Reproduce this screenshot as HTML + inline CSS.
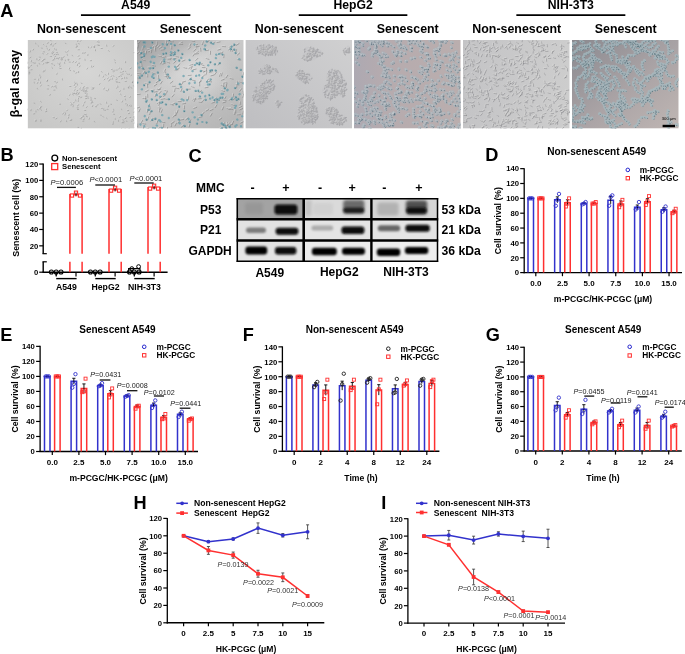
<!DOCTYPE html>
<html><head><meta charset="utf-8"><style>
html,body{margin:0;padding:0;background:#fff;overflow:hidden;}
svg{display:block;filter:blur(0.3px);}
text{font-family:"Liberation Sans",sans-serif;}
</style></head><body>
<svg width="685" height="654" viewBox="0 0 685 654">
<defs>
<radialGradient id="g1" cx="0.55" cy="0.35" r="0.75"><stop offset="0" stop-color="#d6d6d5"/><stop offset="1" stop-color="#c8c8c7"/></radialGradient>
<linearGradient id="g2" x1="0" y1="0" x2="0.8" y2="1"><stop offset="0" stop-color="#9c9c9d"/><stop offset="0.42" stop-color="#cbcbcb"/><stop offset="1" stop-color="#b6b6b6"/></linearGradient><radialGradient id="g2h" cx="0.55" cy="0.4" r="0.35"><stop offset="0" stop-color="#e2e2e2" stop-opacity="0.7"/><stop offset="1" stop-color="#e2e2e2" stop-opacity="0"/></radialGradient>
<linearGradient id="g3" x1="1" y1="0" x2="0" y2="1"><stop offset="0" stop-color="#d0d0d1"/><stop offset="1" stop-color="#bebec1"/></linearGradient>
<linearGradient id="g4" x1="0" y1="0" x2="1" y2="0"><stop offset="0" stop-color="#ada9b2"/><stop offset="0.3" stop-color="#b6abae"/><stop offset="1" stop-color="#baaeae"/></linearGradient>
<linearGradient id="g5" x1="0" y1="0" x2="1" y2="0"><stop offset="0" stop-color="#c4c4c6"/><stop offset="1" stop-color="#cdcdcd"/></linearGradient>
<linearGradient id="g6" x1="0" y1="0" x2="1" y2="1"><stop offset="0" stop-color="#8a898f"/><stop offset="0.55" stop-color="#aba4a6"/><stop offset="1" stop-color="#bfb6b3"/></linearGradient>
<clipPath id="cp"><rect x="0" y="0" width="106.7" height="88.6"/></clipPath>
</defs>
<g transform="translate(27.6,40)" clip-path="url(#cp)"><rect width="106.7" height="88.6" fill="url(#g1)"/><path d="M50 87l1.1 0.5M50.2 50.4l-1.1 0.6M23.5 4.2l-0.9 0.8M80.8 10.4l0.8 0.9M28.2 45.6l0 1.2M23.6 3.6l0.2 1.2M91.9 27.9l-0.6 1.1M16.3 23.5l-0.9 0.7M-10.2 13.5l1.1 0.3M1.1 32.6l1.2 0.1M25 46.4l-1 0.6M49.5 43.9l0.3 1.2M59.9 54l-0.9 0.8M42.1 46.5l1.2 0M97.6 88.7l0.2 1.2M20.2 13.5l-0.8 0.9M87.2 22.1l0.9 0.8M85.1 29.3l-1.2 0.2M28.1 16.6l-1.1 0.4M26.1 50l1.2 0.1M88.4 29.9l1.2 0.1M64.1 25.8l-0.2 1.2M95.5 34l-1.2 0.2M39.4 14.1l0.4 1.1M9.5 69.2l0.9 0.8M78.9 5l0.3 1.2M109.8 88l1.2 0.1M56.5 73.7l0.9 0.8M115.4 85.6l0.2 1.2M51 31.4l0 1.2M108 42.2l0.9 0.8M88.6 37.5l0.9 0.8M37 72.3l0.9 0.8M78.9 62.1l0.2 1.2M97.6 31l0.7 0.9M59.3 47.9l1.2 0.1M93 50.8l-1 0.6M19.8 21.9l-0.2 1.2M47.1 44.5l-0.5 1.1M77.5 34.4l1 0.7M99.5 90.3l-1.2 0M54.2 57.1l-1.1 0.5M66.8 58.2l1.1 0.4M93.6 68.8l0.6 1M45.9 52.2l-0.8 0.9M59.6 66.6l-0.7 0.9M42 74.9l-1.2 0.2M107.5 91.2l0.3 1.2M98.4 78l-1 0.6M111.9 86l-0.6 1M62.1 -2.4l0.7 1M107.1 82.3l-0.3 1.2M14.2 66.7l-1.1 0.4M27.3 14.4l-1.1 0.6M48.6 6.4l0 1.2M99.9 64.6l-0.3 1.2M64.2 49l1.2 0.1M18.4 21.8l0.9 0.8M26.2 12.5l-1 0.7M36.8 22.2l0.3 1.2M37.6 11.6l1 0.6M12.8 67.1l-0.2 1.2M92.9 76.4l-0.7 1M107 78.4l-0.6 1M53.5 88.1l0.5 1.1M-1.5 14l0.2 1.2M84.6 38.2l0 1.2M42.6 54.6l-0.9 0.8M85.4 83.4l-0.1 1.2M37.5 19.8l0.4 1.1M85.5 81.6l0 1.2M83.4 -1.6l1.2 0.1M57 70.3l1.2 0.2M86.8 30.9l-0.7 1M43.7 80.2l-1.2 0.1M51 58.1l-0.3 1.1M102 46l0.4 1.1M14.8 13.2l1 0.6M80.9 33.1l0 1.2M47.6 53.3l-1.2 0.1M47.7 49.5l-0.9 0.8M60.3 14.3l-0.1 1.2M49.3 32.6l-1.1 0.5M92.7 53.9l0.9 0.8M76.1 68.6l-0.1 1.2M7.2 73.7l-1.2 0.2M32.4 22.8l-0.3 1.2M9.1 18.6l0.2 1.2M53 49.6l0.8 0.9M13.1 36.8l-0.2 1.2M70.7 4.6l-1.2 0.2M51.2 56.6l1.2 0M52.9 48l-0.9 0.8M3.3 17.2l-1 0.6M29.6 14.3l-1.1 0.4M64.3 61.7l-0.8 0.9M46.9 53l-1 0.7M13 42l-0.1 1.2M66.2 47.4l-0.2 1.2M57.2 19.1l0.3 1.2M40.1 19.2l1.2 0.2M86.3 30.3l-1.1 0.5M85.6 70.9l-0.3 1.2M12.9 69.5l1 0.7M97 37.1l0 1.2M-6.2 38.7l0.1 1.2M33.1 19l0.5 1.1M24.1 12.8l0.6 1.1M71.7 34.9l-0.1 1.2M36.8 -1.4l-0.5 1.1M57.5 51l-0.4 1.1M101.5 88.5l0.2 1.2M16.2 19.1l1.2 0.1M10.1 5.4l0.9 0.8M49.1 67.8l1 0.6M41.1 77l-0.3 1.2M67.3 6l-1.1 0.5M20.2 40.2l-1 0.7M29.4 17.9l-1 0.7M12.2 19.5l-1 0.7M75.1 76.2l0.8 0.9M16.4 19.7l-1.1 0.6M19.5 -3.4l-0.6 1M79.2 69.1l1.2 0.3M43 79.8l1.2 0.1M73.9 68.3l1.2 0.1M44.1 64l-0.9 0.8M15.5 4.1l0.8 0.8M105.5 80.1l1.1 0.4M114.6 82.6l-0.5 1.1M26.7 8.3l0.6 1.1M62.7 58.9l1.2 0.3M94.8 79.6l1.1 0.6M19.7 40.3l-0.1 1.2M99.1 33.6l1 0.6M104.7 94.5l0.8 0.9M46.6 62.1l-0.7 0.9M10.9 39.1l0.2 1.2M40.3 19.7l0.6 1M1.4 32.8l0.1 1.2M57.6 53.2l1.2 0.1M47.9 59.8l0.4 1.1M48.4 3.8l0.3 1.2M64.3 47.4l1 0.7M102.1 77.2l1.1 0.4M102 73.2l-1.1 0.4M32 24.1l0 1.2M7.7 80.2l1 0.7M55.9 64.9l-0.4 1.1M30 42.2l-1 0.7M70.5 2l1.2 0.1M55 81l1.2 0.1M72.7 74.8l1.1 0.5M40 70l-0.8 0.9M57.7 -1.5l1.1 0.6M102.4 64.9l-0.7 1M13.7 45.1l-0.6 1M55.4 12.4l-0.2 1.2M73.6 31.3l0.9 0.8M21.2 22.4l-1.2 0.1M98.5 77.9l-1 0.7M105.1 41.3l-0.1 1.2M105.6 45.5l0.9 0.8M58.9 49.9l-0.5 1.1M49.4 5.6l0.4 1.1M55.5 47.7l-0.3 1.2M9.4 48l0.6 1M82.6 39.2l-0.5 1.1M22.7 16.3l1.2 0.2M85.6 68.9l0.7 1M4.4 29.7l-1.2 0.1M20.8 2.8l-1.1 0.5M58.7 50.6l0.7 1M1.9 27.6l-1.1 0.5M64.4 61.4l0.7 1M101 70.5l-1.2 0.2M53.4 0.6l-0.8 0.9M34.6 38.8l0.3 1.2M37.6 2.9l0.8 0.9M32.3 28.5l1.2 0M96 31.4l-1.1 0.4M65.9 6.7l1.2 0.1M4 25.4l-1 0.6M58.6 74.4l-1.2 0.1M17.4 30.1l-0.3 1.2M86.5 19.6l1 0.6M0.2 23.1l-1.1 0.5M-7.1 22.3l-1.2 0.1M52.5 25.9l-0.7 1M25.4 5l0 1.2M93.6 28.3l0.4 1.1M56.3 49.6l0.6 1.1M42 29.9l1 0.7M72.4 43.6l-0.6 1M99 37.3l0.3 1.2M106.6 68.1l1 0.7M85.8 74l1.1 0.4M102.8 56.6l-0.6 1M85.7 35.5l0.7 1M98 21.5l0 1.2M30.2 23l0.6 1M-2.1 40.3l-1.1 0.5M51.2 64.9l-1.1 0.4M67.8 66.6l1.2 0.1M55.1 75.4l1 0.7M33.4 17.3l0.6 1M108.3 96.6l-1.2 0M64.2 6.9l-0.9 0.8M111.1 72l0.6 1M58.6 75.6l0.9 0.7M27 18.4l-0.6 1M49.5 52.6l-1 0.6M70.5 64.8l-1.2 0.3M55 50.1l0.6 1.1M83.6 -1.8l-1.1 0.4M48.7 21.7l-0.7 1M1.3 30.9l0.1 1.2M-8.5 18.1l-1.2 0.1M28.3 47.3l0.9 0.8M105.3 78.9l-0.8 0.9M15.7 11.6l1.2 0.3M88.7 59.8l1 0.6M56.9 79l-1.2 0.3M49.7 66.7l0.9 0.7M40.8 10.9l-0.9 0.8M42.1 27.9l-0.4 1.1M103.7 28.1l-1.1 0.6M46.1 30.6l0.5 1.1M60.5 6.7l0.6 1.1M19.4 8.3l0.7 1M70.7 1.2l-1.1 0.5M75.9 36.1l-0.4 1.1M115.1 76l-1.2 0.2M23 54.7l-1.1 0.4M29.7 18.4l1.1 0.5M81 49l-0.2 1.2M12.6 79.7l1.1 0.4M95.1 82.6l1.2 0.1M23.8 23.6l1.2 0.3M28.3 3.4l-1.1 0.5M104.2 34.9l-0.9 0.7M86.5 5.7l-1 0.6M112.6 79l0.6 1.1M57.4 61.8l-0.4 1.1M77.4 39.1l-0.9 0.8M47 42l0.4 1.1M2.9 10.8l-0.3 1.2M47.8 53.7l0.9 0.8M52.6 78.5l1.2 0.3M-1 21.4l0.8 0.9M106.9 76.6l-1.1 0.4M50.3 0.6l-0.2 1.2M19.2 71.4l-1.2 0.3M8.2 70.8l0.2 1.2M107.3 77.3l0.8 0.9M80.8 38l-0.9 0.7M29.3 78.3l-1 0.6M97.6 41.4l1.2 0M60 28.1l-0.6 1M100.9 34l1.2 0.3M20.2 45.3l1.1 0.4M57.8 12.7l-1.1 0.4M19.6 48.8l1.2 0.2M89.8 46l0.9 0.8M107.5 12.6l-1.2 0M90.6 80.1l0.3 1.2M33.9 19.3l1.1 0.4M55.4 76.1l1 0.6M24.2 27.5l0.9 0.8M109.7 87.2l-0.8 0.9M76.8 69.9l1.1 0.4M49.7 53l-1.2 0.3M97.5 58.8l0.4 1.1M58.8 55.7l-1.2 0.1M92.2 36.4l-1.2 0.3M115.2 94.2l0.7 1M42.9 62.4l0.8 0.9M96.2 48.2l0.1 1.2M11.6 16.8l1.1 0.4M111.3 84.7l-0.6 1.1M25.6 77.6l1.2 0.1M50.5 9.7l1.2 0M59.1 58.5l-1.2 0.1M93.9 88.4l0.7 1M25.3 11.2l-0.4 1.1M12.1 34.8l0.2 1.2M62.9 56.9l0.7 1M41.4 21.9l1.2 0.2M89.2 39.6l-1.2 0.3M51 69.4l-1.2 0.1M108.2 93.8l-1.2 0.1M13.6 7.8l1.1 0.4M104.2 41.9l0.9 0.8M76.7 48.1l-0.4 1.1M21.5 -3.2l-1.2 0.1M3.9 20.6l-0.2 1.2M45.9 21.4l-0.7 1M6 9.2l-0.6 1M22.8 0l0.8 0.9M61.7 78.1l-0.2 1.2M44.3 14.9l0.7 1M12.8 61.2l0.9 0.8M91 42.2l1.2 0.3M39.7 58.5l0.8 0.9M63.9 20.6l-1.2 0.1M7.2 22.3l0.2 1.2M51.6 52.5l-0.6 1.1M8.5 80.2l-0.5 1.1M106.1 93.2l-1.2 0.2M9.4 25l0.4 1.1M26.2 24.6l0.7 1M11.3 23.1l0.6 1M66.4 81l0.7 1M56.8 46.7l-1.1 0.6M51.6 15.8l-1.1 0.4M57.2 49.8l0.7 1M30.2 13.8l0.6 1M19 68.8l-0.2 1.2M81.1 65.6l-0.3 1.2M107.8 76.9l-0.4 1.1M44.7 54.2l0.9 0.8M113.6 87.4l1.2 0.1M95.7 91l0.9 0.8M97.8 63.7l1.2 0.3M45.6 65.6l-0.2 1.2M27 41.6l1.2 0.3M-1.8 11.3l1.2 0.3M10.3 42.3l-0.5 1.1M55.3 50.3l0.7 1M36.6 16.7l-1 0.7M0.6 26.8l0 1.2M55 77l-1.1 0.5M6.1 62.8l1.1 0.6M103.4 65.3l0 1.2M36 73.3l-1 0.7M6.5 39l1.2 0.3M59.3 56.4l-1.2 0.2M72.4 63.6l1 0.6M66.2 26.2l-0.9 0.8M71.9 5.4l-1.2 0.1M64.5 62.7l-1 0.6M103.5 47.3l0.6 1M78.5 50.4l1.1 0.4M94.7 81.6l-0.1 1.2M26.3 19.9l-1.2 0.3M100.1 46.7l0.7 1M52.5 18.5l-1.1 0.4M82.9 63.9l1.1 0.5M29.8 12.5l-1.2 0.3M17.8 22.7l1.2 0.1M98.6 80.6l0.7 1M45.2 64.6l-1.1 0.4M107.9 86.9l-1 0.7M96.5 81.7l-1.1 0.3M27.3 46.1l-1.1 0.6M59.5 47.3l-0.8 0.9M50.8 53.9l-0.7 1M59.7 57.7l1 0.6M100.8 47l0.3 1.2M88.2 41.6l1.1 0.6M84 35.9l-0.7 0.9M89.7 47.2l-0.6 1M58.7 76l0.8 0.9M63.1 60.2l1.2 0.2M49.1 43.2l-1.2 0.1M109.5 74.3l-1 0.7M3.5 69.5l-0.2 1.2M106.6 71.4l-0.2 1.2M56.3 49l-1.1 0.5M50.5 60.2l0.2 1.2M107 94.3l0.4 1.1M107.2 81.7l0.6 1M53.6 42.8l0.8 0.9M50.8 23.1l1.2 0.1M33.5 80.8l-0.5 1.1M13 80.4l0.3 1.2M29.5 33.2l-0.3 1.2M31.8 64l1.2 0.2M7.8 2.9l0.5 1.1M50.6 3.4l1.1 0.5M5.2 22.4l1.1 0.5M66.2 6.8l0.8 0.9M48.5 46.7l-1 0.6M6.3 41.9l0.4 1.1M38.7 80.6l0.4 1.1M65.2 65.5l-0.4 1.1M59.9 56.1l0.9 0.8M73.5 8.5l1.2 0M49.9 24.3l-0.1 1.2M34.3 17.4l0 1.2M95 61l-0.5 1.1M28.4 9l0.2 1.2M-1.4 10.6l-0.7 1M12.6 68.2l-0.8 0.9M57.5 51.8l0.9 0.8M56.7 -2l0 1.2M67.8 9.6l0.1 1.2M78.6 77.7l0.9 0.8M87.4 78.2l0.3 1.2M37.6 73.8l-0.2 1.2M98 56.2l-1.1 0.3M97.5 90.6l-1.2 0.3M103.5 80.7l0.8 0.9M21.9 9.3l-0.5 1.1M110.5 82.1l1.2 0.2M88.8 41.6l1.2 0.3M15.6 30.8l0 1.2M68.1 -3.9l-1.1 0.5M92.6 32.1l1.1 0.6M81.8 40.2l-0.9 0.8M32.1 17.7l-1.1 0.4M93 35.2l0.7 1M55.7 -4.4l-0.7 1M26.7 -3.5l-1.1 0.5M18.4 5.8l0.5 1.1M32.8 26.1l-0.7 1M108.7 80.7l-0.8 0.9M-0.1 69.1l-0.4 1.1M15.4 20.8l-1.1 0.5M94.9 38.5l-1.1 0.4" stroke="#8c8c8c" stroke-width="0.9" stroke-linecap="round" fill="none" stroke-opacity="0.6"/><path d="M49.3 86.3l0.9 0.4M49.4 49.7l-0.9 0.5M22.7 3.5l-0.7 0.7M80.2 9.7l0.7 0.7M27.5 45l0 1M22.9 3l0.2 1M91.2 27.3l-0.5 0.9M15.5 22.9l-0.8 0.6M-10.8 12.8l1 0.3M0.5 32l1 0.1M24.2 45.7l-0.9 0.5M48.8 43.3l0.2 1M59.1 53.3l-0.7 0.7M41.5 45.8l1 0M97 88.1l0.2 1M19.5 12.9l-0.6 0.8M86.5 21.4l0.8 0.7M84.3 28.6l-1 0.2M27.3 15.9l-1 0.3M25.5 49.3l1 0.1M87.8 29.2l1 0.1M63.4 25.2l-0.1 1M94.7 33.3l-1 0.2M38.7 13.5l0.4 0.9M8.9 68.5l0.8 0.6M78.2 4.4l0.2 1M109.2 87.3l1 0.1M55.9 73l0.8 0.6M114.7 85l0.2 1M50.3 30.8l0 1M107.4 41.6l0.7 0.7M87.9 36.9l0.7 0.7M36.4 71.6l0.8 0.6M78.2 61.5l0.1 1M97 30.4l0.6 0.8M58.7 47.2l1 0.1M92.2 50.2l-0.9 0.5M19.1 21.3l-0.2 1M46.4 43.9l-0.4 0.9M76.9 33.8l0.8 0.6M98.7 89.6l-1 0M53.4 56.5l-0.9 0.4M66.2 57.5l0.9 0.4M93 68.2l0.5 0.9M45.2 51.5l-0.6 0.8M58.8 65.9l-0.6 0.8M41.2 74.2l-1 0.2M106.8 90.6l0.2 1M97.6 77.4l-0.9 0.5M111.2 85.3l-0.5 0.9M61.5 -3l0.6 0.8M106.3 81.7l-0.3 1M13.4 66l-0.9 0.4M26.5 13.7l-0.9 0.5M47.9 5.8l0 1M99.2 64l-0.3 1M63.6 48.3l1 0.1M17.8 21.2l0.7 0.7M25.4 11.8l-0.8 0.6M36.1 21.6l0.3 1M37 10.9l0.9 0.5M12.1 66.5l-0.2 1M92.2 75.7l-0.6 0.8M106.3 77.8l-0.5 0.9M52.9 87.5l0.4 0.9M-2.1 13.4l0.2 1M83.9 37.6l0 1M41.8 54l-0.8 0.6M84.7 82.8l-0.1 1M36.9 19.2l0.3 0.9M84.8 81l0 1M82.8 -2.3l1 0.1M56.4 69.6l1 0.1M86.1 30.3l-0.6 0.8M42.9 79.5l-1 0.1M50.3 57.5l-0.3 1M101.3 45.4l0.3 0.9M14.2 12.6l0.9 0.5M80.2 32.5l0 1M46.8 52.6l-1 0.1M46.9 48.8l-0.8 0.7M59.6 13.7l-0.1 1M48.5 31.9l-0.9 0.4M92.1 53.3l0.7 0.7M75.4 68l0 1M6.4 73l-1 0.1M31.7 22.2l-0.2 1M8.4 18l0.1 1M52.4 49l0.7 0.7M12.4 36.2l-0.2 1M69.9 3.9l-1 0.1M50.6 55.9l1 0M52.2 47.4l-0.8 0.6M2.5 16.6l-0.8 0.5M28.8 13.7l-0.9 0.4M63.5 61l-0.7 0.7M46.1 52.4l-0.8 0.6M12.3 41.4l-0.1 1M65.5 46.8l-0.2 1M56.5 18.5l0.2 1M39.5 18.5l1 0.2M85.5 29.6l-0.9 0.4M84.8 70.3l-0.2 1M12.3 68.8l0.8 0.6M96.3 36.5l0 1M-6.9 38.1l0 1M32.4 18.4l0.4 0.9M23.5 12.2l0.5 0.9M71 34.3l-0.1 1M36 -2.1l-0.4 0.9M56.8 50.4l-0.3 0.9M100.8 87.9l0.1 1M15.6 18.4l1 0.1M9.4 4.8l0.8 0.7M48.5 67.1l0.8 0.5M40.4 76.4l-0.3 1M66.5 5.4l-0.9 0.4M19.4 39.6l-0.8 0.6M28.6 17.3l-0.8 0.6M11.4 18.8l-0.8 0.5M74.5 75.6l0.7 0.7M15.6 19.1l-0.9 0.5M18.8 -4l-0.5 0.9M78.6 68.5l1 0.3M42.4 79.1l1 0.1M73.3 67.6l1 0M43.3 63.3l-0.7 0.7M14.9 3.5l0.7 0.7M104.9 79.5l0.9 0.3M113.8 82l-0.4 0.9M26 7.7l0.5 0.9M62.1 58.2l1 0.2M94.2 78.9l0.9 0.5M19 39.7l-0.1 1M98.5 32.9l0.9 0.5M104.1 93.9l0.7 0.8M45.8 61.5l-0.6 0.8M10.2 38.5l0.1 1M39.6 19.1l0.5 0.8M0.7 32.2l0.1 1M57 52.5l1 0.1M47.2 59.2l0.3 0.9M47.7 3.2l0.2 1M63.6 46.8l0.8 0.6M101.5 76.5l0.9 0.3M101.2 72.5l-1 0.3M31.3 23.5l0 1M7.1 79.6l0.8 0.6M55.1 64.3l-0.3 0.9M29.2 41.6l-0.8 0.5M69.9 1.4l1 0.1M54.4 80.3l1 0.1M72.1 74.2l0.9 0.4M39.2 69.3l-0.6 0.8M57.1 -2.2l0.9 0.5M101.6 64.3l-0.6 0.8M13 44.5l-0.5 0.8M54.6 11.8l-0.1 1M73 30.6l0.8 0.6M20.4 21.7l-1 0.1M97.8 77.2l-0.8 0.6M104.4 40.7l-0.1 1M104.9 44.8l0.8 0.6M58.2 49.2l-0.4 0.9M48.8 5l0.3 0.9M54.8 47.1l-0.2 1M8.8 47.4l0.5 0.8M81.9 38.6l-0.4 0.9M22.1 15.6l1 0.2M85 68.3l0.6 0.8M3.6 29l-1 0.1M20 2.1l-0.9 0.4M58 50l0.6 0.8M1.1 26.9l-0.9 0.4M63.8 60.8l0.6 0.8M100.2 69.8l-1 0.2M52.6 0l-0.7 0.7M33.9 38.2l0.3 1M36.9 2.2l0.7 0.7M31.7 27.8l1 0M95.2 30.8l-0.9 0.4M65.3 6.1l1 0.1M3.2 24.7l-0.8 0.5M57.8 73.7l-1 0.1M16.6 29.5l-0.2 1M85.8 19l0.9 0.5M-0.6 22.4l-0.9 0.4M-7.9 21.6l-1 0.1M51.7 25.3l-0.6 0.8M24.7 4.4l0 1M92.9 27.7l0.4 0.9M55.6 49l0.5 0.9M41.3 29.3l0.8 0.6M71.7 43l-0.5 0.9M98.3 36.7l0.2 1M106 67.5l0.8 0.6M85.2 73.4l0.9 0.3M102.1 55.9l-0.5 0.9M85.1 34.9l0.6 0.8M97.3 20.9l0 1M29.5 22.3l0.5 0.9M-2.9 39.6l-0.9 0.4M50.4 64.2l-1 0.3M67.2 65.9l1 0.1M54.5 74.7l0.8 0.6M32.7 16.7l0.5 0.9M107.5 95.9l-1 0M63.4 6.3l-0.8 0.6M110.4 71.4l0.5 0.9M58 75l0.8 0.6M26.2 17.8l-0.5 0.9M48.7 51.9l-0.9 0.5M69.7 64.2l-1 0.2M54.3 49.5l0.5 0.9M82.8 -2.4l-0.9 0.4M47.9 21.1l-0.6 0.8M0.6 30.3l0 1M-9.3 17.4l-1 0M27.7 46.7l0.7 0.7M104.6 78.2l-0.7 0.8M15.1 10.9l1 0.3M88.1 59.2l0.9 0.5M56.1 78.3l-1 0.3M49.1 66.1l0.8 0.6M40 10.2l-0.7 0.7M41.4 27.3l-0.3 1M102.9 27.4l-0.9 0.5M45.4 30l0.4 0.9M59.8 6.1l0.5 0.9M18.7 7.7l0.6 0.8M69.9 0.5l-0.9 0.4M75.2 35.5l-0.3 0.9M114.3 75.3l-1 0.1M22.2 54.1l-0.9 0.3M29.1 17.7l0.9 0.4M80.3 48.4l-0.2 1M12 79l0.9 0.3M94.5 81.9l1 0.1M23.2 22.9l1 0.2M27.5 2.7l-0.9 0.4M103.5 34.3l-0.8 0.6M85.7 5l-0.9 0.5M112 78.3l0.5 0.9M56.6 61.2l-0.4 0.9M76.6 38.4l-0.8 0.6M46.4 41.3l0.4 0.9M2.2 10.2l-0.2 1M47.2 53.1l0.8 0.6M52 77.8l1 0.3M-1.7 20.8l0.7 0.7M106.1 75.9l-0.9 0.3M49.6 0l-0.2 1M18.4 70.7l-1 0.2M7.5 70.2l0.1 1M106.7 76.7l0.6 0.8M80 37.3l-0.8 0.6M28.5 77.6l-0.9 0.5M97 40.7l1 0M59.3 27.4l-0.5 0.9M100.3 33.3l1 0.3M19.6 44.6l0.9 0.4M57 12l-0.9 0.4M19 48.1l1 0.1M89.2 45.4l0.7 0.7M106.7 11.9l-1 0M89.9 79.5l0.2 1M33.3 18.7l0.9 0.4M54.8 75.5l0.9 0.5M23.6 26.9l0.7 0.7M109 86.6l-0.7 0.7M76.2 69.3l0.9 0.3M48.9 52.4l-1 0.3M96.8 58.1l0.4 0.9M58 55l-1 0.1M91.4 35.7l-1 0.3M114.5 93.6l0.6 0.8M42.2 61.8l0.7 0.7M95.5 47.6l0.1 1M11 16.1l1 0.3M110.6 84.1l-0.5 0.9M25 76.9l1 0.1M49.9 9l1 0M58.3 57.8l-1 0.1M93.2 87.8l0.6 0.8M24.6 10.6l-0.3 1M11.4 34.2l0.2 1M62.3 56.2l0.6 0.8M40.8 21.2l1 0.2M88.4 39l-1 0.3M50.2 68.7l-1 0.1M107.4 93.1l-1 0.1M13 7.1l0.9 0.3M103.5 41.2l0.8 0.6M75.9 47.5l-0.4 0.9M20.7 -3.9l-1 0.1M3.1 20l-0.1 1M45.2 20.8l-0.6 0.8M5.2 8.6l-0.5 0.9M22.2 -0.6l0.7 0.7M61 77.5l-0.1 1M43.7 14.2l0.6 0.8M12.2 60.5l0.7 0.7M90.4 41.6l1 0.3M39.1 57.9l0.6 0.8M63.1 19.9l-1 0.1M6.5 21.7l0.2 1M50.8 51.9l-0.5 0.9M7.7 79.6l-0.4 0.9M105.3 92.5l-1 0.2M8.8 24.4l0.3 0.9M25.6 24l0.6 0.8M10.6 22.5l0.5 0.9M65.7 80.4l0.5 0.8M56 46.1l-0.9 0.5M50.8 15.1l-0.9 0.3M56.5 49.2l0.6 0.8M29.6 13.2l0.5 0.9M18.3 68.2l-0.1 1M80.4 65l-0.2 1M107 76.3l-0.3 1M44 53.6l0.7 0.7M113 86.7l1 0.1M95.1 90.4l0.7 0.7M97.2 63l1 0.2M44.9 65l-0.2 1M26.4 40.9l1 0.2M-2.4 10.7l1 0.2M9.6 41.7l-0.4 0.9M54.7 49.7l0.6 0.8M35.8 16.1l-0.8 0.6M-0.1 26.2l0 1M54.2 76.4l-0.9 0.4M5.5 62.2l0.9 0.5M102.7 64.7l0 1M35.3 72.7l-0.8 0.6M5.9 38.3l1 0.2M58.5 55.7l-1 0.2M71.8 62.9l0.9 0.5M65.4 25.5l-0.8 0.6M71.1 4.7l-1 0M63.7 62l-0.8 0.5M102.9 46.7l0.5 0.8M77.9 49.8l0.9 0.3M94 81l0 1M25.5 19.2l-1 0.3M99.5 46l0.6 0.8M51.7 17.9l-0.9 0.3M82.3 63.2l0.9 0.4M29 11.8l-1 0.3M17.2 22.1l1 0.1M97.9 79.9l0.5 0.8M44.4 63.9l-1 0.3M107.1 86.2l-0.8 0.6M95.7 81.1l-1 0.3M26.5 45.5l-0.9 0.5M58.7 46.6l-0.7 0.7M50 53.3l-0.6 0.8M59.1 57.1l0.8 0.5M100.1 46.4l0.2 1M87.6 41l0.9 0.5M83.3 35.3l-0.6 0.8M89 46.6l-0.5 0.9M58.1 75.4l0.7 0.7M62.5 59.5l1 0.2M48.3 42.5l-1 0.1M108.8 73.6l-0.8 0.6M2.7 68.9l-0.2 1M105.9 70.8l-0.1 1M55.6 48.3l-0.9 0.5M49.9 59.6l0.1 1M106.3 93.7l0.3 0.9M106.5 81.1l0.5 0.9M53 42.2l0.7 0.7M50.2 22.4l1 0.1M32.8 80.2l-0.4 0.9M12.4 79.8l0.3 1M28.8 32.6l-0.2 1M31.2 63.3l1 0.2M7.1 2.3l0.4 0.9M49.9 2.7l0.9 0.4M4.6 21.7l0.9 0.4M65.6 6.1l0.7 0.7M47.7 46l-0.9 0.5M5.6 41.3l0.3 0.9M38.1 80l0.3 1M64.5 64.9l-0.3 0.9M59.3 55.5l0.7 0.7M72.9 7.8l1 0M49.2 23.7l-0.1 1M33.6 16.8l0 1M94.2 60.4l-0.5 0.9M27.7 8.4l0.2 1M-2.1 10l-0.6 0.8M11.8 67.6l-0.7 0.7M56.9 51.1l0.7 0.7M56 -2.6l0 1M67.1 9l0.1 1M78 77.1l0.8 0.6M86.8 77.6l0.3 1M36.9 73.2l-0.2 1M97.2 55.5l-1 0.3M96.7 90l-1 0.3M102.8 80l0.6 0.8M21.2 8.7l-0.4 0.9M109.9 81.4l1 0.2M88.2 40.9l1 0.2M14.9 30.2l0 1M67.3 -4.6l-0.9 0.4M92 31.5l0.9 0.5M81 39.6l-0.7 0.7M31.3 17l-0.9 0.4M92.3 34.6l0.6 0.8M54.9 -5l-0.6 0.8M25.9 -4.2l-0.9 0.5M17.7 5.2l0.4 0.9M32 25.5l-0.6 0.8M107.9 80l-0.7 0.7M-0.8 68.5l-0.3 1M14.6 20.1l-0.9 0.4M94.1 37.8l-0.9 0.3" stroke="#e6e6e6" stroke-width="0.8" stroke-linecap="round" fill="none" stroke-opacity="0.45"/></g>
<g transform="translate(137,40)" clip-path="url(#cp)"><rect width="106.7" height="88.6" fill="url(#g2)"/><rect width="106.7" height="88.6" fill="url(#g2h)"/><path d="M18 79.2l-2.8 -1.1M30.6 51.3l-2.8 -1M29.5 34.3l0.1 3M34.7 6l0 3M23.3 49.4l-3 -0.3M61.5 13.6l-3 0.4M2.6 67.3l-2.9 0.8M72.6 -0.6l-1.5 2.6M37.6 12.1l-2.8 1.2M85.9 87.6l-2.8 1.2M45.3 2.5l-2.7 1.3M38.1 48.5l-0.5 3M60.9 18.3l-2.1 2.1M67.1 72.5l-1.9 2.3M28.8 16.8l-3 0.5M32.7 23.1l-2.7 -1.3M87.7 51.5l-2.8 -1M102 3.7l-2.6 1.6M92.9 83l-2.2 2.1M58.5 58.8l-1.2 2.7M29.1 1l0.3 3M59.5 4.4l0.3 3M51.2 77.9l-2.3 2M7.9 31.4l-1.5 2.6M83.1 22.6l-1.9 2.4M28 82.6l-2.9 -0.7M54.4 26.8l-2.5 1.7M58.4 58.6l-2.6 1.5M86.5 67l-1 2.8M100.1 41.6l0.4 3M90.7 35.3l-1.6 2.6M96.5 54.1l-0.4 3M2.6 12l-2.4 1.7M36.2 65.2l-2.7 -1.3M55.8 24.5l-2.9 0.8M106.6 54.4l-0.7 2.9M49.8 28.3l-2.9 -0.7M9 58.3l-3 0M65.2 23.6l-3 0.4M24.6 16.7l-2.9 -0.8M6.9 11.8l-3 0.2M34.3 18.6l-3 0M38.3 12.9l-1.7 2.5M41.5 17.1l-2.7 -1.2M4.1 36.3l-2.8 -1.1M6.2 7.3l-0.5 2.9M103.3 74.6l-3 0.2M83.1 1.9l-3 0.5M20.1 5.2l-2.2 2M64.5 50.8l-2.5 1.6M35.8 41.4l-2.4 1.8M101.9 45l-2.9 -0.9M84.8 78.1l-2.4 1.8M88.5 6.7l-3 -0.3M42.8 80.7l-1.7 2.5M95.9 69.6l-2.9 -0.6M57.8 1.6l-2.9 -0.7M79.4 58l-2.2 2M98.9 4.5l-2.6 1.4M67.6 31.3l-2.9 -0.8M48.7 63.4l-3 0.4M46.8 85.3l-2.3 1.9M99.5 9.7l-0.9 2.9M79.9 65l-1.6 2.6M48.4 41.4l-2.9 0.6M89.9 43.3l-0.6 2.9M41.9 48.7l-2.9 -0.8M5.5 80.5l-1.2 2.7M58.2 40.8l-2.9 -0.8M31.4 3.1l-1.5 2.6M7.6 29.7l-2.8 -1.1M59.1 29.1l-2.9 0.6M28.9 54.6l-2.4 1.8M21.7 41l-2.5 1.7M60.6 4.5l-2.9 0.9M105 66.4l-2.7 1.3M96.8 8.9l-1.5 2.6M20.7 80.8l-0.8 2.9M85.9 12.1l-2.4 1.7M14 10l-2.9 -0.9M28.6 23l-2.8 1.1M20.1 2.2l0 3M38.4 46.3l-3 -0.2M39 18.5l-3 0.4M3.3 38.5l-2.9 -0.8M52.9 84.1l-0.7 2.9M27.3 9.7l-3 0.3M47.3 65.9l0.1 3M95.3 6.3l-2.9 0.9M54 3.9l-1.3 2.7M93.7 85.1l-1 2.8M8.8 84.1l-2.9 -0.6M87 14.7l-0.2 3M37.2 81.8l-2.5 1.7M103.8 20l-3 -0.4M31.7 35.8l-1.1 2.8M66.3 1.7l-0.9 2.9M74.6 41.9l-2.9 -0.6M53.6 7.1l-2.1 2.2M71.1 47.3l-3 0.5M34 83.7l0.3 3M104.7 48.7l-1.8 2.4M106.8 32.4l-0.6 2.9M88.9 62l-2.9 0.8M90.5 82.7l0 3M72 19.4l-2.8 -1.1M22.5 66.8l0.3 3M20.1 51.6l-3 0.4M4.6 23.5l0.4 3M28.5 29.4l-1.1 2.8M68.3 27.6l-3 -0.1M1.5 5l-0.5 3M22.6 62.5l-0.7 2.9M94.7 68.2l-2.9 0.7M22.7 5.5l-1.9 2.3M28.6 32l0.2 3M67.1 25.7l-2.7 -1.3M14.9 9.8l-0.5 3M10.4 44.4l0.3 3M45.8 42.7l-1.7 2.5M14.3 10.7l-2.8 1.1M95.4 84.5l-3 0.3M8.8 56.3l-0.2 3M25.2 41.4l-1.6 2.5M21.4 35.5l0.3 3M25 56l-2.2 2.1M41 29.8l-3 0.2M64.2 58.5l-3 0.3M30.4 59.3l-2.9 -0.7M3.2 54.3l-3 0.2M3.4 33.8l-3 -0.5M65.1 76.8l-2.9 0.6M42.9 24l-2.3 1.9M11.7 76.9l-1 2.8M83.8 9.2l-2.9 0.9M71.3 39.2l-1.5 2.6M22.8 68.9l-0.2 3M3.2 2l-2.2 2.1M64.8 62.4l-2.9 -0.5M106.1 71.1l-0.3 3M94.9 58.9l-2.7 1.3M17.9 5.6l-1.9 2.3M19.8 44.3l-2.5 1.7M51.7 56.6l-0.4 3M8.2 20.6l-2.8 -1.1M3.2 69l-1.2 2.8M48 20.1l-2.8 1.2M59.1 9l-2.1 2.2M6.3 87.4l0.4 3M71.7 69.6l-2.6 1.5M100 44.7l-0.4 3M62.6 42.9l0.1 3M88.8 44.5l0.3 3M10.9 69.3l-0.5 2.9M0.8 83.8l-0.1 3M76 69.5l-2.8 1M98.3 58.2l-2.4 1.8M105.2 42.9l-2.7 -1.2M96.1 39.2l-2.9 -0.9M18.3 33.9l-2.7 -1.3M39.9 72.7l-1 2.8M95.5 9l-2.2 2.1M45 48.7l-1.1 2.8M105.7 68.5l-2.7 1.3M11.8 88.3l-2.8 1.1M62 6.4l-3 -0.1M27.2 58.8l-3 0.5M55.3 26.3l-1.2 2.8M39 21l-2.1 2.2M64.6 40.8l-2.5 1.7M105.7 51l0.5 3M18.4 8.1l0.3 3M16 78.8l-2 2.2M86.9 43.5l-0.2 3M17.2 50.1l-3 0.4M19.4 53.7l-1.1 2.8M103.2 62l-0.1 3M13.4 71.7l-0.7 2.9M25.3 69.6l-1 2.8M12.5 64.2l-0.9 2.9M41.8 25.6l-2.5 1.7M67.5 35.2l-2.3 2M53.7 79.9l-1.5 2.6M59.7 67.4l-2.8 1M83.5 33.4l-0.9 2.9M33.8 19.7l-2.9 -0.8M59 59.1l-2.8 -1.1M46.6 79.5l-3 0.4M23.1 87.3l-2.1 2.1M61.3 11.7l-2.4 1.7M106.4 81.8l-2.7 1.3M10.6 54.3l0.2 3M29.9 52.4l-2 2.2M25.1 7l-2.5 1.7M85.2 33l-0.7 2.9M69.6 28.4l-0.1 3M14.3 28l-3 -0.1M57.9 13.6l-1.8 2.4M42.4 28.1l-2.5 1.7M89.1 60.6l-2.9 -0.8M77.8 2.6l-2.8 1.2M39.4 83.3l-1.3 2.7M57.2 47.6l-2.7 -1.2M79.5 32.2l-1.8 2.4M63.5 8.2l0.4 3M75.2 31.7l-2.9 0.7M26.7 84.2l-0.2 3M75.1 73.5l-1.4 2.6M24.2 68.1l-3 -0.3M7.8 16.2l-2.9 0.8M12.7 66.1l0.4 3M38.2 75.2l-2.2 2M24.1 51.5l-2 2.2M87.7 83l-2.3 1.9M69.8 32l-0.9 2.9M11.3 50.4l-2.7 1.3M10.7 34l0 3M25 21.2l-1.3 2.7M4.7 12.4l-1.8 2.4M18.4 26.1l-2.9 -0.9M30.5 87.4l0 3M54.2 35.2l-3 0.2M9.7 11.2l-0.7 2.9M38 63.2l-2.7 1.4M67.1 59.7l-1.9 2.3M24 47.8l-2.3 2M89.7 42.7l-3 0.3M37.1 54.6l-1.9 2.3M98 71.6l-0.3 3M18.9 6.3l-0.3 3M73.5 11.3l0 3M82.6 60.5l-3 -0.4M87.3 39.3l-2.8 1M97.5 65.4l-2.8 -1.1M91 84.8l-2.9 0.6M38.2 72.5l0.3 3M77.8 62.2l-2.9 0.9M44.2 61.5l-3 0.1M71.5 10.2l-3 0.4M94.2 8l-2.4 1.8M35.8 11.5l-1.7 2.4M102.6 13.1l-2.2 2M31.1 36.5l-3 0M96.6 81.4l-1.2 2.7M23 61.8l-2.5 1.7M54.3 38.1l-2.3 1.9M87 46.2l-2.8 -1.1M53.2 49.1l-3 -0.1M93 69.3l-2.9 -0.9M36.4 1.8l-3 -0.3M88.9 56.7l-1.4 2.7M41.1 70.1l-1 2.8M74.5 39.5l-2.4 1.9M63.8 39.9l-1.2 2.8M83.6 12.4l-2.1 2.2M76.9 35.1l-2.9 0.7M11.4 44.1l-2.9 -0.8M69.2 30.8l-2.7 1.3M45.7 4.4l-3 -0.2M98.8 70l-0.1 3" stroke="#7a7a7a" stroke-width="1.0" stroke-linecap="round" fill="none" stroke-opacity="0.55"/><path d="M17 78.4l-2.4 -0.9M29.6 50.4l-2.4 -0.9M28.7 33.7l0.1 2.6M33.9 5.4l0 2.6M22.3 48.5l-2.6 -0.3M60.5 12.8l-2.6 0.3M1.6 66.6l-2.5 0.7M71.7 -1.2l-1.3 2.3M36.6 11.4l-2.4 1M84.9 86.9l-2.4 1M44.3 1.8l-2.3 1.2M37.3 47.9l-0.5 2.6M59.9 17.7l-1.8 1.9M66.2 71.8l-1.7 2M27.8 16.1l-2.6 0.4M31.8 22.2l-2.3 -1.1M86.7 50.6l-2.4 -0.9M101 3l-2.2 1.3M92 82.4l-1.9 1.8M57.6 58.2l-1.1 2.4M28.3 0.4l0.2 2.6M58.7 3.8l0.3 2.6M50.2 77.2l-2 1.7M7 30.7l-1.3 2.2M82.2 22l-1.6 2M27 81.7l-2.5 -0.6M53.4 26.1l-2.2 1.4M57.4 57.9l-2.3 1.3M85.6 66.4l-0.9 2.4M99.3 41l0.3 2.6M89.8 34.6l-1.3 2.2M95.6 53.5l-0.3 2.6M1.6 11.3l-2.1 1.5M35.2 64.3l-2.3 -1.1M54.8 23.7l-2.5 0.7M105.7 53.8l-0.6 2.5M48.8 27.5l-2.5 -0.6M8 57.4l-2.6 0M64.2 22.8l-2.6 0.3M23.6 15.8l-2.5 -0.7M5.9 11.1l-2.6 0.2M33.3 17.8l-2.6 0M37.4 12.3l-1.5 2.1M40.5 16.2l-2.4 -1.1M3.1 35.4l-2.4 -1M5.4 6.7l-0.5 2.6M102.3 73.9l-2.6 0.2M82.1 1.2l-2.6 0.4M19.1 4.6l-1.9 1.7M63.5 50.1l-2.2 1.4M34.9 40.7l-2 1.6M101 44.2l-2.5 -0.8M83.9 77.4l-2.1 1.6M87.5 5.9l-2.6 -0.2M41.9 80.1l-1.5 2.1M94.9 68.7l-2.5 -0.5M56.8 0.7l-2.5 -0.6M78.4 57.4l-1.9 1.7M97.9 3.8l-2.3 1.2M66.6 30.4l-2.5 -0.7M47.7 62.7l-2.6 0.4M45.8 84.6l-2 1.6M98.6 9.1l-0.8 2.5M79 64.4l-1.3 2.2M47.4 40.7l-2.5 0.5M89.1 42.7l-0.5 2.6M40.9 47.8l-2.5 -0.7M4.6 79.9l-1.1 2.4M57.2 39.9l-2.5 -0.7M30.5 2.5l-1.3 2.3M6.6 28.8l-2.4 -0.9M58.1 28.4l-2.6 0.5M27.9 54l-2.1 1.5M20.7 40.4l-2.1 1.5M59.7 3.8l-2.5 0.8M104 65.7l-2.3 1.1M95.9 8.3l-1.3 2.3M19.9 80.2l-0.7 2.5M84.9 11.4l-2.1 1.5M13 9.2l-2.5 -0.8M27.6 22.2l-2.4 0.9M19.3 1.6l0 2.6M37.4 45.5l-2.6 -0.2M38.1 17.7l-2.6 0.4M2.3 37.7l-2.5 -0.7M52.1 83.5l-0.6 2.5M26.3 8.9l-2.6 0.3M46.5 65.3l0.1 2.6M94.3 5.6l-2.5 0.8M53.1 3.3l-1.1 2.4M92.8 84.5l-0.8 2.5M7.8 83.2l-2.6 -0.5M86.2 14.1l-0.2 2.6M36.2 81.1l-2.2 1.5M102.8 19.2l-2.6 -0.4M30.8 35.2l-0.9 2.4M65.5 1.1l-0.7 2.5M73.6 41.1l-2.6 -0.5M52.6 6.4l-1.8 1.9M70.1 46.5l-2.6 0.4M33.2 83l0.3 2.6M103.8 48.1l-1.5 2.1M105.9 31.8l-0.5 2.5M87.9 61.2l-2.5 0.7M89.7 82.1l0 2.6M71 18.5l-2.4 -0.9M21.8 66.2l0.3 2.6M19.1 50.8l-2.6 0.4M3.8 22.9l0.3 2.6M27.6 28.8l-1 2.4M67.3 26.8l-2.6 -0.1M0.6 4.4l-0.5 2.6M21.8 61.9l-0.6 2.5M93.7 67.5l-2.5 0.6M21.7 4.9l-1.6 2M27.8 31.4l0.2 2.6M66.1 24.8l-2.4 -1.1M14 9.2l-0.4 2.6M9.6 43.8l0.2 2.6M44.9 42.1l-1.4 2.2M13.3 10l-2.4 1M94.4 83.8l-2.6 0.3M8 55.7l-0.2 2.6M24.3 40.8l-1.4 2.2M20.6 34.9l0.3 2.6M24 55.3l-1.9 1.8M40 29l-2.6 0.1M63.2 57.7l-2.6 0.3M29.4 58.5l-2.5 -0.6M2.2 53.5l-2.6 0.2M2.4 33l-2.6 -0.4M64.1 76.1l-2.6 0.5M42 23.4l-2 1.7M10.9 76.3l-0.8 2.5M82.9 8.4l-2.5 0.7M70.4 38.6l-1.3 2.2M21.9 68.3l-0.1 2.6M2.2 1.3l-1.9 1.8M63.8 61.6l-2.6 -0.5M105.3 70.5l-0.3 2.6M93.9 58.2l-2.3 1.1M17 5l-1.7 2M18.8 43.6l-2.1 1.5M50.9 56l-0.4 2.6M7.3 19.7l-2.4 -0.9M2.3 68.3l-1 2.4M47 19.4l-2.4 1M58.2 8.3l-1.8 1.9M5.5 86.8l0.3 2.6M70.7 68.9l-2.3 1.3M99.2 44.1l-0.4 2.6M61.8 42.3l0.1 2.6M88 43.9l0.3 2.6M10 68.7l-0.5 2.6M0 83.2l-0.1 2.6M75 68.8l-2.4 0.9M97.3 57.6l-2.1 1.5M104.2 42.1l-2.4 -1.1M95.1 38.3l-2.5 -0.8M17.3 33l-2.3 -1.1M39.1 72.1l-0.9 2.5M94.6 8.3l-1.9 1.8M44.1 48.1l-1 2.4M104.7 67.8l-2.4 1.1M10.8 87.6l-2.4 0.9M61 5.6l-2.6 0M26.2 58l-2.6 0.5M54.4 25.7l-1 2.4M38.1 20.4l-1.8 1.9M63.7 40.2l-2.2 1.4M105 50.4l0.4 2.6M17.6 7.5l0.2 2.6M15.1 78.2l-1.7 1.9M86 42.9l-0.2 2.6M16.2 49.4l-2.6 0.4M18.5 53.1l-0.9 2.4M102.4 61.4l-0.1 2.6M12.5 71.1l-0.6 2.5M24.4 68.9l-0.9 2.5M11.6 63.6l-0.8 2.5M40.8 24.9l-2.2 1.5M66.5 34.6l-2 1.7M52.8 79.2l-1.3 2.3M58.7 66.7l-2.5 0.8M82.7 32.8l-0.8 2.5M32.8 18.9l-2.5 -0.7M58 58.3l-2.4 -1M45.6 78.7l-2.6 0.4M22.2 86.6l-1.8 1.8M60.4 11l-2.1 1.5M105.4 81.1l-2.3 1.2M9.8 53.7l0.2 2.6M29 51.7l-1.8 1.9M24.1 6.3l-2.2 1.4M84.3 32.4l-0.6 2.5M68.8 27.8l-0.1 2.6M13.3 27.1l-2.6 -0.1M57 13l-1.5 2.1M41.4 27.4l-2.1 1.5M88.1 59.7l-2.5 -0.7M76.8 1.9l-2.4 1M38.5 82.6l-1.2 2.3M56.2 46.8l-2.4 -1.1M78.6 31.6l-1.6 2.1M62.7 7.6l0.3 2.6M74.2 30.9l-2.5 0.6M25.9 83.6l-0.1 2.6M74.2 72.8l-1.3 2.3M23.2 67.3l-2.6 -0.3M6.8 15.5l-2.5 0.7M12 65.5l0.4 2.6M37.3 74.5l-1.9 1.8M23.2 50.8l-1.7 1.9M86.7 82.4l-2 1.6M69 31.4l-0.7 2.5M10.3 49.7l-2.3 1.1M9.9 33.4l0 2.6M24.2 20.6l-1.1 2.3M3.8 11.7l-1.6 2.1M17.4 25.2l-2.5 -0.8M29.7 86.8l0 2.6M53.2 34.5l-2.6 0.2M8.8 10.6l-0.6 2.5M37 62.5l-2.3 1.2M66.2 59l-1.7 2M23.1 47.1l-2 1.7M88.7 41.9l-2.6 0.2M36.2 54l-1.7 2M97.1 71l-0.3 2.6M18.1 5.7l-0.3 2.6M72.7 10.7l0 2.6M81.6 59.7l-2.6 -0.3M86.3 38.6l-2.5 0.8M96.5 64.5l-2.4 -0.9M90 84l-2.5 0.6M37.4 71.9l0.3 2.6M76.8 61.5l-2.5 0.7M43.2 60.7l-2.6 0.1M70.5 9.4l-2.6 0.4M93.2 7.4l-2.1 1.6M34.9 10.9l-1.5 2.1M101.6 12.4l-1.9 1.7M30.1 35.7l-2.6 0M95.7 80.8l-1.1 2.4M22 61.1l-2.2 1.4M53.3 37.4l-2 1.7M86 45.3l-2.4 -0.9M52.2 48.3l-2.6 -0.1M92 68.4l-2.5 -0.8M35.4 1l-2.6 -0.3M88 56.1l-1.2 2.3M40.2 69.5l-0.9 2.5M73.5 38.9l-2 1.6M62.9 39.3l-1 2.4M82.7 11.7l-1.8 1.9M75.9 34.3l-2.5 0.6M10.4 43.3l-2.5 -0.7M68.2 30.1l-2.3 1.1M44.7 3.6l-2.6 -0.1M97.9 69.4l-0.1 2.6" stroke="#e8e8e8" stroke-width="0.9" stroke-linecap="round" fill="none" stroke-opacity="0.45"/><path d="M27.3 21.5l-0.3 0.1M22.7 80.4l0.2 0.2M7.1 15.8l-0.2 0.2M44.2 46.9l-0.2 0.2M41.4 10.4l-0.3 0.1M19.8 54.8l0.1 0.3M72.4 44.3l0.3 0.1M16 87.9l0 0.3M37.7 14.1l-0.3 0.1M52.4 43.2l-0.1 0.3M47.5 86l0.3 0.1M38 26.7l0.2 0.2M26.2 13.8l0.3 0M105.1 76.3l0.3 0M78.6 30.4l0.2 0.3M17.3 16.8l0.3 0.1M18 88.1l-0.1 0.3M39.2 28.7l0.2 0.2M11.5 69.7l0.3 0.1M86.2 53.8l-0.3 0.1M88.8 87l-0.3 0M11.9 31.6l-0.3 0.2M18.4 78.6l-0.1 0.3M71.1 25.3l0.3 0.1M59.7 23.2l0.2 0.2M8 2.4l0.1 0.3M84.7 83.4l-0.1 0.3M16.4 34.5l-0.3 0.1M87.7 48.1l0.1 0.3M13.8 7.9l0.3 0M85.3 14.3l0.2 0.2M80.1 62.1l0 0.3M62.7 56.5l0.3 0.1M32.6 37.7l0.2 0.2M83.3 57.6l-0.1 0.3M57.8 42.5l0.1 0.3M73.3 30.5l-0.2 0.3M23.2 56.6l-0.2 0.2M28.8 64.3l0.2 0.2M94.6 6.5l-0.1 0.3M58.5 50.9l0.3 0M98.7 65.8l0.3 0.1M32.2 0.1l0 0.3M99.7 85.1l-0.3 0.1M20.8 32.4l0 0.3M37.9 12.4l-0.3 0.1M101.2 58.8l0.2 0.2M15 36.5l0.1 0.3M15.4 79.9l-0.3 0M104 86.2l0 0.3M98.3 48l-0.3 0.1M46.5 60.1l0.1 0.3M9.3 61.5l-0.3 0.1M65.2 82l0.3 0M94 9l-0.3 0.1M14.8 17l0.1 0.3M74.1 2.6l-0.3 0.1M100.2 79.5l0.2 0.2M9.5 79.5l0.1 0.3M27.4 19.4l-0.2 0.2M29.1 13.2l0 0.3M57.8 77.2l-0.2 0.2M16.4 37.8l0.3 0.1M84.6 53.9l0.3 0.1M84.8 88.2l0.2 0.2M60.8 79.6l0.3 0M33.9 15l-0.3 0M82.2 13.9l-0.3 0M97.3 9.6l0.2 0.2M31.9 26.6l-0.3 0.1M105.2 36.6l0.2 0.2M15.9 16.4l-0.1 0.3M64.4 74.9l0.2 0.2M81.8 59.3l0 0.3M8.8 32.8l0.1 0.3M102.4 19.1l-0.3 0.1M42.3 20.5l-0.3 0.1M37.4 19.3l0 0.3M41.7 79.5l0.2 0.2M25.7 4.1l0.1 0.3M39.3 64l0.3 0.1M55.7 31.1l-0.3 0.1M69.5 82.3l0 0.3M44.1 17.7l0.2 0.2M22.5 39.8l0.1 0.3M23.4 81.4l0.3 0.1M19.7 59.9l0 0.3M65 52.7l0.3 0M61.3 50.7l0 0.3M2.2 27.5l0.3 0.1M7 45l0 0.3M78.8 18l0.2 0.2M3.7 21.8l-0.1 0.3M9.9 60.5l0 0.3M53.7 39l0.1 0.3M4.7 49.3l0.3 0.1M14.7 59.2l0.1 0.3M7.5 6.4l-0.1 0.3M89.3 88.5l-0.2 0.2M44.6 59.3l0.3 0.1M24.7 87.9l0.3 0.1M22.1 80.2l0 0.3M60.1 83.5l-0.2 0.2M7.3 86.2l0 0.3M97.2 4.5l0.1 0.3M3.4 84.4l0.1 0.3M45.2 13.9l0.2 0.2M7.2 14l-0.1 0.3M52.5 19.9l0.1 0.3M34 12.1l-0.1 0.3M14.6 71.1l-0.1 0.3M33.9 3.8l0.3 0.1M25.3 62l-0.1 0.3M25.1 75.2l0.3 0M94.4 59.2l0.3 0.1M39.2 64.2l0 0.3M98.5 12.8l0.1 0.3M93 87.1l-0.3 0.1M77.5 59.8l-0.1 0.3M13.3 28.4l-0.3 0.1M62.2 24.1l-0.1 0.3M55.8 72.3l-0.3 0.1M47.1 71.1l0.3 0.1M27.8 8.1l0.2 0.2M69.6 1.4l0.2 0.2M98.3 86.3l0.1 0.3M99.5 59.9l0.3 0.1M19.7 85.4l0.3 0.2M68 9.2l0.1 0.3M51.6 79l0.1 0.3M63.9 30.9l-0.2 0.2M106.3 43.2l0.3 0.2M4.3 12.9l-0.2 0.2M50.1 60l0 0.3M46.8 51.6l0.1 0.3M58.1 25l-0.3 0M5 35.5l-0.3 0.1M87.8 85l0 0.3M2.6 37.4l0.1 0.3M102.7 54.1l-0.2 0.2M6.9 2.1l-0.3 0.2M36.4 14.6l0.1 0.3M103.6 29.8l0.3 0.1M90.6 49.7l-0.2 0.2M73.4 22.1l-0.1 0.3M79.2 14.6l0.2 0.2M15.2 51.2l0.2 0.2M65.3 37.9l0 0.3M62.8 22.7l-0.3 0.1M101.2 43.4l0.2 0.3M72.2 55l0.1 0.3M94.9 58.3l0.3 0.1M49.9 49.6l0.2 0.2M98 67.7l0.2 0.2M99.5 27.7l0.3 0.1M59.3 35.7l-0.2 0.2M75.1 30.1l-0.3 0M68.3 56l-0.2 0.3M0.2 42.5l0.3 0M11.9 65.9l0.1 0.3M85.5 57.5l-0.2 0.2M73 58.7l0.3 0M42.9 44l-0.2 0.2M90.5 50.3l-0.3 0.1M5.9 28.2l0.2 0.2M68.3 5.4l-0.2 0.2M15.2 2.3l0.1 0.3M57.6 4.3l-0.2 0.2M29.9 4.3l0 0.3M62.2 35.2l0 0.3M4.3 17.3l0.3 0M67.6 8.9l-0.2 0.2M37.6 5l0.2 0.3M7.8 76l-0.1 0.3M16.3 27.9l-0.3 0.2M70.9 44.5l0.2 0.2M98.7 57.2l0.3 0.1M73.6 39.4l0 0.3M31.9 59l0 0.3M13.6 21.7l0.1 0.3M77.9 24.1l-0.1 0.3M31.8 77.9l0 0.3M12.6 42l-0.1 0.3M76.1 3.9l0.3 0M86.2 84.6l0.3 0.2M70.3 41.6l-0.2 0.3M68.8 59.7l-0.1 0.3M42.7 83.1l-0.1 0.3M92.2 86.4l0.2 0.2M16.9 22.9l0.2 0.2M30.9 34.5l-0.3 0.2M27.2 54l-0.2 0.2M82.8 23.1l-0.3 0.1M75.6 57.4l0 0.3M79.9 59.1l0 0.3M46.4 36l0.3 0.1M42.2 66.5l-0.1 0.3M0.4 23.4l-0.3 0.1M52.6 81.8l0.2 0.2M24.2 63l-0.3 0" stroke="#5f9cab" stroke-width="2.2" stroke-linecap="round" fill="none" stroke-opacity="0.7"/><path d="M27.4 21.8l0.2 0M7.3 16.1l-0.1 0.2M41.6 10.6l0 0.2M72.8 44.6l0 0.2M37.8 14.4l0.2 0.1M47.9 86.2l0.1 0.2M26.7 14.1l-0.1 0.2M78.9 30.8l0.2 0M18.4 88.5l-0.2 0.1M11.9 70l0 0.2M89 87.2l0 0.2M18.6 79l0.2 0.1M60.1 23.5l0.1 0.2M85 83.8l0 0.2M87.9 48.5l0.2 0.1M85.8 14.7l-0.1 0.1M63.1 56.8l0.2 0M83.4 58l0.2 0M73.6 30.9l-0.2 0M29.1 64.7l0.2 0.1M59.1 51.2l-0.2 0.1M32.5 0.4l0.1 0.2M21.1 32.8l0.1 0.2M101.5 59.1l0.2 0.1M15.5 80.2l0.2 0.1M98.5 48.3l-0.2 0M9.5 61.7l-0.1 0.2M94.1 9.3l0.2 0.1M74.4 2.9l-0.2 0M9.7 79.9l0.1 0.2M29.4 13.6l-0.1 0.2M16.7 38.2l0.2 0M85.2 88.5l-0.1 0.2M34 15.2l0.1 0.2M97.6 9.9l0.2 0.1M105.6 36.9l0 0.2M64.7 75.3l0.2 0M9.2 33.1l-0.1 0.2M42.5 20.8l0 0.2M42 79.8l0.1 0.1M39.8 64.3l-0.1 0.2M69.9 82.7l-0.1 0.2M22.9 40.2l-0.2 0.1M20 60.3l0 0.2M61.5 51l0.1 0.2M7.3 45.4l0.1 0.2M4 22.2l-0.1 0.1M54 39.3l0.1 0.2M15.1 59.6l-0.1 0.2M89.4 88.8l0.1 0.2M25.1 88.1l0 0.2M60.3 83.8l0.1 0.2M97.5 4.8l0.1 0.2M45.6 14.2l0 0.2M52.8 20.3l0.2 0.1M14.8 71.4l0.1 0.1M25.7 62.4l-0.2 0.1M94.9 59.5l-0.2 0.1M99 13.2l-0.2 0.1M77.8 60.2l-0.2 0.1M62.4 24.5l0.1 0.2M47.4 71.4l0.1 0.1M70 1.7l0.2 0.1M100 60.2l-0.1 0.2M68.5 9.6l-0.2 0.1M64 31.2l0 0.2M4.4 13.3l0.2 0M47.2 52l-0.2 0.1M5.2 35.8l-0.1 0.2M2.8 37.8l0.2 0.1M7 2.4l0 0.2M104 30l0 0.2M73.7 22.4l-0.1 0.2M15.7 51.6l-0.2 0.1M63 22.9l-0.1 0.2M72.6 55.3l0.1 0.2M50.2 50l0.2 0.1M99.8 28.1l0.2 0M75.1 30.3l0.2 0.1M0.6 42.7l0 0.2M85.7 57.9l0.1 0.2M43.1 44.3l-0.1 0.2M6.2 28.6l0.2 0.1M15.6 2.6l-0.1 0.2M30.3 4.7l-0.2 0.1M4.7 17.5l0.2 0.1M38 5.4l-0.1 0.1M16.4 28.2l0.1 0.2M99.1 57.5l0 0.2M32.1 59.4l0.2 0.1M78.1 24.4l0.1 0.2M12.9 42.4l-0.1 0.2M86.5 85l0.2 0.1M69.1 60.1l-0.2 0M92.7 86.7l-0.1 0.2M31.1 34.8l-0.1 0.2M83 23.4l0 0.2M80.3 59.5l-0.1 0.2M42.5 66.8l-0.1 0.2M52.9 82.2l0.2 0" stroke="#3d6470" stroke-width="1.1" stroke-linecap="round" fill="none" stroke-opacity="0.55"/></g>
<g transform="translate(245.4,40)" clip-path="url(#cp)"><rect width="106.7" height="88.6" fill="url(#g3)"/><ellipse cx="21.2" cy="10.1" rx="10.1" ry="3.5" fill="#bcbcbf" opacity="0.3"/><ellipse cx="22.6" cy="12.1" rx="10.6" ry="3.2" fill="#bcbcbf" opacity="0.3"/><ellipse cx="22.6" cy="9.9" rx="8.5" ry="5.1" fill="#bcbcbf" opacity="0.3"/><ellipse cx="20.5" cy="8.6" rx="10.8" ry="4.3" fill="#bcbcbf" opacity="0.3"/><ellipse cx="63.8" cy="10.1" rx="5.5" ry="3.7" fill="#bcbcbf" opacity="0.3"/><ellipse cx="67.2" cy="14.4" rx="5.3" ry="6" fill="#bcbcbf" opacity="0.3"/><ellipse cx="70.7" cy="12.6" rx="6.1" ry="3.9" fill="#bcbcbf" opacity="0.3"/><ellipse cx="61.1" cy="16.8" rx="4.8" ry="4.1" fill="#bcbcbf" opacity="0.3"/><ellipse cx="28.4" cy="30.5" rx="4.3" ry="2.7" fill="#bcbcbf" opacity="0.3"/><ellipse cx="21.2" cy="27.6" rx="3.9" ry="3" fill="#bcbcbf" opacity="0.3"/><ellipse cx="21.8" cy="28.4" rx="4.5" ry="2.3" fill="#bcbcbf" opacity="0.3"/><ellipse cx="18.9" cy="31.2" rx="6.3" ry="3.1" fill="#bcbcbf" opacity="0.3"/><ellipse cx="54.9" cy="33.8" rx="4.2" ry="4" fill="#bcbcbf" opacity="0.3"/><ellipse cx="54.1" cy="35" rx="4.5" ry="3.7" fill="#bcbcbf" opacity="0.3"/><ellipse cx="60.7" cy="36.6" rx="5.4" ry="4.1" fill="#bcbcbf" opacity="0.3"/><ellipse cx="59.4" cy="39.6" rx="4.9" ry="3.3" fill="#bcbcbf" opacity="0.3"/><ellipse cx="16.7" cy="50.3" rx="8.2" ry="5.4" fill="#bcbcbf" opacity="0.3"/><ellipse cx="22.2" cy="45.2" rx="7.2" ry="6.8" fill="#bcbcbf" opacity="0.3"/><ellipse cx="14.4" cy="57.4" rx="7.8" ry="5.6" fill="#bcbcbf" opacity="0.3"/><ellipse cx="16.9" cy="53.6" rx="5" ry="5.3" fill="#bcbcbf" opacity="0.3"/><ellipse cx="33.5" cy="64.9" rx="2.4" ry="1.9" fill="#bcbcbf" opacity="0.3"/><ellipse cx="33" cy="63" rx="3.1" ry="2.6" fill="#bcbcbf" opacity="0.3"/><ellipse cx="32.9" cy="62.1" rx="2.3" ry="2.4" fill="#bcbcbf" opacity="0.3"/><ellipse cx="32.1" cy="62.4" rx="2" ry="2.3" fill="#bcbcbf" opacity="0.3"/><ellipse cx="60.7" cy="64.4" rx="7.5" ry="9.8" fill="#bcbcbf" opacity="0.3"/><ellipse cx="65.5" cy="73.6" rx="6.7" ry="10.1" fill="#bcbcbf" opacity="0.3"/><ellipse cx="65" cy="74.3" rx="8.1" ry="8.9" fill="#bcbcbf" opacity="0.3"/><ellipse cx="59.2" cy="74" rx="7.5" ry="9.6" fill="#bcbcbf" opacity="0.3"/><ellipse cx="86.5" cy="37.5" rx="5.6" ry="8.4" fill="#bcbcbf" opacity="0.3"/><ellipse cx="90.9" cy="39.2" rx="5.3" ry="10.2" fill="#bcbcbf" opacity="0.3"/><ellipse cx="84.4" cy="50.8" rx="7.6" ry="8.4" fill="#bcbcbf" opacity="0.3"/><ellipse cx="96.4" cy="46.9" rx="4.6" ry="10.1" fill="#bcbcbf" opacity="0.3"/><ellipse cx="90" cy="79.7" rx="6.5" ry="3.5" fill="#bcbcbf" opacity="0.3"/><ellipse cx="85.9" cy="71.7" rx="6.4" ry="5.3" fill="#bcbcbf" opacity="0.3"/><ellipse cx="88" cy="72.5" rx="5.1" ry="5.3" fill="#bcbcbf" opacity="0.3"/><ellipse cx="93.6" cy="79.3" rx="7" ry="5.2" fill="#bcbcbf" opacity="0.3"/><ellipse cx="102.7" cy="9.1" rx="1.8" ry="3.7" fill="#bcbcbf" opacity="0.3"/><ellipse cx="101.6" cy="11" rx="1.9" ry="2.7" fill="#bcbcbf" opacity="0.3"/><ellipse cx="100.2" cy="12" rx="2.4" ry="2.5" fill="#bcbcbf" opacity="0.3"/><ellipse cx="98.9" cy="10.2" rx="1.9" ry="2.3" fill="#bcbcbf" opacity="0.3"/><path d="M18.1 10.8l0.9 0.8M24.1 7.5l-0.2 1.2M13.6 10.7l0.5 1.1M22 10.5l-0.4 1.1M27.1 11l-0.5 1.1M17.8 11.8l1.2 0.2M17.9 13.5l1.2 0M29 10.4l-1 0.6M17.3 11.4l0.8 0.9M20.5 8.5l0.9 0.8M26.2 10.9l-1.2 0M27.5 9.7l0.1 1.2M29.6 12.6l-1 0.6M15.6 7.3l0.1 1.2M17.5 12.7l-0.5 1.1M25.9 10.7l1.1 0.5M24 7.6l-0.5 1.1M23.8 8.2l-1.1 0.5M23.7 9.3l-0.1 1.2M19 9.1l-0.8 0.9M25 13.1l-0.6 1M12.9 11.8l1.2 0.2M20.3 13l-0.9 0.8M28.6 8.5l-0.3 1.2M22.1 12.9l0.7 1M29.7 9.6l1.2 0.1M16.2 11.1l-1.1 0.5M28.9 11.7l0.1 1.2M24.7 11.5l-0.8 0.9M26.3 10.6l-1.1 0.4M16.9 11.7l-0.7 0.9M25.3 12.4l-1.2 0.3M21.7 8.9l0.4 1.1M27 12.1l-1 0.7M29.6 8.1l0.2 1.2M20.8 12.1l-1.2 0.2M31 10.1l-1.1 0.4M28.7 11l1.1 0.4M16.5 14.1l1.1 0.5M25.3 9.1l0.9 0.8M16.1 12.7l-1.2 0.1M20.1 14.3l0.2 1.2M17.9 11.6l-0.5 1.1M12.9 12.9l0.7 1M23.6 13.7l0 1.2M19.6 14.9l0.4 1.1M19.6 14.9l0.5 1.1M32.2 10.7l-0.3 1.2M24.8 10.7l-0.3 1.2M14.5 13.4l-1.1 0.4M23.6 14.6l-0.6 1M30.7 10.2l-1.2 0.3M21.5 13.3l-1.1 0.5M29.5 13l-1.2 0M18 11.6l-0.6 1M26.4 10l1 0.6M16.7 10.3l-1.1 0.5M19.6 14.9l-1.2 0.1M20.3 13.9l-1.1 0.4M30.3 13.9l-0.3 1.2M25 11.8l-0.7 0.9M22.1 11.5l0.9 0.7M18.4 13.2l-1 0.6M28.9 10.8l-0.3 1.2M16.4 12l0.8 0.9M22.3 14.1l1.2 0.2M24.8 12.5l-1.1 0.5M15 11.7l-1.2 0M19.9 11l1.2 0.3M25.9 10l-1 0.7M18.4 11.1l0.3 1.2M26.1 14.7l1.1 0.5M22 8.1l0.7 1M26.9 14.2l-0.9 0.8M20.4 12.2l-1.1 0.5M21.1 13.1l1.2 0.2M19.3 8.4l-0.4 1.1M20.7 9.6l1.2 0.2M17.1 9.1l-0.8 0.9M19.4 14.2l0.6 1M29.9 8.4l-1.1 0.4M20.7 11.5l-1.2 0.1M19.9 7.9l0 1.2M26.8 13.6l-1.2 0M24.8 13.8l0.7 1M22.6 9.7l1.2 0.3M20.8 8.2l-0.4 1.1M18.7 14.1l1.2 0.1M27.3 9.5l1 0.7M23 6.8l0.3 1.2M26.6 9.1l-0.4 1.1M21.3 8.9l1.1 0.6M15.7 8.7l1.2 0.2M30 7.9l-1.1 0.5M17.6 8.9l0.7 1M19 7.4l-1.2 0.2M18.1 7.5l-1.1 0.4M22.6 4.9l0.4 1.1M17.2 6.5l0.1 1.2M22.8 6.7l-0.1 1.2M25 7l-0.5 1.1M27 5.6l-0.4 1.1M29.7 6.9l-0.2 1.2M21.2 6.5l-0.4 1.1M22 14.3l-1.2 0.2M27.1 7.9l0 1.2M24.8 14.2l0.3 1.2M26.7 8.7l-0.8 0.9M24.5 11.3l0.9 0.8M15.4 8.5l0.7 1M23.8 14.9l-1.2 0.1M26.8 10.5l-0.1 1.2M12.1 7.4l-0.2 1.2M11.5 9.2l1.2 0M16.6 10.5l0.3 1.2M20.7 8.5l-0.3 1.2M22.3 11.5l1.2 0.1M18.5 6.9l-0.4 1.1M21.7 12.8l-0.5 1.1M16.4 6.7l1.2 0.2M23.1 4.9l-0.5 1.1M24.2 5.5l0.1 1.2M18.8 7.7l-0.6 1M14.6 9.7l0.5 1.1M21.1 11.2l-0.7 1M25.2 7.3l-0.8 0.9M25.1 10.7l1.2 0.1M21.2 9.5l1.2 0.2M28.1 6.9l-0.6 1M29.3 9.5l-1.2 0.1M24 11.3l0.8 0.9M30.9 7l0.2 1.2M13.5 10.8l-0.3 1.1M17.6 8.6l0.6 1M12.9 10.8l0.5 1.1M22.2 4.9l0.7 1M27.4 8.3l0.5 1.1M18.3 4.7l-0.4 1.1M29.6 6.7l0.7 1M25.1 6.7l0.5 1.1M15.3 11l-0.9 0.8M24.7 10.7l1.2 0.1M17.7 9.9l-0.3 1.2M24.8 11.8l-0.8 0.9M19.7 9.5l0.7 1M23.6 4.7l0.9 0.8M22.9 12.2l-1 0.7M24.9 9.7l0.9 0.8M24.9 11.7l1 0.7M11.8 7.1l0.2 1.2M16.3 5.4l-0.7 1M26.2 6.5l1.1 0.4M21.3 10.3l0.6 1M26.7 5.5l0.6 1M15.1 5.4l-1 0.6M23.3 5.9l0.2 1.2M24.3 11.4l-1.1 0.5M29.3 6.7l1 0.6M64.5 10.1l0.6 1M59.6 11.2l-0.5 1.1M68.5 8.1l-1.1 0.4M66.5 10.7l0.2 1.2M64.4 7.8l0.9 0.8M61.5 13.6l1.1 0.4M68.2 10.3l-0.1 1.2M67.2 8.2l1 0.7M67 9l-1 0.7M59.8 9l-1 0.6M66.2 12l1 0.7M66.1 10.1l0.8 0.9M65.5 7.1l-1 0.7M64.3 13.7l-0.5 1.1M65.2 8.9l-1 0.7M69.2 9.8l0.6 1.1M62.8 10.4l1.1 0.5M64.8 7.4l0.7 1M64.7 9.2l-1 0.7M59 10.6l0.8 0.9M67.1 11.8l0.6 1.1M65.8 17.9l0.3 1.2M62.5 15.8l0.3 1.2M67.7 14.2l0.3 1.2M66.8 13.2l-1.2 0.3M69.7 11.3l1.1 0.6M71.1 11.4l1.2 0M70.3 13.8l-1.2 0.2M72.5 16.7l-1.1 0.4M63.8 16l-1.2 0M64.4 15.7l0.2 1.2M68 11.1l-1.2 0.2M65 14.8l-1.2 0.3M66.6 13l0.9 0.8M64.2 15.5l-0.8 0.9M66.2 9.3l-1 0.6M64.4 18.6l-0.6 1M66.8 10.7l-0.1 1.2M64.4 13l0.7 0.9M66.9 13.6l0.6 1.1M69.7 12.3l0.9 0.8M68.6 14.9l1.2 0.3M66.4 16.9l-0.3 1.2M69 11.2l0.7 0.9M70.6 12.9l-1 0.7M64.2 19.6l1.2 0.2M71.5 10.1l-1.1 0.4M69.1 15.4l-0.7 1M67.2 11.4l-1.2 0.3M69.5 15.8l-1.1 0.4M67 17.7l-1.1 0.4M68.2 9.2l-0.3 1.2M73.3 16l1.2 0M66.9 10.6l-0.8 0.9M76.5 12.6l1 0.6M74.4 15l0.7 1M72.1 10.2l-0.6 1M76.5 13.1l-0.1 1.2M67.4 10.1l0.3 1.2M72 9.6l-1.2 0.2M77.1 13.5l-0.4 1.1M74.4 11.9l0.6 1.1M72.1 9l0.8 0.9M68.5 13.7l-1.1 0.5M66.8 10.4l0.1 1.2M67.3 14.4l-0.9 0.8M74.5 11.9l0.5 1.1M72.6 11.9l1 0.7M66.6 10.5l-0.1 1.2M69 13.9l-1 0.7M70.1 15l1 0.6M68.7 14.3l-1 0.7M72 15.9l-1.2 0.3M72.2 14.7l-1 0.7M57.7 17.8l-1 0.6M60.7 19l1.2 0M62.4 13.6l-0.5 1.1M65.6 19.9l-1.1 0.5M62.2 20.3l1.2 0.2M61.5 20.6l0.8 0.9M58.6 19.2l0.8 0.9M62.8 13.4l-0.1 1.2M60.5 18.8l0.3 1.2M58.6 15.2l0.1 1.2M61.8 15.9l-0.9 0.8M61.3 17.4l1.2 0M61.7 15.6l1.2 0.2M61.1 14.3l1.1 0.5M64.7 16.1l1.1 0.5M61.9 16.1l1.2 0.3M64.5 15.7l-1.2 0.1M66.4 18l-1.1 0.5M61.4 20.5l1.2 0.3M31.7 30.6l0 1.2M25.7 30.9l0.7 1M29.6 29.2l0.7 1M30 29.9l0.5 1.1M31.4 30.2l-0.5 1.1M27.2 28.1l-0.3 1.2M26.9 28.2l0.5 1.1M31.9 32l1 0.7M31.9 31l0.6 1M30 28.7l1.1 0.5M28.5 28.3l-0.2 1.2M23.9 27.6l-0.8 0.9M24.4 26.1l0.4 1.1M22 29.9l1.2 0.3M19.8 28.3l1 0.6M23.6 25.3l0.5 1.1M21.9 27l-0.4 1.1M21.7 24.8l-0.9 0.8M20.7 24.7l0.4 1.1M25.3 27.2l-1 0.7M21.8 25.9l-0.5 1.1M21.8 25.9l0.3 1.2M21.9 29.6l0.5 1.1M22 28.7l0 1.2M24.1 29.4l-0.7 1M22.3 28.6l0.3 1.2M22.3 26.3l-0.7 1M20.4 30l0.1 1.2M22.4 28.2l0.9 0.8M19.3 27.5l-0.1 1.2M24.7 30.3l-0.7 1M22.9 27.1l1.2 0.3M13.6 30.5l0.3 1.2M24.8 32.2l0.3 1.2M16.5 31.3l-1.1 0.4M19.7 33.9l-1.2 0.2M23.8 32.9l0.5 1.1M14.9 33.1l-1.1 0.4M25.2 30.6l-1 0.7M21.4 32.3l0.8 0.9M15.1 28.9l0.1 1.2M16.1 30.2l1.1 0.5M21.4 29.4l-1 0.7M16.1 30.1l-0.6 1M24.6 30.8l-1.1 0.4M23.8 32.9l-1 0.7M17.5 32l-0.6 1M16.5 31.3l-0.8 0.9M22.3 30.7l-0.2 1.2M18.4 31.5l1.1 0.4M17.8 33.5l-0.3 1.2M51.3 34.3l1.2 0M51.8 32.7l1.1 0.5M55.6 37.8l-0.9 0.8M54.4 33.7l1.2 0.2M55.7 32.8l1.2 0.3M51.8 35.8l1.1 0.4M57.3 33.1l-1.1 0.4M54 36.8l1 0.6M53.6 31.8l1.2 0.1M54.8 30.2l-1.1 0.6M57.3 35.1l1.1 0.4M56.9 30.6l-1.1 0.6M58 33.2l-0.6 1M55.9 37.3l-1 0.6M57.7 31.1l-1.2 0.2M54 33.4l-0.3 1.2M54.4 33.4l-1 0.7M54.2 35.4l1.2 0.1M53.6 37l-0.9 0.8M51.8 34.2l0 1.2M51.4 34.8l-0.8 0.9M55.7 38.3l1.1 0.4M53.1 32.1l-0.8 0.9M52.2 34.3l-1.2 0.2M55.9 32.8l1.2 0.2M53.9 38.4l0.6 1M55.6 36.7l-0.2 1.2M56.6 33l-1 0.6M56.7 37.9l0.9 0.8M53.6 34.9l1 0.6M52.7 36.8l0.8 0.8M54.1 38l-0.4 1.1M61.8 37.9l-0.9 0.8M63.6 34.1l0.4 1.1M55.9 37.1l0.5 1.1M58.9 33.1l0.4 1.1M59.4 38.5l0.5 1.1M59.2 39l0.3 1.2M58.5 36.1l1.2 0.3M56.4 34.9l0 1.2M61.8 36.8l-1.2 0.1M56.8 37l0.3 1.2M66.7 38.1l-0.8 0.9M61.6 33.8l1.1 0.6M57.2 36.3l-0.7 1M58.4 38.6l-0.9 0.8M58.3 36.5l-0.6 1M59.9 36.7l-0.1 1.2M59.1 35.2l0.1 1.2M61.2 38.2l-0.5 1.1M61.8 34.2l-1.1 0.4M57.3 35.4l1.1 0.5M57.8 35.7l1.1 0.4M61.3 40.3l-0.8 0.9M60.2 38.6l-1.2 0.3M61.8 41l-0.1 1.2M60.6 37.7l0.2 1.2M60.8 41.8l-0.8 0.9M55.6 39.7l1 0.7M58.2 41.5l0.8 0.9M63.7 39.4l1 0.7M60.8 41.8l-0.3 1.2M62.4 42.3l0.7 1M59.2 42.9l0.9 0.8M60.7 41.1l-0.7 1M59 41.6l-1.2 0.2M57.9 41.3l0.7 1M58.9 40.2l-0.7 1M57 37.5l0.3 1.2M60.8 41l-1.1 0.5M20.8 50.7l-0.3 1.2M10.4 49.9l0.8 0.9M23.6 48.6l0.9 0.8M18.9 53.1l1.2 0.1M17.9 51.5l0.1 1.2M22.9 50.9l0.4 1.1M24.5 49l1 0.6M21 50.7l0.5 1.1M12.4 54.3l0.6 1M22 52.5l-0.9 0.8M21.8 47.2l1.1 0.5M20.3 54.3l-1.2 0M16 48.5l0.1 1.2M21.8 46.9l-0.4 1.1M14 52.5l0.1 1.2M24.3 53.2l-1 0.6M20 54.3l-1 0.6M15.3 46.3l-0.2 1.2M18.4 47.5l0.1 1.2M15.7 48.2l-0.8 0.9M16 46l-1.1 0.5M10.2 51.2l0.4 1.1M17.2 49.8l-0.8 0.9M18.7 53.1l-1.2 0.1M14.5 45.7l0.1 1.2M17.8 55.5l0.9 0.8M18.6 53.7l0.9 0.8M20.2 48l-0.8 0.9M18.6 49.4l-0.6 1M15.9 55.5l-1.2 0.2M16.2 49l-1.1 0.5M10.9 50.6l0.9 0.8M24.5 51.4l1 0.7M24.6 51.2l0.8 0.9M14.5 46.4l1 0.7M14.8 52.3l-0.7 1M9.8 50.8l-1.1 0.5M22.5 52.7l-1.1 0.4M10.5 47.1l0.8 0.9M15.5 45.5l-1.1 0.5M15.2 46.9l0.7 1M18.6 49.8l0.3 1.2M17.6 49.7l-0.8 0.9M23.5 46.4l1.2 0.3M16.1 47.4l1.1 0.3M24.8 40.3l-1 0.6M19.7 47.9l0.7 1M18.5 46.3l0.5 1.1M17.1 44.6l-0.3 1.2M28.8 48.8l-0.6 1M26.7 50.3l1.2 0M22.9 45.2l0.6 1M26.6 44.2l0.2 1.2M17.8 48.9l0.1 1.2M27.1 47.9l0.9 0.7M26.2 41.7l-0.3 1.2M26.1 46l-1.2 0.2M24.8 43l0.4 1.1M21.2 39.9l-0.2 1.2M23 40.1l1.1 0.4M16.1 43.8l0.8 0.9M22.4 42l-0.6 1M27.1 47.8l1.1 0.4M18.1 43l-1.1 0.4M21.4 52l-1.2 0.3M18.3 43l1.1 0.4M24.8 48.1l-1.2 0.2M21.6 50.7l0.5 1.1M17.7 48.5l-0.9 0.8M20.4 50.9l-0.9 0.8M28.1 44.2l0.7 1M24.1 41.7l-0.6 1M18.7 46.2l-0.6 1.1M17.5 49.2l-1 0.7M18.8 51l0.8 0.9M22.7 41.8l-0.9 0.8M19 47.4l-1.2 0.1M16.3 46.9l-0.6 1M19.5 41.5l-0.1 1.2M18.5 43.5l1.1 0.4M25.8 48.2l0 1.2M24.7 39.5l0.5 1.1M28.7 46.4l-0.8 0.9M23.6 39.9l-0.6 1M26.7 44.1l-0.2 1.2M24.5 49.1l1 0.6M29.5 46.1l-0.5 1.1M17.5 47l-0.5 1.1M17 45.3l1 0.6M18.7 49.7l-1.1 0.4M27.9 40.3l-0.6 1.1M9.5 56.2l1.1 0.5M8.5 55.5l-1.2 0.3M13.9 58.3l1.1 0.5M7.3 57.3l0.6 1M18.1 60.1l-0.8 0.9M10.8 54.2l-0.4 1.1M11.7 61.6l-0.2 1.2M18.2 53.2l-0.5 1.1M16.8 55.9l0.2 1.2M10.3 59.3l0.7 1M13.1 61.2l1 0.6M20.5 55.8l1.2 0.3M17.7 61.8l-0.8 0.9M13.1 55.3l-0.9 0.8M13.4 59l-0.2 1.2M8.9 58.9l-0.8 0.9M12.1 59.9l0.5 1.1M14.8 63l0.8 0.9M14.7 61.1l0.4 1.1M16.1 61.6l-1.1 0.5M15.7 52.8l1.2 0.2M8.3 54.7l0 1.2M12.9 62l0.9 0.8M12.7 59.6l-0.9 0.8M11.8 58.9l0.5 1.1M12.4 55.8l0.6 1M13 52.7l0.4 1.1M19.8 57.8l-0.2 1.2M11.7 53.9l-0.9 0.8M13.9 56.9l0.5 1.1M15.4 55.6l-1.1 0.6M21.1 58.3l1.1 0.4M11.4 58.5l0.8 0.9M17.4 60.4l1.1 0.4M13.6 56.9l1.1 0.4M10.1 57.1l-0.9 0.8M18.9 54.9l-0.8 0.9M17.5 61.3l1 0.7M16.5 58.5l1 0.7M19.5 54.8l0.3 1.2M13.2 59.6l-0.8 0.9M18.5 60.4l-1 0.7M8.6 60.1l-0.8 0.9M14.5 54.1l-0.3 1.2M14.1 53.8l1.1 0.5M14.1 53.5l0.4 1.1M17.8 56.8l1 0.7M17.7 51.9l-0.1 1.2M13.7 50.3l-0.3 1.2M14 51.9l1 0.7M19.9 50.3l0.8 0.8M17.8 53.8l-0.9 0.8M19.7 52.2l1.2 0.1M17.8 54.1l-1 0.7M18.8 58.3l-1.1 0.4M16.4 52.7l-1.2 0.2M17.4 48.8l0.4 1.1M20.8 55.7l-0.2 1.2M16 56.3l-0.3 1.2M16.8 57.3l-0.5 1.1M22.2 56.8l-1.2 0.1M20.8 57.8l-0.7 1M20.3 54.1l0.7 1M17.3 59l-1.1 0.5M14.6 57.9l0.1 1.2M16.4 54.8l-0.4 1.1M16.9 54.5l-0.8 0.9M14.8 54.2l1.2 0M18.2 55.6l-0.9 0.8M33.2 66.6l-0.6 1M32.1 64.5l0 1.2M34.8 63.7l-0.1 1.2M33.8 64.6l0.1 1.2M30.3 62.8l1 0.7M32.9 63.6l-0.1 1.2M35.3 62.3l1.2 0.1M33.1 63.7l0 1.2M32.2 64.2l-0.5 1.1M33.2 65.3l0.2 1.2M31.1 62.1l-0.2 1.2M31.8 62.1l-1.2 0.2M32.9 61.1l-1.1 0.4M30.7 62.5l1.1 0.5M32.6 61l-1 0.7M34.7 63.9l-0.5 1.1M31.1 60.9l1.2 0.2M31.6 62.9l0.5 1.1M33.3 62.9l0.9 0.8M31 62.8l1.2 0.3M60.7 60l-0.1 1.2M64.4 62.8l-1.2 0.3M62 67.4l0.6 1M63.5 55.7l-1.1 0.5M60.2 59.9l-0.7 1M63.9 57.6l1.1 0.5M61.6 73.9l-1.1 0.5M61.7 59.2l-0.4 1.1M61.1 64.5l-1.2 0.3M63.2 66.2l-0.8 0.9M63.7 58.4l-0.8 0.9M55.1 58.7l0.6 1.1M61.1 68.1l-1 0.7M61.2 74.2l-1.2 0.3M61.1 66.5l-1.1 0.5M65.3 66.8l0.2 1.2M64.4 61.4l-0.9 0.8M61.9 58.4l0.1 1.2M66.4 63.6l1.1 0.4M60.9 70.4l1.2 0.2M56 63.5l1.2 0.3M53.7 67.4l1 0.7M65.1 66l1.1 0.6M61 54.9l0 1.2M64.8 60.1l-0.7 1M56.8 71.4l-0.1 1.2M54.5 59.9l0.3 1.2M66.3 70.3l-0.5 1.1M59.9 54.7l0.7 1M61.1 71.9l0.1 1.2M64.6 59.1l-0.9 0.8M65.4 70l0.4 1.1M62.3 68l1 0.6M66.9 64.4l-1.1 0.4M68.7 62.1l-0.8 0.9M63.2 68.1l0.5 1.1M61.2 60.2l0.5 1.1M63.1 66.1l-0.1 1.2M66.3 57.6l-0.4 1.1M64 60l0.9 0.8M61 72l1.2 0M64.1 65.4l1 0.7M68.1 59.4l-0.9 0.8M58.2 67.9l1.1 0.5M55.7 58.2l0.2 1.2M55.7 61.6l1 0.7M57.5 57.3l0.9 0.7M59.5 70l1 0.6M55.9 65.3l0.4 1.1M64 64.3l1 0.6M66.1 65.9l1.2 0.1M67.9 63.1l1.1 0.4M65.3 72.4l1 0.6M64.4 61.5l0 1.2M60.8 69.1l1.2 0.2M55 65.6l1.2 0.1M62.4 71l0.2 1.2M58.1 63.6l0.3 1.1M60 61.6l-0.7 1M57.4 65.9l1.2 0.2M64.6 70.1l0.4 1.1M63 57.6l0.4 1.1M62.8 67.9l1.2 0.1M65.6 59.4l-1.2 0.1M60 70.5l0.9 0.8M64.1 70.6l1.1 0.4M67.8 64.6l0.1 1.2M62.1 70.1l1 0.6M63.2 63.8l-0.5 1.1M57.7 70.8l0.6 1.1M56 58.1l1.1 0.5M62.6 58.7l1.2 0.2M62.2 59.7l-0.8 0.9M67.1 64.7l0.8 0.9M72.4 74.6l-0.9 0.7M64.6 76.3l0.1 1.2M68.8 78.1l-1.2 0.3M68 65l0.7 1M62.9 69.3l0.8 0.8M65.2 78.2l0.8 0.9M70.6 76.9l-1 0.7M62.7 66.3l-0.5 1.1M66 64.2l0.6 1.1M60.2 70.2l1.1 0.3M62.5 67.9l-0.7 1M66.9 71l-1.2 0.1M69.2 74.6l-0.3 1.1M61.8 78.1l1.2 0M70.4 77.5l1.2 0.1M62.7 69.7l1.2 0.3M68.2 70.6l1 0.6M62.1 82.7l1.2 0.1M65.4 78.5l1.2 0.2M70.2 75.7l-0.6 1.1M63.1 70.7l-1.1 0.4M60.6 70.6l1 0.7M60.3 70.6l-1.2 0.1M66 70.8l0.1 1.2M71.3 69.3l-1 0.7M67.3 64.7l-1.2 0.3M68.5 70l-1.2 0.2M61 78.8l1.2 0.1M59.8 72.5l0.7 1M61.1 76.9l-0.4 1.1M63.9 78.2l-1.2 0.2M62.5 68.9l1.2 0.3M62.7 78.6l0.7 1M63.7 77.7l-1.1 0.5M61.8 79.1l1.1 0.4M68.5 78.3l0.4 1.1M63.4 68.6l0.6 1M67.3 68.4l-0.6 1M62.2 75.7l-1.2 0.3M63.2 80l1 0.6M71.7 68l-0.8 0.9M70.9 79.7l-0.8 0.9M63.3 68.6l-1 0.6M67.1 78.6l-0.2 1.2M64.3 75.3l-1.2 0.3M70.2 66.8l0.5 1.1M67.7 73.1l0.3 1.2M69.1 82.1l0.9 0.8M63.4 71.4l-0.9 0.8M65.2 65.9l0.1 1.2M64.6 64.3l0.8 0.9M65.8 79.2l1 0.6M62.9 65.3l-0.8 0.9M61.1 71.9l-0.4 1.1M65.4 73.7l-0.7 0.9M69.7 69l0.4 1.1M66.6 76.3l0 1.2M59.8 77.2l1.1 0.6M69.4 65.8l-0.7 0.9M70.7 72l1.2 0.1M65.5 78l0.1 1.2M62.3 70.7l-0.9 0.8M67.8 83.2l-0.6 1M68.2 75.7l1.1 0.4M67.2 80.5l0.9 0.8M66 69.2l-1.1 0.6M67.4 81.6l-0.5 1.1M70.6 71.1l-1.1 0.4M71.2 70.7l-1.1 0.5M61.2 74.7l0.2 1.2M66.5 80l-1.1 0.4M71.5 70.7l-0.8 0.9M65.2 65.8l0.6 1M67.8 70.1l0.5 1.1M65.4 75.8l1.2 0.3M63.7 71.1l0.4 1.1M67.5 66.7l-1.2 0.2M68.8 81.5l1.1 0.4M63.2 80.1l-0.3 1.2M65.8 73.1l1.1 0.4M65.5 79.1l1.2 0.3M69.6 66.9l-0.5 1.1M62.4 75.3l0.9 0.8M66.9 70.3l1.2 0.2M58.8 68.9l1.1 0.6M66.3 67.1l-0.5 1.1M61.2 70.1l-0.3 1.2M59.6 73.4l1.2 0M63.2 66l0.9 0.8M69.9 75.5l-1.2 0.1M61 67.5l0.9 0.8M60.8 71.7l-0.2 1.2M65.8 81.3l0.3 1.2M69.7 75.8l-0.9 0.8M68.1 68.3l-0.4 1.1M63.2 72.2l-0.9 0.7M72.1 77.7l-0.1 1.2M69 79l1 0.7M60.6 71.4l1 0.6M61.8 80.4l1.2 0.3M63.7 73.2l-1 0.6M61.3 80.9l1.1 0.4M61.4 72l1.2 0.1M60.8 73.7l-1.2 0.1M67.7 76.1l1 0.7M67.5 67.5l-1.1 0.4M63.4 80.1l1.2 0.3M65.8 76.2l0.1 1.2M64.2 79.6l0.9 0.8M63.9 76.1l-1 0.6M67 68.4l-0.4 1.1M72.2 74.9l-0.5 1.1M71 79l-0.9 0.8M60.5 76.7l-1.1 0.5M60.5 80.7l0.6 1.1M64.9 77.2l-0.4 1.1M59 71.9l0.2 1.2M65.6 81l1.1 0.4M65.5 71.5l-1 0.6M68.3 69.9l-0.4 1.1M61.6 74.4l-1 0.7M66.3 67.6l1 0.7M61.5 76.9l-0.1 1.2M66.1 69.2l0.1 1.2M66 75.9l-0.8 0.9M70 68.6l1.2 0.3M67.8 65.8l0.6 1.1M58.5 77.8l0.1 1.2M62 71.4l1.2 0.3M62.8 78.2l-0.2 1.2M64 78.5l-0.8 0.9M61 81.4l0.3 1.2M70.9 76.2l-0.5 1.1M66.2 66.3l-0.4 1.1M72.1 76.2l0.9 0.7M62.6 80.8l0.5 1.1M59.9 70.4l-1.2 0M71.2 70.3l0.6 1M61.8 78.2l0.3 1.2M58.5 77.2l1.2 0.3M59.2 78.5l0.9 0.8M65 73l1 0.6M65.5 67.7l-1.2 0.3M64.1 67.6l-0.8 0.9M57.6 78.5l-1.1 0.5M54.3 78.9l-1.2 0.1M58.2 80.4l-0.4 1.1M60.7 71.6l-1.2 0.3M59 72.6l-0.1 1.2M59.3 81.8l0.3 1.2M57 65.8l-1.2 0.2M56.3 66.8l-1.1 0.4M61.2 69.9l-1.2 0.2M61 73.6l0.1 1.2M59.9 67.9l-0.9 0.8M59.8 79.4l0.3 1.1M59.5 65.3l-1.2 0M53.3 75.9l-1.2 0.3M55.9 81.8l0.7 1M66.1 71.3l-1.2 0.2M56.5 77.9l1 0.7M63.5 80.8l1.1 0.4M61.6 69.9l-0.8 0.9M63.7 81.2l0.7 1M62.2 67.8l-0.1 1.2M66.6 74.9l-0.5 1.1M59.1 81.3l1.2 0.2M62.8 82.2l-0.8 0.9M58.5 73.2l0.8 0.9M57.8 69.8l0.3 1.2M59.9 69.1l0.6 1.1M54.2 72.2l-0.8 0.9M58.5 76.6l-0.8 0.9M57.9 75.7l0.7 0.9M60.9 69.5l1.1 0.4M64.5 74.3l0.7 1M53.8 76.9l0.3 1.2M57.3 75l1.2 0.3M66.6 74.4l1.1 0.6M56.1 70.9l-0.9 0.8M61.1 82l-0.7 1M62.6 67.5l-1.2 0.1M61.4 79.6l-1.2 0.1M63.1 69.4l-1.1 0.5M58.9 72.8l0.5 1.1M53.1 69.6l1 0.6M63.8 67.3l0.7 1M56.5 77.8l0.1 1.2M54.9 74.2l-0.1 1.2M56.4 69.5l-0.2 1.2M66 69.5l0.5 1.1M54.4 77.1l-1.1 0.5M65.2 68.3l0.7 0.9M55.5 75.4l0.1 1.2M61.8 74.4l-1.1 0.4M57.4 74.2l-1 0.7M52.5 76l0.7 1M57.2 80.4l0.9 0.8M65 72l-1 0.7M61.6 65.6l1.2 0M57.9 78.7l1.1 0.5M60.1 67.1l-0.1 1.2M60 79.1l-0.1 1.2M56.6 69.4l1 0.6M57.2 69.8l1.2 0.2M58.7 79.5l1 0.7M61.3 70.3l-0.9 0.8M60.8 76.3l0.1 1.2M57.2 66.3l-1.2 0.1M59.5 83.6l-0.9 0.7M85.9 32.7l-1.2 0.1M81.4 40.2l1.2 0.1M82.5 33.6l1 0.7M88.2 43.6l1.2 0M87.9 33.1l0.3 1.2M85.9 41.6l0.6 1M87.9 42.2l1.2 0.2M87 38.5l-0.2 1.2M83.1 40l1.1 0.3M84.5 34.5l0.7 1M88.6 36.3l0.9 0.8M85.8 37.9l-1 0.7M83.6 38.7l0.3 1.2M84.1 38.8l0.8 0.9M83.1 42.7l1.2 0.2M86 41.6l0.3 1.2M89.9 40.9l-0.5 1.1M88.2 44.2l-0.6 1M84.9 38.1l-1.2 0.3M84.1 31l-1 0.7M82.7 37.2l0.9 0.8M83.2 33.7l1.1 0.5M91.5 37.5l-0.9 0.8M91.5 40.3l-0.9 0.7M84 34.2l0 1.2M84.4 31.8l-1 0.6M84.2 38.5l-0.2 1.2M89.9 39.1l0.8 0.9M85.8 36.7l1 0.6M90.3 35.3l1.2 0.1M86.5 43.3l-0.5 1.1M86.4 31.9l-1.1 0.4M84.2 43.7l-1.1 0.3M86.6 29l0.1 1.2M83.9 41.4l-0.6 1M90.1 40.7l-1.2 0.3M89.6 30.2l-1 0.7M88.7 34.6l-0.4 1.1M85.3 43.9l0.3 1.2M89.4 35.2l-0.1 1.2M88.1 41.6l1 0.6M85.1 40.9l1 0.7M89.6 39.9l-0.7 1M91.3 33.2l-1.2 0M88.6 31.5l-0.2 1.2M83.3 36.1l0.3 1.2M85.6 40.7l0.5 1.1M95.2 40.1l0.2 1.2M89.4 43.2l-1 0.7M92.2 38.4l0.2 1.2M95.5 45.6l-1.2 0.2M86.9 41.5l1.1 0.6M87.9 32.7l0.7 1M94.6 32.1l-0.1 1.2M89.4 32.3l0.3 1.2M93.8 47.1l-1.1 0.5M87.6 36.8l-1 0.6M95.8 46.2l-1.2 0.3M93.2 37l-0.4 1.1M95.2 34.8l1.2 0.1M94.4 40.6l-0.3 1.2M86.7 37.9l-0.2 1.2M92.4 35.7l0 1.2M93 31l0.8 0.9M96.4 43l-0.7 0.9M91.2 42.5l-1.2 0.3M90 31.2l1.1 0.4M94 38.5l-0.6 1M92.1 44l0.5 1.1M95.6 34.6l-0.1 1.2M96.7 37.6l-1.1 0.4M96.7 37.9l-1.2 0.1M87.2 38.1l-0.5 1.1M86.2 40.4l1 0.7M94.6 40.7l-1.2 0.3M92.8 47.4l1 0.6M95.1 39.8l0.4 1.1M96 36l-1 0.6M90.9 34.9l0.7 1M90 39.6l0.8 0.9M91 39.9l-1.2 0.2M90.3 46l-1.2 0.2M90.8 33.9l0.7 1M91.4 31.7l0.4 1.1M88.9 31.7l0.8 0.9M95.7 39.1l1.1 0.5M95.6 36.9l0.8 0.8M92.8 30.6l-1.2 0.1M92.1 45.4l1.2 0.3M85.8 40.1l0.9 0.8M94.3 33l1 0.7M86.6 43.1l1.2 0.3M90 32l-0.1 1.2M92.5 48.7l-0.8 0.9M95.4 42l-1 0.6M89.3 32.3l-0.5 1.1M89.8 42.6l-1 0.6M88.7 47.5l1.2 0M95.8 35.6l0.8 0.9M88.7 43.2l-1.2 0.1M86.4 54.5l1.2 0.3M89.5 54.3l0.8 0.9M83.3 53.6l0.1 1.2M80.1 53.8l0.8 0.9M91.6 54.6l-0.2 1.2M88.4 55.8l1.2 0.2M86.8 50.8l0.9 0.8M87.2 58.5l-1.2 0.2M88.2 45.7l1.1 0.5M87.5 44.7l-1.1 0.4M85.7 47l1 0.6M88.8 44.1l-1.2 0M85 57.9l-0.6 1M89.1 53.9l-0.5 1.1M90.4 50.9l1.1 0.5M85 58.8l1.2 0.2M82.3 44.4l-0.9 0.8M84.9 47.5l1 0.6M85 56.7l1 0.7M89.5 51.4l-1 0.6M84 46.7l-1.1 0.5M82.1 55.4l1.2 0.2M87.5 47.9l-1.2 0.1M89.7 45.4l-0.1 1.2M86.8 56.2l0.4 1.1M78.5 52.3l1.1 0.4M81.3 44.9l0.4 1.1M91.7 52.9l-1.2 0M85 57l0.8 0.9M91 54.5l1.1 0.5M86.7 51.6l1.1 0.5M86 52.3l1.1 0.5M92 51.5l0.5 1.1M80.2 52.2l-1.2 0.3M84.9 51l1.2 0.3M82.6 46.3l1 0.7M84 45.3l-1.2 0.2M89.5 45.4l-1.2 0M89.5 50.6l-1.2 0.1M90.2 49l0.9 0.8M91.6 54l0.5 1.1M83.1 55l-1.2 0.2M79.3 54.4l0.1 1.2M80.4 51.1l-0.7 1M88.6 47.9l0.7 1M81.9 57.7l1.2 0.1M86.8 47.3l0.6 1.1M87 49.1l-0.8 0.9M88.3 45.2l-0.9 0.8M79.5 47.8l-0.3 1.2M81.5 49.7l0.1 1.2M83.8 52.8l-0.1 1.2M79.8 56.3l0.2 1.2M85.2 59l-0.1 1.2M82.1 46.7l-1 0.6M81.7 45.7l1 0.7M88.6 49.8l-0.4 1.1M90.8 48.5l-1.2 0.3M80.8 45.3l-1.1 0.6M91.7 51.3l1 0.6M89.3 53.8l-1.2 0.1M86.9 54.4l-1.1 0.6M88.9 57.1l1 0.6M96.1 40.5l0.8 0.9M99 44.2l1 0.7M96.1 46.3l1.2 0.2M96.8 54.1l-1.2 0.1M98.3 55.1l0.3 1.2M94.1 53.2l-1.1 0.5M98.2 53.2l1.1 0.4M95.8 40.8l1.2 0.1M96.1 51.1l-1.1 0.5M97.8 51.2l-1 0.7M95.1 40.3l-1.2 0M101.5 49.1l-0.7 1M96.2 48.4l-0.1 1.2M97.3 49.3l-0.9 0.8M98.4 40.4l1.1 0.3M97.9 49.5l-0.2 1.2M98.6 53.2l0.2 1.2M92.3 43.6l1.1 0.5M97.9 44.6l-0.4 1.1M93.3 45.2l0.6 1M96 48.2l0 1.2M95.7 50.5l0.5 1.1M100.5 43.3l0.6 1M94.6 50l0.5 1.1M100.3 43l-0.4 1.1M100.2 43.3l-1.2 0.1M96.1 53l-1.2 0.2M99.9 47.6l-1.1 0.5M99.8 50.7l-1 0.6M96.1 39.1l0.7 0.9M94.8 45.2l-1.2 0.1M99.7 44.2l0.8 0.9M96.3 39.6l1.1 0.5M99.6 44.6l0 1.2M95.1 42.6l-0.8 0.9M96.3 39.4l0.6 1.1M97.6 54.9l-0.5 1.1M95.8 41.2l0.8 0.9M99.4 50l-1.2 0.1M97.2 45.5l0.2 1.2M97.5 55.9l0.1 1.2M99.2 51l-0.1 1.2M99.7 55.5l-1.1 0.5M97.2 52.8l-1.2 0.1M101.1 43.1l-0.1 1.2M97.1 41.4l0.2 1.2M89.7 78.8l-0.4 1.1M84.7 78.9l1.2 0.3M91.9 78.6l0.3 1.2M94.3 81.6l-1.1 0.6M90 79.6l-0.9 0.8M89.3 82.4l1.2 0.2M94.7 79.1l-1.1 0.5M93.2 81.1l0.4 1.1M95.3 82.9l-1.2 0.1M94.6 81l0.5 1.1M85.8 79l0.9 0.7M94.6 81.8l-0.2 1.2M87.4 79.6l-1.1 0.4M85.4 78.5l0.3 1.2M84.9 80.1l-1.1 0.5M94.6 80.7l-0.7 0.9M86.3 82.4l0.5 1.1M87.5 82.9l0.7 1M90.9 82.4l0 1.2M92.1 81.7l0.4 1.1M95.6 77.8l0.5 1.1M87.7 77.9l-0.6 1.1M86.6 82.4l-1.1 0.5M84.4 67.7l-0.3 1.2M82.6 74.1l1.1 0.5M85.7 70.3l0.9 0.8M83.8 75.8l0.5 1.1M89.4 74.4l-0.4 1.1M82.4 70.1l1.1 0.5M89.3 71.7l1.2 0.3M85.8 76.7l0.6 1M88.2 68.6l0.8 0.9M81.3 70.6l1.2 0.1M89 68.8l-0.1 1.2M81.7 69.1l-1.2 0.3M81.3 70.5l-0.1 1.2M86 70.9l-0.8 0.9M91.1 72.7l-1 0.6M86.1 73.7l-1 0.6M87.3 76.5l-1.2 0.3M80.7 72.6l0.2 1.2M83.6 67.6l-0.7 1M86.9 67.2l1.1 0.4M86.5 69.6l-1.1 0.4M85.4 69.3l0.4 1.1M85.8 67.5l0.1 1.2M82.3 72.8l-1.1 0.4M87.9 76.7l0.7 0.9M86.9 68.1l1 0.7M90 71l-1 0.6M91.2 72.6l-0.4 1.1M88.7 73.4l1.2 0.3M81 69.6l1.2 0.1M90.5 75.4l0.5 1.1M88.3 73.2l1.2 0M90.7 70.3l-1 0.6M92 74.2l1 0.7M85.2 72.7l0.8 0.9M92.5 71.3l0.4 1.1M84 72.7l0 1.2M88.3 74.6l0.3 1.2M85.4 71l-0.5 1.1M91.8 73l-0.6 1.1M88.6 68.6l0.2 1.2M89.3 75l1.1 0.4M90.2 70.6l-1.2 0.1M88.4 74.5l-0.7 1M86.5 76.9l1.2 0.3M84.8 72.1l0.2 1.2M90.2 70.7l-0.9 0.8M86.6 71.1l-1.2 0M90 69.7l1.2 0.2M88.2 77.9l1.2 0M84.5 69.6l0.1 1.2M87.2 74l0.3 1.2M85.9 76.9l-1.1 0.4M92.2 72.4l-1 0.6M91.1 69.3l0.6 1M91 71.2l0.3 1.2M91.4 74.2l-0.3 1.2M89.5 68.9l-1.1 0.4M84.9 74.3l1 0.7M94.2 82.2l0.4 1.1M91.1 84.1l1.2 0.3M97.5 83.8l-0.5 1.1M87.5 77.6l1.2 0.1M88 81l-1.2 0.2M92.8 79.8l-0.1 1.2M88.1 78.5l-0.3 1.2M98.9 77.2l1.2 0.3M93.5 83.6l0.9 0.8M91.8 83.5l0.1 1.2M101 77.6l-1.1 0.5M94.4 74.8l-0.1 1.2M96.1 82.7l0.8 0.9M96.9 75.3l-1.2 0.1M90.9 75.4l-0.6 1M94.3 84.2l-0.1 1.2M94.8 79.7l1 0.7M95.4 77.9l0.7 1M88.9 81.8l-1.1 0.4M98.5 77.7l1.1 0.5M93.2 82.2l-0.1 1.2M100.7 79.5l-0.4 1.1M92.5 78.8l0.5 1.1M97.9 79.6l-0.9 0.8M94.9 76.2l-1.2 0.3M99.2 81.9l-1.1 0.5M96.3 83l-0.8 0.9M100.2 80.3l1 0.7M91.1 81.9l1.2 0.2M93.1 82.9l0.3 1.2M90.8 77l0.7 1M95.9 84.2l1 0.7M100.1 78.6l-1.1 0.5M95.8 82.1l0.9 0.8M99.3 81.4l-1 0.6M98.6 79l-1.2 0.2M101 10.4l1.1 0.4M104.4 12.6l-1.2 0.3M103.8 7.8l0.4 1.1M103 8.5l0.9 0.7M103.6 11.2l1 0.7M103.1 9.8l1.2 0.1M100.6 10l0 1.2M102.1 9l0.4 1.1M103.5 12.2l-1.1 0.5M103.8 11.2l-1 0.6M102.6 10.6l1.2 0.2M98.5 12.2l0.4 1.1M100.7 10.1l0.4 1.1M99.9 11.9l1 0.6M99.3 14.1l0.8 0.9M100.7 11.5l0.8 0.9M100.1 8.2l-0.7 1M98 10.3l0.6 1.1M100.7 10.5l1.1 0.4M100.3 10.7l0.9 0.8" stroke="#828288" stroke-width="1.1" stroke-linecap="round" fill="none" stroke-opacity="0.45"/><path d="M17.2 9.9l0.7 0.7M23.1 6.6l-0.1 1M12.7 9.8l0.4 0.9M21 9.6l-0.3 0.9M26.1 10.1l-0.4 0.9M16.9 10.8l1 0.2M17 12.5l1 0M27.9 9.4l-0.9 0.5M16.4 10.4l0.7 0.7M19.6 7.6l0.7 0.7M25.1 9.9l-1 0M26.5 8.8l0.1 1M28.5 11.6l-0.9 0.5M14.6 6.4l0.1 1M16.5 11.8l-0.4 0.9M25 9.8l0.9 0.5M22.9 6.7l-0.4 0.9M22.7 7.3l-0.9 0.4M22.7 8.4l-0.1 1M17.9 8.1l-0.7 0.7M23.9 12.2l-0.5 0.9M12 10.8l1 0.2M19.2 12.1l-0.7 0.7M27.5 7.6l-0.3 1M21.2 12l0.6 0.8M28.8 8.6l1 0.1M15.2 10.1l-0.9 0.4M27.9 10.8l0.1 1M23.6 10.5l-0.6 0.8M25.2 9.7l-0.9 0.4M15.8 10.8l-0.6 0.8M24.2 11.4l-1 0.2M20.7 8l0.3 0.9M25.9 11.1l-0.8 0.6M28.6 7.2l0.2 1M19.7 11.1l-1 0.2M29.9 9.1l-0.9 0.4M27.8 10.1l1 0.3M15.6 13.1l0.9 0.4M24.3 8.2l0.8 0.6M15.1 11.7l-1 0.1M19.1 13.4l0.2 1M16.9 10.7l-0.4 0.9M12 12l0.6 0.8M22.6 12.8l0 1M18.6 14l0.4 0.9M18.7 14l0.5 0.9M31.1 9.8l-0.3 1M23.8 9.8l-0.3 1M13.4 12.4l-1 0.3M22.6 13.7l-0.5 0.8M29.6 9.2l-1 0.2M20.4 12.3l-0.9 0.4M28.4 12l-1 0M17 10.7l-0.5 0.9M25.5 9l0.9 0.5M15.6 9.4l-0.9 0.4M18.5 13.9l-1 0.1M19.2 12.9l-1 0.3M29.3 13l-0.2 1M23.9 10.9l-0.6 0.8M21.1 10.5l0.8 0.6M17.3 12.3l-0.9 0.5M27.9 9.9l-0.2 1M15.5 11.1l0.6 0.8M21.4 13.1l1 0.2M23.7 11.6l-0.9 0.4M13.9 10.7l-1 0M19 10l1 0.3M24.9 9l-0.8 0.6M17.5 10.2l0.3 1M25.2 13.7l0.9 0.5M21.1 7.2l0.6 0.8M25.8 13.2l-0.7 0.7M19.3 11.3l-0.9 0.4M20.2 12.2l1 0.1M18.2 7.5l-0.4 0.9M19.8 8.7l1 0.1M16 8.2l-0.6 0.8M18.5 13.3l0.5 0.9M28.8 7.4l-0.9 0.4M19.6 10.5l-1 0.1M18.9 7l0 1M25.7 12.6l-1 0M23.9 12.9l0.6 0.8M21.7 8.8l1 0.2M19.7 7.3l-0.3 1M17.8 13.1l1 0.1M26.3 8.5l0.8 0.6M22.1 5.9l0.3 1M25.6 8.2l-0.3 0.9M20.4 7.9l0.9 0.5M14.8 7.7l1 0.1M28.9 6.9l-0.9 0.4M16.7 8l0.6 0.8M17.9 6.4l-1 0.1M17 6.5l-0.9 0.3M21.6 4l0.4 0.9M16.2 5.6l0.1 1M21.8 5.8l-0.1 1M24 6.1l-0.4 0.9M26 4.7l-0.3 1M28.6 6l-0.2 1M20.1 5.6l-0.4 0.9M20.9 13.3l-1 0.2M26.1 7l0 1M23.8 13.3l0.2 1M25.7 7.8l-0.6 0.8M23.5 10.4l0.7 0.7M14.4 7.5l0.6 0.8M22.7 14l-1 0.1M25.8 9.6l-0.1 1M11.1 6.5l-0.2 1M10.6 8.2l1 0M15.6 9.6l0.3 1M19.6 7.6l-0.2 1M21.4 10.5l1 0.1M17.5 6l-0.4 0.9M20.6 11.9l-0.4 0.9M15.5 5.7l1 0.2M22 4l-0.4 0.9M23.2 4.6l0.1 1M17.7 6.8l-0.5 0.8M13.7 8.8l0.4 0.9M20 10.3l-0.6 0.8M24.2 6.4l-0.7 0.7M24.2 9.7l1 0.1M20.3 8.5l1 0.2M27 6l-0.5 0.9M28.2 8.5l-1 0.1M23.1 10.4l0.7 0.7M29.9 6.1l0.1 1M12.5 9.9l-0.3 1M16.7 7.7l0.5 0.8M11.9 9.9l0.4 0.9M21.3 4l0.6 0.8M26.4 7.4l0.4 0.9M17.3 3.8l-0.3 1M28.6 5.8l0.6 0.8M24.2 5.8l0.4 0.9M14.3 10.1l-0.8 0.7M23.8 9.7l1 0.1M16.7 9l-0.2 1M23.8 10.9l-0.7 0.7M18.8 8.6l0.6 0.8M22.7 3.7l0.8 0.6M21.8 11.3l-0.8 0.6M24 8.7l0.7 0.7M24 10.8l0.8 0.6M10.8 6.2l0.2 1M15.2 4.5l-0.6 0.8M25.3 5.6l0.9 0.3M20.4 9.4l0.5 0.8M25.8 4.6l0.5 0.9M14 4.5l-0.9 0.5M22.4 5l0.2 1M23.2 10.4l-0.9 0.4M28.4 5.8l0.9 0.5M63.5 9.2l0.5 0.9M58.6 10.3l-0.5 0.9M67.4 7.1l-0.9 0.4M65.5 9.8l0.2 1M63.5 6.9l0.8 0.6M60.6 12.7l0.9 0.4M67.2 9.4l-0.1 1M66.3 7.2l0.8 0.6M65.9 8.1l-0.8 0.6M58.7 8l-0.9 0.5M65.3 11.1l0.8 0.5M65.2 9.1l0.6 0.8M64.4 6.2l-0.8 0.6M63.3 12.8l-0.4 0.9M64.1 8l-0.8 0.6M68.2 8.9l0.5 0.9M61.9 9.5l0.9 0.4M63.9 6.5l0.6 0.8M63.7 8.3l-0.8 0.6M58.1 9.6l0.7 0.8M66.2 10.9l0.5 0.9M64.9 16.9l0.3 1M61.5 14.9l0.2 1M66.7 13.3l0.3 1M65.7 12.2l-1 0.2M68.8 10.3l0.9 0.5M70.2 10.4l1 0M69.2 12.8l-1 0.2M71.4 15.8l-0.9 0.4M62.7 15l-1 0M63.4 14.7l0.2 1M66.9 10.1l-1 0.2M63.9 13.8l-1 0.2M65.7 12.1l0.8 0.6M63.1 14.6l-0.7 0.7M65.1 8.3l-0.9 0.5M63.4 17.7l-0.5 0.9M65.8 9.8l-0.1 1M63.4 12.1l0.6 0.8M66 12.6l0.5 0.9M68.8 11.4l0.8 0.7M67.7 13.9l1 0.2M65.4 16l-0.3 1M68.1 10.3l0.6 0.8M69.5 12l-0.8 0.6M63.3 18.7l1 0.1M70.4 9.2l-1 0.3M68 14.5l-0.6 0.8M66.1 10.4l-1 0.2M68.4 14.8l-0.9 0.3M65.9 16.7l-1 0.3M67.2 8.3l-0.2 1M72.4 15l1 0M65.8 9.7l-0.7 0.7M75.6 11.6l0.9 0.5M73.5 14.1l0.6 0.8M71 9.3l-0.5 0.9M75.5 12.2l-0.1 1M66.4 9.2l0.3 1M70.9 8.7l-1 0.2M76.1 12.6l-0.3 0.9M73.4 11l0.5 0.9M71.2 8.1l0.7 0.7M67.4 12.8l-0.9 0.4M65.9 9.5l0.1 1M66.2 13.4l-0.8 0.6M73.6 10.9l0.4 0.9M71.7 11l0.8 0.6M65.6 9.6l-0.1 1M67.9 12.9l-0.8 0.5M69.1 14.1l0.9 0.5M67.6 13.3l-0.8 0.6M70.9 14.9l-1 0.2M71.2 13.7l-0.8 0.6M56.6 16.9l-0.9 0.5M59.8 18l1 0M61.4 12.7l-0.4 0.9M64.5 18.9l-0.9 0.4M61.3 19.4l1 0.2M60.6 19.7l0.7 0.8M57.7 18.3l0.7 0.7M61.8 12.5l-0.1 1M59.5 17.9l0.2 1M57.6 14.3l0.1 1M60.7 14.9l-0.8 0.6M60.4 16.4l1 0M60.8 14.6l1 0.2M60.2 13.3l0.9 0.4M63.8 15.2l0.9 0.4M61 15.1l1 0.2M63.4 14.7l-1 0.1M65.3 17.1l-0.9 0.4M60.5 19.5l1 0.3M30.7 29.7l0 1M24.8 30l0.5 0.8M28.6 28.3l0.6 0.8M29.1 29l0.5 0.9M30.3 29.3l-0.4 0.9M26.2 27.2l-0.3 1M26 27.3l0.4 0.9M31 31.1l0.8 0.6M31 30.1l0.5 0.9M29.1 27.7l0.9 0.4M27.5 27.4l-0.2 1M22.8 26.6l-0.6 0.8M23.4 25.2l0.4 0.9M21.1 28.9l1 0.2M18.9 27.3l0.8 0.5M22.6 24.4l0.4 0.9M20.8 26.1l-0.3 0.9M20.6 23.9l-0.8 0.6M19.7 23.8l0.4 0.9M24.2 26.2l-0.8 0.6M20.8 25l-0.4 0.9M20.9 25l0.2 1M20.9 28.7l0.4 0.9M21 27.8l0 1M23 28.4l-0.6 0.8M21.4 27.7l0.2 1M21.3 25.4l-0.6 0.8M19.4 29.1l0.1 1M21.5 27.2l0.7 0.7M18.3 26.6l-0.1 1M23.6 29.4l-0.6 0.8M22 26.2l1 0.2M12.6 29.6l0.2 1M23.8 31.3l0.2 1M15.4 30.3l-0.9 0.4M18.6 32.9l-1 0.2M22.8 31.9l0.4 0.9M13.8 32.2l-0.9 0.3M24.1 29.6l-0.8 0.6M20.4 31.3l0.7 0.7M14.1 28l0.1 1M15.2 29.2l0.9 0.4M20.3 28.5l-0.8 0.6M15 29.2l-0.5 0.9M23.5 29.8l-0.9 0.3M22.7 32l-0.8 0.6M16.5 31l-0.5 0.9M15.4 30.4l-0.7 0.7M21.3 29.8l-0.2 1M17.4 30.5l0.9 0.3M16.8 32.6l-0.3 1M50.4 33.3l1 0M50.9 31.7l0.9 0.4M54.6 36.9l-0.8 0.7M53.5 32.7l1 0.1M54.8 31.8l1 0.3M50.9 34.8l1 0.3M56.2 32.2l-0.9 0.4M53.1 35.8l0.8 0.5M52.7 30.8l1 0.1M53.7 29.3l-0.9 0.5M56.4 34.2l0.9 0.4M55.8 29.6l-0.9 0.5M57 32.3l-0.5 0.9M54.8 36.4l-0.9 0.5M56.6 30.1l-1 0.1M53 32.5l-0.2 1M53.3 32.4l-0.8 0.6M53.3 34.4l1 0.1M52.5 36l-0.7 0.7M50.8 33.3l0 1M50.4 33.9l-0.6 0.8M54.8 37.3l0.9 0.3M52 31.2l-0.7 0.7M51.1 33.3l-1 0.2M55 31.8l1 0.2M52.9 37.5l0.5 0.9M54.6 35.8l-0.2 1M55.5 32l-0.9 0.5M55.7 37l0.7 0.7M52.7 33.9l0.8 0.5M51.8 35.9l0.7 0.7M53.1 37.1l-0.4 0.9M60.8 36.9l-0.7 0.7M62.6 33.2l0.3 0.9M55 36.2l0.4 0.9M58 32.2l0.3 0.9M58.4 37.6l0.5 0.9M58.2 38.1l0.3 1M57.6 35.1l1 0.3M55.4 34l0 1M60.7 35.8l-1 0.1M55.8 36.1l0.3 1M65.6 37.1l-0.7 0.7M60.7 32.9l0.9 0.5M56.2 35.4l-0.6 0.8M57.3 37.7l-0.7 0.7M57.3 35.6l-0.5 0.9M58.9 35.8l-0.1 1M58.1 34.3l0.1 1M60.2 37.3l-0.4 0.9M60.7 33.2l-0.9 0.3M56.4 34.5l0.9 0.5M56.9 34.7l1 0.3M60.3 39.4l-0.7 0.7M59.1 37.6l-1 0.3M60.8 40.1l-0.1 1M59.6 36.8l0.2 1M59.7 40.8l-0.6 0.8M54.7 38.8l0.8 0.6M57.3 40.6l0.7 0.7M62.7 38.5l0.8 0.6M59.7 40.9l-0.3 1M61.4 41.3l0.5 0.8M58.3 41.9l0.7 0.7M59.7 40.2l-0.6 0.8M57.9 40.6l-1 0.1M56.9 40.4l0.6 0.8M57.9 39.3l-0.6 0.8M56 36.6l0.3 1M59.7 40.1l-0.9 0.4M19.8 49.8l-0.3 1M9.5 49l0.7 0.7M22.7 47.7l0.8 0.6M18 52.1l1 0.1M16.9 50.6l0.1 1M22 50l0.4 0.9M23.6 48.1l0.9 0.5M20.1 49.8l0.4 0.9M11.5 53.4l0.5 0.8M21 51.6l-0.8 0.7M20.9 46.2l0.9 0.4M19.2 53.3l-1 0M15 47.6l0.1 1M20.8 46l-0.3 1M13 51.6l0.1 1M23.3 52.3l-0.9 0.5M18.9 53.4l-0.8 0.5M14.3 45.4l-0.2 1M17.4 46.6l0.1 1M14.7 47.3l-0.6 0.8M14.9 45.1l-0.9 0.4M9.3 50.3l0.3 1M16.1 48.8l-0.7 0.7M17.6 52.1l-1 0.1M13.5 44.8l0.1 1M16.8 54.6l0.8 0.7M17.6 52.8l0.7 0.7M19.1 47.1l-0.6 0.8M17.6 48.5l-0.5 0.9M14.8 54.5l-1 0.1M15.1 48l-0.9 0.4M9.9 49.7l0.7 0.7M23.6 50.5l0.8 0.6M23.7 50.3l0.7 0.7M13.6 45.4l0.8 0.6M13.8 51.3l-0.6 0.8M8.7 49.8l-0.9 0.4M21.4 51.8l-1 0.3M9.5 46.2l0.7 0.7M14.4 44.6l-0.9 0.4M14.3 46l0.6 0.8M17.6 48.9l0.2 1M16.6 48.8l-0.7 0.8M22.6 45.4l1 0.3M15.2 46.4l1 0.3M23.8 39.3l-0.9 0.5M18.8 47l0.6 0.8M17.5 45.4l0.4 0.9M16.1 43.7l-0.2 1M27.8 47.8l-0.5 0.9M25.8 49.3l1 0M21.9 44.3l0.5 0.9M25.6 43.3l0.2 1M16.8 48l0 1M26.2 47l0.8 0.6M25.2 40.7l-0.3 1M25 45l-1 0.1M23.8 42.1l0.3 0.9M20.2 39l-0.1 1M22.1 39.2l0.9 0.4M15.1 42.9l0.7 0.8M21.3 41.1l-0.5 0.9M26.2 46.8l0.9 0.3M17 42l-0.9 0.3M20.4 51.1l-1 0.3M17.4 42l1 0.3M23.7 47.2l-1 0.2M20.7 49.8l0.4 0.9M16.6 47.6l-0.8 0.7M19.3 50l-0.7 0.7M27.2 43.3l0.6 0.8M23.1 40.8l-0.5 0.9M17.6 45.3l-0.5 0.9M16.4 48.3l-0.8 0.6M17.9 50.1l0.7 0.7M21.7 40.9l-0.7 0.7M17.9 46.5l-1 0.1M15.2 45.9l-0.5 0.9M18.5 40.6l-0.1 1M17.6 42.6l0.9 0.3M24.8 47.3l0 1M23.8 38.6l0.4 0.9M27.6 45.4l-0.6 0.8M22.6 38.9l-0.5 0.8M25.6 43.2l-0.2 1M23.6 48.1l0.8 0.5M28.5 45.2l-0.4 0.9M16.4 46.1l-0.4 0.9M16.1 44.4l0.8 0.5M17.6 48.7l-0.9 0.3M26.9 39.4l-0.5 0.9M8.5 55.2l0.9 0.4M7.4 54.6l-1 0.2M13 57.3l0.9 0.4M6.4 56.4l0.5 0.9M17.1 59.1l-0.6 0.8M9.7 53.3l-0.3 1M10.7 60.7l-0.2 1M17.1 52.3l-0.4 0.9M15.9 55l0.1 1M9.3 58.4l0.6 0.8M12.2 60.2l0.9 0.5M19.6 54.8l1 0.2M16.7 60.9l-0.6 0.8M12 54.3l-0.7 0.7M12.4 58.1l-0.1 1M7.8 58l-0.7 0.7M11.1 59l0.4 0.9M13.8 62.1l0.7 0.7M13.7 60.2l0.4 0.9M15 60.6l-0.9 0.4M14.8 51.8l1 0.1M7.3 53.8l0 1M12 61.1l0.7 0.7M11.6 58.7l-0.7 0.7M10.9 58l0.4 0.9M11.4 54.9l0.5 0.9M12.1 51.8l0.3 1M18.8 56.9l-0.1 1M10.6 53l-0.8 0.7M13 56l0.4 0.9M14.3 54.6l-0.9 0.5M20.2 57.3l0.9 0.3M10.4 57.6l0.7 0.8M16.5 59.5l1 0.3M12.7 55.9l0.9 0.3M9.1 56.2l-0.8 0.6M17.8 53.9l-0.7 0.8M16.6 60.4l0.8 0.5M15.5 57.6l0.8 0.6M18.5 53.9l0.3 1M12.1 58.6l-0.7 0.7M17.5 59.5l-0.8 0.5M7.6 59.2l-0.7 0.7M13.5 53.2l-0.3 1M13.2 52.9l0.9 0.4M13.1 52.6l0.3 0.9M16.9 55.9l0.8 0.6M16.7 51l-0.1 1M12.7 49.4l-0.2 1M13.1 50.9l0.8 0.6M19 49.4l0.7 0.7M16.7 52.9l-0.8 0.6M18.8 51.2l1 0.1M16.7 53.1l-0.8 0.6M17.7 57.3l-0.9 0.3M15.3 51.7l-1 0.2M16.5 47.9l0.4 0.9M19.8 54.8l-0.2 1M15 55.4l-0.3 1M15.8 56.4l-0.4 0.9M21.1 55.8l-1 0.1M19.7 56.8l-0.6 0.8M19.3 53.2l0.6 0.8M16.2 58l-0.9 0.4M13.6 57l0.1 1M15.4 53.9l-0.3 0.9M15.8 53.6l-0.7 0.8M13.9 53.2l1 0M17.2 54.7l-0.8 0.7M32.2 65.7l-0.5 0.9M31.1 63.6l0 1M33.8 62.8l-0.1 1M32.8 63.7l0.1 1M29.4 61.9l0.8 0.6M31.9 62.7l-0.1 1M34.4 61.4l1 0.1M32.1 62.8l0 1M31.2 63.3l-0.4 0.9M32.2 64.4l0.2 1M30.1 61.2l-0.2 1M30.7 61.2l-1 0.1M31.8 60.2l-0.9 0.3M29.8 61.6l0.9 0.4M31.6 60.1l-0.8 0.6M33.7 63l-0.4 0.9M30.2 59.9l1 0.2M30.6 62l0.4 0.9M32.4 62l0.7 0.7M30.1 61.8l1 0.2M59.7 59.1l-0.1 1M63.3 61.9l-1 0.2M61 66.5l0.5 0.8M62.4 54.7l-0.9 0.4M59.1 59l-0.6 0.8M63 56.7l0.9 0.4M60.5 73l-0.9 0.4M60.7 58.3l-0.3 0.9M60 63.6l-1 0.2M62.2 65.2l-0.6 0.8M62.6 57.5l-0.7 0.7M54.2 57.8l0.5 0.9M60 67.2l-0.8 0.6M60.1 73.2l-1 0.2M60 65.5l-0.9 0.4M64.3 65.9l0.2 1M63.3 60.5l-0.7 0.7M61 57.5l0 1M65.5 62.6l0.9 0.3M60 69.4l1 0.1M55.1 62.5l1 0.2M52.8 66.4l0.8 0.6M64.1 65l0.9 0.5M60 54l0 1M63.8 59.2l-0.6 0.8M55.8 70.5l-0.1 1M53.5 59l0.2 1M65.2 69.4l-0.5 0.9M58.9 53.7l0.6 0.8M60.1 71l0.1 1M63.6 58.2l-0.7 0.7M64.5 69.1l0.3 1M61.3 67l0.8 0.5M65.8 63.5l-1 0.3M67.6 61.1l-0.6 0.8M62.2 67.2l0.4 0.9M60.2 59.3l0.4 0.9M62.1 65.2l-0.1 1M65.3 56.7l-0.3 1M63 59.1l0.8 0.6M60.1 71l1 0M63.2 64.5l0.8 0.6M67 58.5l-0.8 0.6M57.3 67l0.9 0.4M54.7 57.3l0.1 1M54.8 60.6l0.8 0.6M56.6 56.4l0.8 0.6M58.6 69l0.9 0.5M55 64.4l0.3 1M63.1 63.3l0.9 0.5M65.2 64.9l1 0.1M66.9 62.2l0.9 0.3M64.3 71.4l0.9 0.5M63.4 60.6l0 1M59.9 68.1l1 0.2M54.1 64.6l1 0.1M61.4 70.1l0.2 1M57.2 62.7l0.3 1M59 60.7l-0.6 0.8M56.5 64.9l1 0.2M63.6 69.2l0.3 1M62 56.7l0.3 0.9M61.9 66.9l1 0.1M64.5 58.4l-1 0.1M59 69.6l0.8 0.6M63.2 69.6l1 0.3M66.8 63.7l0.1 1M61.2 69.1l0.9 0.5M62.2 62.9l-0.4 0.9M56.7 69.9l0.5 0.9M55.1 57.1l0.9 0.4M61.7 57.7l1 0.2M61.2 58.8l-0.7 0.8M66.1 63.8l0.6 0.8M71.3 73.7l-0.8 0.6M63.6 75.4l0.1 1M67.7 77.1l-1 0.2M67.1 64.1l0.6 0.8M61.9 68.4l0.7 0.7M64.2 77.3l0.7 0.7M69.5 75.9l-0.8 0.5M61.6 65.4l-0.4 0.9M65 63.2l0.5 0.9M59.3 69.3l1 0.3M61.4 67l-0.5 0.8M65.8 70l-1 0.1M68.2 73.7l-0.3 1M60.9 77.1l1 0M69.5 76.5l1 0.1M61.8 68.7l1 0.3M67.3 69.6l0.9 0.5M61.2 81.7l1 0.1M64.5 77.5l1 0.2M69.1 74.8l-0.5 0.9M62.1 69.8l-1 0.3M59.6 69.7l0.8 0.6M59.2 69.6l-1 0.1M65 69.9l0.1 1M70.3 68.3l-0.8 0.6M66.2 63.7l-1 0.3M67.4 69.1l-1 0.2M60.1 77.8l1 0.1M58.9 71.6l0.6 0.8M60 76l-0.3 0.9M62.8 77.3l-1 0.2M61.6 67.9l1 0.3M61.8 77.7l0.6 0.8M62.6 76.8l-0.9 0.5M60.9 78.1l0.9 0.4M67.5 77.4l0.3 0.9M62.5 67.6l0.5 0.9M66.2 67.5l-0.5 0.8M61.1 74.7l-1 0.2M62.3 79.1l0.9 0.5M70.6 67.1l-0.7 0.7M69.9 78.8l-0.7 0.7M62.2 67.7l-0.9 0.5M66.1 77.7l-0.2 1M63.2 74.4l-1 0.2M69.3 65.9l0.4 0.9M66.7 72.2l0.3 1M68.1 81.2l0.8 0.7M62.4 70.4l-0.8 0.6M64.2 65l0.1 1M63.7 63.4l0.7 0.7M64.9 78.2l0.9 0.5M61.9 64.3l-0.6 0.8M60.1 71l-0.3 0.9M64.3 72.8l-0.6 0.8M68.7 68.1l0.3 0.9M65.6 75.4l0 1M58.9 76.3l0.9 0.5M68.3 64.9l-0.6 0.8M69.8 71l1 0.1M64.5 77.1l0.1 1M61.2 69.8l-0.7 0.7M66.7 82.3l-0.5 0.8M67.3 74.8l1 0.3M66.3 79.6l0.7 0.7M64.9 68.3l-0.9 0.5M66.3 80.7l-0.4 0.9M69.5 70.1l-0.9 0.4M70.1 69.7l-0.9 0.4M60.2 73.8l0.2 1M65.4 79l-0.9 0.3M70.5 69.8l-0.7 0.7M64.2 64.9l0.5 0.9M66.9 69.2l0.4 0.9M64.4 74.8l1 0.2M62.7 70.2l0.3 1M66.4 65.7l-1 0.1M67.9 80.5l0.9 0.3M62.2 79.2l-0.2 1M64.9 72.2l0.9 0.3M64.6 78.1l1 0.3M68.6 66l-0.5 0.9M61.5 74.3l0.7 0.7M66 69.4l1 0.2M57.9 68l0.9 0.5M65.2 66.2l-0.4 0.9M60.1 69.2l-0.3 1M58.7 72.4l1 0M62.3 65.1l0.8 0.7M68.8 74.5l-1 0.1M60.1 66.5l0.8 0.6M59.8 70.8l-0.2 1M64.9 80.4l0.2 1M68.6 74.9l-0.8 0.6M67 67.4l-0.3 0.9M62.2 71.2l-0.8 0.6M71.1 76.8l-0.1 1M68.1 78l0.8 0.6M59.6 70.5l0.8 0.5M60.9 79.5l1 0.2M62.6 72.2l-0.9 0.5M60.4 79.9l0.9 0.3M60.5 71l1 0.1M59.7 72.7l-1 0.1M66.8 75.2l0.8 0.6M66.4 66.6l-0.9 0.3M62.5 79.1l1 0.3M64.8 75.3l0.1 1M63.3 78.7l0.8 0.6M62.9 75.1l-0.9 0.5M66 67.5l-0.4 0.9M71.2 74l-0.4 0.9M69.9 78.1l-0.7 0.7M59.4 75.8l-0.9 0.4M59.5 79.7l0.5 0.9M63.8 76.3l-0.3 0.9M58 71l0.2 1M64.7 80l0.9 0.3M64.4 70.5l-0.9 0.5M67.2 69l-0.3 1M60.5 73.4l-0.8 0.5M65.4 66.6l0.8 0.6M60.5 76l-0.1 1M65.1 68.3l0.1 1M64.9 75l-0.7 0.8M69.1 67.6l1 0.2M66.8 64.9l0.5 0.9M57.5 76.9l0 1M61.1 70.4l1 0.2M61.7 77.3l-0.2 1M62.9 77.6l-0.7 0.7M60 80.5l0.2 1M69.8 75.3l-0.4 0.9M65.2 65.4l-0.3 0.9M71.2 75.2l0.8 0.6M61.6 79.9l0.5 0.9M58.8 69.4l-1 0M70.3 69.4l0.5 0.9M60.9 77.3l0.2 1M57.6 76.2l1 0.3M58.3 77.6l0.8 0.6M64.1 72.1l0.9 0.5M64.4 66.7l-1 0.2M63.1 66.7l-0.7 0.8M56.5 77.6l-0.9 0.4M53.2 77.9l-1 0M57.2 79.5l-0.3 0.9M59.6 70.6l-1 0.2M58 71.7l-0.1 1M58.3 80.9l0.3 1M55.9 64.8l-1 0.2M55.2 65.8l-1 0.3M60.1 68.9l-1 0.2M60 72.7l0 1M58.8 67l-0.8 0.7M58.9 78.4l0.3 1M58.4 64.3l-1 0M52.2 74.9l-1 0.2M55 80.9l0.6 0.8M65 70.4l-1 0.2M55.6 77l0.8 0.5M62.6 79.9l1 0.3M60.5 69l-0.6 0.8M62.8 80.3l0.6 0.8M61.2 66.9l-0.1 1M65.6 74l-0.4 0.9M58.2 80.3l1 0.1M61.8 81.3l-0.7 0.7M57.6 72.2l0.6 0.8M56.9 68.9l0.2 1M58.9 68.2l0.5 0.9M53.1 71.3l-0.7 0.7M57.4 75.7l-0.7 0.7M57 74.8l0.6 0.8M60 68.5l0.9 0.3M63.5 73.4l0.6 0.8M52.9 76l0.3 1M56.4 74l1 0.2M65.6 73.4l0.9 0.5M55 70l-0.7 0.7M60 81.1l-0.6 0.8M61.5 66.5l-1 0.1M60.3 78.6l-1 0.1M62 68.5l-0.9 0.4M57.9 71.9l0.4 0.9M52.2 68.6l0.9 0.5M62.9 66.4l0.6 0.8M55.5 76.9l0.1 1M53.9 73.3l-0.1 1M55.4 68.6l-0.1 1M65 68.6l0.4 0.9M53.3 76.1l-0.9 0.4M64.2 67.3l0.6 0.8M54.5 74.5l0.1 1M60.8 73.4l-0.9 0.3M56.4 73.3l-0.8 0.6M51.6 75.1l0.6 0.8M56.3 79.5l0.7 0.7M63.9 71l-0.8 0.6M60.7 64.6l1 0M57 77.8l0.9 0.4M59.1 66.2l-0.1 1M58.9 78.2l-0.1 1M55.7 68.5l0.9 0.5M56.3 68.8l1 0.2M57.8 78.5l0.8 0.6M60.3 69.3l-0.8 0.7M59.8 75.4l0.1 1M56.1 65.3l-1 0.1M58.4 82.7l-0.8 0.6M84.8 31.7l-1 0.1M80.5 39.2l1 0.1M81.6 32.7l0.8 0.5M87.3 42.6l1 0M86.9 32.2l0.2 1M84.9 40.7l0.5 0.9M87 41.2l1 0.2M86 37.6l-0.1 1M82.2 39l1 0.3M83.5 33.6l0.6 0.8M87.6 35.4l0.7 0.7M84.7 37l-0.8 0.6M82.6 37.8l0.3 1M83.2 37.9l0.7 0.7M82.2 41.7l1 0.1M85 40.7l0.2 1M88.8 40l-0.4 0.9M87.2 43.3l-0.5 0.9M83.8 37.1l-1 0.3M83 30.1l-0.8 0.6M81.8 36.3l0.7 0.7M82.2 32.8l0.9 0.4M90.4 36.6l-0.7 0.7M90.4 39.3l-0.8 0.6M83 33.3l0 1M83.3 30.8l-0.9 0.5M83.2 37.5l-0.2 1M89 38.2l0.6 0.8M84.9 35.7l0.9 0.5M89.4 34.3l1 0.1M85.5 42.4l-0.4 0.9M85.3 30.9l-0.9 0.3M83.1 42.8l-1 0.3M85.6 28.1l0.1 1M82.8 40.5l-0.5 0.9M89.1 39.7l-1 0.2M88.5 29.3l-0.8 0.6M87.7 33.7l-0.3 0.9M84.3 43l0.3 1M88.4 34.3l-0.1 1M87.2 40.6l0.9 0.5M84.2 39.9l0.8 0.5M88.5 39l-0.5 0.8M90.2 32.2l-1 0M87.6 30.6l-0.1 1M82.3 35.2l0.3 1M84.6 39.8l0.4 0.9M94.2 39.2l0.1 1M88.3 42.3l-0.8 0.6M91.2 37.5l0.1 1M94.4 44.6l-1 0.1M86 40.5l0.9 0.5M86.9 31.7l0.5 0.8M93.6 31.2l-0.1 1M88.4 31.4l0.3 1M92.7 46.1l-0.9 0.5M86.5 35.8l-0.9 0.5M94.7 45.2l-1 0.2M92.1 36.1l-0.3 0.9M94.3 33.8l1 0.1M93.4 39.7l-0.2 1M85.7 37l-0.2 1M91.4 34.8l0 1M92.1 30.1l0.6 0.8M95.4 42.1l-0.6 0.8M90.1 41.6l-1 0.3M89.1 30.2l0.9 0.3M93 37.6l-0.5 0.9M91.2 43.1l0.4 0.9M94.6 33.7l0 1M95.6 36.6l-0.9 0.3M95.6 36.9l-1 0.1M86.1 37.2l-0.4 0.9M85.3 39.5l0.8 0.6M93.5 39.7l-1 0.2M91.9 46.5l0.8 0.5M94.1 38.9l0.4 0.9M94.9 35.1l-0.9 0.5M89.9 34l0.5 0.8M89.1 38.7l0.7 0.8M89.9 39l-1 0.2M89.2 45l-1 0.2M89.9 33l0.5 0.8M90.4 30.8l0.3 0.9M87.9 30.8l0.6 0.8M94.8 38.1l0.9 0.4M94.7 36l0.7 0.7M91.7 29.6l-1 0.1M91.2 44.5l1 0.2M84.9 39.2l0.8 0.7M93.4 32.1l0.8 0.6M85.7 42.1l1 0.2M89 31.1l-0.1 1M91.4 47.7l-0.7 0.7M94.3 41.1l-0.9 0.5M88.2 31.3l-0.4 0.9M88.7 41.6l-0.8 0.5M87.8 46.5l1 0M94.8 34.7l0.6 0.8M87.6 42.2l-1 0.1M85.5 53.5l1 0.2M88.6 53.4l0.7 0.7M82.3 52.7l0.1 1M79.2 52.9l0.7 0.7M90.6 53.7l-0.1 1M87.5 54.8l1 0.1M85.9 49.9l0.7 0.7M86.1 57.5l-1 0.1M87.3 44.7l0.9 0.4M86.4 43.7l-1 0.3M84.8 46.1l0.8 0.5M87.7 43.1l-1 0M83.9 57l-0.5 0.9M88 53l-0.4 0.9M89.5 49.9l0.9 0.4M84.1 57.8l1 0.2M81.2 43.4l-0.7 0.7M84 46.5l0.9 0.5M84.1 55.8l0.8 0.6M88.4 50.5l-0.8 0.5M82.9 45.7l-0.9 0.4M81.2 54.4l1 0.2M86.4 47l-1 0.1M88.7 44.5l-0.1 1M85.9 55.3l0.4 0.9M77.6 51.4l0.9 0.3M80.4 44l0.3 0.9M90.6 51.9l-1 0M84.1 56l0.6 0.8M90.1 53.6l0.9 0.4M85.7 50.7l0.9 0.4M85.1 51.3l0.9 0.4M91 50.6l0.4 0.9M79.1 51.2l-1 0.3M84 50l1 0.2M81.7 45.4l0.8 0.6M83 44.4l-1 0.2M88.4 44.4l-1 0M88.4 49.6l-1 0.1M89.3 48.1l0.7 0.7M90.7 53.1l0.4 0.9M82 54l-1 0.2M78.3 53.5l0 1M79.3 50.1l-0.6 0.8M87.6 47l0.6 0.8M81 56.7l1 0.1M85.8 46.4l0.5 0.9M86 48.2l-0.7 0.7M87.2 44.2l-0.8 0.6M78.5 46.9l-0.2 1M80.5 48.8l0.1 1M82.7 51.9l-0.1 1M78.9 55.4l0.2 1M84.2 58.1l-0.1 1M81.1 45.8l-0.9 0.5M80.8 44.7l0.8 0.6M87.5 48.9l-0.3 1M89.7 47.5l-1 0.2M79.7 44.3l-0.9 0.5M90.7 50.3l0.8 0.5M88.2 52.8l-1 0.1M85.9 53.4l-0.9 0.5M87.9 56.2l0.9 0.5M95.2 39.6l0.7 0.7M98.1 43.3l0.8 0.6M95.2 45.3l1 0.2M95.7 53.1l-1 0.1M97.4 54.2l0.3 1M93 52.3l-0.9 0.4M97.3 52.3l0.9 0.4M94.9 39.8l1 0M95 50.1l-0.9 0.4M96.7 50.2l-0.8 0.6M94 39.3l-1 0M100.5 48.2l-0.6 0.8M95.2 47.5l-0.1 1M96.2 48.4l-0.7 0.7M97.5 39.5l1 0.3M96.9 48.6l-0.1 1M97.7 52.3l0.2 1M91.4 42.7l0.9 0.4M96.9 43.7l-0.3 1M92.3 44.3l0.5 0.8M95 47.3l0 1M94.7 49.6l0.4 0.9M99.6 42.3l0.5 0.8M93.7 49.1l0.4 0.9M99.2 42.1l-0.3 1M99.1 42.3l-1 0.1M95 52l-1 0.2M98.9 46.6l-0.9 0.4M98.8 49.7l-0.9 0.5M95.2 38.2l0.6 0.8M93.7 44.2l-1 0.1M98.8 43.3l0.7 0.7M95.4 38.6l0.9 0.4M98.6 43.7l0 1M94.1 41.7l-0.7 0.7M95.4 38.4l0.5 0.9M96.6 54l-0.4 0.9M94.9 40.3l0.6 0.8M98.3 49l-1 0.1M96.2 44.6l0.1 1M96.5 55l0.1 1M98.2 50.1l-0.1 1M98.6 54.5l-0.9 0.4M96.1 51.8l-1 0M100.1 42.2l-0.1 1M96.1 40.5l0.2 1M88.6 77.9l-0.4 0.9M83.8 77.9l1 0.2M90.9 77.7l0.2 1M93.2 80.6l-0.9 0.5M88.9 78.7l-0.8 0.6M88.4 81.4l1 0.2M93.6 78.1l-0.9 0.4M92.2 80.2l0.4 0.9M94.2 81.9l-1 0.1M93.6 80.1l0.4 0.9M84.9 78l0.8 0.6M93.5 80.9l-0.2 1M86.3 78.6l-0.9 0.4M84.5 77.6l0.2 1M83.8 79.1l-0.9 0.4M93.5 79.7l-0.6 0.8M85.3 81.5l0.4 0.9M86.5 82l0.6 0.8M89.9 81.5l0 1M91.2 80.8l0.3 1M94.6 76.9l0.4 0.9M86.6 77l-0.5 0.9M85.5 81.5l-0.9 0.4M83.4 66.8l-0.3 1M81.7 73.2l0.9 0.4M84.8 69.4l0.8 0.6M82.9 74.9l0.4 0.9M88.3 73.5l-0.4 0.9M81.5 69.1l0.9 0.4M88.4 70.7l1 0.3M84.8 75.8l0.5 0.8M87.3 67.7l0.6 0.8M80.4 69.6l1 0.1M88 67.9l-0.1 1M80.6 68.1l-1 0.2M80.3 69.6l-0.1 1M84.9 70l-0.7 0.7M90 71.8l-0.9 0.5M85 72.7l-0.9 0.5M86.2 75.5l-1 0.3M79.7 71.7l0.2 1M82.6 66.7l-0.5 0.8M86 66.2l0.9 0.4M85.4 68.6l-0.9 0.4M84.4 68.4l0.4 0.9M84.8 66.6l0.1 1M81.2 71.8l-0.9 0.3M87 75.8l0.6 0.8M85.9 67.1l0.8 0.6M88.9 70.1l-0.9 0.5M90.1 71.7l-0.3 1M87.8 72.4l1 0.3M80.1 68.7l1 0.1M89.6 74.5l0.5 0.9M87.4 72.2l1 0M89.7 69.3l-0.9 0.5M91.1 73.3l0.8 0.5M84.3 71.8l0.7 0.8M91.5 70.4l0.3 0.9M83 71.8l0 1M87.3 73.7l0.2 1M84.4 70.1l-0.4 0.9M90.8 72.1l-0.5 0.9M87.6 67.7l0.2 1M88.4 74l1 0.3M89.1 69.6l-1 0.1M87.4 73.6l-0.6 0.8M85.6 76l1 0.3M83.8 71.2l0.2 1M89.1 69.7l-0.7 0.7M85.5 70.1l-1 0M89.1 68.7l1 0.2M87.3 76.9l1 0M83.5 68.7l0.1 1M86.2 73.1l0.2 1M84.8 75.9l-0.9 0.3M91.1 71.5l-0.9 0.5M90.2 68.4l0.5 0.9M90 70.3l0.3 1M90.4 73.2l-0.3 1M88.4 67.9l-0.9 0.4M84 73.4l0.8 0.6M93.2 81.3l0.3 0.9M90.2 83.2l1 0.3M96.5 82.9l-0.4 0.9M86.6 76.6l1 0.1M86.9 80l-1 0.2M91.8 78.9l-0.1 1M87.1 77.6l-0.2 1M98 76.2l1 0.3M92.6 82.7l0.7 0.7M90.8 82.6l0.1 1M99.9 76.6l-0.9 0.4M93.4 73.9l-0.1 1M95.1 81.8l0.6 0.8M95.8 74.4l-1 0.1M89.9 74.5l-0.5 0.9M93.3 83.3l-0.1 1M93.9 78.8l0.8 0.6M94.5 77l0.6 0.8M87.8 80.8l-1 0.3M97.6 76.7l0.9 0.4M92.2 81.3l-0.1 1M99.6 78.6l-0.4 0.9M91.6 77.9l0.4 0.9M96.8 78.6l-0.7 0.7M93.8 75.3l-1 0.3M98.1 80.9l-0.9 0.4M95.3 82.1l-0.7 0.7M99.3 79.4l0.8 0.6M90.2 80.9l1 0.2M92.1 82l0.2 1M89.8 76.1l0.6 0.8M95 83.3l0.8 0.6M99 77.6l-0.9 0.4M94.9 81.2l0.8 0.6M98.2 80.4l-0.8 0.5M97.5 78l-1 0.2M100.1 9.5l0.9 0.4M103.3 11.6l-1 0.3M102.9 6.9l0.3 0.9M102.1 7.5l0.8 0.6M102.7 10.3l0.8 0.6M102.2 8.8l1 0.1M99.6 9.1l0 1M101.1 8.1l0.4 0.9M102.4 11.2l-0.9 0.4M102.7 10.2l-0.9 0.5M101.7 9.7l1 0.2M97.5 11.3l0.3 1M99.7 9.2l0.3 0.9M99 11l0.8 0.5M98.3 13.2l0.7 0.7M99.8 10.5l0.7 0.7M99.1 7.3l-0.6 0.8M97.1 9.4l0.5 0.9M99.8 9.5l0.9 0.3M99.4 9.8l0.8 0.6" stroke="#d8d8d8" stroke-width="0.8" stroke-linecap="round" fill="none" stroke-opacity="0.35"/></g>
<g transform="translate(354,40)" clip-path="url(#cp)"><rect width="106.7" height="88.6" fill="url(#g4)"/><path d="M43.2 47.7l0.7 0.7M91.5 15.5l0.9 0.3M23.9 2.1l0.3 0.9M12 0.5l0.9 0.5M16.2 45.4l1 0.2M105.4 61l0.3 1M40.9 35.8l-1 0.3M74.2 28.6l-0.8 0.6M8.2 74.2l-0.7 0.7M9.7 84.6l0.8 0.6M11.6 54.9l-0.1 1M27.2 21.6l0.6 0.8M4.8 59.4l0.9 0.5M75.7 65.1l0.9 0.3M69.3 28.8l0.8 0.6M89.1 55.8l-1 0.2M63.4 47.6l-0.9 0.5M73.4 30.4l-0.8 0.6M87.9 74.1l-0.8 0.6M4.2 13.6l0.8 0.6M23.5 0.9l0.6 0.8M80.6 56.8l-0.4 0.9M21.6 9.5l-0.7 0.7M36.7 74l-0.9 0.4M65.2 5.1l-0.9 0.4M45.7 4.1l1 0.3M66.6 10.4l-0.3 0.9M19.4 56.5l-0.5 0.9M89.2 54.4l0 1M30.9 56.9l0.8 0.5M29 0.1l0.1 1M28.7 60.8l1 0.3M67.3 17l-1 0.2M90.2 73.4l-0.9 0.4M29.9 84.6l-0.1 1M27.7 5.3l0.6 0.8M58.8 43.1l-1 0.3M30.4 26.1l-0.2 1M43.5 48.3l-0.9 0.4M101.1 58l-0.9 0.5M97.3 7l0 1M82.1 24.2l0.3 1M75 49.1l-0.3 1M14.8 83.1l0.2 1M26.2 20.3l0.9 0.5M63.4 46.3l0.6 0.8M34.5 28.6l-0.8 0.6M96.8 83l1 0.1M72.4 71l1 0.1M73.5 39.3l-0.4 0.9M23.2 60.9l0.6 0.8M78.6 0l-0.1 1M33.2 47l0.1 1M22.4 11l0.5 0.9M20.6 1.4l-1 0M67.7 27l0.8 0.6M13.5 81l0.3 1M67 59.9l0.8 0.6M73.7 28.1l-0.4 0.9M86.9 1.1l0.6 0.8M84.7 9.9l0.4 0.9M2.1 6.3l-0.7 0.7M59.7 75.6l0.5 0.8M98.8 13.5l-0.2 1M88.6 21.8l-1 0.3M28.8 13l1 0.3M27.6 35.8l1 0.2M84.7 58.1l0.8 0.7M18.7 15.5l-0.7 0.7M84.4 60.6l-0.4 0.9M93.3 43.6l0.7 0.7M40.1 40.1l0.5 0.9M85.2 24.4l0.8 0.5M20.6 73.6l0.1 1M50.8 56.8l1 0.1M18.9 3.3l-0.6 0.8M29.6 83.4l-0.9 0.3M47.1 0.3l-1 0.1M86 26.4l-0.7 0.7M18.9 56.5l-1 0.1M70.4 28.7l1 0.1M75.5 77.2l0.6 0.8M36.7 44l-1 0.1M1 52.1l-0.8 0.6M31 57.3l0.3 1M81.4 30.1l-1 0.2M71.4 83.1l-0.4 0.9M18.5 70.4l-0.8 0.5M40.6 14l0.6 0.8M27.2 78.6l0.8 0.6M56.6 31.2l0.2 1M5.1 1.4l0.9 0.4M81.8 49l0.4 0.9M89.4 43.9l-1 0.1M100.5 29l0.5 0.9M23.9 78.3l1 0M56.4 2.6l1 0.1M0.7 1.1l0.9 0.5M78.2 56.3l-0.8 0.6M11.9 70.1l0.4 0.9M82.5 55.5l0.6 0.8M61.2 38.3l1 0.3M74.4 34.4l-1 0.1M98.8 51.9l0.2 1M71.4 81.7l0.8 0.6M104.4 47.1l1 0.2M11.5 46.4l1 0.2M97.6 18.2l0.9 0.5M27.5 24l-0.5 0.8M24.3 71.7l0.9 0.5M56.7 7.5l1 0.1M54.5 61.2l0 1M2.5 17l0.7 0.7M2 61.7l-1 0M42.2 1l0.9 0.4M26.4 16.6l-0.1 1M61.1 37.5l-0.8 0.7M44.8 28.7l0.3 1M57.9 52.1l-1 0M16.9 3.2l0.1 1M81 62.9l0.7 0.7M70.1 84.8l0.3 1M32.2 64.8l1 0.1M30.6 52.6l0.2 1M96.4 40l0.7 0.7M66.1 87.3l-0.9 0.3M52.7 20.9l-0.9 0.5M71.9 28.4l0 1M28.8 1.9l1 0.1M8.9 86.4l0.7 0.7M59.3 68.6l0.7 0.7M25.3 74.2l0.8 0.6M75 77.2l0.7 0.7M15.8 80.3l-0.9 0.4M31.7 81.6l0.9 0.4M39.2 6.8l1 0.2M5.4 7.4l-1 0.2M96.5 30.4l-0.2 1M68.2 81l-1 0M37.3 84l0.3 1M1.7 13.9l-1 0.3M52.6 56.8l-0.5 0.9M45 69.2l-0.8 0.6M58.6 -0.4l-0.7 0.7M41.6 56.3l0 1M27.1 16.3l1 0.3M68.3 40.5l0.8 0.6M105.9 84.1l-0.9 0.4M33.3 2.7l-1 0.3M46.6 7.5l-1 0.2M31.7 35.9l0.5 0.9M80.7 9.8l-0.5 0.9M68 33.3l-0.8 0.6M82.9 59.8l-0.4 0.9M20.8 62.3l-0.8 0.5M39.5 73.3l-0.1 1M31.6 34.1l-0.5 0.9M30.7 60.8l-0.6 0.8M98.7 27.1l0.7 0.7M8.8 61.4l-1 0.2M5.4 11.1l-1 0.1M26.7 0.8l1 0.2M37.1 5l-1 0.1M99.9 45.2l-1 0.1M3.6 65.9l-0.5 0.9M24.9 78l1 0.1M4.3 10.6l-1 0.3M39.2 72.8l0.9 0.4M100 85.4l-1 0.1M86.9 82.9l-0.5 0.9M8.2 3.3l1 0.2M43.9 60.2l0.9 0.5M80.4 13l-0.4 0.9M28.6 2.3l-0.2 1M10.4 59.1l-0.7 0.7M71.5 58.2l-1 0.2M45.7 51.9l0.8 0.6M84.3 87.2l1 0M42.2 66.1l-1 0.2M86.1 74.8l1 0M71.9 20.1l-0.9 0.4M86.2 49.5l0.9 0.4M79.5 65.7l-0.8 0.6M22.5 6l-0.8 0.6M83.8 58.9l-0.9 0.4M1.9 3.6l-0.2 1M45.6 57.6l-0.9 0.4M12.7 61.3l0.8 0.6M37 57l-0.5 0.9M28.8 20.3l0.5 0.9M16.2 60.6l-0.9 0.3M66.8 5.8l-0.8 0.7M12.1 73.6l0.1 1M27.9 81.8l-0.1 1M103.7 71.8l1 0.1M14.3 9.1l1 0.1M4.1 63.1l-0.3 1M80 69.5l0 1M25.7 14.9l-0.9 0.4M66.3 70.9l-0.3 0.9M78.4 65.4l0.9 0.4M44 63.1l0.4 0.9M97.4 54.2l-0.7 0.7M15.5 72.7l-0.1 1M3.3 0.9l1 0M32.3 32.8l-0.9 0.5M103.9 65l-0.9 0.5M45.9 50.7l1 0.3M38.8 82.4l-0.1 1M86.8 35.8l0.4 0.9M6.5 77.3l-0.8 0.6M47.9 42.8l0.6 0.8M93.5 37.1l0.7 0.7M46.4 20.6l0 1M73.4 63.5l-1 0.1M71.2 13.9l1 0.3M92.7 43.4l0.9 0.4M15.5 45.2l-0.4 0.9M80.7 61.7l-0.9 0.4M103.6 87l0 1M66.3 75.4l0.2 1M97.8 45.1l-0.9 0.4M90.1 49.6l-0.8 0.6M80.1 71.4l1 0.2M97.3 44.8l-0.9 0.4M8.1 5.1l0.8 0.6M75.2 53.4l0.6 0.8M90.6 15.3l-0.9 0.5M87.1 87.4l0.2 1M51.7 7.8l-0.8 0.6M73 6.8l0.9 0.5M85.3 71.7l-0.9 0.4M40.1 79.9l0.9 0.5M39.8 72.8l0.9 0.5M31.4 63.5l0 1M94.5 72.7l0.5 0.9M104.6 40.3l-0.1 1M17.7 69.4l-1 0.3M20.8 52.4l-0.6 0.8M32.9 6l1 0M67.8 65.7l0.6 0.8M78 43.8l-0.1 1M66.8 76.3l0 1M33.9 52.9l-0.6 0.8M17.8 59.9l0 1M105.9 29.3l1 0.2M73 13.4l0.7 0.7M44.5 67.4l-0.9 0.5M57.4 7l0.4 0.9M68.9 6.2l-0.7 0.7M36.2 84.9l-1 0M55.5 0l-0.4 0.9M81 23.5l-0.5 0.8M71.6 48.3l-0.3 0.9M92.7 29.6l0.6 0.8M0.7 56.7l-1 0.3M60.2 2.6l0.1 1M51.4 13.2l-1 0.3M59.4 71.2l0.6 0.8M67.9 53.5l-0.9 0.4M91.6 2.1l-0.8 0.6M37.2 57.9l-0.3 0.9M35 79.5l0.2 1M31.3 63.5l0.9 0.4M57.4 45.8l-0.8 0.7M91.7 84.7l0.4 0.9M104.9 29.2l-0.5 0.9M65 42.8l0.9 0.4M48.1 61.3l1 0.3M81.5 43.2l0.9 0.4M94.2 34.9l-0.8 0.6M52.3 40.4l0.8 0.5M43.3 57.4l-1 0.3M16.7 58.3l0.4 0.9M43 67.7l-0.2 1M89.7 42.5l0.5 0.9M11 57l-0.4 0.9M0.3 6l1 0.3M21.6 69.9l0.3 1M40.3 62.6l-1 0.2M53.1 52.3l0.8 0.5M1.3 82.4l-0.5 0.9M46.4 6.6l0.5 0.9M59.6 76.8l0.6 0.8M49.5 57.1l1 0.1M9.3 14.9l1 0.1M35 3.3l-1 0.2M66.2 0.2l-0.9 0.5M49.9 59.8l-0.8 0.6M16.3 88.1l-0.8 0.6M63.8 66.5l-1 0.1M76.3 49.8l0.9 0.5M41.4 53.3l-0.3 1M99.7 23.8l0 1M99.2 88l-0.2 1M5.8 80.4l-1 0.2M37.3 76.2l-0.7 0.7M83.2 24.1l-1 0.1M84.3 8.5l0.9 0.4M96.5 51.9l-0.5 0.9M104.8 40.7l-0.5 0.9M75.5 25.5l-0.7 0.7M29.3 2.9l-0.4 0.9M77.6 85.3l-0.9 0.5M44.2 5l0.6 0.8M32.5 41l-1 0.2M91.6 59.6l0.3 1M4.5 82.1l-0.3 1M74 14.1l-0.9 0.3M5 78.4l-0.6 0.8M28.6 44.9l0.6 0.8M30.1 65.3l0.7 0.7M45.7 59.3l0.5 0.9M78.1 73.4l-0.4 0.9M92.4 34.9l-1 0M72.6 50.4l-1 0.3M91.1 14.3l0.3 1M7.9 14.8l0.3 1M34.2 64.6l-0.8 0.5M96.8 34.7l0.6 0.8M65 31.3l0.3 1M85.3 59.3l1 0M53.4 51.5l0.8 0.5M25 55.2l-0.1 1M53.1 46.4l-0.6 0.8M105.7 50.9l-0.4 0.9M48.7 7.2l0.4 0.9M32 77.8l-1 0.2M66.8 66.1l-0.4 0.9M97.8 79.1l0.9 0.5M94.5 86.5l1 0.2M98.6 61.2l-1 0.1M55.5 3.6l-1 0M100.6 42l-1 0.2M32.7 31.5l-0.3 0.9M80.2 67.8l0.6 0.8M30.7 14l1 0.3M43 10.7l0.7 0.7M64.3 75.5l0.8 0.6M43.6 12.8l-1 0.2M101 15.4l-0.9 0.3M20.2 45.8l-0.8 0.6M72 31.2l0.9 0.5M103.7 21.3l0.7 0.7M73.9 69.5l0.6 0.8M88.8 1l-1 0.2M2.9 7.2l0.9 0.5M60.7 17.6l-0.8 0.6M96.5 19.4l-0.5 0.8M29.1 26.2l-0.1 1M22.1 7.4l-1 0.1M85.1 7.5l0.7 0.7M32.2 1.6l-0.1 1M58.3 44.4l0.9 0.5M97.4 2.3l1 0.3M13 31.7l1 0.1M92 79.9l0.5 0.8M18.4 13.1l0.9 0.4M37 29.4l1 0.2M64.1 3.8l-1 0M61.6 -0.1l0.6 0.8M34.8 48.5l-0.9 0.3M28.3 63.3l-0.6 0.8M80.5 54.7l-0.7 0.7M48.1 36l-0.5 0.9M55.2 74l-1 0.1M23.7 75.7l-0.9 0.4M80.7 47.3l-0.6 0.8M47.7 67.5l-0.2 1M104.6 45.5l-0.6 0.8M3.2 52.8l-0.6 0.8M21.1 9.4l-0.2 1M102.2 60.3l0 1M4 24.1l0.9 0.5M87 5.1l-0.9 0.5M85.5 13.7l0 1M66.6 26.6l1 0.2M91 81.9l0.9 0.5M99.7 16.3l-0.9 0.4M23.7 48l0.7 0.7M80.3 50.3l0.3 0.9M106.9 65.9l-0.5 0.8M103.9 54.8l-0.9 0.4M38.6 84.5l0.5 0.9M62.6 55l0.3 0.9M15.4 7.7l0.2 1M0 11.5l1 0.1M30.1 32.4l-0.9 0.4M46.6 51.8l1 0.1M90.7 87.1l-1 0.1M67.6 31l0.9 0.5M19.9 81l0.9 0.5M35.5 65.4l-0.9 0.5M69.2 2.9l-0.8 0.5M27.7 47.5l0.7 0.7M79 85.9l-0.2 1M21.8 4.9l0.1 1M87.9 80.6l-0.6 0.8M30 29.9l0.8 0.5M45.5 36.6l-0.9 0.5M50.5 44l-1 0M23.9 13.4l-0.6 0.8M46.8 15l-1 0.2M25.3 23.3l-1 0.2M70.4 37.9l0.4 0.9M63.7 39.5l-0.9 0.5M65.9 57.1l-0.9 0.5M32.1 28.3l-0.3 1M105.7 68.6l0.9 0.3M57.1 58.8l-0.4 0.9M33.8 16.3l-1 0.3M84.6 28l0.6 0.8M54.8 47l-0.4 0.9M31.9 67.5l-0.9 0.3M32 65.3l-0.3 1M82.4 58.1l1 0.1M68.2 11.7l-0.4 0.9M99.6 39.7l0.7 0.7M101.4 38.4l-0.9 0.4M31.7 68.9l-0.5 0.9M92 -0.1l0.6 0.8M38.5 23.3l-0.9 0.3M75.8 17.5l-0.4 0.9M85.5 73.7l0.5 0.9M55.1 53.1l-0.9 0.5M58.4 47.6l-0.9 0.3M47.5 12l-0.9 0.3M9.4 51.6l-0.9 0.4M11.6 58.9l-0.5 0.9M69.1 73.5l-0.6 0.8M46.3 36l-0.3 0.9M34.6 42.4l-0.1 1M73.3 76.7l-1 0M23.5 73.6l0.4 0.9M94.4 43.6l1 0.3M17.9 75.2l-0.6 0.8M41.8 15.2l0 1M79.9 30.4l-0.1 1M99.2 34.4l-0.3 1M30.9 16.4l0.7 0.7M81.8 19.4l0.8 0.6M105.9 87.8l1 0.2M83 74l-0.8 0.6M59 42.6l-1 0.3M33.5 84l-0.6 0.8M85.6 0.8l0.9 0.4M16.6 82l-1 0.1M96.5 88.3l-0.9 0.5M30.5 42.2l0 1M86.3 21.1l1 0M41.3 65l-0.9 0.5M27.8 78.5l-0.4 0.9M9 51.4l-0.4 0.9M42.1 57.1l1 0.1M91.2 85.9l-0.7 0.7M9.9 53.1l1 0.1M63.3 82.5l0.1 1M29.7 46.2l0.9 0.4M100.5 64.4l0.4 0.9M105 75.9l-0.9 0.3M17.2 1.3l-0.7 0.7M78.8 76.6l-0.8 0.5M35.2 55.3l0.6 0.8M67.8 8.3l0.3 0.9M74.5 23.5l-0.3 0.9M1.7 22.2l1 0.1M19.7 56.1l0.3 1M80.3 44.7l-1 0.1M73 63.1l-0.7 0.7M72.4 86.5l-0.9 0.4M25.7 3.6l0.6 0.8M31.2 85.9l-0.6 0.8M45.4 43.8l-0.8 0.6M63.9 58.7l-0.6 0.8M0.1 46.6l0.2 1M12.6 50.2l0.9 0.5M21.1 12.3l1 0.1M92.9 25l-0.9 0.3M81.9 62.3l-1 0.2M96.4 36.3l0.6 0.8M83.9 10l-0.7 0.7M59.3 73.5l0.3 1M102.2 11.8l-0.4 0.9M65.7 75.4l-0.9 0.5M91.6 61.4l0.5 0.8M101 75.3l-0.4 0.9M26.2 45.9l0.7 0.7M52.6 68.6l0 1M92.1 53l1 0.1M50 6l0.7 0.7M24.3 81.5l0.6 0.8M101.5 74.3l-1 0.3M85.1 68.4l0.9 0.4M86.4 69.8l-0.7 0.7M87.7 56.1l1 0.3M31.3 36.8l-1 0M46.5 15.5l0.9 0.5M17.7 36.8l1 0.3M42 14.3l0.8 0.6M96.3 63.6l-1 0.2M4.9 1.6l-0.5 0.9M34.6 35.7l-0.9 0.3M86.2 3.7l0 1M77.7 40l0.9 0.4M22.5 9.7l0.5 0.9M106.6 64.4l0.1 1M74.9 68.6l-1 0M11.1 67.8l0.9 0.5M25.6 48.7l0.7 0.7M52.4 8.8l-0.9 0.5M88.2 58.3l0.9 0.4M4 75.3l-1 0.1M100.5 64.7l0.6 0.8M26.1 73.8l-0.2 1M69.9 62l-0.5 0.9M71.8 36l-1 0.3M56.6 10.6l1 0.2M73.1 45.8l-0.9 0.5M72.6 81.9l0.8 0.5M31.9 75.7l-0.6 0.8M47 82.2l1 0.1M81.2 13.7l-0.7 0.7M92.7 80.1l0.8 0.5M70.9 68.7l0.8 0.6M7.1 78.8l1 0.1M105 42.2l0.5 0.9M19.9 12.1l0.5 0.9M1.3 11.1l-1 0.1M82.4 9.2l-0.3 0.9M85.9 70.7l0.4 0.9M53.8 51.6l-1 0M19.9 67.9l0.9 0.5M76.6 45.4l0.8 0.6M38.3 84.8l-1 0.1M61.7 59.3l-1 0.2M11.4 79.2l-0.5 0.8M83 80.8l-1 0.1M59.3 82.9l1 0.2M7.7 79.2l-1 0.3M50.9 61.3l-0.6 0.8M57.9 36.5l-0.5 0.9M17.2 3l-0.9 0.5M47.5 39.9l0.9 0.3M94.4 55.9l0.8 0.6M16.1 64.6l0.9 0.4M49.3 67.8l0.1 1M46.1 2.7l-0.1 1M7.5 14.2l-0.1 1M37.3 78.9l0.4 0.9M51.1 37l-0.7 0.7M21.8 4l-0.9 0.5M75 72l-0.7 0.7M95.9 86.2l1 0.1M39.8 60.6l0.9 0.5M23.3 77.7l0.8 0.6M12 51.8l0.7 0.7M51.6 53.8l-0.2 1M53.8 -0.2l0.8 0.6M27 71.6l-0.4 0.9M101.8 25.4l0.5 0.9M98.8 19.3l0.4 0.9M82.1 15.8l-0.6 0.8M26.3 59.5l-1 0.2M64.6 59.3l0.8 0.6M39.8 73.4l0.5 0.9M105.1 17.1l-1 0.1M62.8 49.6l0.8 0.6M103.7 36.9l1 0.1M28.5 52.2l0.8 0.6M3.6 0l-0.9 0.5M52.9 75.4l-0.7 0.7M43.5 59.3l-1 0.2M38.9 11l0 1M84.1 40.3l1 0.1M100.5 40.6l0.6 0.8M53.7 59.8l-0.6 0.8M36.6 48.5l0.3 0.9M100.3 36.8l0.9 0.4M11.6 49.2l0.4 0.9M63.1 54.6l0.1 1M104.7 57.5l0.4 0.9M72.3 6l0.2 1M22.4 67.6l0.9 0.4M24.6 14.7l1 0.1M80.5 26.7l-0.8 0.6M8.9 64l-0.7 0.7M34.2 63.2l0.3 1M60.4 75.6l0.9 0.4M62.2 48.5l0.6 0.8M70.3 51.7l-0.2 1M5 82.6l-0.9 0.3M39.4 21.9l0.1 1M67.8 5.6l-1 0.1M34.2 85l-0.1 1M56.9 18.4l0.8 0.5M76.3 -0.1l-0.4 0.9M103.3 31.3l-0.3 1M44.7 71.2l-0.3 1M89.3 57.8l-0.6 0.8M57.6 61.3l1 0.1M14.2 63.7l0.2 1M35.6 37.1l-0.8 0.6M68.5 3.2l0.9 0.4M104.8 52.6l1 0.1M6.2 79.1l0.8 0.5M94.9 14l0.6 0.8M79.5 1.6l0.2 1M20.1 83l0.6 0.8M104.4 40.8l-0.4 0.9M97.9 38.3l0.9 0.5M43.8 52.2l0.5 0.9M1.4 74.2l-0.5 0.9M12.7 46.2l-0.1 1M82.4 69.4l-1 0.1M77.9 80.4l-1 0.2M51.7 29.5l0.7 0.7M95 26.1l0.5 0.9M73.9 17.6l-0.1 1M95.5 24.5l-0.1 1M39.2 73.7l0.4 0.9" stroke="#a6b8bf" stroke-width="3.2" stroke-linecap="round" fill="none" stroke-opacity="0.6"/><path d="M44.5 48.5l-0.2 0.6M93 16.2l-0.4 0.4M25.1 3.2l-0.5 0.4M13.5 1.5l-0.6 0.1M17.7 46.1l-0.4 0.4M106.7 62.2l-0.6 0.1M40.9 36.7l0.6 0.1M74.5 29.4l0.1 0.6M8.9 75.3l-0.6 0.1M11 85.5l-0.3 0.5M12.6 56.1l-0.6 0.2M28.1 22.7l0.6 0.2M6 60.2l0.1 0.6M76.7 65.9l0.4 0.4M70.6 29.6l-0.1 0.6M89.5 56.4l-0.1 0.6M63.5 48.7l0.6 0M73.5 31.3l0.5 0.4M88.1 74.9l0.4 0.5M5.7 14.7l-0.6 0.2M24.8 1.9l-0.4 0.4M80.9 58l0.5 0.3M22.3 10.5l-0.5 0.4M36.8 74.9l0.5 0.3M65.6 5.8l-0.2 0.6M46.7 4.9l0.6 0.2M67 11.7l0.6 0M20.2 57.6l-0.6 0.2M89.7 55.5l0.5 0.4M31.9 57.8l0.5 0.4M30.1 1.4l-0.6 0M30.3 61.7l-0.6 0.2M67.5 17.6l0.4 0.5M90.8 74.4l-0.6 0.1M30.6 85.6l-0.1 0.6M29 6.3l-0.3 0.5M58.9 43.8l0.5 0.4M31.4 27.3l-0.6 0.1M44 49l-0.3 0.5M101.8 59l-0.6 0.1M98.4 8.2l-0.6 0.2M82.9 25.2l0.4 0.5M75.5 50.1l0.3 0.5M15.4 84.3l0.5 0.3M27.2 21.2l0.5 0.3M64.2 47.5l0.6 0.1M34.7 29.4l0.4 0.5M98.2 83.6l-0.2 0.6M73.4 71.9l0.6 0M74.2 40.3l-0.3 0.5M24.2 61.8l0.3 0.5M79.1 1l0.3 0.5M34.3 48.1l-0.5 0.3M23.4 12l0 0.6M20.7 1.9l0.3 0.5M68.9 27.8l0 0.6M14.7 82.1l-0.4 0.5M67.9 60.9l0.6 0.1M74.6 29.3l-0.6 0M87.8 2.2l0.6 0M85.9 11l-0.4 0.4M2.8 7.3l-0.5 0.3M60.5 76.8l0.6 0M99.8 14.6l-0.5 0.4M88.8 22.5l0.2 0.5M30.2 13.7l-0.1 0.6M28.6 36.6l0.6 0M85.5 59.2l0.6 0.1M18.9 16.5l0.5 0.3M85.3 61.8l-0.6 0.1M94.2 44.6l0.5 0.3M41.3 41.1l-0.4 0.4M86.7 25.4l-0.6 0.1M21.7 74.9l-0.6 0.1M51.9 57.4l0.3 0.5M19.3 4.2l0.3 0.5M30 84.1l0 0.6M47.7 1l-0.5 0.4M86.1 27.4l0.6 0.2M19.4 57.1l-0.4 0.4M72 29.3l-0.5 0.4M76.9 78.2l-0.5 0.3M36.7 44.8l0.6 0.1M1.7 53.1l-0.6 0.1M31.7 58.5l0.6 0.2M81.5 30.7l0.3 0.5M72.1 84l-0.2 0.6M19.1 71.4l-0.6 0.2M41.5 14.9l0.3 0.5M28.7 79.6l-0.6 0.1M57.5 32.2l-0.1 0.6M6.2 2.2l0.3 0.5M82.6 50l0.3 0.5M89.4 44.6l0.5 0.3M101.2 30.1l0.6 0.1M25 79l0.5 0.3M57.9 3.2l-0.3 0.5M2.2 2.2l-0.6 0M78.4 57.2l0.5 0.3M12.6 71.3l0.6 0.1M83.9 56.7l-0.6 0M62.5 39l-0.1 0.6M74.6 35l0.2 0.6M99.5 52.9l0.4 0.4M72.7 82.5l-0.2 0.6M106 47.9l-0.5 0.3M12.8 47l0.1 0.6M98.8 18.9l0.1 0.6M27.8 25.1l0.6 0.1M25.9 72.7l-0.6 0.2M57.7 8.3l0.6 0.1M55.3 62.2l0 0.6M3.9 18l-0.5 0.3M2 62.4l0.6 0.2M43.7 1.8l-0.4 0.4M27.5 17.8l-0.6 0.1M61.6 38.3l-0.2 0.6M45.9 29.8l-0.5 0.4M57.9 52.8l0.6 0.2M17.7 4.2l0.1 0.6M81.9 63.9l0.5 0.3M71.3 85.9l-0.5 0.3M33.3 65.4l0.4 0.5M31.5 53.6l0.1 0.6M97.9 41.1l-0.6 0M66.7 88.2l-0.5 0.3M53.4 22l-0.6 0M72.7 29.4l0.1 0.6M30.1 2.5l0 0.6M10.2 87.3l-0.4 0.5M60.4 69.5l0 0.6M26.3 75.1l0.4 0.5M76.1 78l0.2 0.6M15.9 81.2l0.5 0.3M32.8 82.3l0.2 0.6M40.8 7.7l-0.6 0M6 8.2l-0.6 0.1M97.3 31.4l-0.2 0.6M68.5 81.5l0 0.6M38.1 85.1l0.3 0.5M1.8 14.7l0.6 0.2M52.9 57.8l0.4 0.5M45.6 70.1l-0.5 0.4M59.3 0.7l-0.5 0.2M42.3 57.3l0.3 0.5M28.6 17.1l-0.5 0.4M69.7 41.4l-0.5 0.4M106.4 84.9l-0.3 0.5M33.8 3.4l-0.3 0.5M47.1 8.2l-0.4 0.4M32.6 36.9l0.2 0.5M81.5 10.8l-0.4 0.5M68.2 34.2l0.4 0.5M83.5 60.8l0 0.6M21.5 63.1l-0.4 0.4M40.4 74.3l-0.3 0.5M32 35.1l0.4 0.5M31.5 61.9l-0.6 0.1M99.9 28l-0.3 0.5M9.2 62l-0.2 0.6M5.4 12l0.6 0M28 1.5l-0.1 0.6M37.2 5.6l0.4 0.4M100.3 45.8l-0.3 0.5M4.1 66.8l0.1 0.6M26.5 78.7l-0.5 0.3M4.7 11.3l-0.3 0.5M40.7 73.6l-0.5 0.4M100.2 86l0.3 0.5M87.6 83.8l-0.3 0.5M9.7 4l-0.4 0.4M45.4 61.1l-0.5 0.3M80.9 14l0.3 0.5M29.5 3.5l-0.5 0.3M11.2 60.1l-0.6 0.2M72 58.9l-0.3 0.5M47.2 53l-0.6 0M85.9 88l-0.6 0.1M42.5 66.7l0 0.6M87.4 75.3l-0.1 0.6M72 20.9l0.5 0.3M87.7 50.3l-0.5 0.3M80.2 66.7l-0.6 0.1M22.9 6.8l0 0.6M84.3 59.6l-0.3 0.5M2.8 4.7l-0.4 0.5M46.1 58.4l-0.4 0.4M13.7 62.2l0.5 0.3M37.7 58l-0.5 0.4M30 21.2l-0.2 0.6M16.7 61.3l-0.3 0.5M67.2 6.7l0.1 0.6M13 74.6l-0.2 0.6M28.8 82.9l-0.5 0.4M105.2 72.3l-0.3 0.5M15.7 9.7l-0.4 0.5M4.4 64.3l0.6 0.1M80.5 70.7l0.5 0.3M26 15.6l0.1 0.6M67.1 71.9l-0.3 0.5M79.4 66.2l0.5 0.4M45.2 64.1l-0.3 0.5M97.9 55.1l-0.2 0.6M16 73.9l0.6 0.1M4.5 1.5l0.1 0.6M32.4 33.7l0.5 0.4M104 66l0.6 0.1M46.9 51.5l0.5 0.2M39.4 83.4l0.3 0.5M87.6 36.9l0.5 0.3M6.7 78.2l0.5 0.3M48.7 43.9l0.6 0.1M94.6 37.9l0.1 0.6M47.1 21.6l0.2 0.6M73.8 64.1l-0.2 0.6M72.6 14.6l-0.2 0.6M93.8 44.1l0.4 0.4M16.4 46.3l-0.6 0.2M80.7 62.6l0.6 0M104.3 88l0.2 0.6M67 76.5l0.4 0.5M98.1 45.8l0.2 0.6M90.3 50.6l0.6 0.2M81.7 72.1l-0.5 0.3M97.5 45.5l0.2 0.6M9.1 6.2l0.6 0.1M76.4 54.3l-0.2 0.6M90.7 16.2l0.6 0.2M88.1 88.4l-0.1 0.6M51.9 8.6l0.3 0.5M74.3 7.5l-0.2 0.6M85.9 72.7l-0.6 0.1M41.6 80.8l-0.5 0.3M40.9 73.5l0.2 0.6M32.4 64.7l-0.5 0.3M95.7 73.7l-0.3 0.5M105.3 41.3l0.2 0.6M17.7 70.2l0.5 0.3M21.4 53.3l-0.2 0.6M34.3 6.5l-0.1 0.6M69.2 66.8l-0.6 0.1M79 45.1l-0.6 0.1M67.8 77.3l-0.2 0.6M34.3 53.9l0.3 0.5M19 61.1l-0.6 0.2M106.9 30.2l0.6 0M73.9 14.5l0.6 0.2M44.9 68.1l-0.1 0.6M58.5 8l-0.2 0.6M69 7.2l0.5 0.3M36.6 85.5l-0.2 0.6M56.3 1.2l-0.6 0.2M81.4 24.4l0.2 0.6M72.2 49.3l0.1 0.6M93.6 30.7l0.5 0.4M0.8 57.4l0.4 0.5M61.4 3.8l-0.6 0.1M51.6 13.9l0.2 0.6M60.8 72.3l-0.6 0.1M68.5 54.5l-0.6 0.2M92.1 2.9l-0.2 0.6M37.6 58.9l0.4 0.4M36.2 80.7l-0.6 0M32.5 64.2l0 0.6M57.8 46.7l0.2 0.6M92.5 85.7l0.3 0.5M105.7 30.4l-0.6 0M66.2 43.5l0 0.6M49.2 62l0.4 0.5M82.7 44l0 0.6M94.4 35.9l0.6 0.2M53.6 41.2l-0.2 0.6M43.5 58.1l0.1 0.6M17.5 59.3l0.4 0.5M44 68.8l-0.5 0.4M91 43.6l-0.5 0.3M11.3 58.3l0.6 0M1.6 6.6l-0.1 0.6M22.3 70.9l0.4 0.5M40.9 63.4l-0.6 0.1M54.6 53.2l-0.5 0.4M1.7 83.5l0.4 0.4M47.3 7.6l0.4 0.4M60.4 77.9l0.5 0.3M51.1 58l-0.6 0M10.4 15.5l0.4 0.5M35.4 3.9l-0.2 0.6M66.6 1l0 0.6M50.5 60.6l-0.3 0.5M16.7 88.9l-0.2 0.6M64.4 67.2l-0.4 0.4M77.3 50.8l0.6 0.2M42.3 54.3l-0.4 0.4M100.4 24.9l0.4 0.5M99.9 89l-0.1 0.6M6 81l0.3 0.5M37.6 77.1l0.4 0.5M83.5 24.7l-0.1 0.6M85.5 9.2l0.1 0.6M97 52.9l0.3 0.5M105.5 41.7l-0.4 0.4M76 26.4l-0.2 0.6M29.6 4.2l0.6 0.1M77.8 86.2l0.4 0.4M45.3 5.9l0.1 0.6M33.1 41.8l-0.6 0.2M92.8 60.8l-0.6 0.2M5.2 83l-0.1 0.6M74.1 15l0.6 0M5.7 79.4l-0.5 0.4M29.6 45.8l0.1 0.6M31.3 66.1l-0.1 0.6M46.9 60.3l-0.4 0.5M78.8 74.4l-0.2 0.5M92.7 35.4l0 0.6M73.2 51.3l-0.6 0.2M91.9 15.3l0.2 0.6M8.7 15.8l0.2 0.6M34.9 65.5l-0.5 0.3M97.7 35.7l0.5 0.3M65.7 32.3l0.4 0.5M86.8 60l-0.5 0.3M54.3 52.5l0.6 0.1M26 56.3l-0.5 0.3M53.7 47.4l-0.3 0.5M106.3 51.9l0.1 0.6M49.5 8.2l0.4 0.5M32.5 78.5l-0.5 0.4M67.7 67.3l-0.6 0.2M98.8 80l0.5 0.3M95.8 87.1l0 0.6M99 61.7l-0.1 0.6M55.8 4.1l0 0.6M100.8 42.7l0.3 0.5M33.1 32.6l0.5 0.3M81.3 68.8l-0.2 0.6M32.2 14.8l-0.5 0.3M43.8 11.8l0.6 0.1M65.3 76.4l0.5 0.4M44.2 13.6l-0.5 0.3M101.5 16.2l-0.5 0.4M20.7 46.7l-0.3 0.5M72.9 32.2l0.6 0M105 22.2l-0.4 0.5M75.3 70.7l-0.6 0M89.4 1.9l-0.6 0M4.3 8l-0.4 0.5M60.8 18.6l0.6 0.1M97.3 20.5l-0.5 0.3M29.6 27.3l0.5 0.4M22.6 8l-0.3 0.5M86.5 8.6l-0.6 0.1M33.1 2.7l-0.4 0.5M59.2 45.4l0.5 0.2M98.5 3.1l0.4 0.5M14.6 32.5l-0.6 0.2M92.8 81l0.5 0.3M19.8 13.8l-0.2 0.6M38.2 30l0.2 0.6M64.2 4.5l0.5 0.3M62.8 0.8l-0.2 0.6M34.9 49.5l0.6 0.1M28.5 64.4l0.6 0.2M80.9 55.6l0.2 0.6M48.4 37.2l0.6 0.1M55.2 74.9l0.6 0.1M24.1 76.4l-0.1 0.6M81.4 48.3l-0.4 0.4M48.7 68.7l-0.6 0.2M104.8 46.6l0.5 0.2M3.6 53.7l0.1 0.6M21.7 10.5l0.3 0.5M103.1 61.3l-0.2 0.6M5.2 24.8l0 0.6M87.7 6.1l-0.6 0.1M86.2 14.8l0.2 0.6M67.5 27.4l0.6 0.1M92.4 82.7l-0.3 0.5M99.7 17.1l0.5 0.3M25 48.8l-0.2 0.5M81.3 51.3l0 0.6M107.7 67l-0.6 0.2M104.3 55.6l-0.1 0.6M39.7 85.5l-0.2 0.6M63.4 56.1l0.4 0.4M16.4 8.7l-0.1 0.6M1.1 12.2l0.4 0.4M30.6 33.2l-0.4 0.4M47.9 52.3l0 0.6M90.7 87.9l0.5 0.2M68.6 31.9l0.4 0.4M21 81.7l0.2 0.6M36.1 66.3l-0.4 0.4M69.4 3.8l0.5 0.3M29.1 48.4l-0.4 0.5M79.9 86.9l-0.3 0.5M22.3 6.1l0.6 0.2M88.6 81.5l-0.3 0.5M31 30.8l0.6 0.2M45.6 37.5l0.6 0.2M50.9 44.5l-0.2 0.6M24.2 14.3l0.4 0.4M47.3 15.8l-0.6 0.2M25.6 23.9l0 0.6M71.2 38.9l0.3 0.5M64.3 40.3l-0.5 0.4M66 58.2l0.6 0.1M32.9 29.4l-0.4 0.5M106.7 69.5l0.6 0.1M57.4 59.9l0.5 0.3M34.5 17.2l-0.6 0.1M85.9 29l-0.3 0.5M55.2 48.1l0.5 0.4M31.9 68.4l0.6 0.2M33 66.5l-0.6 0.1M83.9 58.7l-0.3 0.5M69.1 12.8l-0.5 0.3M100.5 40.7l0.5 0.3M101.8 39.2l-0.2 0.6M32.2 69.8l0.3 0.5M92.9 0.9l0.4 0.4M38.6 24.1l0.3 0.5M76.5 18.5l-0.2 0.6M86.4 74.7l0.3 0.5M55.4 53.9l0.2 0.6M58.5 48.5l0.5 0.2M48.1 12.8l-0.5 0.3M9.8 52.3l-0.3 0.5M12.4 60l-0.5 0.3M69.6 74.5l0.1 0.6M47.2 37.1l-0.5 0.3M35.3 43.4l0 0.6M73.6 77.3l-0.2 0.6M24.6 74.6l-0.1 0.6M95.9 44.3l-0.4 0.4M18.3 76.1l0.2 0.6M42.3 16.4l0.6 0.2M80.3 31.6l0.6 0.1M99.6 35.5l0.5 0.4M31.7 17.5l0.6 0.1M83.3 20.4l-0.6 0.2M107.2 88.4l0 0.6M83.7 74.9l-0.4 0.4M59 43.5l0.6 0M34 84.9l0.1 0.6M87.2 1.7l-0.6 0.2M17 82.5l-0.2 0.6M96.8 89.1l0.1 0.6M31.3 43.2l0.1 0.6M87.3 21.8l0.6 0.2M41.4 65.9l0.5 0.3M28.2 79.6l0.5 0.3M9.5 52.4l0.2 0.6M43.3 57.6l0.2 0.6M92 86.9l-0.6 0.2M10.9 53.8l0.5 0.3M63.9 83.6l0.4 0.4M30.7 47l0.4 0.5M101.3 65.5l0.5 0.3M105.2 76.6l0.4 0.5M17.5 2.3l0.4 0.4M79.1 77.3l0 0.6M36 56.5l0.6 0.1M69 9.5l-0.6 0.1M75 24.5l0.2 0.5M3.3 23l-0.6 0.1M20.8 57.1l-0.3 0.5M80.8 45.3l-0.3 0.5M73.5 64l0.1 0.6M73.1 87.5l-0.6 0.1M26.5 4.7l0.6 0.2M31.9 86.9l-0.3 0.5M45.6 44.7l0.4 0.5M64.6 59.7l-0.3 0.5M1.2 47.7l-0.4 0.5M13.5 51.1l0.5 0.3M22.1 12.9l0.5 0.4M92.9 25.9l0.6 0M82 63l0.4 0.4M97.3 37.4l0.6 0.1M84.2 10.9l0.2 0.6M60.6 74.7l-0.6 0M102.7 12.8l0.2 0.5M65.9 76.2l0.3 0.5M92.6 62.3l0.1 0.6M101.4 76.4l0.4 0.5M27.5 46.8l-0.4 0.4M53.6 69.7l-0.4 0.5M93.1 53.7l0.5 0.3M50.9 7l0.4 0.4M25.5 82.4l-0.3 0.5M102.1 75.1l-0.6 0.1M86.5 69.2l-0.3 0.5M86.8 70.7l0.1 0.6M89.3 57l-0.6 0M31.3 37.6l0.6 0M47.4 16.4l0.6 0.1M19.2 37.6l-0.5 0.4M43.2 15.2l0.2 0.6M96.3 64.4l0.6 0.1M5.5 2.5l-0.1 0.6M35.2 36.7l-0.6 0M87.1 4.7l0 0.6M78.8 40.7l0.3 0.5M23.3 10.8l0.6 0.2M107.2 65.7l0.6 0.1M75.5 69.4l-0.6 0.2M12.3 68.5l0 0.6M27 49.8l-0.6 0.1M52.5 9.8l0.6 0.1M89.3 59.1l0.4 0.4M4 76.1l0.6 0.1M101.5 65.7l0.2 0.6M26.5 75l0.6 0.1M70.2 63l0.4 0.4M72.1 36.7l0.2 0.6M57.7 11.3l0.3 0.5M73.2 46.8l0.6 0.1M73.5 83l0.6 0.1M32.6 76.8l-0.6 0.1M48.1 82.8l0.5 0.3M81.6 14.5l0 0.6M93.9 80.8l0.2 0.6M72.1 69.5l-0.1 0.6M8.1 79.6l0.6 0.2M105.9 43.1l0.3 0.5M20.7 13.2l0.6 0.2M1.6 11.6l-0.1 0.6M83.3 10.4l-0.6 0.1M87 71.7l-0.2 0.6M54.4 52.3l-0.5 0.3M20.9 68.8l0.5 0.4M77.5 46.5l0.6 0M38.7 85.4l-0.1 0.6M62 59.9l0 0.6M12 80.1l-0.1 0.6M83.2 81.4l0.2 0.6M60.7 83.5l-0.2 0.6M8.2 79.9l-0.4 0.5M51.6 62.4l-0.6 0.2M58.3 37.5l0.3 0.5M17.5 3.7l0.1 0.6M49 40.7l-0.5 0.3M95.4 56.8l0.5 0.4M17 65.5l0.6 0.2M50 68.8l0.3 0.5M46.5 3.9l0.6 0.2M8.4 15.3l-0.5 0.4M38.6 80l-0.5 0.3M51.4 38l0.3 0.5M21.9 4.9l0.6 0.2M75.2 73.1l0.6 0.2M97 86.9l0.4 0.4M40.7 61.5l0.6 0.2M24.5 78.5l0.1 0.6M13.2 52.7l-0.1 0.6M52.1 54.9l0.4 0.4M54.7 0.8l0.6 0.1M27.8 72.6l-0.4 0.5M102.5 26.6l0.6 0.1M99.6 20.4l0.5 0.4M82.4 16.8l0.4 0.5M26.5 60.1l0.2 0.6M65.6 60.3l0.6 0.2M40.7 74.3l0.1 0.6M105.3 17.7l0.3 0.5M64.2 50.5l-0.4 0.4M105 37.5l-0.1 0.6M30 53.2l-0.6 0.2M4.2 0.8l-0.3 0.5M53.6 76.4l-0.4 0.4M43.9 59.9l-0.1 0.6M39.6 12l0.1 0.6M85.6 41l-0.5 0.3M101.7 41.6l-0.3 0.5M54.5 60.9l-0.6 0.1M37.8 49.5l-0.4 0.5M101.7 37.5l-0.4 0.5M12.4 50.2l0.4 0.4M64.2 55.7l-0.5 0.3M105.6 58.5l0.2 0.6M72.9 7.1l0.6 0.2M23.4 68.6l0.6 0.1M25.6 15.4l0.5 0.3M80.7 27.6l0.4 0.4M9.5 64.9l-0.3 0.5M34.9 64.2l0.4 0.5M61.4 76.5l0.6 0.1M63.5 49.5l-0.4 0.4M71.1 52.7l-0.1 0.6M5 83.6l0.6 0.1M39.9 23.1l0.6 0.1M67.8 6.3l0.6 0.2M34.9 86.1l0.3 0.5M58.4 19.3l-0.5 0.3M77.2 1.1l-0.6 0.1M104.1 32.3l-0.2 0.6M45.1 72.2l0.4 0.4M89.7 58.7l0.1 0.6M58.8 61.9l0.3 0.5M15 64.7l0.3 0.5M35.7 38.2l0.6 0M69.8 3.9l-0.2 0.6M106.3 53.4l-0.5 0.3M7.6 80l-0.4 0.5M95.7 15.1l0.6 0.2M80.4 2.6l-0.1 0.6M21 84l0.5 0.3M105.2 41.8l-0.4 0.5M99.1 39l0.1 0.6M45.2 53.4l-0.6 0.1M2.1 75.3l-0.5 0.4M13.2 47.4l0.6 0.2M82.6 70l0.3 0.5M78.5 81.3l-0.6 0.2M52.8 30.4l0.1 0.6M96 27.1l0.1 0.6M74.6 18.6l0.1 0.6M96.5 25.6l-0.4 0.4M40.5 74.9l-0.6 0.1" stroke="#4f6874" stroke-width="1.0" stroke-linecap="round" fill="none" stroke-opacity="0.6"/><path d="M43 47.1l-0.2 0.5M91.5 14.8l-0.3 0.4M23.5 1.7l-0.4 0.3M12 0l-0.5 0.1M16.2 44.6l-0.3 0.4M105.1 60.7l-0.5 0.1M39.4 35.2l0.5 0M73 27.9l0.1 0.5M7.4 73.8l-0.5 0.1M9.5 84l-0.2 0.4M11 54.6l-0.5 0.2M26.6 21.2l0.5 0.2M4.5 58.7l0 0.5M75.3 64.4l0.4 0.3M69.1 28.2l-0.1 0.5M88 54.9l-0.1 0.5M62 47.2l0.5 0M72.1 29.8l0.4 0.3M86.6 73.5l0.3 0.4M4.2 13.2l-0.5 0.1M23.3 0.4l-0.4 0.3M79.5 56.5l0.4 0.2M20.7 9l-0.4 0.3M35.4 73.4l0.5 0.2M64.1 4.3l-0.2 0.5M45.3 3.5l0.5 0.2M65.5 10.2l0.5 0M18.7 56.1l-0.5 0.2M88.3 54l0.4 0.3M30.4 56.3l0.4 0.3M28.6 -0.1l-0.5 0M28.8 60.2l-0.5 0.2M66 16.2l0.3 0.4M89.2 72.9l-0.5 0.1M29.1 84.2l-0.1 0.5M27.4 4.8l-0.3 0.4M57.4 42.4l0.4 0.3M29.9 25.8l-0.5 0.1M42.5 47.6l-0.3 0.4M100.2 57.5l-0.5 0.1M96.8 6.7l-0.5 0.2M81.4 23.8l0.3 0.4M74 48.7l0.2 0.5M14 82.8l0.4 0.2M25.8 19.7l0.4 0.2M62.8 46l0.5 0.1M33.2 27.9l0.3 0.4M96.7 82.2l-0.2 0.5M72 70.4l0.5 0M72.7 38.9l-0.3 0.4M22.7 60.3l0.2 0.4M77.7 -0.5l0.3 0.4M32.7 46.6l-0.4 0.3M21.9 10.5l0 0.5M19.2 0.5l0.3 0.4M67.4 26.4l0 0.5M13.1 80.6l-0.3 0.4M66.5 59.4l0.5 0.1M73.1 27.8l-0.5 0M86.3 0.7l0.5 0M84.4 9.5l-0.4 0.4M1.2 5.9l-0.4 0.2M59.1 75.3l0.5 0M98.2 13.1l-0.4 0.3M87.4 21.1l0.2 0.5M28.7 12.3l-0.1 0.5M27.2 35.1l0.5 0M84.1 57.7l0.5 0.1M17.4 15l0.4 0.3M83.7 60.3l-0.5 0.1M92.8 43.1l0.4 0.3M39.8 39.7l-0.4 0.3M85.1 23.9l-0.5 0.1M20.2 73.4l-0.5 0.1M50.4 55.9l0.2 0.4M17.8 2.7l0.2 0.4M28.4 82.6l0 0.5M46.1 -0.5l-0.4 0.3M84.7 25.9l0.5 0.2M17.9 55.6l-0.4 0.4M70.4 27.9l-0.4 0.3M75.3 76.8l-0.5 0.2M35.3 43.3l0.5 0.1M0.1 51.7l-0.5 0.1M30.2 57l0.5 0.1M80.1 29.3l0.2 0.4M70.6 82.6l-0.2 0.5M17.6 69.9l-0.5 0.1M40 13.4l0.2 0.4M27.2 78.1l-0.5 0.1M56 30.8l-0.1 0.5M4.8 0.7l0.3 0.4M81.1 48.5l0.3 0.4M87.9 43.1l0.4 0.3M99.8 28.6l0.5 0.1M23.5 77.5l0.4 0.2M56.3 1.8l-0.3 0.4M0.6 0.7l-0.5 0M76.9 55.8l0.4 0.2M11.1 69.8l0.5 0.1M82.4 55.2l-0.5 0M61 37.5l-0.1 0.5M73.1 33.5l0.1 0.5M98 51.5l0.4 0.3M71.2 81.1l-0.1 0.5M104.4 46.4l-0.4 0.3M11.3 45.6l0.1 0.5M97.3 17.5l0.1 0.5M26.3 23.6l0.5 0.1M24.3 71.2l-0.5 0.1M56.2 6.8l0.5 0.1M53.8 60.7l0 0.5M2.4 16.6l-0.4 0.2M0.6 60.9l0.5 0.2M42.2 0.3l-0.3 0.4M25.9 16.3l-0.5 0.1M60.1 36.9l-0.2 0.5M44.4 28.3l-0.4 0.3M56.4 51.3l0.5 0.2M16.2 2.8l0.1 0.5M80.4 62.4l0.4 0.2M69.8 84.5l-0.4 0.2M31.8 63.9l0.3 0.4M30 52.1l0.1 0.5M96.3 39.6l-0.5 0M65.1 86.7l-0.4 0.2M51.8 20.5l-0.5 0M71.2 27.9l0.1 0.5M28.6 1l0 0.5M8.7 85.9l-0.3 0.4M58.9 68l0 0.5M24.8 73.6l0.3 0.4M74.6 76.6l0.1 0.5M14.5 79.7l0.4 0.2M31.4 80.9l0.2 0.5M39.3 6.2l-0.5 0M4.4 6.8l-0.5 0.1M95.7 29.9l-0.2 0.5M67 80l0 0.5M36.6 83.6l0.2 0.4M0.3 13.3l0.5 0.1M51.5 56.4l0.3 0.4M44.1 68.7l-0.4 0.3M57.8 -0.8l-0.5 0.2M40.8 55.9l0.2 0.5M27 15.6l-0.4 0.3M68.2 39.9l-0.4 0.3M104.9 83.4l-0.3 0.4M32.2 2l-0.2 0.4M45.6 6.7l-0.4 0.3M31.1 35.4l0.2 0.5M79.9 9.4l-0.3 0.4M66.8 32.7l0.3 0.4M82 59.3l0 0.5M19.9 61.7l-0.4 0.3M38.9 72.9l-0.3 0.4M30.5 33.6l0.3 0.4M29.9 60.4l-0.5 0.1M98.4 26.6l-0.2 0.4M7.7 60.6l-0.1 0.5M3.9 10.5l0.5 0M26.5 0l-0.1 0.5M35.7 4.1l0.4 0.4M98.8 44.3l-0.3 0.4M2.6 65.4l0.1 0.5M24.9 77.2l-0.4 0.3M3.2 9.8l-0.2 0.4M39.1 72.2l-0.4 0.3M98.7 84.6l0.2 0.4M86.1 82.4l-0.2 0.4M8.1 2.5l-0.3 0.4M43.8 59.6l-0.4 0.3M79.4 12.6l0.2 0.4M28 2l-0.4 0.2M9.6 58.7l-0.5 0.2M70.5 57.4l-0.3 0.4M45.7 51.5l-0.5 0M84.3 86.5l-0.5 0.1M41 65.3l0 0.5M85.9 73.9l0 0.5M70.6 19.5l0.4 0.2M86.2 48.8l-0.4 0.2M78.6 65.3l-0.5 0.1M21.4 5.4l0 0.5M82.7 58.2l-0.3 0.4M1.3 3.2l-0.3 0.4M44.6 56.9l-0.3 0.4M12.2 60.7l0.4 0.3M36.2 56.6l-0.4 0.3M28.4 19.8l-0.1 0.5M15.2 59.9l-0.2 0.4M65.7 5.2l0.1 0.5M11.5 73.1l-0.2 0.5M27.3 81.4l-0.4 0.3M103.6 70.9l-0.2 0.5M14.2 8.3l-0.3 0.4M3 62.8l0.5 0M79.1 69.2l0.4 0.2M24.5 14.1l0.1 0.5M65.6 70.5l-0.2 0.4M77.9 64.8l0.4 0.3M43.7 62.6l-0.3 0.4M96.4 53.7l-0.2 0.5M14.5 72.4l0.5 0.1M3 0l0 0.5M30.9 32.2l0.4 0.3M102.5 64.5l0.5 0.1M45.5 50l0.5 0.2M37.9 82l0.3 0.4M86.1 35.4l0.4 0.3M5.2 76.7l0.4 0.3M47.2 42.4l0.5 0.1M93.1 36.5l0.1 0.5M45.7 20.1l0.2 0.5M72.3 62.6l-0.2 0.5M71.1 13.2l-0.1 0.5M92.3 42.7l0.4 0.3M14.8 44.8l-0.5 0.1M79.3 61.1l0.5 0M102.8 86.6l0.1 0.5M65.6 75l0.3 0.4M96.6 44.3l0.1 0.5M88.8 49.2l0.5 0.2M80.2 70.7l-0.4 0.3M96 44.1l0.2 0.5M7.6 4.7l0.5 0.1M74.8 52.9l-0.2 0.5M89.3 14.7l0.5 0.1M86.6 87l-0.1 0.5M50.4 7.1l0.2 0.4M72.8 6.1l-0.1 0.5M84.3 71.2l-0.5 0.1M40 79.3l-0.4 0.3M39.5 72l0.1 0.5M30.9 63.2l-0.4 0.3M94.2 72.2l-0.2 0.5M103.8 39.9l0.2 0.5M16.3 68.7l0.5 0.2M19.9 51.9l-0.1 0.5M32.8 5l-0.1 0.5M67.6 65.3l-0.5 0.1M77.5 43.6l-0.5 0.1M66.2 75.9l-0.2 0.5M32.8 52.4l0.2 0.4M17.4 59.6l-0.5 0.2M105.4 28.7l0.5 0M72.4 13l0.5 0.2M43.4 66.7l-0.1 0.5M57 6.5l-0.2 0.5M67.6 5.7l0.5 0.2M35.1 84l-0.2 0.5M54.8 -0.3l-0.5 0.2M79.9 22.9l0.2 0.5M70.7 47.9l0.1 0.5M92.1 29.2l0.4 0.3M-0.6 55.9l0.3 0.4M59.8 2.3l-0.5 0M50.1 12.4l0.2 0.5M59.3 70.9l-0.5 0.1M67 53l-0.5 0.1M90.6 1.4l-0.1 0.5M36.1 57.4l0.3 0.4M34.7 79.3l-0.5 0M31 62.8l0 0.5M56.3 45.2l0.1 0.5M91 84.2l0.3 0.4M104.2 28.9l-0.5 0M64.7 42l0 0.5M47.8 60.5l0.3 0.4M81.2 42.5l0 0.5M92.9 34.4l0.5 0.2M52.1 39.7l-0.2 0.5M42.1 56.6l0.1 0.5M16 57.8l0.3 0.4M42.4 67.4l-0.4 0.3M89.4 42.2l-0.4 0.3M9.9 56.8l0.5 0M0.1 5.2l-0.1 0.5M20.8 69.5l0.3 0.4M39.3 61.9l-0.5 0.1M53.1 51.8l-0.4 0.3M0.2 82l0.4 0.3M45.8 6.2l0.3 0.4M58.9 76.4l0.4 0.2M49.6 56.5l-0.5 0M8.9 14.1l0.3 0.4M33.9 2.5l-0.2 0.5M65.1 -0.5l0 0.5M48.9 59.2l-0.2 0.4M15.2 87.5l-0.2 0.5M62.8 65.7l-0.3 0.4M75.8 49.3l0.5 0.2M40.7 52.9l-0.4 0.3M98.9 23.4l0.3 0.4M98.4 87.5l-0.1 0.5M4.5 79.6l0.2 0.4M36.1 75.6l0.3 0.4M82 23.2l0 0.5M84 7.7l0.1 0.5M95.5 51.4l0.2 0.5M104 40.2l-0.3 0.4M74.5 24.9l-0.1 0.5M28.2 2.7l0.5 0.1M76.3 84.7l0.4 0.4M43.8 4.5l0.1 0.5M31.6 40.3l-0.5 0.1M91.3 59.3l-0.5 0.2M3.7 81.6l-0.1 0.5M72.6 13.5l0.5 0M4.2 77.9l-0.4 0.3M28.1 44.3l0.1 0.5M29.8 64.6l-0.1 0.5M45.4 58.8l-0.3 0.4M77.3 72.9l-0.2 0.5M91.2 34l0 0.5M71.6 49.8l-0.5 0.1M90.4 13.9l0.2 0.5M7.3 14.3l0.2 0.5M33.3 64l-0.4 0.2M96.2 34.2l0.4 0.3M64.3 30.8l0.3 0.4M85.3 58.5l-0.4 0.3M52.8 51l0.5 0.1M24.5 54.8l-0.4 0.2M52.2 45.9l-0.3 0.4M104.8 50.4l0.1 0.5M48 6.7l0.3 0.4M31 77l-0.4 0.3M66.1 65.8l-0.5 0.1M97.3 78.5l0.5 0.2M94.3 85.6l0 0.5M97.5 60.3l-0.1 0.5M54.3 2.7l0 0.5M99.3 41.2l0.3 0.4M31.7 31.2l0.4 0.2M79.8 67.3l-0.1 0.5M30.7 13.3l-0.4 0.3M42.4 10.3l0.5 0.1M63.8 74.9l0.4 0.3M42.6 12.1l-0.4 0.3M100 14.7l-0.4 0.3M19.2 45.2l-0.2 0.4M71.5 30.7l0.5 0M103.5 20.8l-0.3 0.4M73.8 69.2l-0.5 0M87.8 0.4l-0.5 0M2.8 6.6l-0.3 0.4M59.3 17.2l0.5 0.1M95.7 19l-0.4 0.2M28.2 25.8l0.4 0.3M21.1 6.5l-0.2 0.4M85 7.1l-0.5 0.1M31.6 1.3l-0.3 0.4M57.8 43.9l0.5 0.2M97.1 1.6l0.3 0.4M13 31l-0.5 0.1M91.4 79.5l0.4 0.2M18.3 12.4l-0.2 0.5M36.8 28.6l0.1 0.5M62.7 3l0.4 0.2M61.3 -0.6l-0.2 0.5M33.4 48l0.5 0.1M27 62.9l0.5 0.2M79.4 54.2l0.2 0.5M46.9 35.7l0.5 0.1M53.8 73.4l0.5 0.1M22.6 75l-0.1 0.5M79.8 46.8l-0.3 0.4M47.1 67.2l-0.5 0.2M103.4 45.1l0.5 0.2M2.1 52.2l0.1 0.5M20.2 9l0.3 0.4M101.5 59.8l-0.2 0.5M3.7 23.4l0 0.5M86.1 4.6l-0.5 0.1M84.7 13.3l0.2 0.5M66.1 25.9l0.5 0.1M90.8 81.2l-0.3 0.4M98.3 15.6l0.4 0.2M23.5 47.4l-0.2 0.5M79.8 49.8l0 0.5M106.1 65.5l-0.5 0.1M102.8 54.1l-0.1 0.5M38.2 84l-0.2 0.5M61.9 54.6l0.3 0.4M14.9 7.3l-0.1 0.5M-0.4 10.7l0.3 0.4M29.1 31.7l-0.4 0.4M46.4 50.8l0 0.5M89.3 86.4l0.5 0.2M67.1 30.4l0.4 0.3M19.5 80.3l0.2 0.5M34.6 64.8l-0.3 0.4M67.9 2.3l0.4 0.3M27.5 46.9l-0.3 0.4M78.4 85.5l-0.2 0.4M20.9 4.7l0.5 0.1M87 80l-0.3 0.4M29.5 29.4l0.5 0.1M44.1 36.1l0.5 0.2M49.3 43.1l-0.1 0.5M22.8 12.9l0.4 0.3M45.8 14.3l-0.5 0.2M24.1 22.5l0 0.5M69.8 37.5l0.3 0.4M62.7 38.8l-0.4 0.3M64.5 56.7l0.5 0M31.4 27.9l-0.3 0.4M105.2 68l0.5 0.1M56 58.4l0.4 0.2M32.9 15.7l-0.5 0.1M84.3 27.5l-0.3 0.4M53.7 46.6l0.4 0.3M30.5 66.9l0.5 0.2M31.4 65l-0.5 0M82.3 57.3l-0.2 0.4M67.5 11.4l-0.4 0.3M99 39.2l0.5 0.2M100.3 37.7l-0.2 0.5M30.7 68.4l0.2 0.4M91.4 -0.6l0.4 0.3M37.2 22.6l0.3 0.4M75 17l-0.2 0.5M84.9 73.2l0.2 0.4M53.9 52.4l0.2 0.5M57 47l0.5 0.2M46.6 11.3l-0.4 0.3M8.3 50.9l-0.2 0.4M10.8 58.5l-0.4 0.3M68.1 73l0.1 0.5M45.7 35.6l-0.4 0.2M33.8 41.9l0 0.5M72.1 75.8l-0.1 0.5M23.1 73.1l-0.1 0.5M94.4 42.8l-0.3 0.4M16.8 74.7l0.2 0.5M40.9 14.9l0.5 0.2M78.8 30.2l0.5 0.1M98.2 34.1l0.4 0.3M30.3 16l0.5 0.1M81.7 18.9l-0.5 0.2M105.7 86.9l0 0.5M82.1 73.4l-0.4 0.3M57.5 42l0.5 0M32.5 83.5l0 0.5M85.6 0.2l-0.5 0.2M15.5 81.1l-0.2 0.5M95.3 87.7l0.1 0.5M29.8 41.7l0.1 0.5M85.8 20.3l0.5 0.2M39.9 64.4l0.4 0.2M26.7 78.1l0.4 0.2M8 51l0.2 0.5M41.8 56.2l0.2 0.5M90.4 85.4l-0.5 0.2M9.4 52.4l0.4 0.2M62.4 82.1l0.3 0.4M29.2 45.5l0.3 0.4M99.8 64l0.4 0.2M103.7 75.1l0.3 0.4M16 0.8l0.4 0.3M77.6 75.9l0 0.5M34.5 55l0.5 0.1M67.5 8l-0.5 0.1M73.5 23.1l0.2 0.5M1.7 21.5l-0.5 0.1M19.2 55.6l-0.3 0.4M79.2 43.8l-0.3 0.4M72 62.5l0 0.5M71.5 86l-0.5 0.1M25.1 3.2l0.5 0.2M30.3 85.4l-0.3 0.4M44.1 43.2l0.3 0.4M63 58.2l-0.3 0.4M-0.3 46.2l-0.3 0.4M12.1 49.7l0.4 0.2M20.7 11.5l0.4 0.3M91.4 24.4l0.5 0M80.5 61.5l0.4 0.3M95.8 35.9l0.5 0.1M82.7 9.4l0.2 0.5M59 73.3l-0.5 0M101.2 11.4l0.2 0.5M64.5 74.7l0.3 0.4M91.1 60.9l0.1 0.5M100 74.9l0.3 0.4M26 45.4l-0.3 0.4M52 68.2l-0.3 0.4M91.7 52.2l0.4 0.2M49.5 5.5l0.4 0.3M24 81l-0.3 0.4M100.5 73.6l-0.5 0.1M84.9 67.7l-0.2 0.4M85.3 69.2l0.1 0.5M87.7 55.5l-0.5 0M29.9 36.1l0.5 0M46 15l0.5 0.1M17.7 36.1l-0.4 0.3M41.7 13.7l0.1 0.5M94.8 62.9l0.5 0.1M4 1l-0.1 0.5M33.6 35.2l-0.5 0M85.6 3.3l0 0.5M77.3 39.2l0.2 0.4M21.8 9.3l0.5 0.1M105.7 64.2l0.5 0.1M74 67.9l-0.5 0.2M10.8 67.1l0 0.5M25.5 48.3l-0.5 0.1M51 8.3l0.5 0.1M87.8 57.6l0.4 0.3M2.6 74.6l0.5 0.1M100 64.2l0.2 0.5M25.1 73.5l0.5 0.1M68.7 61.6l0.3 0.4M70.6 35.3l0.1 0.5M56.2 9.8l0.3 0.4M71.7 45.3l0.5 0.1M72.1 81.5l0.5 0.1M31.1 75.3l-0.5 0M46.6 81.4l0.4 0.3M80.1 13l0 0.5M92.4 79.4l0.2 0.5M70.6 68l0 0.5M6.6 78.1l0.5 0.1M104.4 41.7l0.3 0.4M19.2 11.7l0.5 0.2M0.1 10.2l-0.1 0.5M81.7 9l-0.5 0.1M85.5 70.2l-0.2 0.5M52.8 50.8l-0.5 0.2M19.4 67.3l0.4 0.3M76 45l0.5 0M37.2 83.9l-0.1 0.5M60.5 58.4l0 0.5M10.5 78.7l-0.1 0.5M81.7 79.9l0.2 0.5M59.2 82.1l-0.2 0.5M6.7 78.4l-0.3 0.4M50.1 60.9l-0.5 0.1M56.8 36l0.3 0.4M16 2.3l0.1 0.5M47.5 39.2l-0.4 0.3M93.9 55.3l0.4 0.3M15.6 64l0.5 0.2M48.5 67.4l0.3 0.4M45.1 2.4l0.5 0.1M6.9 13.9l-0.4 0.3M37.1 78.5l-0.4 0.3M49.9 36.5l0.3 0.4M20.5 3.4l0.5 0.2M73.7 71.6l0.5 0.1M95.5 85.4l0.4 0.3M39.3 60l0.5 0.1M23 77.1l0.1 0.5M11.7 51.2l-0.1 0.5M50.6 53.4l0.4 0.3M53.2 -0.7l0.5 0.1M26.3 71.2l-0.3 0.4M101.1 25.1l0.5 0.1M98.1 18.9l0.4 0.3M80.9 15.3l0.3 0.4M25 58.6l0.2 0.5M64.1 58.8l0.5 0.2M39.2 72.9l0.1 0.5M103.8 16.2l0.3 0.4M62.6 49.1l-0.4 0.4M103.5 36l-0.1 0.5M28.5 51.7l-0.5 0.2M2.6 -0.7l-0.2 0.4M52.1 74.9l-0.4 0.3M42.4 58.5l-0.1 0.5M38.1 10.5l0.1 0.5M84.1 39.6l-0.4 0.3M100.2 40.1l-0.2 0.4M52.9 59.4l-0.5 0.1M36.3 48.1l-0.3 0.4M100.2 36.1l-0.3 0.4M10.9 48.8l0.3 0.4M62.7 54.2l-0.4 0.3M104.2 57.1l0.2 0.5M71.5 5.7l0.5 0.2M21.9 67.1l0.5 0.1M24.1 13.9l0.4 0.3M79.3 26.2l0.3 0.4M8 63.4l-0.3 0.4M33.5 62.7l0.3 0.4M60 75l0.5 0.1M62 48l-0.4 0.3M69.6 51.3l-0.1 0.5M3.5 82.1l0.5 0M38.5 21.6l0.5 0.1M66.4 4.9l0.5 0.2M33.4 84.6l0.2 0.5M56.9 17.9l-0.5 0.2M75.7 -0.4l-0.5 0.1M102.5 30.8l-0.2 0.5M43.6 70.8l0.4 0.3M88.2 57.2l0.1 0.5M57.3 60.4l0.2 0.5M13.5 63.3l0.3 0.4M34.3 36.7l0.5 0M68.3 2.5l-0.1 0.5M104.8 51.9l-0.4 0.3M6 78.5l-0.3 0.4M94.3 13.6l0.5 0.1M78.9 1.2l0 0.5M19.5 82.6l0.4 0.3M103.7 40.4l-0.3 0.4M97.6 37.6l0.1 0.5M43.6 51.9l-0.5 0.1M0.6 73.8l-0.4 0.3M11.7 45.9l0.5 0.2M81.1 68.5l0.3 0.4M76.9 79.8l-0.5 0.1M51.3 28.9l0.1 0.5M94.5 25.6l0.1 0.5M73.1 17.1l0.1 0.5M94.9 24.1l-0.4 0.3M39 73.4l-0.5 0.1" stroke="#d6dcde" stroke-width="0.9" stroke-linecap="round" fill="none" stroke-opacity="0.4"/></g>
<g transform="translate(463,40)" clip-path="url(#cp)"><rect width="106.7" height="88.6" fill="url(#g5)"/><path d="M5.5 78l-1.9 1.5M54.8 86.5l-2 1.3M25 54l0.1 2.4M12.1 13.1l1.6 1.8M45.2 41.8l2.4 0M74.7 1.7l-1.2 2.1M28.8 67.6l0.2 2.4M12.3 28.7l-1.7 1.6M5.7 1.7l0.9 2.2M58.2 51.1l-1.8 1.6M31.9 40.6l1.6 1.8M7.4 9.4l-2 1.4M24.4 87.4l-1.6 1.8M7.1 7.8l0.6 2.3M75.8 3.7l-0.3 2.4M81.8 46l-1.3 2M30.2 82.4l2 1.4M39.5 37.7l-0.4 2.4M43.9 29.8l-2 1.4M101.9 25.7l1.6 1.8M93.1 75.6l-2 1.4M57.8 18.5l-1.3 2M99.6 69.8l-2.1 1.1M97.6 6.4l1.2 2.1M45.1 42.2l2.3 0.7M45.8 55.4l-1.9 1.4M87.7 81.6l-2 1.4M53.5 83.2l0.4 2.4M61.8 37.2l2.3 0.7M0.7 7.4l2 1.4M20.3 86.8l-1 2.2M65.3 15.7l1.5 1.9M105 70l-2.4 0.4M63.1 82.1l-0.7 2.3M28 70.3l1.9 1.4M5.4 4.5l-1.1 2.1M6.4 85.8l1 2.2M103.1 17.3l-2.3 0.5M28.5 80.2l-2.3 0.7M59.2 -0.6l-0.1 2.4M50.5 53.8l-1.1 2.2M93.8 87.6l-1.4 2M54.5 69.2l-2 1.4M27.7 72.5l-2.4 0.2M24.8 76.8l2.4 0.2M43.5 7l1 2.2M61 21l-0.8 2.3M60.6 35.1l1.4 2M41.6 65.1l-0.7 2.3M77.2 54.9l2.3 0.7M23.7 21.7l-2.2 0.9M79.6 86.6l-0.2 2.4M92.5 82l2.2 0.9M69.1 29.1l-1.2 2.1M2.1 73.4l1.3 2M76.4 50.8l2 1.4M79.2 76.3l0.1 2.4M19.8 2.9l2.2 1M9.3 23.4l1.9 1.5M23.6 58.6l-2.2 1M22.9 38l-1.4 1.9M21.7 2.4l2.4 0.1M94.4 54.7l-1.8 1.5M8.7 65.5l2.4 0.1M66.5 48.1l1.2 2.1M71.9 60.1l-2.3 0.7M54.7 70.2l-0.9 2.2M99 77.9l1.4 2M7.9 19.4l0.9 2.2M24.4 52.8l0.8 2.3M63.1 88.2l2.2 0.9M50.1 19.2l-2.4 0M31.1 53.4l2.4 0.4M9.2 51.2l0.6 2.3M78.8 49.4l-1.7 1.7M41.8 73.7l0.8 2.3M38.4 38.1l-2.4 0.1M9.2 33.2l1.7 1.7M93.8 26.9l-2.4 0.2M103.5 66.2l-2.3 0.8M47.3 43.5l-1.2 2.1M7 19.1l-2.3 0.8M69.8 5.1l0.4 2.4M105.8 62.9l-2.1 1.2M37.6 32l-1.9 1.4M51.5 21.9l-0.1 2.4M73 35.3l0.2 2.4M17.9 1.7l-1.4 1.9M80.4 51l0.7 2.3M85.6 45.2l2.3 0.6M3.5 66.6l-1.7 1.7M36.2 84l1.6 1.8M35.2 80.9l0.1 2.4M86 43.5l-1.9 1.5M51.4 80.1l2.1 1.2M102.4 60.2l2.4 0.2M9.8 4.2l2.2 0.9M50.1 48.6l-0.7 2.3M46.8 1.3l1 2.2M30.5 37.9l1.7 1.7M5.7 0l0.4 2.4M59.8 15l-2.3 0.5M38.3 18.7l1.7 1.7M75.3 12.2l0.7 2.3M63.2 45.5l-2.2 0.9M58.4 34.5l-0.8 2.3M42.8 69.3l1.6 1.8M67.1 73.1l0.2 2.4M65.5 17.5l0.2 2.4M2 80.6l2.2 1M67.9 1.7l0.9 2.2M20.1 1.3l1.4 2M7.5 51.3l-2 1.4M70.8 25.2l1.3 2M36.3 54.7l-1.2 2.1M40.3 28.8l-2.4 0.2M88.2 80.2l-2.3 0.6M90.2 61.4l0.9 2.2M3.7 80.5l-0.8 2.3M83.9 24.3l1.3 2M53.9 31.1l0.8 2.3M58.9 52.5l0.1 2.4M35.4 57l-1.9 1.5M99.9 70l-2.4 0.5M94.3 15l1.5 1.9M18.7 52.9l2.4 0M81.7 41.1l0.4 2.4M63.7 31l2.4 0.4M81.4 28.5l2.4 0.2M92.4 42.1l-1.8 1.6M5.6 43.7l2.3 0.8M72.5 74.8l-1.5 1.9M79.4 67.2l1 2.2M74.2 83.5l-2.4 0.5M4.1 28.6l-2.2 1.1M62.5 67.7l2.4 0.5M51.9 47l2 1.4M42.8 70.5l-2.4 0.4M45.4 79.8l-0.8 2.2M65.7 48.3l0.6 2.3M6 13.2l-1.9 1.5M73.8 4.5l-2 1.3M83.5 18.8l0.1 2.4M2.5 21.3l0.2 2.4M-0.4 81.9l2.3 0.7M31.9 0.6l1 2.2M38.2 36.8l2.2 1.1M19.3 14.6l-0.9 2.2M18.1 7.8l-0.8 2.3M71.6 16.7l2.2 1.1M59 77.3l-0.9 2.2M92.4 70.9l2.3 0.7M46.7 63.6l2.3 0.8M27 71.7l-1.1 2.2M38.9 22.7l0.3 2.4M48.9 51l-2.3 0.7M107.3 70.5l-0.9 2.2M91.3 24.7l-1.4 1.9M30.9 34.6l2.2 0.9M70.6 3.3l-2.1 1.2M47.9 46.3l2.3 0.6M40 81l-0.9 2.2M61 41.1l-2.3 0.7M41.2 83.7l-2.3 0.7M11.2 44.4l-2.3 0.8M24.4 50.6l0.4 2.4M70.9 76.7l-1.4 2M22.1 9.4l-1.9 1.5M56.3 29.7l2.2 1M47.1 49.5l-2.4 0.4M5.7 25.7l-2.3 0.7M38.2 83.8l0.4 2.4M58.1 9.6l-1.8 1.5M92.7 70l0.4 2.4M75.9 66l1.6 1.8M48.9 87.1l-1.5 1.9M94.8 52.6l2.4 0.5M59.7 4.7l-1.9 1.4M77.3 6.4l-2.4 0.2M79.1 20.9l1.5 1.9M54.9 83.1l-2.4 0.5M68.8 72.1l2.3 0.6M107.1 81.5l-2.2 1M65.2 0.6l1.5 1.8M78.6 82.2l-2.4 0.3M64.6 20.7l0.5 2.3M34.8 15.8l-2.3 0.6M94.3 46.6l2.4 0.2M103.4 16.4l2.3 0.6M21.5 70.3l-2 1.3M24.8 14l-1 2.2M37.2 63.5l-0.3 2.4M75.6 70.4l2.4 0.2M67.1 65.4l2.1 1.2M94.5 56.4l0.9 2.2M104.3 71.5l2.4 0.4M97.8 66.1l-2.4 0.1M35.4 9.8l-1.8 1.6M2.3 60.8l-2.4 0.4M93.5 26.4l-1.4 1.9M93.6 57.5l1.1 2.1M40.6 57.5l2.3 0.6M45.5 57.5l-1.6 1.8M3 52.3l2.2 0.8M29.4 16.9l-0.4 2.4M9.1 21.5l0.3 2.4M74.5 33l0 2.4M99.1 59.1l2.3 0.6M12 56.3l2.3 0.6M70 60.5l-0.2 2.4M99 28.6l2.4 0.2M1.3 35.6l-0.2 2.4M62.1 10.7l2.1 1.1M26.7 9.8l1.5 1.9M37.7 53.8l2.1 1.1M60.1 33.7l-0.5 2.3M100.6 56.3l0.8 2.3M64.3 17.7l1.8 1.5M0.7 57.9l1.8 1.5M69.4 54.8l-0.5 2.4M49.4 43l-2.3 0.7M4.7 47.3l0.6 2.3M101.9 11.3l2.1 1.2M40.7 19.4l1.3 2M46 32.9l1.7 1.6M18.1 31.5l-0.5 2.3M94.7 30.7l-1.9 1.5M7.8 23.7l-0.5 2.3M65 79.1l2 1.3M25.5 56.7l1.3 2M15.4 62.5l0.9 2.2M15 29.5l0.4 2.4M105.5 70.4l0.8 2.3M64.8 20.8l-2.4 0M19.8 39.1l-0.4 2.4M47.6 5.9l-1.2 2.1M56.9 5.7l-1.5 1.9M89.1 69.5l-1.1 2.2M45.1 33.2l-2 1.4M79.6 7.8l0.9 2.2M1.6 26.6l-1.2 2.1M107 2.8l-2.4 0.2M85.4 82.7l2.1 1.2M46 69.2l-0.9 2.2M90.9 24.9l0.9 2.2M29.7 59.1l2.4 0.5M16.3 71.1l2.4 0.3M95.3 81.5l-1.7 1.6M10.8 57.8l2.2 0.8M29.3 25.8l-1.5 1.9M25.3 88.4l2.3 0.7M10.5 64.3l1 2.2M67.8 55.9l2.4 0.2M92.9 29.5l-0.3 2.4M28.2 49l-1.9 1.5M12.4 36.4l1.8 1.6M73.6 51.6l-0.5 2.3M73.8 51.2l-2.3 0.6M93.6 78.2l1.5 1.9M29.9 20l0.2 2.4M52.7 23.4l-1.6 1.8M62.5 22.9l-2.2 1M52.4 7.8l2.1 1.2M83.9 57.4l-1.2 2.1M45.6 51.2l2.2 0.9M21.5 84.6l2.3 0.8M43.1 24.1l-2.4 0.1M70.5 76.6l2.4 0.4M4.8 16.7l-2.3 0.6M55.3 53.2l-1.7 1.7M58.9 22.7l-1.3 2M41.8 53.3l-1.6 1.8M79.2 9.5l-1.1 2.1M73 55l1.5 1.9M68.6 40.8l0.4 2.4M53.5 2.1l1.9 1.4M47.5 81.3l-2.2 1M86.8 15.4l-1.8 1.5M50.7 41.7l-1.9 1.5M71.2 23.4l1.9 1.5M60.7 20.6l-0.7 2.3M76.8 68.8l1.7 1.7M58.8 54.5l-1.9 1.5M98.9 57.6l-1.7 1.7M103.9 11.5l-2.4 0M65 60.2l-1.5 1.9M46.1 74.2l-1.3 2M59.5 16.9l-1.8 1.5M71.1 31.8l2.3 0.7M69.7 32l-0.7 2.3M98.8 12.6l2.4 0.2M72.1 22l1 2.2M26.6 40.3l2.2 0.9M90.8 83.6l-2.4 0.4M5.3 57.7l2.4 0.2M52.4 9l-2.3 0.6M64.1 75.8l-2.4 0.4M17.3 30.1l0.5 2.4M11.4 61.9l-2.1 1.2M91 81.6l2.4 0.4M39.1 57.5l2.2 1M38.8 38.1l2.4 0.1M67.4 21.5l2.3 0.5M4.9 48.2l2.4 0M36.3 39.1l-2.1 1.2M29.8 37.7l2.3 0.7M23.3 38.4l-0.7 2.3M90.5 42.2l1.6 1.8M96.4 13.8l2.2 1M28.5 47l0.6 2.3M37.7 32.1l2 1.3M11.9 85.3l-2.4 0.2M77.7 5.8l0.9 2.2M65.7 36.5l-0.7 2.3M30.5 84.4l-0.5 2.4M74 81.6l-0.9 2.2M73.1 74.9l0.1 2.4M8.2 9.9l1.6 1.8M74.2 47.2l2.2 1M104.2 84.4l-2.3 0.8M46.8 50.1l2 1.4M10.7 19.6l0.4 2.4M17.2 57.3l-2 1.4M33.8 33.2l-0.6 2.3M98.9 64.8l-2.4 0.4M1.7 14.7l-2 1.4M15.6 13.6l-0.1 2.4M11.4 77.7l2.2 0.9M79 49.4l-0.7 2.3M16.8 28.7l0.2 2.4M21 86.8l-2.2 1M30.5 3.5l-0.2 2.4M76.3 37.1l-1.4 2M9.4 48.7l-2 1.3M104.4 28.6l0.2 2.4M44.3 81.4l-2.1 1.1M83 73.4l-2.3 0.7M96.6 15.7l2.1 1.1M54.4 27.3l-2.3 0.6M46.1 68.5l-2.2 1M103.7 37l-2.2 1.1M16.6 39.9l1.2 2.1M18.8 4.9l1.7 1.7M43.8 82.4l2.2 1M103.9 71.6l0.9 2.2M26.9 74.7l-2.2 1.1M54.8 47.7l1 2.2M29.5 15.6l2.4 0M54.9 76.9l1.4 2M62.7 23.4l2.3 0.6M26.7 59l-0.9 2.2M94 82.6l-1.8 1.6M25.5 5.7l-2.3 0.5M53.6 20.5l2.3 0.7M25.9 36.6l0.9 2.2M89.6 43l2.2 0.9M22.7 6.9l-2.3 0.7M25.5 53.6l-2.1 1.2M26.9 7.2l-0.1 2.4M55.5 46.2l-2.4 0.3M104.9 72.7l-0.2 2.4M86 68.9l-1.8 1.6M46.5 20.1l0.1 2.4M104.4 80l1 2.2M85 11.3l-2.4 0M28.2 41.1l-2.1 1.1M60.6 23l-0.7 2.3M74.9 13.5l-2.2 1M31.6 59.7l-1.1 2.1M6.1 33.8l-1.9 1.4M59.9 86l2.3 0.5M17.8 80.6l2.2 1M62.4 56.4l2.3 0.8M75.4 86.1l-0.8 2.3M57.8 55.3l-1.5 1.9M56.3 68.7l2.1 1.1M52.7 7.6l0 2.4M6.5 62l2.2 0.8M101.6 70.3l-1.3 2M100.8 71l-1.8 1.5M31.8 42.6l2.3 0.6M23.9 50.8l-2.4 0.2M84.1 43.3l-1.2 2.1M0.6 37.1l2.2 0.9M8.7 65.7l1.1 2.1M58.5 21.3l2.1 1.1M51.1 42.7l-1.6 1.8M35.6 45.8l-2.3 0.6M46.1 22.6l2 1.3M13.6 54.9l2 1.3M81.6 59.9l-0.9 2.2M14.7 30.2l-2.2 1M68.4 15.1l-1.6 1.8M70.3 43.9l0.3 2.4M18.3 54.6l2.3 0.8M32.7 27.4l-0.8 2.2M31.8 25.3l0.3 2.4M9.7 39.9l-2 1.4M4.5 11l-0.5 2.3M34.6 10.1l-1.6 1.8M57 77.5l-2.4 0.2M86.8 65.3l-0.9 2.2M97.1 53.9l-2.3 0.7M87.3 67.3l1.6 1.8M46.7 72.9l2.4 0M81.1 76.3l-2.2 0.9M101.9 69.2l2.4 0.2M13.7 12.8l-2.4 0M18.3 50.1l0.3 2.4M66.3 54.2l2.4 0.5M10.7 29.1l1.6 1.8M45.9 43.1l-1.5 1.8M40.3 79.4l0.9 2.2M23.4 30.1l-0.9 2.2M68.4 59.1l2.3 0.8M82.4 15.9l-2.1 1.2M35 57.3l0.9 2.2M47.1 3.5l-2.1 1.2M5.7 41.1l2.1 1.1M59.5 52.2l-1.2 2.1M60.8 47l0.2 2.4M52.3 84.4l0.7 2.3M22 58l2.4 0.1M67.4 41.4l-0.2 2.4M71.9 38.8l-2.1 1.2M74.3 77.3l2.3 0.8M53 51.1l0.4 2.4M68.1 32.7l2.4 0.1M47.2 81.1l-2.4 0M11.3 0.7l-2.4 0.2M91 79.8l-1.3 2M10 24.4l0.1 2.4M89.6 47.8l2.3 0.5M36.4 85l2.2 0.9M4 68.3l-1.4 1.9M86.1 44.5l-1.9 1.4M103.1 78l-2.4 0.1M105.2 61.7l-2.2 1M16.6 45.8l0.5 2.4M59.6 81.8l1.7 1.7M59.2 78.5l-0.3 2.4M71.2 19.2l1.1 2.1M38 6.5l-0.3 2.4M25.4 10.1l-2.2 0.9M84 4.4l0.4 2.4M74.9 55.1l-2.4 0.1M37.1 15.8l-1.5 1.9M35.6 39.6l2.4 0.3M83 16.1l-1.7 1.7M88.2 82.9l-1.2 2.1M22.2 32.8l-0.9 2.2M49.4 8.4l2.4 0M91.3 3.9l-2.2 0.9M52.6 7.1l0 2.4M11.2 85l-0.3 2.4M99 5.5l2.1 1.2M31 30.7l2.4 0.3M55.8 8.8l2.4 0.1M90.4 28.8l1.9 1.5M98.9 19.2l1.4 2M48.3 79.9l2.1 1.1M7.3 52.2l2.4 0.4M35.2 7.2l-1.6 1.8M45.5 71.2l-1.4 1.9M5.1 26.2l-2.2 0.9M96.8 71.1l1.9 1.5M43.7 6.3l-1.6 1.8M92.1 36.1l-0.7 2.3M43.2 35.8l2.3 0.7M65.3 38.7l-2.2 0.9M53.2 68l1 2.2M32.2 23.7l2 1.3M30.5 81.7l2 1.3M59 32.8l-2.3 0.6M48.1 3.7l1.8 1.5M62 69.8l0.9 2.2M10.5 54.4l-0.4 2.4M0.7 66.5l1 2.2M17.7 20.4l-1.1 2.1M85 52.8l2.3 0.7M78.4 1.8l0.5 2.3M1.5 46.7l-0.6 2.3M18.2 36.4l-0.9 2.2M43.7 73.2l-0.8 2.3M69.3 8.1l1.6 1.8M42.1 23.2l-1 2.2M43.3 86.1l-2.4 0.2M74.8 69l0.1 2.4M16 26l-1 2.2M103.7 79.3l-2.1 1.2M88.8 45.3l1.7 1.7M105.1 81.2l1.6 1.8M90.5 73.5l-2.4 0.2M57 48.9l1.4 1.9M94.9 52.3l0.6 2.3M14.1 -0.1l0.9 2.2M63.6 79.9l-2.4 0.1M29.4 78.7l-0.3 2.4M82.6 10l-2.3 0.8M67 72.4l2.1 1.2M45.7 28.6l1.5 1.8M96.4 32.9l-1.1 2.1M73.7 68.2l1.3 2M103.5 35.6l-1.2 2.1M49.7 81.6l-0.1 2.4M62 62.2l2.3 0.6M7.5 39.2l2.3 0.8M26.7 14.4l0.5 2.4M62.4 33l-0.3 2.4M48.7 71.2l2 1.3M13 48.5l1.6 1.8M52.7 16.5l2.4 0M40.6 45.1l1.6 1.8M55.7 11.2l1.4 2M33.2 1l0.8 2.3M79.2 75.2l-0.7 2.3M58 62.6l-2.1 1.1M22.3 80.4l-1.5 1.9M52.7 61.9l-1.6 1.7M69.7 25.6l1.5 1.9M70.1 10.7l0 2.4M100.7 87.2l-1.6 1.8M103.1 83.6l-2.3 0.8M69.8 8.4l1.7 1.6M11.8 7.5l2.4 0.1M92.5 48.8l2.4 0.4M47.9 23.8l-0.1 2.4M98.2 51.4l-2.2 0.9M13 31l2.1 1.1M98.3 67.3l-1.9 1.5M102.9 52.7l-1 2.2M76.2 65.6l-2.2 1M16.1 22.8l-2.3 0.7M100.7 15.4l2.3 0.8M80.8 9.9l-1.9 1.4M3.3 62l2.2 1M43 58l2.2 0.9M35.7 59.6l0.8 2.3M94.5 82l0.1 2.4M78.6 5.4l2.3 0.5M41.6 44.8l1.6 1.8M79.6 4l2 1.3M61.7 60.8l2.2 1M90.4 17.7l2.3 0.7M33 38.9l2.4 0.2M5.8 86.9l1.9 1.5M81 32.9l1.2 2.1M76.4 35.1l0.6 2.3M101.7 12.7l-1.4 2M48 72.1l-0.8 2.3M76.7 13l0.1 2.4M105.1 80.8l1.3 2M90 11.4l-0.8 2.2M102.7 72.4l2 1.4M62.4 11.6l2 1.3M85.2 59.4l2.3 0.8M76.4 14.7l-1.2 2.1M32 15.4l2.2 1M8.4 56.3l1.8 1.5M37.1 87l1.1 2.1M91.3 47.9l-0.5 2.4M6.5 40.7l-1.1 2.1M52.5 5.8l-0.7 2.3M99.1 72.1l-0.7 2.3M48.7 68.5l2 1.4M65.7 53.4l-2.3 0.7M19.3 73.7l-1.6 1.8M39.1 4.8l0.7 2.3M68.8 27.9l0.8 2.3M53.1 42.2l-0.6 2.3M20.4 3l2.2 0.9M65 17.9l-1.1 2.2M97.6 56.2l-2.3 0.7M75.5 48.4l1 2.2M98.3 4.6l0 2.4M60.4 27.6l1.7 1.7M8.4 77.6l-2.3 0.7M61.4 65.2l0.9 2.2M79.3 7.4l1 2.2M55.5 31.1l-1.5 1.9M4.8 54.4l0.9 2.2M74.5 51.1l-2.3 0.7M32.2 28l0.7 2.3M56.6 36.2l-0.7 2.3M73.1 29.4l1.4 2M91.9 53.4l-0.7 2.3M74.7 30.9l0.2 2.4M42.8 79.2l2.3 0.8M103.1 68.7l-2.3 0.8M85 88l2.1 1.2M14.9 26.8l-0.6 2.3M41.3 30.1l-1.3 2M26.7 7.8l0.2 2.4M88.4 46.8l1.2 2.1M66.1 72.4l0.3 2.4M13.2 39.2l-2.4 0M48.7 34.3l2.4 0.1M34.9 85.4l-2.2 0.8M7.1 38.3l-0.8 2.3M88 64.3l0.1 2.4M3.3 7.7l-1 2.2M19.1 39.5l-1 2.2M47 74.9l-2.1 1.2M105.8 50.1l-2.4 0.2M22.8 65.3l-0.1 2.4M76.3 79.3l1.1 2.1M38.1 52.5l1 2.2M88 42.8l-2.3 0.7M55 60.2l0.2 2.4M23.1 64.1l2.3 0.5M63.1 72.4l-0.6 2.3M13.3 74.9l2.2 0.8M82 64.4l1.1 2.1M92.4 43.2l-1.1 2.1M48.7 23.1l-0.8 2.3M69.9 -0.4l-0.3 2.4M51.3 88.3l-2.1 1.2M35.8 14.9l-0.8 2.3M45.8 64l-2.4 0.2M91.1 10.9l-2 1.3M54.6 73.5l1.6 1.8M93.5 60.6l-1.9 1.5M31.2 6.9l1 2.2M43.8 18.3l-2.4 0.4M98.9 8.2l-0.9 2.2M9.8 87.1l0.6 2.3M82.2 43l2 1.3M51.9 80.1l-2.1 1.1M75.2 28.9l1.1 2.1M40.8 88.6l2.4 0.1M30.4 7.2l-2 1.4M1.1 75.5l2.4 0M16.3 51.7l2.4 0.3M43.4 48.8l2.4 0.2M94.9 26.5l-1.1 2.2M20.7 37.4l-0.5 2.4M49.8 30.7l0.1 2.4M67.7 45.8l-2.4 0.5M26.3 10.3l0.2 2.4M33.8 75l1.9 1.4M87.8 18.4l-2.4 0M30.8 44.6l2.3 0.8M52.2 9.7l2.4 0.4M22.5 43.3l1.8 1.5M89.1 75.7l-2.4 0.2M23.2 14.4l0.6 2.3M72.7 -0.5l1 2.2M97.8 76.2l1 2.2M92.4 3.4l1 2.2M102.4 20.7l-1.7 1.7" stroke="#77777d" stroke-width="0.9" stroke-linecap="round" fill="none" stroke-opacity="0.5"/><path d="M4.6 77.2l-1.8 1.3M53.9 85.8l-1.9 1.2M24.2 53.3l0.1 2.2M11.4 12.4l1.5 1.6M44.5 41l2.2 0M73.9 1l-1.1 1.9M28 66.9l0.2 2.2M11.4 27.9l-1.6 1.5M5 0.9l0.9 2M57.3 50.3l-1.7 1.5M31.2 39.9l1.4 1.7M6.5 8.6l-1.8 1.3M23.5 86.6l-1.5 1.7M6.3 7.1l0.6 2.1M75 3l-0.3 2.2M80.9 45.3l-1.2 1.8M29.5 81.6l1.8 1.3M38.6 37l-0.4 2.2M43 29.1l-1.8 1.3M101.2 25l1.5 1.6M92.2 74.9l-1.8 1.3M56.9 17.8l-1.2 1.8M98.7 69l-1.9 1M96.9 5.6l1.1 1.9M44.4 41.5l2.1 0.6M44.9 54.7l-1.8 1.3M86.8 80.9l-1.8 1.3M52.8 82.5l0.4 2.2M61.1 36.5l2.1 0.6M0 6.7l1.8 1.3M19.5 86l-0.9 2M64.6 15l1.3 1.7M104.1 69.2l-2.2 0.3M62.3 81.4l-0.6 2.1M27.3 69.6l1.8 1.3M4.5 3.8l-1 1.9M5.6 85.1l0.9 2M102.2 16.5l-2.2 0.5M27.6 79.4l-2.1 0.6M58.4 -1.3l-0.1 2.2M49.7 53.1l-1 2M92.9 86.9l-1.3 1.8M53.7 68.5l-1.8 1.3M26.8 71.7l-2.2 0.2M24.1 76l2.2 0.2M42.8 6.3l0.9 2M60.1 20.3l-0.7 2.1M59.8 34.4l1.3 1.8M40.8 64.4l-0.6 2.1M76.5 54.1l2.1 0.6M22.8 20.9l-2 0.8M78.8 85.9l-0.2 2.2M91.8 81.3l2.1 0.8M68.2 28.4l-1.1 1.9M1.3 72.7l1.2 1.8M75.6 50.1l1.8 1.3M78.4 75.6l0.1 2.2M19 2.1l2 0.9M8.6 22.7l1.7 1.3M22.7 57.9l-2 0.9M22.1 37.3l-1.3 1.8M21 1.6l2.2 0.1M93.5 54l-1.7 1.4M8 64.7l2.2 0.1M65.8 47.4l1.1 1.9M71 59.3l-2.1 0.7M53.8 69.5l-0.8 2M98.2 77.2l1.3 1.8M7.2 18.7l0.8 2M23.6 52.1l0.8 2.1M62.4 87.5l2 0.9M49.2 18.4l-2.2 0M30.4 52.6l2.2 0.4M8.4 50.5l0.5 2.1M77.9 48.7l-1.5 1.6M41 73l0.7 2.1M37.5 37.3l-2.2 0.1M8.4 32.5l1.6 1.5M92.9 26.1l-2.2 0.1M102.6 65.5l-2.1 0.7M46.4 42.8l-1.1 1.9M6.1 18.3l-2.1 0.7M69 4.4l0.4 2.2M104.9 62.2l-1.9 1.1M36.7 31.3l-1.8 1.3M50.7 21.2l-0.1 2.2M72.2 34.6l0.2 2.2M17 1l-1.3 1.8M79.6 50.3l0.6 2.1M84.9 44.4l2.1 0.6M2.7 65.9l-1.5 1.6M35.5 83.2l1.5 1.6M34.5 80.2l0.1 2.2M85.1 42.7l-1.7 1.4M50.7 79.3l1.9 1.1M101.7 59.4l2.2 0.2M9 3.5l2 0.8M49.3 47.9l-0.6 2.1M46 0.6l0.9 2M29.8 37.1l1.5 1.6M5 -0.7l0.3 2.2M58.9 14.3l-2.1 0.5M37.6 17.9l1.5 1.6M74.6 11.5l0.6 2.1M62.3 44.7l-2 0.8M57.5 33.8l-0.8 2.1M42 68.6l1.5 1.6M66.3 72.4l0.2 2.2M64.8 16.8l0.1 2.2M1.3 79.8l2 1M67.2 0.9l0.8 2M19.4 0.6l1.3 1.8M6.6 50.6l-1.8 1.3M70 24.5l1.2 1.9M35.4 54l-1.1 1.9M39.4 28l-2.2 0.2M87.3 79.5l-2.1 0.5M89.4 60.7l0.8 2M2.9 79.8l-0.7 2.1M83.1 23.6l1.2 1.9M53.2 30.4l0.7 2.1M58.1 51.8l0.1 2.2M34.6 56.3l-1.8 1.3M99 69.2l-2.2 0.4M93.5 14.3l1.3 1.7M18 52.1l2.2 0M80.9 40.4l0.3 2.2M63 30.3l2.2 0.4M80.6 27.7l2.2 0.2M91.6 41.3l-1.7 1.4M4.9 42.9l2.1 0.8M71.7 74.1l-1.4 1.7M78.7 66.5l0.9 2M73.3 82.8l-2.2 0.4M3.2 27.8l-2 1M61.8 66.9l2.2 0.4M51.2 46.2l1.8 1.3M41.9 69.7l-2.2 0.4M44.5 79.1l-0.8 2.1M64.9 47.6l0.5 2.1M5.1 12.4l-1.7 1.4M72.9 3.8l-1.8 1.2M82.7 18.1l0.1 2.2M1.7 20.6l0.2 2.2M-1.1 81.1l2.1 0.7M31.1 -0.1l0.9 2M37.5 36l2 1M18.4 13.9l-0.8 2M17.3 7.1l-0.7 2.1M70.9 15.9l2 1M58.2 76.6l-0.9 2M91.7 70.1l2.1 0.7M46 62.9l2.1 0.7M26.1 71l-1 2M38.1 22l0.3 2.2M48 50.2l-2.1 0.7M106.5 69.8l-0.9 2M90.4 24l-1.3 1.8M30.2 33.9l2 0.9M69.7 2.5l-1.9 1.1M47.2 45.5l2.1 0.6M39.2 80.3l-0.8 2.1M60.1 40.3l-2.1 0.6M40.3 82.9l-2.1 0.6M10.3 43.6l-2.1 0.7M23.6 49.9l0.3 2.2M70.1 76l-1.3 1.8M21.2 8.6l-1.7 1.3M55.6 28.9l2 0.9M46.2 48.7l-2.2 0.4M4.8 24.9l-2.1 0.6M37.5 83.1l0.4 2.2M57.2 8.9l-1.7 1.4M91.9 69.3l0.4 2.2M75.2 65.3l1.4 1.7M48 86.4l-1.4 1.7M94.1 51.8l2.2 0.4M58.8 3.9l-1.8 1.3M76.4 5.6l-2.2 0.2M78.4 20.2l1.4 1.7M54 82.3l-2.2 0.4M68.1 71.3l2.1 0.6M106.2 80.8l-2 0.9M64.5 -0.2l1.4 1.7M77.7 81.4l-2.2 0.2M63.8 20l0.5 2.1M33.9 15l-2.1 0.5M93.6 45.8l2.2 0.2M102.7 15.6l2.1 0.6M20.6 69.6l-1.8 1.2M23.9 13.3l-0.9 2M36.4 62.8l-0.2 2.2M74.9 69.6l2.2 0.2M66.3 64.6l1.9 1.1M93.8 55.7l0.9 2M103.6 70.7l2.2 0.4M96.9 65.3l-2.2 0M34.5 9.1l-1.6 1.5M1.4 60l-2.2 0.3M92.6 25.7l-1.3 1.8M92.9 56.8l1 1.9M39.9 56.7l2.1 0.5M44.7 56.8l-1.5 1.6M2.3 51.6l2.1 0.8M28.6 16.2l-0.3 2.2M8.3 20.8l0.2 2.2M73.7 32.3l0 2.2M98.4 58.3l2.1 0.5M11.3 55.5l2.1 0.5M69.1 59.8l-0.1 2.2M98.3 27.8l2.2 0.2M0.4 34.9l-0.2 2.2M61.4 9.9l2 1M25.9 9.1l1.4 1.7M37 53.1l2 1M59.3 33l-0.5 2.1M99.8 55.6l0.8 2.1M63.6 17l1.7 1.4M0 57.2l1.7 1.4M68.6 54l-0.4 2.2M48.5 42.2l-2.1 0.6M3.9 46.6l0.6 2.1M101.1 10.6l1.9 1.1M39.9 18.6l1.2 1.8M45.3 32.1l1.6 1.5M17.3 30.8l-0.5 2.1M93.8 30l-1.7 1.4M7 23l-0.5 2.1M64.3 78.4l1.8 1.2M24.8 56l1.1 1.9M14.7 61.8l0.8 2M14.2 28.8l0.4 2.2M104.7 69.7l0.7 2.1M63.9 20l-2.2 0M19 38.4l-0.4 2.2M46.8 5.2l-1.1 1.9M56 5l-1.4 1.7M88.3 68.8l-1 2M44.2 32.5l-1.8 1.3M78.9 7.1l0.9 2M0.7 25.9l-1.1 1.9M106.1 2l-2.2 0.2M84.7 81.9l1.9 1.1M45.1 68.5l-0.8 2M90.1 24.2l0.8 2.1M29 58.3l2.2 0.4M15.6 70.3l2.2 0.3M94.4 80.8l-1.6 1.5M10.1 57.1l2.1 0.8M28.4 25l-1.4 1.7M24.6 87.6l2.1 0.7M9.7 63.6l0.9 2M67.1 55.1l2.2 0.2M92.1 28.8l-0.3 2.2M27.3 48.3l-1.7 1.4M11.6 35.7l1.7 1.4M72.8 50.9l-0.4 2.2M72.9 50.4l-2.1 0.5M92.9 77.5l1.3 1.8M29.1 19.3l0.2 2.2M51.9 22.6l-1.4 1.7M61.6 22.1l-2 0.9M51.6 7l1.9 1.1M83 56.7l-1.1 1.9M44.9 50.5l2 0.8M20.8 83.9l2.1 0.8M42.2 23.3l-2.2 0.1M69.8 75.8l2.2 0.3M3.9 15.9l-2.1 0.5M54.4 52.5l-1.6 1.6M58 21.9l-1.2 1.9M40.9 52.6l-1.5 1.7M78.4 8.8l-1 2M72.3 54.3l1.4 1.7M67.8 40.1l0.4 2.2M52.8 1.3l1.8 1.3M46.6 80.6l-2 0.9M85.9 14.7l-1.7 1.4M49.9 40.9l-1.7 1.4M70.5 22.7l1.7 1.4M59.9 19.9l-0.6 2.1M76 68l1.5 1.6M57.9 53.7l-1.7 1.3M98 56.9l-1.5 1.6M103 10.7l-2.2 0M64.2 59.4l-1.3 1.7M45.2 73.5l-1.2 1.8M58.6 16.1l-1.7 1.4M70.4 31.1l2.1 0.6M68.9 31.3l-0.6 2.1M98.1 11.8l2.2 0.2M71.3 21.3l0.9 2M25.8 39.6l2.1 0.8M89.9 82.8l-2.2 0.4M4.6 56.9l2.2 0.2M51.5 8.3l-2.1 0.5M63.2 75l-2.2 0.4M16.5 29.4l0.4 2.2M10.5 61.1l-1.9 1.1M90.3 80.8l2.2 0.4M38.4 56.7l2 0.9M38.1 37.3l2.2 0.1M66.6 20.7l2.1 0.5M4.2 47.4l2.2 0M35.4 38.4l-1.9 1.1M29.1 36.9l2.1 0.6M22.5 37.7l-0.6 2.1M89.8 41.5l1.4 1.7M95.7 13l2 0.9M27.7 46.3l0.6 2.1M37 31.4l1.9 1.2M11 84.5l-2.2 0.2M77 5.1l0.8 2.1M64.8 35.8l-0.6 2.1M29.6 83.7l-0.4 2.2M73.2 80.9l-0.9 2M72.3 74.2l0.1 2.2M7.5 9.2l1.5 1.7M73.5 46.4l2 0.9M103.3 83.7l-2.1 0.8M46.1 49.4l1.8 1.3M9.9 18.9l0.4 2.2M16.3 56.5l-1.8 1.2M33 32.5l-0.5 2.1M98 64l-2.2 0.4M0.9 13.9l-1.8 1.2M14.8 12.9l-0.1 2.2M10.7 76.9l2 0.8M78.2 48.7l-0.6 2.1M16 28l0.2 2.2M20.1 86.1l-2 0.9M29.7 2.8l-0.2 2.2M75.5 36.3l-1.3 1.8M8.5 48l-1.8 1.2M103.6 27.9l0.2 2.2M43.4 80.6l-1.9 1M82.1 72.7l-2.1 0.7M95.9 14.9l1.9 1M53.5 26.5l-2.1 0.6M45.2 67.8l-2 0.9M102.8 36.3l-2 1M15.8 39.2l1.1 1.9M18.1 4.2l1.5 1.6M43.1 81.6l2 0.9M103.1 70.9l0.9 2M26 73.9l-2 1M54.1 47l0.9 2M28.8 14.8l2.2 0M54.1 76.2l1.3 1.8M62 22.6l2.1 0.6M25.9 58.3l-0.8 2M93.1 81.9l-1.6 1.5M24.6 4.9l-2.1 0.5M52.9 19.8l2.1 0.6M25.2 35.9l0.8 2M88.9 42.2l2 0.8M21.8 6.1l-2.1 0.6M24.6 52.8l-1.9 1.1M26.1 6.5l-0.1 2.2M54.6 45.4l-2.2 0.3M104.1 72l-0.1 2.2M85.1 68.2l-1.7 1.4M45.7 19.4l0.1 2.2M103.7 79.3l0.9 2M84.1 10.5l-2.2 0M27.3 40.3l-1.9 1M59.8 22.3l-0.6 2.1M74.1 12.8l-2 0.9M30.8 59l-1 2M5.3 33l-1.8 1.3M59.2 85.3l2.2 0.5M17.1 79.9l2 0.9M61.7 55.6l2.1 0.7M74.6 85.4l-0.7 2.1M57 54.5l-1.4 1.7M55.6 68l1.9 1M51.9 6.9l0 2.2M5.8 61.2l2.1 0.8M100.8 69.6l-1.2 1.8M100 70.3l-1.7 1.4M31.1 41.8l2.1 0.6M23 50l-2.2 0.1M83.2 42.6l-1.1 1.9M-0.1 36.3l2 0.8M7.9 65l1 2M57.8 20.5l1.9 1M50.2 42l-1.4 1.7M34.7 45.1l-2.1 0.6M45.4 21.9l1.9 1.2M12.9 54.1l1.8 1.2M80.8 59.2l-0.9 2M13.8 29.4l-2 0.9M67.5 14.4l-1.5 1.6M69.5 43.2l0.3 2.2M17.6 53.9l2.1 0.7M31.9 26.7l-0.8 2.1M31 24.6l0.3 2.2M8.9 39.1l-1.8 1.3M3.7 10.3l-0.5 2.1M33.7 9.4l-1.5 1.6M56.1 76.7l-2.2 0.2M86 64.6l-0.8 2M96.2 53.2l-2.1 0.6M86.5 66.5l1.4 1.7M46 72.1l2.2 0M80.2 75.5l-2.1 0.8M101.2 68.4l2.2 0.2M12.8 12l-2.2 0M17.5 49.4l0.3 2.2M65.6 53.4l2.2 0.4M9.9 28.4l1.4 1.7M45 42.4l-1.4 1.7M39.6 78.7l0.8 2.1M22.6 29.4l-0.8 2M67.7 58.4l2.1 0.7M81.5 15.2l-1.9 1.1M34.2 56.6l0.9 2M46.2 2.7l-1.9 1.1M5 40.4l2 1M58.6 51.5l-1.1 1.9M60 46.3l0.2 2.2M51.5 83.7l0.7 2.1M21.3 57.2l2.2 0.1M66.6 40.7l-0.2 2.2M71 38.1l-1.9 1.1M73.6 76.6l2.1 0.7M52.2 50.4l0.4 2.2M67.4 31.9l2.2 0.1M46.3 80.3l-2.2 0M10.4 0l-2.2 0.2M90.1 79.1l-1.2 1.9M9.2 23.7l0.1 2.2M88.9 47l2.1 0.5M35.7 84.3l2 0.8M3.2 67.6l-1.3 1.8M85.2 43.7l-1.8 1.3M102.2 77.2l-2.2 0.1M104.3 61l-2 0.9M15.8 45.1l0.4 2.2M58.9 81.1l1.5 1.6M58.4 77.8l-0.3 2.2M70.4 18.5l1 1.9M37.2 5.8l-0.3 2.2M24.5 9.3l-2.1 0.8M83.2 3.7l0.3 2.2M74 54.3l-2.2 0.1M36.2 15.1l-1.4 1.7M34.9 38.8l2.2 0.3M82.1 15.3l-1.5 1.6M87.4 82.1l-1.1 1.9M21.3 32.1l-0.8 2M48.7 7.6l2.2 0M90.4 3.1l-2 0.8M51.8 6.4l0 2.2M10.4 84.3l-0.3 2.2M98.3 4.7l1.9 1.1M30.3 29.9l2.2 0.2M55.1 8l2.2 0.1M89.7 28.1l1.7 1.3M98.2 18.5l1.3 1.8M47.6 79.2l1.9 1M6.6 51.4l2.2 0.4M34.4 6.5l-1.4 1.7M44.6 70.5l-1.3 1.8M4.2 25.4l-2.1 0.8M96.1 70.4l1.7 1.4M42.9 5.6l-1.4 1.7M91.3 35.4l-0.6 2.1M42.5 35.1l2.1 0.6M64.4 38l-2 0.8M52.5 67.3l1 2M31.5 23l1.8 1.2M29.8 81l1.8 1.2M58.1 32l-2.1 0.5M47.4 2.9l1.7 1.4M61.3 69.1l0.8 2.1M9.7 53.7l-0.3 2.2M-0.1 65.8l0.9 2M16.9 19.7l-1 1.9M84.3 52l2.1 0.6M77.7 1.1l0.5 2.1M0.7 46l-0.6 2.1M17.3 35.7l-0.8 2M42.8 72.5l-0.7 2.1M68.6 7.4l1.5 1.6M41.3 22.5l-0.9 2M42.4 85.3l-2.2 0.2M74 68.3l0.1 2.2M15.2 25.3l-1 2M102.8 78.6l-1.9 1.1M88.1 44.5l1.5 1.6M104.4 80.4l1.5 1.6M89.6 72.7l-2.2 0.2M56.3 48.2l1.3 1.8M94.1 51.6l0.5 2.1M13.3 -0.8l0.9 2M62.7 79.1l-2.2 0M28.6 78l-0.3 2.2M81.7 9.2l-2.1 0.7M66.3 71.7l1.9 1.1M44.9 27.8l1.4 1.7M95.5 32.2l-1 2M72.9 67.5l1.2 1.9M102.6 34.9l-1.1 1.9M48.9 80.9l-0.1 2.2M61.3 61.4l2.1 0.5M6.8 38.4l2.1 0.8M25.9 13.6l0.4 2.2M61.6 32.3l-0.2 2.2M48 70.5l1.9 1.2M12.3 47.8l1.5 1.6M52 15.7l2.2 0M39.9 44.4l1.5 1.6M55 10.5l1.2 1.8M32.5 0.3l0.8 2.1M78.4 74.5l-0.6 2.1M57.1 61.8l-2 1M21.4 79.7l-1.4 1.7M51.8 61.1l-1.5 1.6M69 24.8l1.4 1.7M69.3 10l0 2.2M99.8 86.5l-1.4 1.7M102.2 82.9l-2.1 0.7M69 7.7l1.6 1.5M11.1 6.7l2.2 0.1M91.8 48l2.2 0.4M47.1 23.1l-0.1 2.2M97.3 50.6l-2 0.9M12.3 30.2l1.9 1M97.4 66.5l-1.7 1.4M102 52l-0.9 2M75.3 64.9l-2 0.9M15.2 22.1l-2.1 0.7M100 14.6l2.1 0.7M79.9 9.2l-1.8 1.3M2.6 61.3l2 0.9M42.3 57.3l2 0.8M34.9 58.9l0.7 2.1M93.7 81.3l0.1 2.2M77.9 4.6l2.1 0.5M40.8 44.1l1.4 1.7M78.8 3.2l1.9 1.2M61 60l2 0.9M89.7 16.9l2.1 0.7M32.3 38.1l2.2 0.2M5 86.2l1.7 1.4M80.3 32.2l1.1 1.9M75.7 34.4l0.5 2.1M100.9 12l-1.3 1.8M47.2 71.4l-0.8 2.1M75.9 12.3l0.1 2.2M104.3 80.1l1.2 1.9M89.1 10.7l-0.8 2.1M102 71.6l1.8 1.3M61.7 10.9l1.9 1.2M84.5 58.6l2.1 0.8M75.5 14l-1.1 1.9M31.3 14.6l2 0.9M7.6 55.5l1.7 1.4M36.3 86.2l1 2M90.5 47.2l-0.4 2.2M5.7 40l-1 2M51.7 5.1l-0.6 2.1M98.2 71.4l-0.7 2.1M47.9 67.8l1.8 1.3M64.8 52.6l-2.1 0.6M18.5 73l-1.5 1.6M38.3 4.1l0.6 2.1M68.1 27.2l0.7 2.1M52.3 41.5l-0.5 2.1M19.7 2.3l2 0.8M64.1 17.2l-1 2M96.7 55.4l-2.1 0.7M74.7 47.7l0.9 2M97.5 3.9l0 2.2M59.6 26.8l1.5 1.6M7.5 76.9l-2.1 0.6M60.6 64.5l0.8 2M78.5 6.7l0.9 2M54.7 30.4l-1.4 1.7M4 53.7l0.9 2M73.6 50.4l-2.1 0.6M31.4 27.3l0.6 2.1M55.8 35.5l-0.6 2.1M72.4 28.7l1.3 1.8M91.1 52.7l-0.6 2.1M73.9 30.2l0.2 2.2M42.1 78.4l2.1 0.7M102.2 68l-2.1 0.8M84.3 87.3l1.9 1.1M14.1 26.1l-0.5 2.1M40.5 29.4l-1.2 1.9M25.9 7.1l0.2 2.2M87.7 46l1.1 1.9M65.3 71.7l0.3 2.2M12.3 38.4l-2.2 0M48 33.5l2.2 0.1M34 84.7l-2.1 0.8M6.3 37.6l-0.7 2.1M87.2 63.6l0.1 2.2M2.5 7l-0.9 2M18.3 38.8l-0.9 2M46.2 74.1l-1.9 1.1M104.9 49.3l-2.2 0.2M22 64.6l-0.1 2.2M75.5 78.5l1 2M37.3 51.8l0.9 2M87.1 42l-2.1 0.6M54.2 59.5l0.1 2.2M22.4 63.3l2.1 0.5M62.3 71.7l-0.6 2.1M12.6 74.1l2.1 0.8M81.2 63.6l1 1.9M91.6 42.5l-1 2M47.9 22.4l-0.8 2.1M69 -1.1l-0.3 2.2M50.4 87.6l-1.9 1.1M35 14.2l-0.7 2.1M44.9 63.2l-2.2 0.2M90.3 10.1l-1.8 1.2M53.9 72.7l1.5 1.6M92.6 59.9l-1.7 1.4M30.4 6.2l0.9 2M42.9 17.6l-2.2 0.4M98 7.5l-0.8 2M9 86.4l0.6 2.1M81.5 42.2l1.9 1.1M51 79.4l-2 1M74.4 28.2l1 2M40.1 87.8l2.2 0.1M29.5 6.5l-1.8 1.3M0.4 74.7l2.2 0M15.6 50.9l2.2 0.3M42.7 48l2.2 0.2M94.1 25.8l-1 2M19.9 36.7l-0.4 2.2M49 30l0.1 2.2M66.8 45l-2.2 0.4M25.5 9.6l0.2 2.2M33.1 74.3l1.8 1.3M86.9 17.6l-2.2 0M30.1 43.8l2.1 0.7M51.5 8.9l2.2 0.3M21.8 42.5l1.7 1.4M88.2 74.9l-2.2 0.2M22.4 13.6l0.6 2.1M72 -1.2l1 2M97 75.5l0.9 2M91.7 2.7l0.9 2M101.5 20l-1.6 1.5" stroke="#e6e6e4" stroke-width="0.8" stroke-linecap="round" fill="none" stroke-opacity="0.45"/></g>
<g transform="translate(572,40)" clip-path="url(#cp)"><rect width="106.7" height="88.6" fill="url(#g6)"/><path d="M49.2 32.8l0.4 0.6M51.2 34.4l0.6 0.3M53.9 35.6l-0.3 0.6M35.3 82.9l0.7 0.2M33.7 80.9l-0.1 0.7M33.2 78.3l0.3 0.6M34.5 76.4l0.7 0.1M36 73.8l0 0.7M35.5 71.5l0.7 0.1M14.1 76.9l0.1 0.7M16.2 78.1l0.7 0.2M18.8 78.6l0.7 0.2M10.8 25.5l0.2 0.7M11.5 23l-0.6 0.4M12.3 20.9l0.6 0.3M14.9 20l0.5 0.5M17.5 18.7l-0.3 0.6M19.7 17.2l-0.7 0.1M75.7 0.1l-0.2 0.7M72.9 0.1l0.2 0.7M71.2 1.9l-0.7 0.1M69.1 4.1l0.7 0.1M67.7 5.5l-0.6 0.3M64.5 5.5l0.4 0.6M0.1 67.6l0.6 0.3M1.6 69.7l0.7 0.3M1.6 72.2l0.4 0.6M3.5 74.5l-0.6 0.4M53.1 50.6l0.6 0.4M50.9 50.1l-0.2 0.7M48.4 50.3l-0.3 0.6M45.6 49.9l0.3 0.6M61.9 14.9l-0.1 0.7M58.9 15.3l0.7 0.1M56.3 15.1l0.7 0.1M15.7 23.6l0.6 0.4M18.2 21.9l-0.4 0.6M20.4 21.1l0.2 0.7M25.1 53.9l0.4 0.6M27.1 55.7l-0.2 0.7M28.7 57.7l0.1 0.7M30 59.9l0.4 0.6M31.3 62.4l-0.6 0.4M11.9 77.8l-0.4 0.6M10.1 80.1l0.5 0.5M7.9 80.5l-0.2 0.7M5.2 80.8l-0.1 0.7M85.6 29l-0.6 0.3M83.8 30.8l-0.5 0.5M82.5 33.3l0.4 0.6M81.1 35.3l-0.7 0M30.1 45.7l0.7 0.3M32.1 47.4l0.2 0.7M33.2 50l-0.5 0.5M33.4 52.5l0.6 0.3M33.5 54.9l0 0.7M34.1 57.7l0.7 0.1M45.5 20.2l-0.4 0.6M48.1 19.7l-0.5 0.5M50.2 20.9l-0.2 0.7M52.6 22.6l-0.6 0.3M54.7 22.5l0.4 0.6M57.6 21.8l-0.4 0.6M93.5 2.3l-0.2 0.7M95.4 0.5l-0.2 0.7M96 -2l0.1 0.7M95.5 -4.3l-0.6 0.3M5.6 39.8l-0.7 0.1M6.2 37.2l0.1 0.7M8.8 36.2l-0.3 0.6M10.3 34.8l0.7 0.1M11.8 32.2l-0.4 0.6M14.8 7.4l-0.3 0.6M12.6 8.5l-0.7 0M10.1 9.4l-0.6 0.4M81.3 33.7l0.4 0.5M83.8 32.5l0.2 0.7M85.9 30.6l-0.4 0.6M87.4 29.3l0.7 0M37.2 81.4l0.1 0.7M37.8 84.1l0.6 0.4M38.2 86.7l0.7 0.3M40 88.5l0.7 0.1M24 0.9l-0.5 0.5M24.2 3.5l0.6 0.3M24.9 5.9l0.5 0.5M27.1 7.4l0.2 0.7M29.5 9.3l-0.6 0.3M30.5 11.4l0.7 0.2M7 57.3l0.1 0.7M6.1 55l-0.1 0.7M5.4 52.8l-0.7 0.3M4.5 50.3l-0.6 0.4M3.8 47.8l-0.6 0.3M4.3 45.3l0.4 0.5M3.6 42.7l0.2 0.7M57.7 26.3l0.3 0.6M56.3 24.7l-0.7 0.2M55.2 22.4l-0.7 0.1M53.1 20.1l0.6 0.3M67.6 4.5l0.6 0.4M65.2 3.8l0.5 0.5M62.6 3.4l0.5 0.5M60.2 3.4l0 0.7M58.4 1.7l-0.2 0.7M52.7 21.3l0.5 0.5M51.1 19.4l0.7 0M50.5 16.6l0.2 0.7M7.2 16.4l0.3 0.6M4.8 16.4l-0.1 0.7M3.2 18.4l-0.7 0.1M0.8 19.5l-0.4 0.6M50.7 62l0 0.7M52.3 64.1l-0.3 0.7M55 64.5l-0.4 0.6M62.6 86.4l0.7 0.1M65.3 84.7l-0.7 0.2M66.7 82.4l-0.5 0.4M67.2 80l-0.6 0.3M20.8 19.4l-0.6 0.4M23 19.3l0.2 0.7M25.5 19.9l0.2 0.7M10.7 2l0.7 0.2M9 0.3l-0.3 0.6M6.7 -1.3l0.7 0.1M4.3 -2.3l0.7 0.1M55 17.3l0.6 0.4M53.9 19.7l0.6 0.3M54.6 22.1l0.3 0.6M53.7 24.8l0.7 0.1M54.8 27.3l0.7 0M56.8 28.8l0.6 0.3M57.4 31.4l0.7 0.2M23.4 4.9l0.3 0.6M24.6 7.3l0.7 0.1M27.6 8.5l-0.6 0.3M29.9 8.9l-0.2 0.7M30.8 11.3l0.6 0.3M0.5 86.3l0.5 0.5M1.7 88.7l0.3 0.6M3 90.9l0.3 0.6M34 49.8l0.6 0.3M36.3 47.8l-0.6 0.3M36.5 45.3l-0.7 0M35.4 42.5l0.1 0.7M34.5 40l0 0.7M35.1 37.9l0.7 0.2M40.7 29.1l0.7 0.2M43.5 28.5l0.3 0.6M46 28.3l0.5 0.5M76.2 58.2l-0.6 0.4M77.8 59.7l0.6 0.3M80 61.1l0.7 0.1M81.6 78.2l-0.7 0.1M81.8 75.4l-0.1 0.7M83.1 73.5l0.6 0.3M83.3 70.7l-0.1 0.7M44.7 20.1l0.7 0.1M44.7 17.2l-0.1 0.7M44.5 15l-0.7 0M42.3 13.5l-0.6 0.3M41.3 10.8l-0.4 0.6M39 9.1l0.5 0.5M36.7 8.2l0.3 0.6M33.3 7.9l0.6 0.4M32.6 10.1l-0.5 0.5M30.2 11.5l-0.1 0.7M89.9 34.3l-0.5 0.4M87.2 32.8l0.4 0.6M84.7 32.1l0.5 0.5M83.9 29.8l-0.6 0.4M98 50.2l-0.7 0M99 47.7l-0.6 0.3M98.1 45.3l-0.6 0.4M97.9 42.7l-0.6 0.4M51.3 76.4l-0.5 0.5M48.9 74.7l0.5 0.5M46.6 74.1l0 0.7M72.4 20.2l0.3 0.6M70.2 22.1l0.7 0.1M69.7 24.7l0.7 0.1M70.3 27l0.4 0.5M71.3 29.4l0.5 0.5M57.6 83.9l-0.4 0.6M56.5 81.9l-0.7 0.1M53.9 80.1l0.1 0.7M52.3 78.8l-0.7 0.1M51.6 76.4l-0.7 0M49.9 74.4l-0.7 0.1M73 37.2l0.3 0.6M75.4 36.6l0.5 0.4M78 36.8l0.5 0.5M6.2 71.4l0.6 0.4M4.3 73.1l0.6 0.4M2.3 74l-0.3 0.6M0.8 76.2l-0.7 0.2M0.6 78.7l-0.6 0.3M1.5 80.8l0 0.7M95.2 22.7l-0.3 0.6M93.6 24.8l-0.6 0.4M92.4 27.4l0.7 0.2M92.2 29.7l-0.3 0.6M90.2 31.4l-0.7 0.2M87.9 32.6l-0.5 0.4M104.3 15.1l-0.5 0.5M106.3 16.2l0 0.7M108.6 16.4l0.6 0.4M111.4 17.7l-0.6 0.4M113.5 18.1l0.4 0.6M116.4 17.2l-0.6 0.4M118.4 15.6l-0.7 0.1M43.2 68.7l0.2 0.7M41 70.2l0.2 0.7M38.9 70.6l-0.7 0.1M76.1 56.2l-0.5 0.5M75.8 53.7l0.6 0.4M77 51.4l0.6 0.3M79.4 50.3l0.6 0.3M82.4 49.2l-0.7 0.2M84.9 49.4l-0.6 0.4M86.4 47.8l0.6 0.3M15.3 36.7l-0.6 0.4M13.7 34.8l-0.7 0M13.7 31.9l-0.3 0.6M13.7 29.3l0.3 0.6M13.2 26.8l-0.1 0.7M12.6 24.4l0.6 0.3M14.1 22.4l0.7 0M1.8 17.5l-0.7 0.1M4.1 18l-0.3 0.6M5.4 20.1l-0.1 0.7M8.1 21.4l-0.7 0.1M9.2 23.2l0.1 0.7M12 24.5l-0.6 0.3M13.7 26.4l-0.6 0.4M31.2 0.8l0.6 0.4M31.8 -1.8l0.5 0.5M31.7 -4.4l0.4 0.6M32.2 -6.9l0.5 0.5M32.3 -9.6l-0.2 0.7M33.4 -11.7l0.5 0.5M3 65.4l0.2 0.7M4.5 67.5l0.6 0.3M7.5 68.8l-0.7 0.2M46.7 31l0.3 0.6M45.5 28.7l0.1 0.7M44 26.6l-0.2 0.7M19.2 21.4l-0.7 0.2M18.8 23.7l0.2 0.7M19.9 26.5l-0.7 0.2M19.6 28.8l0 0.7M18.1 30.9l-0.1 0.7M17.1 33.3l-0.1 0.7M15.6 36l0.7 0M3.6 86l0.1 0.7M3.2 88.7l0.6 0.4M3.2 91.5l0.7 0M2.2 93.2l-0.6 0.4M0.1 95.4l0.6 0.4M-1.8 96.6l0.1 0.7M38.5 64.2l-0.5 0.5M36.2 62.6l-0.1 0.7M33.7 61.4l0.4 0.6M31.4 61.7l0 0.7M29.2 60.3l-0.1 0.7M27.1 59.4l-0.5 0.4M19.2 57.3l0.7 0.2M20.1 54.5l-0.1 0.7M18.3 52.4l0.5 0.5M16.7 50.4l0.5 0.5M15.2 48.8l-0.5 0.5M103.9 84.4l0 0.7M106.5 84.6l-0.1 0.7M109.2 83.7l-0.5 0.5M111.8 83.8l-0.7 0.2M63.2 0.2l0.1 0.7M61.2 1.6l-0.2 0.7M59.5 3.6l0 0.7M19.9 77.8l0 0.7M17.7 78.9l-0.4 0.6M14.8 78.9l0.1 0.7M12.8 77.4l-0.1 0.7M10.2 77l0 0.7M70.1 42l-0.7 0.1M71.7 39.9l-0.4 0.6M73.7 38.2l-0.6 0.3M76.3 37.8l-0.7 0.1M77.3 35.5l0.5 0.5M75.7 72.4l-0.1 0.7M78.6 72.2l-0.7 0.1M81.1 71.6l-0.6 0.3M83.1 71.4l0.6 0.3M85.7 71.4l0.6 0.3M68.9 61.4l0.1 0.7M66.2 60.8l0.7 0.2M63.9 61.7l0.5 0.5M74.6 7l0.7 0.2M77.6 7.3l-0.4 0.6M80.2 6.5l-0.5 0.4M81.4 4.3l-0.7 0.2M83 3l0.6 0.3M47.4 45.7l-0.4 0.5M46.9 43.1l-0.3 0.6M44.8 41.2l0.6 0.3M44.5 38.8l-0.7 0.3M42.9 36.8l-0.7 0.1M35 7l0.5 0.4M37.6 5.5l-0.7 0.1M39.8 5.3l0.2 0.7M42.3 4.4l0 0.7M45.3 5l-0.7 0M86.6 6l-0.6 0.4M84.3 8l0.6 0.3M83.3 10.1l0.1 0.7M82.1 12.4l0 0.7M79.4 13.1l0.3 0.6M77.5 15.1l0.6 0.4M12.5 5.8l0.4 0.6M15.5 5.3l-0.4 0.5M17.3 6.6l0.7 0M19.3 8.3l-0.1 0.7M21.1 10.1l0.1 0.7M88.7 23.6l0.7 0M91.3 24.1l0.4 0.6M93.4 26l-0.3 0.6M39.7 19.4l0 0.7M38.7 17.2l0.7 0.1M38.8 14.7l-0.7 0M37.8 12.1l-0.6 0.4M29.1 21.7l-0.7 0.1M26.7 19.7l0.7 0.2M24.3 18.7l0.5 0.5M22.2 17.3l0.7 0.1M21.6 14.8l-0.5 0.4M40.5 40.1l0.5 0.5M41.2 42.7l0.6 0.3M42.6 44.8l0.2 0.7M87.2 11.8l-0.7 0.2M86.4 14.2l-0.6 0.4M83.7 15.6l0.5 0.5M82.7 18.1l0.6 0.3M39.1 41l-0.7 0.2M36.6 42.1l-0.2 0.7M34.4 43.4l-0.4 0.6M31.4 44.2l0.7 0.2M48 60.6l0.7 0.1M48.9 63l-0.4 0.6M47.7 65.4l0.2 0.7M47.6 68.2l0.7 0.2M49.7 70.4l-0.7 0.1M13.2 20.6l-0.3 0.6M14.2 23.2l-0.6 0.4M15.5 25.1l0.7 0.2M97.1 11.2l-0.6 0.3M96.2 8.7l0.7 0.1M96.6 6.1l-0.6 0.3M95.6 3.3l0.1 0.7M94 1.2l0.3 0.6M16.1 41.9l-0.1 0.7M14.6 44.1l-0.7 0.2M13.8 46.5l0.5 0.5M13 49.1l0.6 0.3M13.7 51.5l-0.1 0.7M24.3 42.3l0.5 0.5M21.8 41.4l0.7 0.2M20.3 39.2l0.6 0.3M20.6 36.8l0.7 0.1M17.2 29.7l0.6 0.4M19.3 31.2l0.4 0.6M21.9 31.7l0.4 0.6M24.5 33.2l-0.5 0.5M77.2 1.6l0.4 0.6M79.7 0.3l0 0.7M82 0.6l0.6 0.4M91.3 26.6l0.3 0.6M92 29.3l0.7 0M94 30.9l0.5 0.5M94.4 33.7l0.7 0M96.5 35.5l-0.5 0.5M98.9 36.1l-0.1 0.7M101.1 35.8l0.6 0.4M88.6 16l0.1 0.7M86.8 14.8l-0.7 0.1M83.6 14.9l0.7 0.2M82.1 13.3l-0.6 0.4M80.8 10.7l0.1 0.7M27.4 4.8l0 0.7M25.3 5.7l-0.6 0.3M22.3 5.2l0.2 0.7M99.3 81.7l0 0.7M97.1 82.6l-0.4 0.6M95.9 85.2l-0.7 0M96.1 87.4l0.3 0.6M75.1 11.4l-0.6 0.4M77.5 12l-0.4 0.6M79.9 12.8l-0.3 0.6M82.2 12.8l0.2 0.7M84.6 13.8l0.3 0.6M86.9 14.9l0.7 0.1M89.4 15.5l0.6 0.3M106 39.1l0.7 0.2M104.7 40.7l-0.5 0.5M103.5 43.2l0.5 0.5M104.4 45.8l0.6 0.3M19.6 41.1l0.7 0.2M22.9 41.1l-0.6 0.3M25.1 42.4l-0.6 0.3M27.7 73.3l-0.4 0.6M29.3 75l0.4 0.5M31.8 75.5l0.5 0.5M34 77l0.4 0.6M36.4 78.2l0.1 0.7M41.9 88.1l0.6 0.3M43.1 85.5l0.1 0.7M42.1 83.1l0.5 0.5M40.5 82l-0.7 0.1M37.9 82.5l-0.7 0.1M63.1 5.6l-0.1 0.7M65.4 5.2l0.5 0.5M68.5 5.8l-0.7 0.1M70.5 6.4l0.4 0.6M72.9 5.2l0.3 0.6M74.6 3.8l0.7 0M100.2 22.3l0.3 0.7M102.7 21.5l0.1 0.7M104 19.2l0 0.7M106.2 18.6l0.6 0.4M108.9 19.5l0 0.7M45.4 28.7l0.7 0M43.8 26.6l0.5 0.5M41.1 26.3l0.7 0.2M36.6 1.4l0.2 0.7M33.9 2.4l0.7 0.1M32.6 4.7l0.7 0M31.9 6.9l0.4 0.6M31 48.7l0.5 0.5M34 48.4l-0.2 0.7M36 50l-0.1 0.7M38.8 49.7l-0.5 0.5M40.8 48.1l-0.3 0.6M41.7 45.7l-0.4 0.5M38.1 34.3l-0.7 0.3M35.7 32.5l0.2 0.7M34.1 30.3l0.4 0.6M35 28.1l-0.7 0M33.5 25.5l0.6 0.3M96.3 21.5l-0.5 0.5M94.8 19.2l-0.3 0.6M91.9 18.4l0.7 0.1M90 18.2l-0.6 0.3M87.4 18.4l-0.7 0.2M49.6 83.3l-0.3 0.6M47.3 84.4l-0.5 0.5M45.1 85.8l-0.6 0.4M42.6 87.6l0.6 0.3M41.5 89.6l-0.1 0.7M39.3 91l0 0.7M38.7 93.6l-0.6 0.3M47.9 75.2l-0.6 0.4M49.2 73l-0.6 0.4M48.8 70.3l-0.2 0.7M48.3 68l-0.7 0.2M46.4 65.9l-0.4 0.6M45.5 63.5l-0.4 0.6M45.8 61l0.5 0.5M5.9 26.1l0.7 0.1M4 27.8l0.6 0.3M1.6 27.8l0.3 0.6M24.4 57l0.7 0.2M26.7 55l-0.6 0.3M26.4 52.2l-0.1 0.7M27.9 50l-0.3 0.6M28.9 47.6l-0.3 0.6M30.8 45.8l-0.4 0.6M25.6 44.2l0 0.7M23.1 45.9l0.7 0M22.1 47.7l-0.6 0.4M19.6 48.5l-0.5 0.5M32.6 57.5l0 0.7M32.7 54.9l-0.1 0.7M31.3 52.8l-0.3 0.6M70 65.4l0.7 0.1M71.9 63l-0.5 0.5M73.3 61.1l0.5 0.5M74.9 59.3l0.7 0.2M77.5 58.8l0.5 0.5M80.3 60l-0.5 0.5M15.6 74.4l0.6 0.4M14.9 76.6l-0.5 0.5M13 78.6l-0.7 0.1M57 44l0 0.7M55.9 41.6l0.3 0.7M54.4 39.6l0 0.7M12.7 82.6l-0.4 0.6M10.2 82.2l-0.5 0.5M7.6 81.1l-0.3 0.7M5.1 81.3l-0.3 0.6M2 81.3l0.7 0.2M-0.3 80.1l0.6 0.3M-2.1 78.2l0.5 0.5M76.8 -0.1l-0.5 0.5M78.9 -0.5l0.4 0.6M81 -2.4l-0.1 0.7M82.5 -3.9l0.7 0M94.8 44l0.7 0.1M93 45.6l0.5 0.5M93.2 48.1l-0.4 0.6M89.8 27.7l-0.4 0.6M88.8 25.3l-0.4 0.6M86.1 24.1l0.4 0.6M85.5 21.5l0 0.7M12.5 33l0.1 0.7M13 35.6l0.1 0.7M12.2 38.3l0.7 0.3M70.5 55.1l-0.7 0.2M69.3 57.6l0.6 0.4M71 60.1l-0.7 0M63.1 0.6l-0.7 0.1M59.9 1.1l0.7 0M57.6 1.2l0.1 0.7M55.7 0l-0.6 0.4M54.7 -2.2l-0.7 0.1M9.6 88.2l0.1 0.7M7.2 89.6l0.5 0.5M5.4 91.5l0.6 0.4M3.8 93l-0.7 0.1M2 95.2l0.6 0.4M48.6 30.2l-0.2 0.7M49.7 32.5l0.6 0.3M52.5 32.9l-0.1 0.7M10.8 71l-0.7 0.1M8.7 68.7l0.6 0.3M8.9 66.1l-0.6 0.4M9.5 63.5l0 0.7M10.7 61.3l-0.7 0.2M9.9 58.6l-0.4 0.6M22.6 36.4l0.5 0.5M24.9 38.5l-0.7 0.2M26.8 39.6l0 0.7M28.4 41.6l0.7 0.1M31 42.1l0.7 0M32.9 43.8l0 0.7M33.7 46.3l0.1 0.7M74.6 59.6l0.4 0.6M72.3 61.2l0.6 0.3M69.9 61l0.3 0.6M67.4 60l0.4 0.6M65.6 59.1l-0.6 0.3M62.4 58.7l0.7 0M60.4 58.8l-0.5 0.5M75.6 11.6l-0.6 0.3M73.1 9.8l0.7 0.3M71.2 9.3l-0.7 0.2M68.6 8.5l-0.4 0.5M67.2 6.5l-0.7 0.2M64.1 5.7l0.4 0.6M96.2 13.6l0.3 0.6M98 11.7l0.2 0.7M100.8 10.9l-0.7 0M15.9 23.7l-0.2 0.7M13.1 23.1l0.3 0.6M10.6 22.8l0.2 0.7M89.5 37.5l0.5 0.5M88.1 39.9l0.7 0.1M88.5 42.4l0.7 0.2M88.8 44.9l-0.6 0.3M86.5 46.7l0.4 0.5M84.6 47.8l-0.7 0.1M82.5 49.7l0.5 0.5M48.1 2.7l0.5 0.5M50.9 2.6l0 0.7M52.6 4.4l0.6 0.4M53.6 6.7l0.3 0.6M69.9 77.3l-0.7 0.1M72.5 76.8l-0.7 0.2M74.9 77.4l-0.6 0.4M84.8 16.3l-0.3 0.6M87.6 16.5l-0.7 0.2M90.2 17.1l-0.7 0.1M92.3 15.9l-0.1 0.7M37.2 72.9l-0.4 0.5M34.8 71.3l0.7 0.1M34.2 68.7l-0.5 0.5M32.5 66.5l0.1 0.7M32.3 64l-0.5 0.5M32.6 61.4l-0.3 0.6M31.5 58.9l0.4 0.5M34.8 12.8l0.7 0.1M37.9 11.9l-0.7 0.2M38.9 9.9l0.6 0.3M40.7 7.5l0.1 0.7M40.5 5l0.3 0.6M40 2.4l0.4 0.6M38.7 0.5l-0.5 0.5M94.1 1.4l-0.7 0.1M91.1 0.2l0.5 0.5M89.1 -0.9l-0.3 0.6M86.3 -1.7l0.4 0.6M46.6 66.4l-0.1 0.7M46.3 63.8l0.2 0.7M47.8 62.1l0.6 0.4M48.2 59.5l0.6 0.3M47.5 56.9l0.6 0.4M48.1 54.4l-0.7 0.2M48.2 51.6l0 0.7M63.7 59.7l0.5 0.4M62.2 61.4l-0.7 0.2M61.6 64l-0.7 0M59.3 65.4l0.1 0.7M56.9 67.1l0.6 0.3M54.4 67.2l0.6 0.4M67.1 52.8l0.7 0.2M65 51.2l0.3 0.6M63.1 49.5l0.7 0.2M63.1 46.8l0.5 0.5M61.4 44.8l0.5 0.5M61.4 42.1l-0.2 0.7M47.3 3.3l-0.7 0.2M45 1.7l-0.5 0.5M42.4 0.5l0.2 0.7M40.5 -1.3l0.2 0.7M90.7 47.5l-0.1 0.7M90.7 44.9l0.3 0.6M90.1 42.4l0.3 0.6M88.1 40.9l0.7 0.1M86.7 38.6l0.5 0.5M65.5 29.8l-0.7 0.1M66.6 31.7l0.6 0.3M69.4 32l0 0.7M71.2 34l-0.3 0.6M88.4 35.2l-0.6 0.3M85.3 35.7l0.5 0.4M82.8 35l0.5 0.5M80.2 35l0.5 0.5M77.9 35.9l0.2 0.7M76.8 38.2l0.1 0.7M76 40.8l-0.7 0.1M29 40.8l-0.6 0.3M28.1 43.3l-0.6 0.3M28.2 45.9l0.7 0M27 48.2l0.7 0.1M55 17.1l-0.4 0.6M54.3 19.7l-0.7 0.2M52 21.2l0.1 0.7M49.9 22.7l-0.2 0.7M47 22.4l0.7 0M44.7 21.3l0.2 0.7M70.2 8.2l-0.7 0.2M69.3 10.5l-0.6 0.4M67.2 12.1l-0.6 0.3M64.9 13.4l-0.7 0.1M12 65.3l0.5 0.5M10.3 67.5l0.7 0.2M9.1 69.7l0.6 0.3M7.7 71.5l0 0.7M94.9 44.8l-0.4 0.6M93.5 47.1l-0.7 0.1M91.1 48.1l-0.4 0.5M67.5 34.6l-0.3 0.6M65.8 32.7l-0.5 0.5M63.8 30.6l0.1 0.7M62.9 28.2l-0.1 0.7M61.2 26.3l0.7 0.1M70.8 59.5l-0.5 0.4M72.4 58.1l0.5 0.5M74.9 56.4l-0.7 0.2M76.9 54.7l-0.3 0.6M77.5 52.3l0.4 0.6M79.2 50.6l0.6 0.3M41.4 63l0.5 0.5M40.3 65l-0.3 0.6M38.5 66.8l-0.4 0.6M37.8 69.6l0.7 0.2M38.9 72l0.7 0.2M41.2 73.5l-0.1 0.7M43.1 75.3l-0.2 0.7M3.5 2.4l0.2 0.7M0.9 3.3l0.5 0.5M-0.3 5.4l-0.2 0.7M-0.4 8.3l0.7 0M28.8 27.3l0.4 0.6M31.4 26.3l0.1 0.7M34.3 25.9l-0.7 0.1M36.7 25.7l-0.3 0.6M39.4 26.5l-0.7 0.2M40.4 28.4l0.1 0.7M42 30.4l0.5 0.5M95.9 70.5l0.5 0.5M95.7 73.2l-0.7 0.1M95.8 75.5l-0.4 0.6M96.4 77.9l0.4 0.6M95.9 80.8l0.7 0M97.7 82.6l0 0.7M101.3 49l-0.4 0.6M99.9 46.7l0.2 0.7M97.4 45.7l0.5 0.5M95.3 44.9l-0.4 0.6M92.9 45.3l-0.7 0.2M18.8 10.4l0.5 0.5M16.9 12.4l0.7 0.1M14.7 13.2l0.3 0.6M12.4 14.2l0.2 0.7M11.5 16.5l-0.4 0.6M11.5 19.2l0.6 0.4M38.1 63.9l-0.6 0.4M38.6 66.4l-0.5 0.5M36.9 68.4l0 0.7M35.7 71l0.6 0.4M11 8.7l-0.7 0.1M7.8 8.8l0.4 0.6M5.8 9.7l-0.6 0.4M3.3 11.3l0.5 0.5M1.1 12.7l0.5 0.4M-0.4 14.3l-0.5 0.5M-2.1 16.6l0.4 0.6M6.2 7.8l-0.7 0.1M8 5.9l0 0.7M10.2 5.5l0.6 0.4M12.8 5.2l0.5 0.5M15.6 4.8l0.2 0.7M18 3.4l-0.3 0.6M26.6 51.7l-0.7 0.1M28.5 51l0.6 0.3M30.9 52.1l0.2 0.7M32.2 54.4l0.5 0.4M50.7 61.4l-0.7 0.1M51.6 63.4l0.6 0.3M52.1 66l0.7 0.1M51.5 68.5l0.7 0.1M49.8 70l0.2 0.7M52.3 1.4l-0.7 0.2M54.9 1.3l-0.7 0.3M57.4 1l-0.5 0.5M59.7 2.6l-0.7 0M62.3 2.6l-0.7 0.1M64.2 3.4l0.4 0.6M65.6 5.6l0.6 0.4M8.7 87.8l-0.7 0.1M6.6 89.3l-0.5 0.5M3.4 89.4l0.7 0.1M1.5 88.1l-0.3 0.6M-0.7 86.3l0.3 0.6M-3.3 86.3l0.3 0.6M46.1 61.2l0.4 0.6M44.5 63.5l0.6 0.4M43.1 65.9l0.7 0M16.2 57.8l0.4 0.5M17.4 55.4l0.3 0.6M18.6 53.2l-0.7 0.1M18.6 29l0.6 0.3M20.8 27l-0.7 0.1M20.1 24.2l0.6 0.4M21.2 21.7l0.3 0.6M21 19.3l-0.6 0.4M19.9 17l-0.6 0.4M19.5 14.2l0.1 0.7M34.1 82.5l0.7 0.1M36.4 80.5l0.1 0.7M38.9 80.6l0.3 0.6M41.8 79.8l-0.7 0.2M82.6 70.1l0.6 0.4M82.5 72.6l0.3 0.6M81.7 75l-0.7 0.2M63 12.2l0.7 0.1M62.2 9.5l0.2 0.7M62 7.2l-0.6 0.4M59.7 5.7l-0.5 0.5M57.5 3.9l0.7 0.1M55.7 2.1l0.7 0.1M54 0l0.7 0.1M83.7 14.4l-0.7 0.2M85.7 13.7l0.5 0.5M88.3 12.3l-0.5 0.5M91 12.3l-0.7 0.2M70.4 51.8l0.3 0.6M68.8 49.8l0.5 0.5M69.7 47.4l-0.7 0.1M69.2 44.6l-0.3 0.7M59.1 6.6l0.5 0.5M61.3 8.5l-0.4 0.5M63.3 9.5l0.4 0.6M65.7 10.2l0.5 0.5M68.1 9.6l0.7 0M71 10.5l-0.5 0.5M73.7 11l-0.7 0.2M50.6 55.9l-0.3 0.6M52.5 58.1l-0.7 0.1M52.7 60.6l0.7 0.1M52.2 62.9l0.5 0.5M50.6 64.6l0.1 0.7M49.4 67l-0.7 0.1M49 69.6l-0.7 0.1M73.9 56.7l0.2 0.7M74.5 59.3l0.5 0.5M76.8 60.6l0.2 0.7M78.8 62.4l0 0.7M80 65.1l-0.7 0.2M28.9 33.1l0.6 0.4M31 35.2l-0.6 0.4M33 36.8l-0.5 0.5M34.4 39.1l-0.6 0.4M62.8 38.5l-0.5 0.5M64.9 39.8l-0.2 0.7M65.3 42.3l0.4 0.6M67.6 43.6l0.4 0.6M69.9 44.8l0.3 0.6M72.8 45.6l-0.5 0.4M59.6 27.7l0.7 0.2M58.4 29.9l0.6 0.4M56.6 31l-0.5 0.5M55.3 33.5l0.5 0.5M53.4 35.5l0.7 0.1M51.6 37.4l0.7 0.1" stroke="#a4bcc3" stroke-width="2.7" stroke-linecap="round" fill="none" stroke-opacity="0.7"/><path d="M50.1 33.8l0.3 0.3M52.5 35.4l-0.4 0M54.4 36.7l0.4 0.2M36.6 83.7l-0.2 0.3M34.3 82l0.4 0.1M34 79.4l0.3 0.3M35.8 77.3l-0.4 0M36.6 74.9l0.3 0.2M36.7 72.3l-0.2 0.4M14.9 77.9l0.1 0.4M17.3 78.9l0.1 0.4M19.9 79.4l0 0.4M11.5 26.5l0.3 0.2M12.2 24l-0.3 0.2M13.3 21.9l0.4 0.1M15.8 20.9l0.3 0.3M18 19.8l0.4 0M20 17.9l0.3 0.3M76.4 1.1l0.1 0.4M74 1.3l-0.4 0.1M71.6 2.6l0.1 0.4M70.1 4.9l0.4 0.1M68 6.3l0.3 0.3M65.8 6.6l-0.4 0M1 68.5l0.4 0.1M2.8 70.5l-0.1 0.4M2.5 73.1l0.2 0.4M4.1 75.3l-0.2 0.4M54.1 51.4l0.2 0.3M51.8 51.2l-0.2 0.3M49.1 51.3l0 0.4M46.6 50.9l-0.2 0.4M62.9 16.1l-0.4 0.1M60.1 16l-0.1 0.4M57.3 16l0.4 0.2M16.5 24.6l0.4 0.1M19 23l-0.4 0.1M21.3 22.1l0 0.4M25.9 54.9l0.3 0.2M28 56.9l-0.4 0.1M29.6 58.7l-0.1 0.4M31.1 60.9l-0.3 0.3M32 63.4l-0.4 0.1M12.4 78.8l0.2 0.3M11 81l0.2 0.4M8.8 81.7l-0.4 0.1M5.8 81.9l0.4 0.2M86.2 29.8l-0.3 0.3M84.2 31.9l0.4 0.1M83.6 34.2l-0.2 0.3M81.7 36l-0.2 0.3M31.4 46.7l-0.4 0.1M33.2 48.5l-0.4 0.2M33.7 50.9l0 0.4M34.3 53.4l0.3 0.2M34.2 56.1l0.4 0.2M35.3 58.4l0 0.4M46.2 21.1l0 0.4M48.5 20.7l0.4 0.1M51.1 22l-0.4 0.1M53.1 23.4l0 0.4M55.8 23.5l-0.2 0.3M58 22.8l0.3 0.3M94.1 3.3l0.3 0.3M95.9 1.7l0.4 0M96.7 -1l0.2 0.4M95.8 -3.4l0.3 0.3M6 40.6l0.1 0.4M7 38.2l0.2 0.4M9.6 37.2l-0.3 0.2M11.7 35.7l-0.4 0.1M12.2 33.2l0.3 0.2M15.4 8.3l0.1 0.4M12.8 9.3l0.3 0.2M10.7 10.3l-0.2 0.3M82.5 34.8l-0.4 0M84.5 33.5l0.3 0.2M86.6 31.6l-0.3 0.3M88.4 30l0.2 0.3M37.8 82.6l0.4 0M39.1 84.9l-0.3 0.3M39.2 87.5l0.2 0.4M41 89.3l0.3 0.2M24.5 1.8l0.1 0.4M25.2 4.3l0.3 0.3M25.9 6.8l0.1 0.4M28 8.4l0.1 0.4M29.9 10.1l0.1 0.4M31.7 12.1l-0.1 0.4M7.8 58.4l0.2 0.3M6.6 56.1l0.4 0.1M5.7 53.7l0.4 0.1M4.8 51.2l0.4 0.1M4.3 48.6l0 0.4M5.2 46.2l0.2 0.4M4.7 43.8l-0.3 0.2M58.7 27.3l0 0.4M56.9 25.5l-0.2 0.3M55.8 23.3l-0.4 0M54.1 21.1l0.4 0.1M68.5 5.5l0.4 0M66 4.8l0.4 0.2M63.6 4.3l0.1 0.4M61.1 4.4l-0.1 0.4M59.2 2.8l-0.3 0.3M53.6 22.2l0.2 0.4M52.4 20.3l-0.4 0M51.1 17.8l0.4 0M8.3 17.5l-0.3 0.2M5.4 17.4l0.3 0.2M3.8 19.2l-0.4 0.2M1.2 20.6l0.4 0M51.6 63.2l-0.4 0M53.2 65.1l-0.3 0.3M55.8 65.6l-0.4 0M63.8 87.2l-0.1 0.4M65.6 85.5l0.3 0.2M67.4 83.5l-0.4 0M67.7 80.8l0.1 0.4M21.1 20.4l0.4 0.1M24 20.3l-0.1 0.4M26.4 20.9l0 0.4M11.8 2.7l0 0.4M9.5 1.4l0.4 0.2M7.7 -0.5l0.4 0.1M5.5 -1.5l-0.1 0.4M56 18.1l0.1 0.4M54.8 20.6l0.4 0.2M55.5 23.1l0.1 0.4M55 25.6l-0.3 0.3M56.1 28l-0.3 0.3M57.8 29.7l0 0.4M58.5 32.2l0.1 0.4M24.3 5.9l0.2 0.4M25.6 8.1l0.3 0.3M27.9 9.3l0.3 0.2M30.5 9.9l0.1 0.4M31.7 12.3l0.4 0.1M1.7 87.3l-0.3 0.3M2.8 89.7l-0.2 0.3M4 91.9l-0.1 0.4M34.9 50.8l0.4 0M36.7 48.6l0.2 0.4M36.9 46l0.1 0.4M36 43.6l0.4 0.1M35.5 41.2l-0.4 0M36.4 38.7l-0.3 0.3M41.9 29.8l0 0.4M44.6 29.5l-0.2 0.3M46.9 29.3l0.3 0.2M76.6 59.1l0.3 0.3M78.9 60.5l0 0.4M81.3 61.8l-0.3 0.3M82.2 79l-0.2 0.4M82.4 76.6l0.4 0M84.2 74.3l-0.1 0.4M84.3 71.9l-0.4 0.1M45.9 20.8l-0.3 0.3M45.6 18.4l-0.4 0.1M45.1 15.9l-0.4 0M42.6 14.3l0.3 0.3M41.8 11.8l0.2 0.3M40.1 10l-0.1 0.4M37.8 9.3l-0.4 0M34.3 8.8l0.2 0.4M33.3 11.2l-0.4 0.1M31.1 12.6l-0.4 0.2M90.4 35.2l0 0.4M88.3 33.8l-0.2 0.4M85.9 33.1l-0.4 0.1M84.6 30.8l-0.3 0.3M98.3 51l0.2 0.3M99.7 48.7l-0.4 0.2M98.4 46.2l0.3 0.2M98.3 43.5l0.2 0.4M52.1 77.5l-0.4 0.1M50.2 75.7l-0.4 0.2M47.3 75.2l0.2 0.3M73.2 21.3l0.2 0.3M71.4 22.8l-0.1 0.4M71 25.5l-0.4 0.2M71.4 28l-0.2 0.3M72.5 30.5l-0.4 0.1M58.3 84.9l-0.3 0.3M57.1 82.7l-0.3 0.2M54.8 81.2l-0.1 0.4M52.6 79.5l0.2 0.4M52 77l0.1 0.4M50.3 75.1l0 0.4M74 38.1l0 0.4M76.7 37.6l-0.3 0.2M78.9 37.7l0.3 0.3M7.1 72.4l0.4 0.1M5.5 74.1l-0.3 0.3M2.8 75l0.3 0.3M1.2 76.9l0.1 0.4M0.9 79.7l0.4 0.1M2.5 81.9l-0.3 0.2M95.7 23.8l0.3 0.3M94 25.7l0.2 0.3M93.7 28.3l-0.3 0.2M92.8 30.7l0 0.4M90.5 32.2l0.3 0.3M88.6 33.6l-0.4 0.1M104.8 16l0.1 0.4M107 17.2l0.2 0.4M109.9 17.4l-0.4 0M112.1 18.6l-0.3 0.2M114.7 19.1l-0.3 0.3M116.8 18.1l0.3 0.3M119 16.4l-0.3 0.2M44.2 69.7l-0.1 0.4M42.1 71.3l-0.3 0.2M39.3 71.3l0.2 0.4M76.8 57.2l-0.3 0.3M77.1 54.6l-0.3 0.2M78.1 52.2l0.1 0.4M80.6 51.1l-0.2 0.4M83 50.1l-0.3 0.3M85.6 50.4l-0.4 0M87.7 48.8l-0.4 0.1M15.9 37.6l-0.3 0.2M14 35.6l0.4 0.2M14.4 32.9l-0.1 0.4M14.8 30.3l-0.2 0.3M13.8 27.9l0.4 0.1M13.7 25.2l0 0.4M15.4 23.2l-0.4 0.2M2.5 18.3l-0.4 0.1M5 19.1l-0.4 0.1M6 21.3l0.4 0.1M8.7 22.1l-0.1 0.4M10.3 24.3l-0.4 0.2M12.5 25.4l-0.2 0.4M14.1 27.3l0.2 0.3M32.1 1.9l0.4 0M33 -0.7l-0.4 0.1M32.9 -3.4l-0.4 0.2M33.4 -6l-0.2 0.4M33 -8.6l0.2 0.4M34.7 -10.7l-0.3 0.2M4.1 66.5l-0.3 0.2M5.8 68.4l-0.3 0.3M8 69.5l-0.1 0.4M47.5 32l0.2 0.3M46.2 29.7l0.2 0.3M44.7 27.6l0.2 0.4M19.5 22.1l0.2 0.3M19.7 24.7l0 0.4M20.2 27.4l0.4 0.1M20.5 29.9l-0.3 0.3M18.7 31.9l0.2 0.4M17.7 34.4l0.4 0.2M16.6 36.7l0.3 0.3M4.4 87l0.1 0.4M4.2 89.5l0.1 0.4M4.5 92.2l-0.3 0.3M2.5 94.2l0.4 0.1M1 96.3l0.3 0.3M-1.1 97.6l0.2 0.3M38.9 65.2l0.3 0.2M37.1 63.7l-0.3 0.3M34.5 62.5l0.4 0.1M32 62.9l0.4 0.1M30 61.3l-0.1 0.4M27.7 60.3l-0.3 0.3M20.5 58.2l-0.3 0.2M20.8 55.5l-0.1 0.4M19.2 53.4l0.2 0.3M17.9 51.5l-0.4 0.1M15.9 49.7l-0.3 0.3M104.7 85.4l0 0.4M107.3 85.6l-0.1 0.4M109.9 84.8l-0.4 0.1M112.5 84.8l-0.4 0M64.2 1.3l-0.4 0.1M61.7 2.7l0.4 0.2M60.2 4.7l0.2 0.3M20.6 78.8l0.1 0.4M18.1 79.9l0.3 0.2M15.8 79.9l-0.3 0.3M13.4 78.5l0.4 0.1M11.2 78.2l-0.4 0.1M70.6 42.7l-0.1 0.4M72.4 40.9l-0.1 0.4M74.1 39l0.1 0.4M76.9 38.7l-0.4 0.1M78.4 36.5l-0.1 0.4M76.7 73.5l-0.4 0.1M79.2 73.1l-0.4 0.1M81.7 72.4l-0.2 0.3M84.4 72.4l-0.4 0M86.8 72.2l0 0.4M69.7 62.5l0.2 0.4M67.5 61.7l-0.4 0.2M65 62.6l0 0.4M75.6 7.8l0.2 0.3M78.4 8.3l-0.2 0.3M80.7 7.4l0 0.4M81.7 5.2l0.4 0.2M84.3 3.9l-0.3 0.2M48 46.6l0 0.4M47.7 44.2l-0.4 0M45.9 42l0 0.4M45.1 39.7l-0.4 0.1M43.2 37.6l0.2 0.3M36 8l0.3 0.3M38.1 6.2l0 0.4M40.8 6.4l-0.3 0.3M43.3 5.5l-0.3 0.2M45.8 5.7l-0.2 0.4M86.9 6.9l0.4 0.2M85.3 8.8l0.1 0.4M84 11.3l0.4 0M82.8 13.4l0.2 0.4M80.6 14.2l-0.4 0.1M78.5 16l0.2 0.4M13.6 6.8l-0.2 0.3M16.1 6.3l-0.1 0.4M18.2 7.4l0.4 0.2M20.2 9.3l-0.2 0.3M21.7 11.3l0.4 0.1M89.7 24.3l0.3 0.2M92.3 25.1l-0.1 0.4M93.9 27.1l0.4 0.2M40.7 20.6l-0.4 0M39.8 17.9l0.1 0.4M39.3 15.4l-0.2 0.4M38.5 13.1l-0.4 0M29.4 22.5l0.4 0.1M28 20.6l-0.4 0M25.2 19.8l0.4 0M23.4 18l-0.1 0.4M22.3 15.7l-0.2 0.4M41.7 41.2l-0.4 0M42.2 43.5l0.2 0.4M43.7 45.9l-0.4 0.1M87.8 12.6l-0.2 0.4M86.9 15.1l0 0.4M84.5 16.6l0.3 0.2M83.7 19l0.3 0.3M39.5 41.8l0.2 0.4M37.2 43.1l0.2 0.4M34.9 44.3l0.2 0.4M32.7 45l-0.3 0.2M49.1 61.3l0.2 0.4M49.6 63.9l-0.2 0.4M48.4 66.5l0.4 0M48.5 69.1l0.4 0.2M50.2 71.2l-0.2 0.3M14 21.7l-0.4 0.1M14.6 24.1l0.2 0.3M16.4 26l0.4 0M97.4 12.1l0.3 0.3M97.3 9.5l0.2 0.4M97 6.9l0.2 0.4M96.4 4.3l-0.1 0.4M94.8 2.2l0.2 0.3M17 42.9l-0.2 0.4M15.2 44.9l-0.3 0.2M14.9 47.4l-0.3 0.3M14.3 49.9l-0.3 0.3M14.5 52.5l-0.1 0.4M25.2 43.3l0.3 0.3M23.1 42.3l-0.4 0.2M21.3 40.1l0.2 0.3M21.9 37.6l-0.4 0.2M18.3 30.6l0.1 0.4M20.4 32.2l-0.2 0.4M22.9 32.6l0 0.4M25.1 34.1l-0.2 0.4M78.1 2.5l0.2 0.4M80.6 1.3l-0.1 0.4M83.3 1.5l-0.3 0.3M92.2 27.6l0.2 0.4M93.2 30l-0.1 0.4M95 31.8l0.1 0.4M95.5 34.4l0 0.4M97 36.4l0.1 0.4M99.6 37.1l-0.1 0.4M102.3 36.7l-0.2 0.3M89.3 17.1l0.3 0.2M87.1 15.7l0.4 0.2M84.9 15.7l-0.3 0.2M82.4 14.3l0.4 0.1M81.9 11.8l-0.3 0.2M28.4 5.9l-0.3 0.3M25.6 6.6l0.3 0.3M23.3 6.2l-0.2 0.4M100 82.8l0.3 0.3M97.8 83.7l-0.4 0.1M96.2 85.9l0.3 0.2M96.9 88.5l0.4 0.1M75.4 12.4l0.4 0M78.2 13l-0.3 0.3M80.4 13.8l0.3 0.2M83 13.8l0.2 0.3M85.7 15l-0.4 0M88.2 15.6l-0.3 0.3M90.6 16.4l-0.3 0.3M107.2 39.9l-0.1 0.4M105.4 41.7l-0.2 0.4M104.4 44.3l0.4 0M105.6 46.7l-0.3 0.2M20.7 41.9l0.2 0.3M23.5 42l-0.4 0.2M25.5 43.2l0.1 0.4M28.5 74.4l-0.4 0.1M30.2 76.1l0.4 0M33.1 76.6l-0.4 0M34.8 78.1l0.4 0.1M37.3 79.2l0 0.4M43 88.9l0 0.4M44.2 86.7l-0.4 0M43.3 84l-0.3 0.3M41.1 82.8l-0.4 0M38.6 83.3l-0.4 0.1M63.8 6.6l0.1 0.4M66.2 6.2l0.4 0.2M68.8 6.6l0.4 0.2M71.6 7.4l-0.2 0.3M74 6.4l-0.4 0.1M75.9 4.5l-0.2 0.3M101 23.3l0.2 0.4M103.6 22.5l-0.1 0.4M104.9 20.2l-0.2 0.4M107.2 19.5l0.3 0.3M109.8 20.5l-0.2 0.3M46.4 29.5l0.3 0.2M44.6 27.7l0.4 0M42 27.2l0.4 0.1M37.5 2.3l0 0.4M35.2 3.2l-0.2 0.3M33.6 5.4l0.3 0.3M32.8 7.8l0.1 0.4M32.2 49.7l-0.2 0.3M34.5 49.5l0.3 0.3M36.8 51l0 0.4M39.4 50.6l-0.1 0.4M41.4 49.1l0.1 0.4M42.1 46.7l0.3 0.2M38.7 35.2l-0.2 0.3M36.7 33.5l-0.2 0.3M34.9 31.4l0.3 0.2M35.6 28.8l-0.3 0.2M34.7 26.3l-0.2 0.4M97 22.5l-0.4 0.2M95.6 20.2l-0.3 0.3M93.1 19.1l0 0.4M90.6 19l-0.3 0.3M87.8 19.1l0.2 0.3M50.4 84.3l-0.2 0.4M47.7 85.5l0.4 0.1M45.6 86.7l0.2 0.4M43.7 88.4l0 0.4M42.5 90.7l-0.4 0.1M40.2 92l-0.2 0.3M39.4 94.6l-0.4 0.1M48.6 76.2l-0.4 0.2M49.9 74l-0.4 0M49.6 71.3l-0.1 0.4M48.8 68.8l-0.1 0.4M47 66.8l0 0.4M46 64.5l0.3 0.3M47 62l-0.3 0.2M7.1 26.8l-0.1 0.4M5 28.7l0.3 0.2M2.4 28.8l0.3 0.3M25.4 57.8l0.3 0.3M27.3 55.8l-0.3 0.3M27.2 53.2l-0.1 0.4M28.4 51.1l0.3 0.2M29.7 48.6l-0.2 0.3M31.4 46.7l-0.1 0.4M26.3 45.2l0.3 0.3M24.2 46.5l0.1 0.4M22.8 48.8l-0.4 0M20 49.5l0.4 0.2M33.2 58.6l0.3 0.3M33.5 55.9l-0.1 0.4M32.1 53.9l-0.4 0.2M71.3 66.2l-0.4 0.1M72.4 63.9l0.1 0.4M74.5 62.1l-0.3 0.3M75.8 60.1l0.4 0.1M78.5 59.7l0.1 0.4M81.1 61l-0.4 0.2M16.7 75.3l-0.2 0.3M15.4 77.6l0.1 0.4M13.6 79.3l-0.1 0.4M57.8 45l0 0.4M56.8 42.6l-0.1 0.4M55.4 40.7l-0.4 0.1M13.5 83.8l-0.4 0M10.6 83.1l0.3 0.2M8.5 82.1l-0.3 0.3M5.9 82.4l-0.4 0.1M3.2 82.1l-0.1 0.4M0.8 80.9l0 0.4M-1.2 79.1l0.2 0.4M77.3 0.8l0 0.4M80 0.4l-0.1 0.4M81.8 -1.4l-0.1 0.4M83.5 -3.1l0.4 0.1M96.1 44.9l-0.4 0M93.9 46.5l0.3 0.3M93.9 49.1l-0.1 0.4M90.3 28.7l0.3 0.2M89.5 26.2l-0.2 0.4M86.9 25.2l0.4 0.1M86.2 22.6l0.2 0.3M13.2 34l0.1 0.4M13.7 36.6l0.2 0.3M13.3 39.1l0 0.4M70.8 56l0.4 0.2M70.3 58.4l0 0.4M71.6 60.9l-0.3 0.2M63.7 1.4l-0.2 0.4M61.2 2l-0.4 0M58.7 2.4l-0.4 0.1M56.2 0.9l0 0.4M55.1 -1.5l0 0.4M10.6 89.3l-0.3 0.3M8.4 90.6l-0.4 0.1M6.5 92.4l-0.1 0.4M4.3 93.8l-0.2 0.3M3.2 96.1l-0.2 0.3M49.3 31.2l0 0.4M50.8 33.3l0 0.4M53.3 33.9l0.1 0.4M11.2 71.7l0.1 0.4M9.8 69.5l0 0.4M9.6 67l-0.3 0.2M10.1 64.6l0.4 0.2M11 62.2l0.4 0.1M10.7 59.7l-0.4 0.1M23.7 37.3l0 0.4M25.5 39.3l-0.2 0.3M27.8 40.7l-0.4 0.1M29.7 42.4l-0.3 0.3M32.2 42.8l-0.1 0.4M33.9 45l-0.4 0.1M34.6 47.3l-0.2 0.4M75.5 60.5l0.1 0.4M73.3 62.1l0.3 0.2M70.7 62l0.4 0.2M68.6 61l-0.3 0.2M66.2 60l-0.4 0.1M63.4 59.4l0.2 0.4M60.9 59.7l0 0.4M76.2 12.4l-0.2 0.3M74.3 10.6l-0.1 0.4M71.5 10.1l0.3 0.3M69.3 9.5l-0.4 0.1M67.7 7.3l-0.1 0.4M65.3 6.7l-0.2 0.3M97.3 14.6l-0.2 0.3M98.9 12.7l0.1 0.4M101.4 11.6l-0.2 0.3M16.4 24.8l0.3 0.2M14.1 24.1l-0.1 0.4M11.5 23.8l-0.2 0.4M90.6 38.4l-0.2 0.4M89.1 40.7l0.2 0.3M89.5 43.3l0.3 0.2M89.1 45.9l0.4 0.1M87.3 47.8l0.4 0.2M84.8 48.6l0.3 0.2M83.5 50.6l0 0.4M49.1 3.6l-0.1 0.4M51.8 3.7l-0.2 0.3M53.7 5.3l0.1 0.4M54.7 7.8l-0.3 0.3M70.2 78.2l0.4 0M72.8 77.6l0.2 0.4M75.3 78.4l0.4 0.1M85.5 17.3l0 0.4M88.1 17.2l-0.1 0.4M90.7 17.8l-0.1 0.4M93 16.9l0.1 0.4M37.7 73.8l0.2 0.4M35.8 72l0.2 0.3M34.6 69.8l0.4 0.1M33.2 67.6l0.3 0.2M32.9 64.9l0 0.4M33.3 62.3l-0.1 0.4M32.3 60l0.4 0.1M36.1 13.7l-0.4 0.2M38.2 12.8l0.4 0M39.8 10.8l0.4 0.2M41.5 8.5l0.1 0.4M41.4 6l0.2 0.3M41 3.4l0 0.4M39.4 1.5l-0.2 0.3M94.6 2.1l-0.1 0.4M92.3 1.2l-0.3 0.3M89.7 0l0 0.4M87.4 -0.8l-0.2 0.3M47.3 67.4l0.1 0.4M47 64.9l0.4 0.2M48.8 63l0.4 0.1M49.1 60.4l0.3 0.2M48.6 57.8l0.1 0.4M48.4 55.2l0.3 0.3M49 52.6l-0.1 0.4M64.9 60.6l-0.2 0.3M62.9 62.3l-0.4 0.1M61.9 64.8l0.4 0.2M60.4 66.6l-0.4 0.1M57.8 68.1l0.4 0M55.6 68.1l-0.4 0.1M68.4 53.7l-0.4 0M65.9 52.2l0.2 0.4M64.4 50.3l-0.3 0.2M64.1 47.7l0 0.4M62.5 45.7l-0.1 0.4M62.3 43.2l-0.4 0.2M48 4.2l-0.4 0.1M45.5 2.7l0.2 0.3M43.1 1.5l0.3 0.3M41.6 -0.2l-0.4 0.1M91.5 48.5l-0.1 0.4M91.8 46.1l-0.4 0.1M91 43.4l0.3 0.3M89.4 41.7l-0.4 0.2M87.5 39.6l0.4 0.2M65.8 30.6l0.4 0.2M67.6 32.5l0.2 0.3M70.4 33.1l-0.4 0.1M71.8 35l0.1 0.4M88.8 36l0.1 0.4M86.2 36.6l0.2 0.3M83.6 36.1l0.4 0.1M81.2 35.9l0.1 0.4M78.8 36.8l0 0.4M77.6 39.2l0.2 0.3M76.6 41.6l-0.3 0.3M29.3 41.6l0.2 0.3M28.8 44.3l-0.4 0M29.6 46.7l-0.4 0.1M28.2 48.8l-0.1 0.4M55.4 18.2l0.4 0.1M54.8 20.5l-0.1 0.4M52.9 22.3l-0.1 0.4M50.7 23.7l-0.2 0.4M48.1 23.1l0.1 0.4M45.8 22.3l-0.3 0.3M70.9 9.1l-0.4 0M69.9 11.4l-0.2 0.3M67.5 13.1l0.4 0.1M65.4 14.1l-0.2 0.4M13.1 66.2l-0.2 0.4M11.5 68.3l-0.1 0.4M10.4 70.7l-0.4 0.1M8.2 72.6l0.4 0.1M95.3 45.9l0.4 0M94.1 47.9l-0.3 0.3M91.5 49.2l0.4 0.1M67.9 35.6l0.4 0.2M66.5 33.7l-0.3 0.2M64.6 31.6l0.2 0.4M63.8 29.4l-0.4 0.1M62.5 27l-0.3 0.2M71.4 60.4l-0.2 0.3M73.4 59l0.2 0.4M75.2 57.3l0.4 0.1M77.7 55.9l-0.4 0M78.7 53.4l-0.4 0.2M80.5 51.6l-0.4 0.1M42.5 63.9l0 0.4M40.8 66l0.3 0.3M39.1 67.8l-0.2 0.4M38.8 70.4l0.1 0.4M39.9 72.8l0.3 0.2M41.8 74.6l0.4 0.1M43.8 76.3l0.1 0.4M4.2 3.4l0.4 0.2M1.8 4.3l0.3 0.3M0.6 6.5l-0.4 0M0.9 9.1l-0.4 0.1M30 28.4l-0.4 0.1M32.3 27.3l0 0.4M34.9 26.6l-0.3 0.3M37.2 26.7l0.3 0.2M39.9 27.3l-0.1 0.4M41.4 29.6l-0.4 0M43.2 31.4l-0.3 0.2M97.2 71.6l-0.4 0M96.3 73.9l-0.2 0.4M96.2 76.5l0.2 0.3M97.2 79l0.4 0M96.9 81.5l0.3 0.3M98.7 83.7l-0.3 0.2M102 50l0 0.4M100.9 47.7l-0.2 0.4M98.6 46.7l-0.3 0.2M95.9 45.8l0.2 0.3M93.2 46.2l0.4 0.2M20 11.4l-0.4 0.1M18.1 13.1l-0.1 0.4M15.5 14.3l0.4 0M13.4 15.2l-0.2 0.3M12.3 17.5l-0.3 0.3M12.7 20.1l-0.3 0.3M38.4 64.8l0.4 0.2M39 67.3l0.3 0.3M37.8 69.5l-0.3 0.3M36.9 71.9l-0.2 0.3M11.3 9.4l0.2 0.4M9 9.9l-0.4 0M6.2 10.6l0.2 0.3M4.6 12.3l-0.4 0.1M2 13.7l0.4 0.2M0.1 15.2l0.1 0.4M-0.9 17.7l-0.4 0M6.8 8.5l-0.2 0.3M8.9 7l-0.3 0.3M11.5 6.5l-0.4 0.1M14 6.1l-0.2 0.4M16.5 5.8l-0.1 0.4M18.8 4.5l-0.3 0.2M27.1 52.4l0 0.4M29.8 51.9l-0.4 0.1M32 53.1l-0.3 0.3M33 55.4l0.4 0M51 62.2l0.2 0.3M52.9 64.3l-0.4 0.1M53.1 66.9l0.4 0.1M52.5 69.4l0.4 0M50.8 71l-0.1 0.4M52.9 2.2l-0.2 0.3M55.5 2.3l-0.4 0M58.1 2.1l-0.4 0M60.3 3.3l-0.2 0.4M62.9 3.3l-0.2 0.3M65.2 4.3l0 0.4M66.8 6.6l-0.4 0.2M9.2 88.5l-0.2 0.3M6.9 90.3l0.4 0.2M4.6 90.1l-0.2 0.4M2 89.2l0.4 0.1M0.1 87.3l0.2 0.3M-2.5 87.3l0.2 0.3M47.2 62.3l-0.4 0.1M45.4 64.4l0.3 0.3M44.2 66.6l0.2 0.4M17.3 58.7l-0.1 0.4M18.2 56.5l0.3 0.2M19 53.9l0.1 0.4M19.6 29.9l0.2 0.3M21.4 27.7l-0.3 0.3M21.4 25.2l-0.3 0.2M22.2 22.7l-0.1 0.4M21.7 20.3l-0.4 0.2M20.4 17.8l0 0.4M20.6 15.3l-0.3 0.3M35.1 83.4l0.4 0.1M37.1 81.5l0.1 0.4M39.7 81.6l0.2 0.3M42.4 80.7l-0.4 0.1M83.7 70.9l0 0.4M83.4 73.5l0.2 0.4M82.3 75.8l-0.2 0.3M64.4 13.1l-0.4 0.1M63.3 10.6l-0.3 0.2M62.6 8.1l-0.3 0.2M60.4 6.7l-0.2 0.3M58.8 4.7l-0.3 0.2M56.9 2.7l-0.1 0.4M55.1 0.8l0.1 0.4M84 15.1l0.2 0.3M86.6 14.6l0.3 0.3M88.8 13.2l0.2 0.3M91.5 13l0 0.4M71.5 52.9l-0.4 0.2M69.7 50.8l0.3 0.3M70.1 48.1l0.1 0.4M69.8 45.6l0.3 0.3M60.1 7.5l0 0.4M61.7 9.6l0.4 0.1M64.3 10.5l-0.2 0.4M66.9 11.3l-0.4 0.2M69.4 10.4l-0.4 0.1M71.5 11.4l0.2 0.4M74 11.8l0.3 0.2M51.4 57l-0.3 0.3M53.1 58.9l-0.3 0.3M53.7 61.4l0.3 0.2M53.1 64l0.4 0.1M51.5 65.6l-0.2 0.3M49.8 67.7l0.1 0.4M49.4 70.3l0 0.4M74.9 57.7l-0.1 0.4M75.7 60.3l-0.4 0.1M77.5 61.7l0.4 0.2M79.4 63.4l0.3 0.3M80.3 66l0.4 0M30.1 34l-0.2 0.3M31.3 36.2l0.4 0.1M33.7 37.8l-0.4 0.2M34.9 39.9l-0.1 0.4M63.4 39.3l0 0.4M65.4 40.8l0.3 0.3M66.5 43.4l-0.4 0.2M68.4 44.7l0.4 0.1M70.9 45.8l-0.1 0.4M73.5 46.6l-0.3 0.2M60.8 28.5l-0.2 0.4M59.3 30.9l0.4 0.1M57 32.1l0.4 0.1M56.3 34.5l0.2 0.3M54.7 36.3l-0.3 0.3M52.6 38.2l0.4 0.2" stroke="#435d68" stroke-width="0.9" stroke-linecap="round" fill="none" stroke-opacity="0.55"/></g>
<text x="0.2" y="16.8" font-size="18.2" font-weight="bold">A</text>
<text x="81.35" y="33.2" font-size="12.4" font-weight="bold" text-anchor="middle">Non-senescent</text>
<text x="190.75" y="33.2" font-size="12.4" font-weight="bold" text-anchor="middle">Senescent</text>
<text x="299.15" y="33.2" font-size="12.4" font-weight="bold" text-anchor="middle">Non-senescent</text>
<text x="407.75" y="33.2" font-size="12.4" font-weight="bold" text-anchor="middle">Senescent</text>
<text x="516.75" y="33.2" font-size="12.4" font-weight="bold" text-anchor="middle">Non-senescent</text>
<text x="625.75" y="33.2" font-size="12.4" font-weight="bold" text-anchor="middle">Senescent</text>
<line x1="80.95" y1="15.1" x2="190.35" y2="15.1" stroke="#000" stroke-width="1.8"/>
<text x="135.65" y="8.9" font-size="12.2" font-weight="bold" text-anchor="middle">A549</text>
<line x1="298.75" y1="15.1" x2="407.35" y2="15.1" stroke="#000" stroke-width="1.8"/>
<text x="353.05" y="8.9" font-size="12.2" font-weight="bold" text-anchor="middle">HepG2</text>
<line x1="516.35" y1="15.1" x2="625.35" y2="15.1" stroke="#000" stroke-width="1.8"/>
<text x="570.85" y="8.9" font-size="12.2" font-weight="bold" text-anchor="middle">NIH-3T3</text>
<text transform="translate(19.0,83.5) rotate(-90)" font-size="12.4" font-weight="bold" text-anchor="middle">&#946;-gal assay</text>
<rect x="662.6" y="124.8" width="12.4" height="2.4" fill="#000"/>
<text x="668.8" y="120.2" font-size="4.2" text-anchor="middle">300 &#956;m</text>
<text x="0.5" y="161.3" font-size="18.2" font-weight="bold">B</text>
<line x1="43.2" y1="163.44" x2="43.2" y2="253.69" stroke="#000" stroke-width="1.4"/>
<line x1="42.5" y1="253.69" x2="46.8" y2="253.69" stroke="#000" stroke-width="1.2"/>
<line x1="39.2" y1="245.84" x2="43.2" y2="245.84" stroke="#000" stroke-width="1.2"/>
<text x="38.2" y="248.64" font-size="7.7" font-weight="bold" text-anchor="end">20</text>
<line x1="39.2" y1="229.48" x2="43.2" y2="229.48" stroke="#000" stroke-width="1.2"/>
<text x="38.2" y="232.28" font-size="7.7" font-weight="bold" text-anchor="end">40</text>
<line x1="39.2" y1="213.12" x2="43.2" y2="213.12" stroke="#000" stroke-width="1.2"/>
<text x="38.2" y="215.92" font-size="7.7" font-weight="bold" text-anchor="end">60</text>
<line x1="39.2" y1="196.76" x2="43.2" y2="196.76" stroke="#000" stroke-width="1.2"/>
<text x="38.2" y="199.56" font-size="7.7" font-weight="bold" text-anchor="end">80</text>
<line x1="39.2" y1="180.4" x2="43.2" y2="180.4" stroke="#000" stroke-width="1.2"/>
<text x="38.2" y="183.2" font-size="7.7" font-weight="bold" text-anchor="end">100</text>
<line x1="39.2" y1="164.04" x2="43.2" y2="164.04" stroke="#000" stroke-width="1.2"/>
<text x="38.2" y="166.84" font-size="7.7" font-weight="bold" text-anchor="end">120</text>
<line x1="43.2" y1="261.8" x2="43.2" y2="272.2" stroke="#000" stroke-width="1.4"/>
<line x1="42.5" y1="261.8" x2="46.8" y2="261.8" stroke="#000" stroke-width="1.2"/>
<line x1="39.2" y1="272.2" x2="43.2" y2="272.2" stroke="#000" stroke-width="1.2"/>
<text x="38.2" y="275" font-size="7.7" font-weight="bold" text-anchor="end">0</text>
<line x1="42.5" y1="272.2" x2="167.6" y2="272.2" stroke="#000" stroke-width="1.4"/>
<line x1="56.2" y1="272.2" x2="56.2" y2="276.5" stroke="#000" stroke-width="1.2"/>
<line x1="76" y1="272.2" x2="76" y2="276.5" stroke="#000" stroke-width="1.2"/>
<line x1="56.2" y1="278.6" x2="76.6" y2="278.6" stroke="#000" stroke-width="1.4"/>
<text x="66.4" y="289.8" font-size="8.7" font-weight="bold" text-anchor="middle">A549</text>
<path d="M69.9 253.69V194.72H82.1V253.69" fill="none" stroke="#ff3030" stroke-width="1.5"/>
<line x1="69.9" y1="261.8" x2="69.9" y2="272.2" stroke="#ff3030" stroke-width="1.5"/>
<line x1="82.1" y1="261.8" x2="82.1" y2="272.2" stroke="#ff3030" stroke-width="1.5"/>
<rect x="70.4" y="193.93" width="3.2" height="3.2" fill="#fff" stroke="#ff3030" stroke-width="1.1"/>
<rect x="74.4" y="191.07" width="3.2" height="3.2" fill="#fff" stroke="#ff3030" stroke-width="1.1"/>
<rect x="78.4" y="193.93" width="3.2" height="3.2" fill="#fff" stroke="#ff3030" stroke-width="1.1"/>
<line x1="76" y1="192.67" x2="76" y2="196.35" stroke="#000" stroke-width="0.9"/>
<circle cx="51.4" cy="272" r="2" fill="none" stroke="#000" stroke-width="1.1"/>
<circle cx="56.2" cy="272" r="2" fill="none" stroke="#000" stroke-width="1.1"/>
<circle cx="61" cy="272" r="2" fill="none" stroke="#000" stroke-width="1.1"/>
<line x1="56.2" y1="272.2" x2="56.2" y2="275.7" stroke="#000" stroke-width="1"/>
<line x1="95.3" y1="272.2" x2="95.3" y2="276.5" stroke="#000" stroke-width="1.2"/>
<line x1="115.1" y1="272.2" x2="115.1" y2="276.5" stroke="#000" stroke-width="1.2"/>
<line x1="95.3" y1="278.6" x2="115.7" y2="278.6" stroke="#000" stroke-width="1.4"/>
<text x="105.5" y="289.8" font-size="8.7" font-weight="bold" text-anchor="middle">HepG2</text>
<path d="M109 253.69V189.81H121.2V253.69" fill="none" stroke="#ff3030" stroke-width="1.5"/>
<line x1="109" y1="261.8" x2="109" y2="272.2" stroke="#ff3030" stroke-width="1.5"/>
<line x1="121.2" y1="261.8" x2="121.2" y2="272.2" stroke="#ff3030" stroke-width="1.5"/>
<rect x="109.5" y="189.03" width="3.2" height="3.2" fill="#fff" stroke="#ff3030" stroke-width="1.1"/>
<rect x="113.5" y="186.16" width="3.2" height="3.2" fill="#fff" stroke="#ff3030" stroke-width="1.1"/>
<rect x="117.5" y="189.03" width="3.2" height="3.2" fill="#fff" stroke="#ff3030" stroke-width="1.1"/>
<line x1="115.1" y1="187.76" x2="115.1" y2="191.44" stroke="#000" stroke-width="0.9"/>
<circle cx="90.5" cy="272" r="2" fill="none" stroke="#000" stroke-width="1.1"/>
<circle cx="95.3" cy="272" r="2" fill="none" stroke="#000" stroke-width="1.1"/>
<circle cx="100.1" cy="272" r="2" fill="none" stroke="#000" stroke-width="1.1"/>
<line x1="95.3" y1="272.2" x2="95.3" y2="275.7" stroke="#000" stroke-width="1"/>
<line x1="134.3" y1="272.2" x2="134.3" y2="276.5" stroke="#000" stroke-width="1.2"/>
<line x1="154.1" y1="272.2" x2="154.1" y2="276.5" stroke="#000" stroke-width="1.2"/>
<line x1="134.3" y1="278.6" x2="154.7" y2="278.6" stroke="#000" stroke-width="1.4"/>
<text x="144.5" y="289.8" font-size="8.7" font-weight="bold" text-anchor="middle">NIH-3T3</text>
<path d="M148 253.69V187.76H160.2V253.69" fill="none" stroke="#ff3030" stroke-width="1.5"/>
<line x1="148" y1="261.8" x2="148" y2="272.2" stroke="#ff3030" stroke-width="1.5"/>
<line x1="160.2" y1="261.8" x2="160.2" y2="272.2" stroke="#ff3030" stroke-width="1.5"/>
<rect x="148.5" y="186.98" width="3.2" height="3.2" fill="#fff" stroke="#ff3030" stroke-width="1.1"/>
<rect x="152.5" y="184.12" width="3.2" height="3.2" fill="#fff" stroke="#ff3030" stroke-width="1.1"/>
<rect x="156.5" y="186.98" width="3.2" height="3.2" fill="#fff" stroke="#ff3030" stroke-width="1.1"/>
<line x1="154.1" y1="185.72" x2="154.1" y2="189.4" stroke="#000" stroke-width="0.9"/>
<circle cx="129.5" cy="272" r="2" fill="none" stroke="#000" stroke-width="1.1"/>
<circle cx="134.3" cy="272" r="2" fill="none" stroke="#000" stroke-width="1.1"/>
<circle cx="139.1" cy="272" r="2" fill="none" stroke="#000" stroke-width="1.1"/>
<line x1="134.3" y1="272.2" x2="134.3" y2="275.7" stroke="#000" stroke-width="1"/>
<text x="50.4" y="184.6" font-size="7.6" fill="#1a1a1a"><tspan font-style="italic">P</tspan>=0.0006</text>
<line x1="57" y1="187.4" x2="75.9" y2="187.4" stroke="#111" stroke-width="1.3"/>
<text x="89.5" y="182.4" font-size="7.6" fill="#1a1a1a"><tspan font-style="italic">P</tspan>&lt;0.0001</text>
<line x1="95.3" y1="185" x2="115" y2="185" stroke="#111" stroke-width="1.3"/>
<text x="129.6" y="180.6" font-size="7.6" fill="#1a1a1a"><tspan font-style="italic">P</tspan>&lt;0.0001</text>
<line x1="134.3" y1="183" x2="153.7" y2="183" stroke="#111" stroke-width="1.3"/>
<path d="M128.6 272.2V268.6H140V272.2" fill="none" stroke="#000" stroke-width="1.1"/>
<circle cx="138.6" cy="266.6" r="1.9" fill="none" stroke="#000" stroke-width="1"/>
<circle cx="131.8" cy="268.6" r="1.9" fill="none" stroke="#000" stroke-width="1"/>
<circle cx="54.8" cy="158.1" r="2.9" fill="none" stroke="#000" stroke-width="1.3"/>
<rect x="51.7" y="163.6" width="6" height="6" fill="none" stroke="#ff3030" stroke-width="1.3"/>
<text x="62" y="160.6" font-size="7.7" font-weight="bold">Non-senescent</text>
<text x="62" y="169.3" font-size="7.7" font-weight="bold">Senescent</text>
<text transform="translate(19,217.8) rotate(-90)" font-size="8.9" font-weight="bold" text-anchor="middle">Senescent cell (%)</text>
<text x="188.4" y="161.8" font-size="18.2" font-weight="bold">C</text>
<text x="196" y="192.4" font-size="12" font-weight="bold">MMC</text>
<text x="252.7" y="192" font-size="12.5" font-weight="bold" text-anchor="middle">-</text>
<text x="286" y="192" font-size="12.5" font-weight="bold" text-anchor="middle">+</text>
<text x="320.2" y="192" font-size="12.5" font-weight="bold" text-anchor="middle">-</text>
<text x="352.2" y="192" font-size="12.5" font-weight="bold" text-anchor="middle">+</text>
<text x="384.3" y="192" font-size="12.5" font-weight="bold" text-anchor="middle">-</text>
<text x="418.8" y="192" font-size="12.5" font-weight="bold" text-anchor="middle">+</text>
<text x="200" y="214" font-size="12" font-weight="bold">P53</text>
<text x="200" y="234.4" font-size="12" font-weight="bold">P21</text>
<text x="188.4" y="255" font-size="12" font-weight="bold">GAPDH</text>
<text x="441.6" y="213.6" font-size="12.2" font-weight="bold">53 kDa</text>
<text x="441.6" y="234.4" font-size="12.2" font-weight="bold">21 kDa</text>
<text x="441.6" y="255.2" font-size="12.2" font-weight="bold">36 kDa</text>
<text x="269.8" y="277.4" font-size="12" font-weight="bold" text-anchor="middle">A549</text>
<text x="339.3" y="276.4" font-size="12" font-weight="bold" text-anchor="middle">HepG2</text>
<text x="406" y="276.4" font-size="12" font-weight="bold" text-anchor="middle">NIH-3T3</text>
<defs><filter id="bl" x="-30%" y="-80%" width="160%" height="260%"><feGaussianBlur stdDeviation="0.9"/></filter><filter id="bl2" x="-30%" y="-60%" width="160%" height="220%"><feGaussianBlur stdDeviation="1.8"/></filter></defs>
<rect x="236.6" y="198.1" width="67.1" height="21.3" fill="#a3a3a3"/>
<rect x="236.6" y="219.4" width="67.1" height="21" fill="#e2e2e2"/>
<rect x="236.6" y="240.4" width="67.1" height="21.6" fill="#e4e4e4"/>
<rect x="303.7" y="198.1" width="67.9" height="21.3" fill="#dadada"/>
<rect x="303.7" y="219.4" width="67.9" height="21" fill="#e4e4e4"/>
<rect x="303.7" y="240.4" width="67.9" height="21.6" fill="#ececec"/>
<rect x="371.6" y="198.1" width="66.6" height="21.3" fill="#d6d6d6"/>
<rect x="371.6" y="219.4" width="66.6" height="21" fill="#e4e4e4"/>
<rect x="371.6" y="240.4" width="66.6" height="21.6" fill="#eeeeee"/>
<rect x="245" y="202.5" width="18" height="12" rx="3" fill="#979797" filter="url(#bl2)"/>
<rect x="274.5" y="204.5" width="22.9" height="10" rx="3" fill="#0c0c0c" filter="url(#bl)"/>
<rect x="246" y="227.55" width="20" height="5.5" rx="2.75" fill="#7c7c7c" filter="url(#bl)"/>
<rect x="275.6" y="227.7" width="22.8" height="7" rx="3" fill="#080808" filter="url(#bl)"/>
<rect x="245.4" y="246.6" width="21.8" height="8" rx="3" fill="#050505" filter="url(#bl)"/>
<rect x="275" y="247.05" width="21.4" height="7.5" rx="3" fill="#080808" filter="url(#bl)"/>
<rect x="305" y="200" width="7" height="16" rx="3" fill="#c4c4c4" filter="url(#bl2)"/>
<rect x="313" y="203" width="20" height="12" rx="3" fill="#d0d0d0" filter="url(#bl2)"/>
<rect x="343.1" y="200" width="21.3" height="14" rx="3" fill="#6a6a6a" filter="url(#bl2)"/>
<rect x="343.5" y="207.7" width="20.5" height="5" rx="2.5" fill="#1a1a1a" filter="url(#bl)"/>
<rect x="311.4" y="225.4" width="21.8" height="5" rx="2.5" fill="#acacac" filter="url(#bl)"/>
<rect x="341.5" y="226.55" width="22.9" height="7.5" rx="3" fill="#070707" filter="url(#bl)"/>
<rect x="311.9" y="247.85" width="24.9" height="7.5" rx="3" fill="#050505" filter="url(#bl)"/>
<rect x="342" y="247.7" width="23" height="7" rx="3" fill="#050505" filter="url(#bl)"/>
<rect x="377.3" y="202.5" width="21.3" height="13" rx="3" fill="#b2b2b2" filter="url(#bl2)"/>
<rect x="405.9" y="200.5" width="21.3" height="14" rx="3" fill="#505050" filter="url(#bl2)"/>
<rect x="406.5" y="207.6" width="20" height="6" rx="3" fill="#101010" filter="url(#bl)"/>
<rect x="377.8" y="225.2" width="22.4" height="6" rx="3" fill="#666666" filter="url(#bl)"/>
<rect x="405.4" y="224.7" width="24.4" height="7" rx="3" fill="#0a0a0a" filter="url(#bl)"/>
<rect x="376.8" y="248.45" width="23.4" height="7.5" rx="3" fill="#050505" filter="url(#bl)"/>
<rect x="404.9" y="247.1" width="23.4" height="7" rx="3" fill="#050505" filter="url(#bl)"/>
<line x1="236.6" y1="198.7" x2="438.2" y2="198.7" stroke="#000" stroke-width="1.4"/>
<line x1="236.6" y1="261.3" x2="438.2" y2="261.3" stroke="#000" stroke-width="1.5"/>
<line x1="236.6" y1="219.2" x2="438.2" y2="219.2" stroke="#000" stroke-width="2.6"/>
<line x1="236.6" y1="240.5" x2="438.2" y2="240.5" stroke="#000" stroke-width="2.5"/>
<line x1="237.3" y1="198" x2="237.3" y2="262" stroke="#000" stroke-width="1.5"/>
<line x1="303.7" y1="198" x2="303.7" y2="262" stroke="#000" stroke-width="2.6"/>
<line x1="371.4" y1="198" x2="371.4" y2="262" stroke="#000" stroke-width="2.4"/>
<line x1="437.5" y1="198" x2="437.5" y2="262" stroke="#000" stroke-width="1.5"/>
<text x="485.2" y="161.4" font-size="18.2" font-weight="bold">D</text>
<text x="596.7" y="155" font-size="10.1" font-weight="bold" text-anchor="middle">Non-senescent A549</text>
<line x1="524.2" y1="168.15" x2="524.2" y2="273.2" stroke="#000" stroke-width="1.3"/>
<line x1="520.2" y1="272.6" x2="524.2" y2="272.6" stroke="#000" stroke-width="1.2"/>
<text x="519" y="275.4" font-size="7.7" font-weight="bold" text-anchor="end">0</text>
<line x1="520.2" y1="257.75" x2="524.2" y2="257.75" stroke="#000" stroke-width="1.2"/>
<text x="519" y="260.55" font-size="7.7" font-weight="bold" text-anchor="end">20</text>
<line x1="520.2" y1="242.9" x2="524.2" y2="242.9" stroke="#000" stroke-width="1.2"/>
<text x="519" y="245.7" font-size="7.7" font-weight="bold" text-anchor="end">40</text>
<line x1="520.2" y1="228.05" x2="524.2" y2="228.05" stroke="#000" stroke-width="1.2"/>
<text x="519" y="230.85" font-size="7.7" font-weight="bold" text-anchor="end">60</text>
<line x1="520.2" y1="213.2" x2="524.2" y2="213.2" stroke="#000" stroke-width="1.2"/>
<text x="519" y="216" font-size="7.7" font-weight="bold" text-anchor="end">80</text>
<line x1="520.2" y1="198.35" x2="524.2" y2="198.35" stroke="#000" stroke-width="1.2"/>
<text x="519" y="201.15" font-size="7.7" font-weight="bold" text-anchor="end">100</text>
<line x1="520.2" y1="183.5" x2="524.2" y2="183.5" stroke="#000" stroke-width="1.2"/>
<text x="519" y="186.3" font-size="7.7" font-weight="bold" text-anchor="end">120</text>
<line x1="520.2" y1="168.65" x2="524.2" y2="168.65" stroke="#000" stroke-width="1.2"/>
<text x="519" y="171.45" font-size="7.7" font-weight="bold" text-anchor="end">140</text>
<line x1="523.6" y1="272.6" x2="682" y2="272.6" stroke="#000" stroke-width="1.4"/>
<line x1="535.8" y1="272.6" x2="535.8" y2="276.2" stroke="#000" stroke-width="1.2"/>
<path d="M528 272.6V198.35H533.5V272.6" fill="none" stroke="#3232cc" stroke-width="1.5"/>
<line x1="530.75" y1="198.72" x2="530.75" y2="197.98" stroke="#000" stroke-width="0.9"/>
<line x1="529.15" y1="197.98" x2="532.35" y2="197.98" stroke="#000" stroke-width="0.9"/>
<circle cx="529.15" cy="198.35" r="1.7" fill="none" stroke="#3232cc" stroke-width="0.9"/>
<circle cx="530.75" cy="198.35" r="1.7" fill="none" stroke="#3232cc" stroke-width="0.9"/>
<circle cx="532.35" cy="198.35" r="1.7" fill="none" stroke="#3232cc" stroke-width="0.9"/>
<path d="M538.1 272.6V198.35H543.6V272.6" fill="none" stroke="#ff3030" stroke-width="1.5"/>
<line x1="540.85" y1="198.72" x2="540.85" y2="197.98" stroke="#000" stroke-width="0.9"/>
<line x1="539.25" y1="197.98" x2="542.45" y2="197.98" stroke="#000" stroke-width="0.9"/>
<rect x="537.75" y="196.85" width="3" height="3" fill="none" stroke="#ff3030" stroke-width="0.9"/>
<rect x="539.35" y="196.85" width="3" height="3" fill="none" stroke="#ff3030" stroke-width="0.9"/>
<rect x="540.95" y="196.85" width="3" height="3" fill="none" stroke="#ff3030" stroke-width="0.9"/>
<line x1="562.45" y1="272.6" x2="562.45" y2="276.2" stroke="#000" stroke-width="1.2"/>
<path d="M554.65 272.6V199.84H560.15V272.6" fill="none" stroke="#3232cc" stroke-width="1.5"/>
<line x1="557.4" y1="202.81" x2="557.4" y2="196.87" stroke="#000" stroke-width="0.9"/>
<line x1="555.8" y1="196.87" x2="559" y2="196.87" stroke="#000" stroke-width="0.9"/>
<circle cx="555.8" cy="205.78" r="1.7" fill="none" stroke="#3232cc" stroke-width="0.9"/>
<circle cx="557.4" cy="199.84" r="1.7" fill="none" stroke="#3232cc" stroke-width="0.9"/>
<circle cx="559" cy="193.9" r="1.7" fill="none" stroke="#3232cc" stroke-width="0.9"/>
<path d="M564.75 272.6V202.81H570.25V272.6" fill="none" stroke="#ff3030" stroke-width="1.5"/>
<line x1="567.5" y1="205.78" x2="567.5" y2="199.84" stroke="#000" stroke-width="0.9"/>
<line x1="565.9" y1="199.84" x2="569.1" y2="199.84" stroke="#000" stroke-width="0.9"/>
<rect x="564.4" y="205.02" width="3" height="3" fill="none" stroke="#ff3030" stroke-width="0.9"/>
<rect x="566" y="202.05" width="3" height="3" fill="none" stroke="#ff3030" stroke-width="0.9"/>
<rect x="567.6" y="196.85" width="3" height="3" fill="none" stroke="#ff3030" stroke-width="0.9"/>
<line x1="589.1" y1="272.6" x2="589.1" y2="276.2" stroke="#000" stroke-width="1.2"/>
<path d="M581.3 272.6V203.55H586.8V272.6" fill="none" stroke="#3232cc" stroke-width="1.5"/>
<line x1="584.05" y1="204.29" x2="584.05" y2="202.81" stroke="#000" stroke-width="0.9"/>
<line x1="582.45" y1="202.81" x2="585.65" y2="202.81" stroke="#000" stroke-width="0.9"/>
<circle cx="582.45" cy="204.29" r="1.7" fill="none" stroke="#3232cc" stroke-width="0.9"/>
<circle cx="584.05" cy="203.55" r="1.7" fill="none" stroke="#3232cc" stroke-width="0.9"/>
<circle cx="585.65" cy="202.06" r="1.7" fill="none" stroke="#3232cc" stroke-width="0.9"/>
<path d="M591.4 272.6V203.55H596.9V272.6" fill="none" stroke="#ff3030" stroke-width="1.5"/>
<line x1="594.15" y1="204.29" x2="594.15" y2="202.81" stroke="#000" stroke-width="0.9"/>
<line x1="592.55" y1="202.81" x2="595.75" y2="202.81" stroke="#000" stroke-width="0.9"/>
<rect x="591.05" y="202.05" width="3" height="3" fill="none" stroke="#ff3030" stroke-width="0.9"/>
<rect x="592.65" y="202.05" width="3" height="3" fill="none" stroke="#ff3030" stroke-width="0.9"/>
<rect x="594.25" y="200.56" width="3" height="3" fill="none" stroke="#ff3030" stroke-width="0.9"/>
<line x1="615.75" y1="272.6" x2="615.75" y2="276.2" stroke="#000" stroke-width="1.2"/>
<path d="M607.95 272.6V200.21H613.45V272.6" fill="none" stroke="#3232cc" stroke-width="1.5"/>
<line x1="610.7" y1="203.92" x2="610.7" y2="196.49" stroke="#000" stroke-width="0.9"/>
<line x1="609.1" y1="196.49" x2="612.3" y2="196.49" stroke="#000" stroke-width="0.9"/>
<circle cx="609.1" cy="205.78" r="1.7" fill="none" stroke="#3232cc" stroke-width="0.9"/>
<circle cx="610.7" cy="196.87" r="1.7" fill="none" stroke="#3232cc" stroke-width="0.9"/>
<circle cx="612.3" cy="195.38" r="1.7" fill="none" stroke="#3232cc" stroke-width="0.9"/>
<path d="M618.05 272.6V203.92H623.55V272.6" fill="none" stroke="#ff3030" stroke-width="1.5"/>
<line x1="620.8" y1="206.89" x2="620.8" y2="200.95" stroke="#000" stroke-width="0.9"/>
<line x1="619.2" y1="200.95" x2="622.4" y2="200.95" stroke="#000" stroke-width="0.9"/>
<rect x="617.7" y="205.76" width="3" height="3" fill="none" stroke="#ff3030" stroke-width="0.9"/>
<rect x="619.3" y="202.79" width="3" height="3" fill="none" stroke="#ff3030" stroke-width="0.9"/>
<rect x="620.9" y="198.34" width="3" height="3" fill="none" stroke="#ff3030" stroke-width="0.9"/>
<line x1="642.4" y1="272.6" x2="642.4" y2="276.2" stroke="#000" stroke-width="1.2"/>
<path d="M634.6 272.6V207.26H640.1V272.6" fill="none" stroke="#3232cc" stroke-width="1.5"/>
<line x1="637.35" y1="209.49" x2="637.35" y2="205.03" stroke="#000" stroke-width="0.9"/>
<line x1="635.75" y1="205.03" x2="638.95" y2="205.03" stroke="#000" stroke-width="0.9"/>
<circle cx="635.75" cy="209.49" r="1.7" fill="none" stroke="#3232cc" stroke-width="0.9"/>
<circle cx="637.35" cy="208" r="1.7" fill="none" stroke="#3232cc" stroke-width="0.9"/>
<circle cx="638.95" cy="202.06" r="1.7" fill="none" stroke="#3232cc" stroke-width="0.9"/>
<path d="M644.7 272.6V201.69H650.2V272.6" fill="none" stroke="#ff3030" stroke-width="1.5"/>
<line x1="647.45" y1="204.66" x2="647.45" y2="198.72" stroke="#000" stroke-width="0.9"/>
<line x1="645.85" y1="198.72" x2="649.05" y2="198.72" stroke="#000" stroke-width="0.9"/>
<rect x="644.35" y="203.53" width="3" height="3" fill="none" stroke="#ff3030" stroke-width="0.9"/>
<rect x="645.95" y="199.82" width="3" height="3" fill="none" stroke="#ff3030" stroke-width="0.9"/>
<rect x="647.55" y="194.62" width="3" height="3" fill="none" stroke="#ff3030" stroke-width="0.9"/>
<line x1="669.05" y1="272.6" x2="669.05" y2="276.2" stroke="#000" stroke-width="1.2"/>
<path d="M661.25 272.6V209.86H666.75V272.6" fill="none" stroke="#3232cc" stroke-width="1.5"/>
<line x1="664" y1="212.09" x2="664" y2="207.63" stroke="#000" stroke-width="0.9"/>
<line x1="662.4" y1="207.63" x2="665.6" y2="207.63" stroke="#000" stroke-width="0.9"/>
<circle cx="662.4" cy="211.72" r="1.7" fill="none" stroke="#3232cc" stroke-width="0.9"/>
<circle cx="664" cy="209.49" r="1.7" fill="none" stroke="#3232cc" stroke-width="0.9"/>
<circle cx="665.6" cy="206.52" r="1.7" fill="none" stroke="#3232cc" stroke-width="0.9"/>
<path d="M671.35 272.6V211.72H676.85V272.6" fill="none" stroke="#ff3030" stroke-width="1.5"/>
<line x1="674.1" y1="213.2" x2="674.1" y2="210.23" stroke="#000" stroke-width="0.9"/>
<line x1="672.5" y1="210.23" x2="675.7" y2="210.23" stroke="#000" stroke-width="0.9"/>
<rect x="671" y="211.7" width="3" height="3" fill="none" stroke="#ff3030" stroke-width="0.9"/>
<rect x="672.6" y="210.22" width="3" height="3" fill="none" stroke="#ff3030" stroke-width="0.9"/>
<rect x="674.2" y="207.25" width="3" height="3" fill="none" stroke="#ff3030" stroke-width="0.9"/>
<circle cx="627.8" cy="169.9" r="1.8" fill="none" stroke="#2222cc" stroke-width="1"/>
<rect x="626.1" y="176.5" width="3.4" height="3.4" fill="none" stroke="#ff3030" stroke-width="1"/>
<text x="639.7" y="172.9" font-size="8.3" font-weight="bold">m-PCGC</text>
<text x="639.7" y="181.2" font-size="8.3" font-weight="bold">HK-PCGC</text>
<text transform="translate(501.2,220.6) rotate(-90)" font-size="8.7" font-weight="bold" text-anchor="middle">Cell survival (%)</text>
<text x="535.8" y="286.3" font-size="8" font-weight="bold" text-anchor="middle">0.0</text>
<text x="562.45" y="286.3" font-size="8" font-weight="bold" text-anchor="middle">2.5</text>
<text x="589.1" y="286.3" font-size="8" font-weight="bold" text-anchor="middle">5.0</text>
<text x="615.75" y="286.3" font-size="8" font-weight="bold" text-anchor="middle">7.5</text>
<text x="642.4" y="286.3" font-size="8" font-weight="bold" text-anchor="middle">10.0</text>
<text x="669.05" y="286.3" font-size="8" font-weight="bold" text-anchor="middle">15.0</text>
<text x="603" y="301.5" font-size="8.6" font-weight="bold" text-anchor="middle">m-PCGC/HK-PCGC (&#956;M)</text>
<text x="0.3" y="340.8" font-size="18.2" font-weight="bold">E</text>
<text x="117.4" y="333.3" font-size="10" font-weight="bold" text-anchor="middle">Senescent A549</text>
<line x1="40.1" y1="345.86" x2="40.1" y2="452.1" stroke="#000" stroke-width="1.3"/>
<line x1="36.1" y1="451.5" x2="40.1" y2="451.5" stroke="#000" stroke-width="1.2"/>
<text x="34.9" y="454.3" font-size="7.7" font-weight="bold" text-anchor="end">0</text>
<line x1="36.1" y1="436.48" x2="40.1" y2="436.48" stroke="#000" stroke-width="1.2"/>
<text x="34.9" y="439.28" font-size="7.7" font-weight="bold" text-anchor="end">20</text>
<line x1="36.1" y1="421.46" x2="40.1" y2="421.46" stroke="#000" stroke-width="1.2"/>
<text x="34.9" y="424.26" font-size="7.7" font-weight="bold" text-anchor="end">40</text>
<line x1="36.1" y1="406.44" x2="40.1" y2="406.44" stroke="#000" stroke-width="1.2"/>
<text x="34.9" y="409.24" font-size="7.7" font-weight="bold" text-anchor="end">60</text>
<line x1="36.1" y1="391.42" x2="40.1" y2="391.42" stroke="#000" stroke-width="1.2"/>
<text x="34.9" y="394.22" font-size="7.7" font-weight="bold" text-anchor="end">80</text>
<line x1="36.1" y1="376.4" x2="40.1" y2="376.4" stroke="#000" stroke-width="1.2"/>
<text x="34.9" y="379.2" font-size="7.7" font-weight="bold" text-anchor="end">100</text>
<line x1="36.1" y1="361.38" x2="40.1" y2="361.38" stroke="#000" stroke-width="1.2"/>
<text x="34.9" y="364.18" font-size="7.7" font-weight="bold" text-anchor="end">120</text>
<line x1="36.1" y1="346.36" x2="40.1" y2="346.36" stroke="#000" stroke-width="1.2"/>
<text x="34.9" y="349.16" font-size="7.7" font-weight="bold" text-anchor="end">140</text>
<line x1="39.5" y1="451.5" x2="198" y2="451.5" stroke="#000" stroke-width="1.4"/>
<line x1="52.3" y1="451.5" x2="52.3" y2="455.1" stroke="#000" stroke-width="1.2"/>
<path d="M44.5 451.5V376.4H50V451.5" fill="none" stroke="#3232cc" stroke-width="1.5"/>
<line x1="47.25" y1="376.78" x2="47.25" y2="376.02" stroke="#000" stroke-width="0.9"/>
<line x1="45.65" y1="376.02" x2="48.85" y2="376.02" stroke="#000" stroke-width="0.9"/>
<circle cx="45.65" cy="376.4" r="1.7" fill="none" stroke="#3232cc" stroke-width="0.9"/>
<circle cx="47.25" cy="376.4" r="1.7" fill="none" stroke="#3232cc" stroke-width="0.9"/>
<circle cx="48.85" cy="376.4" r="1.7" fill="none" stroke="#3232cc" stroke-width="0.9"/>
<path d="M54.6 451.5V376.4H60.1V451.5" fill="none" stroke="#ff3030" stroke-width="1.5"/>
<line x1="57.35" y1="376.78" x2="57.35" y2="376.02" stroke="#000" stroke-width="0.9"/>
<line x1="55.75" y1="376.02" x2="58.95" y2="376.02" stroke="#000" stroke-width="0.9"/>
<rect x="54.25" y="374.9" width="3" height="3" fill="none" stroke="#ff3030" stroke-width="0.9"/>
<rect x="55.85" y="374.9" width="3" height="3" fill="none" stroke="#ff3030" stroke-width="0.9"/>
<rect x="57.45" y="374.9" width="3" height="3" fill="none" stroke="#ff3030" stroke-width="0.9"/>
<line x1="78.9" y1="451.5" x2="78.9" y2="455.1" stroke="#000" stroke-width="1.2"/>
<path d="M71.1 451.5V381.28H76.6V451.5" fill="none" stroke="#3232cc" stroke-width="1.5"/>
<line x1="73.85" y1="384.29" x2="73.85" y2="378.28" stroke="#000" stroke-width="0.9"/>
<line x1="72.25" y1="378.28" x2="75.45" y2="378.28" stroke="#000" stroke-width="0.9"/>
<circle cx="72.25" cy="387.67" r="1.7" fill="none" stroke="#3232cc" stroke-width="0.9"/>
<circle cx="73.85" cy="383.91" r="1.7" fill="none" stroke="#3232cc" stroke-width="0.9"/>
<circle cx="75.45" cy="374.15" r="1.7" fill="none" stroke="#3232cc" stroke-width="0.9"/>
<path d="M81.2 451.5V388.42H86.7V451.5" fill="none" stroke="#ff3030" stroke-width="1.5"/>
<line x1="83.95" y1="392.92" x2="83.95" y2="383.91" stroke="#000" stroke-width="0.9"/>
<line x1="82.35" y1="383.91" x2="85.55" y2="383.91" stroke="#000" stroke-width="0.9"/>
<rect x="80.85" y="390.67" width="3" height="3" fill="none" stroke="#ff3030" stroke-width="0.9"/>
<rect x="82.45" y="389.92" width="3" height="3" fill="none" stroke="#ff3030" stroke-width="0.9"/>
<rect x="84.05" y="377.15" width="3" height="3" fill="none" stroke="#ff3030" stroke-width="0.9"/>
<line x1="105.5" y1="451.5" x2="105.5" y2="455.1" stroke="#000" stroke-width="1.2"/>
<path d="M97.7 451.5V385.79H103.2V451.5" fill="none" stroke="#3232cc" stroke-width="1.5"/>
<line x1="100.45" y1="387.29" x2="100.45" y2="384.29" stroke="#000" stroke-width="0.9"/>
<line x1="98.85" y1="384.29" x2="102.05" y2="384.29" stroke="#000" stroke-width="0.9"/>
<circle cx="98.85" cy="386.16" r="1.7" fill="none" stroke="#3232cc" stroke-width="0.9"/>
<circle cx="100.45" cy="385.41" r="1.7" fill="none" stroke="#3232cc" stroke-width="0.9"/>
<circle cx="102.05" cy="383.16" r="1.7" fill="none" stroke="#3232cc" stroke-width="0.9"/>
<path d="M107.8 451.5V393.67H113.3V451.5" fill="none" stroke="#ff3030" stroke-width="1.5"/>
<line x1="110.55" y1="396.68" x2="110.55" y2="390.67" stroke="#000" stroke-width="0.9"/>
<line x1="108.95" y1="390.67" x2="112.15" y2="390.67" stroke="#000" stroke-width="0.9"/>
<rect x="107.45" y="395.93" width="3" height="3" fill="none" stroke="#ff3030" stroke-width="0.9"/>
<rect x="109.05" y="392.92" width="3" height="3" fill="none" stroke="#ff3030" stroke-width="0.9"/>
<rect x="110.65" y="386.92" width="3" height="3" fill="none" stroke="#ff3030" stroke-width="0.9"/>
<line x1="132.1" y1="451.5" x2="132.1" y2="455.1" stroke="#000" stroke-width="1.2"/>
<path d="M124.3 451.5V395.93H129.8V451.5" fill="none" stroke="#3232cc" stroke-width="1.5"/>
<line x1="127.05" y1="397.05" x2="127.05" y2="394.8" stroke="#000" stroke-width="0.9"/>
<line x1="125.45" y1="394.8" x2="128.65" y2="394.8" stroke="#000" stroke-width="0.9"/>
<circle cx="125.45" cy="396.68" r="1.7" fill="none" stroke="#3232cc" stroke-width="0.9"/>
<circle cx="127.05" cy="395.93" r="1.7" fill="none" stroke="#3232cc" stroke-width="0.9"/>
<circle cx="128.65" cy="395.18" r="1.7" fill="none" stroke="#3232cc" stroke-width="0.9"/>
<path d="M134.4 451.5V406.44H139.9V451.5" fill="none" stroke="#ff3030" stroke-width="1.5"/>
<line x1="137.15" y1="407.94" x2="137.15" y2="404.94" stroke="#000" stroke-width="0.9"/>
<line x1="135.55" y1="404.94" x2="138.75" y2="404.94" stroke="#000" stroke-width="0.9"/>
<rect x="134.05" y="407.19" width="3" height="3" fill="none" stroke="#ff3030" stroke-width="0.9"/>
<rect x="135.65" y="404.94" width="3" height="3" fill="none" stroke="#ff3030" stroke-width="0.9"/>
<rect x="137.25" y="404.19" width="3" height="3" fill="none" stroke="#ff3030" stroke-width="0.9"/>
<line x1="158.7" y1="451.5" x2="158.7" y2="455.1" stroke="#000" stroke-width="1.2"/>
<path d="M150.9 451.5V405.31H156.4V451.5" fill="none" stroke="#3232cc" stroke-width="1.5"/>
<line x1="153.65" y1="407.57" x2="153.65" y2="403.06" stroke="#000" stroke-width="0.9"/>
<line x1="152.05" y1="403.06" x2="155.25" y2="403.06" stroke="#000" stroke-width="0.9"/>
<circle cx="152.05" cy="407.94" r="1.7" fill="none" stroke="#3232cc" stroke-width="0.9"/>
<circle cx="153.65" cy="404.94" r="1.7" fill="none" stroke="#3232cc" stroke-width="0.9"/>
<circle cx="155.25" cy="400.43" r="1.7" fill="none" stroke="#3232cc" stroke-width="0.9"/>
<path d="M161 451.5V417.33H166.5V451.5" fill="none" stroke="#ff3030" stroke-width="1.5"/>
<line x1="163.75" y1="419.21" x2="163.75" y2="415.45" stroke="#000" stroke-width="0.9"/>
<line x1="162.15" y1="415.45" x2="165.35" y2="415.45" stroke="#000" stroke-width="0.9"/>
<rect x="160.65" y="417.71" width="3" height="3" fill="none" stroke="#ff3030" stroke-width="0.9"/>
<rect x="162.25" y="416.96" width="3" height="3" fill="none" stroke="#ff3030" stroke-width="0.9"/>
<rect x="163.85" y="412.45" width="3" height="3" fill="none" stroke="#ff3030" stroke-width="0.9"/>
<line x1="185.3" y1="451.5" x2="185.3" y2="455.1" stroke="#000" stroke-width="1.2"/>
<path d="M177.5 451.5V414.33H183V451.5" fill="none" stroke="#3232cc" stroke-width="1.5"/>
<line x1="180.25" y1="415.83" x2="180.25" y2="412.82" stroke="#000" stroke-width="0.9"/>
<line x1="178.65" y1="412.82" x2="181.85" y2="412.82" stroke="#000" stroke-width="0.9"/>
<circle cx="178.65" cy="416.95" r="1.7" fill="none" stroke="#3232cc" stroke-width="0.9"/>
<circle cx="180.25" cy="414.7" r="1.7" fill="none" stroke="#3232cc" stroke-width="0.9"/>
<circle cx="181.85" cy="411.7" r="1.7" fill="none" stroke="#3232cc" stroke-width="0.9"/>
<path d="M187.6 451.5V418.83H193.1V451.5" fill="none" stroke="#ff3030" stroke-width="1.5"/>
<line x1="190.35" y1="419.96" x2="190.35" y2="417.7" stroke="#000" stroke-width="0.9"/>
<line x1="188.75" y1="417.7" x2="191.95" y2="417.7" stroke="#000" stroke-width="0.9"/>
<rect x="187.25" y="419.21" width="3" height="3" fill="none" stroke="#ff3030" stroke-width="0.9"/>
<rect x="188.85" y="417.71" width="3" height="3" fill="none" stroke="#ff3030" stroke-width="0.9"/>
<rect x="190.45" y="416.96" width="3" height="3" fill="none" stroke="#ff3030" stroke-width="0.9"/>
<circle cx="144.2" cy="346.8" r="1.8" fill="none" stroke="#2222cc" stroke-width="1"/>
<rect x="142.5" y="353.6" width="3.4" height="3.4" fill="none" stroke="#ff3030" stroke-width="1"/>
<text x="156.6" y="349.7" font-size="8.3" font-weight="bold">m-PCGC</text>
<text x="156.6" y="358.4" font-size="8.3" font-weight="bold">HK-PCGC</text>
<text transform="translate(17.5,399) rotate(-90)" font-size="8.7" font-weight="bold" text-anchor="middle">Cell survival (%)</text>
<text x="52.3" y="464.8" font-size="8" font-weight="bold" text-anchor="middle">0.0</text>
<text x="78.9" y="464.8" font-size="8" font-weight="bold" text-anchor="middle">2.5</text>
<text x="105.5" y="464.8" font-size="8" font-weight="bold" text-anchor="middle">5.0</text>
<text x="132.1" y="464.8" font-size="8" font-weight="bold" text-anchor="middle">7.5</text>
<text x="158.7" y="464.8" font-size="8" font-weight="bold" text-anchor="middle">10.0</text>
<text x="185.3" y="464.8" font-size="8" font-weight="bold" text-anchor="middle">15.0</text>
<text x="118.6" y="481" font-size="8.6" font-weight="bold" text-anchor="middle">m-PCGC/HK-PCGC (&#956;M)</text>
<text x="90.3" y="377.4" font-size="7.2" fill="#1a1a1a"><tspan font-style="italic">P</tspan>=0.0431</text>
<line x1="99.7" y1="380" x2="110.4" y2="380" stroke="#111" stroke-width="1.3"/>
<text x="116.8" y="387.5" font-size="7.2" fill="#1a1a1a"><tspan font-style="italic">P</tspan>=0.0008</text>
<line x1="127" y1="390.7" x2="137.4" y2="390.7" stroke="#111" stroke-width="1.3"/>
<text x="143.8" y="395" font-size="7.2" fill="#1a1a1a"><tspan font-style="italic">P</tspan>=0.0102</text>
<line x1="153.9" y1="396" x2="164" y2="396" stroke="#111" stroke-width="1.3"/>
<text x="170.3" y="406.4" font-size="7.2" fill="#1a1a1a"><tspan font-style="italic">P</tspan>=0.0441</text>
<line x1="179.7" y1="408.2" x2="190.4" y2="408.2" stroke="#111" stroke-width="1.3"/>
<text x="242.8" y="341.2" font-size="18.2" font-weight="bold">F</text>
<text x="354.7" y="333.3" font-size="10" font-weight="bold" text-anchor="middle">Non-senescent A549</text>
<line x1="282.4" y1="346.36" x2="282.4" y2="451.9" stroke="#000" stroke-width="1.3"/>
<line x1="278.4" y1="451.3" x2="282.4" y2="451.3" stroke="#000" stroke-width="1.2"/>
<text x="277.2" y="454.1" font-size="7.7" font-weight="bold" text-anchor="end">0</text>
<line x1="278.4" y1="436.38" x2="282.4" y2="436.38" stroke="#000" stroke-width="1.2"/>
<text x="277.2" y="439.18" font-size="7.7" font-weight="bold" text-anchor="end">20</text>
<line x1="278.4" y1="421.46" x2="282.4" y2="421.46" stroke="#000" stroke-width="1.2"/>
<text x="277.2" y="424.26" font-size="7.7" font-weight="bold" text-anchor="end">40</text>
<line x1="278.4" y1="406.54" x2="282.4" y2="406.54" stroke="#000" stroke-width="1.2"/>
<text x="277.2" y="409.34" font-size="7.7" font-weight="bold" text-anchor="end">60</text>
<line x1="278.4" y1="391.62" x2="282.4" y2="391.62" stroke="#000" stroke-width="1.2"/>
<text x="277.2" y="394.42" font-size="7.7" font-weight="bold" text-anchor="end">80</text>
<line x1="278.4" y1="376.7" x2="282.4" y2="376.7" stroke="#000" stroke-width="1.2"/>
<text x="277.2" y="379.5" font-size="7.7" font-weight="bold" text-anchor="end">100</text>
<line x1="278.4" y1="361.78" x2="282.4" y2="361.78" stroke="#000" stroke-width="1.2"/>
<text x="277.2" y="364.58" font-size="7.7" font-weight="bold" text-anchor="end">120</text>
<line x1="278.4" y1="346.86" x2="282.4" y2="346.86" stroke="#000" stroke-width="1.2"/>
<text x="277.2" y="349.66" font-size="7.7" font-weight="bold" text-anchor="end">140</text>
<line x1="281.8" y1="451.3" x2="439.4" y2="451.3" stroke="#000" stroke-width="1.4"/>
<line x1="294.2" y1="451.3" x2="294.2" y2="454.9" stroke="#000" stroke-width="1.2"/>
<path d="M286.4 451.3V376.7H291.9V451.3" fill="none" stroke="#3232cc" stroke-width="1.5"/>
<line x1="289.15" y1="377.07" x2="289.15" y2="376.33" stroke="#000" stroke-width="0.9"/>
<line x1="287.55" y1="376.33" x2="290.75" y2="376.33" stroke="#000" stroke-width="0.9"/>
<circle cx="287.55" cy="376.7" r="1.7" fill="none" stroke="#222" stroke-width="0.9"/>
<circle cx="289.15" cy="376.7" r="1.7" fill="none" stroke="#222" stroke-width="0.9"/>
<circle cx="290.75" cy="376.7" r="1.7" fill="none" stroke="#222" stroke-width="0.9"/>
<path d="M296.5 451.3V376.7H302V451.3" fill="none" stroke="#ff3030" stroke-width="1.5"/>
<line x1="299.25" y1="377.07" x2="299.25" y2="376.33" stroke="#000" stroke-width="0.9"/>
<line x1="297.65" y1="376.33" x2="300.85" y2="376.33" stroke="#000" stroke-width="0.9"/>
<rect x="296.15" y="375.2" width="3" height="3" fill="none" stroke="#ff3030" stroke-width="0.9"/>
<rect x="297.75" y="375.2" width="3" height="3" fill="none" stroke="#ff3030" stroke-width="0.9"/>
<rect x="299.35" y="375.2" width="3" height="3" fill="none" stroke="#ff3030" stroke-width="0.9"/>
<line x1="320.72" y1="451.3" x2="320.72" y2="454.9" stroke="#000" stroke-width="1.2"/>
<path d="M312.92 451.3V384.91H318.42V451.3" fill="none" stroke="#3232cc" stroke-width="1.5"/>
<line x1="315.67" y1="387.14" x2="315.67" y2="382.67" stroke="#000" stroke-width="0.9"/>
<line x1="314.07" y1="382.67" x2="317.27" y2="382.67" stroke="#000" stroke-width="0.9"/>
<circle cx="314.07" cy="387.14" r="1.7" fill="none" stroke="#222" stroke-width="0.9"/>
<circle cx="315.67" cy="384.91" r="1.7" fill="none" stroke="#222" stroke-width="0.9"/>
<circle cx="317.27" cy="381.92" r="1.7" fill="none" stroke="#222" stroke-width="0.9"/>
<path d="M323.02 451.3V390.13H328.52V451.3" fill="none" stroke="#ff3030" stroke-width="1.5"/>
<line x1="325.77" y1="395.35" x2="325.77" y2="384.91" stroke="#000" stroke-width="0.9"/>
<line x1="324.17" y1="384.91" x2="327.37" y2="384.91" stroke="#000" stroke-width="0.9"/>
<rect x="322.67" y="397.58" width="3" height="3" fill="none" stroke="#ff3030" stroke-width="0.9"/>
<rect x="324.27" y="390.87" width="3" height="3" fill="none" stroke="#ff3030" stroke-width="0.9"/>
<rect x="325.87" y="378.18" width="3" height="3" fill="none" stroke="#ff3030" stroke-width="0.9"/>
<line x1="347.24" y1="451.3" x2="347.24" y2="454.9" stroke="#000" stroke-width="1.2"/>
<path d="M339.44 451.3V385.65H344.94V451.3" fill="none" stroke="#3232cc" stroke-width="1.5"/>
<line x1="342.19" y1="390.13" x2="342.19" y2="381.18" stroke="#000" stroke-width="0.9"/>
<line x1="340.59" y1="381.18" x2="343.79" y2="381.18" stroke="#000" stroke-width="0.9"/>
<circle cx="340.59" cy="400.57" r="1.7" fill="none" stroke="#222" stroke-width="0.9"/>
<circle cx="342.19" cy="384.16" r="1.7" fill="none" stroke="#222" stroke-width="0.9"/>
<circle cx="343.79" cy="373.72" r="1.7" fill="none" stroke="#222" stroke-width="0.9"/>
<path d="M349.54 451.3V386.17H355.04V451.3" fill="none" stroke="#ff3030" stroke-width="1.5"/>
<line x1="352.29" y1="389.9" x2="352.29" y2="382.44" stroke="#000" stroke-width="0.9"/>
<line x1="350.69" y1="382.44" x2="353.89" y2="382.44" stroke="#000" stroke-width="0.9"/>
<rect x="349.19" y="388.63" width="3" height="3" fill="none" stroke="#ff3030" stroke-width="0.9"/>
<rect x="350.79" y="386.39" width="3" height="3" fill="none" stroke="#ff3030" stroke-width="0.9"/>
<rect x="352.39" y="378.18" width="3" height="3" fill="none" stroke="#ff3030" stroke-width="0.9"/>
<line x1="373.76" y1="451.3" x2="373.76" y2="454.9" stroke="#000" stroke-width="1.2"/>
<path d="M365.96 451.3V380.21H371.46V451.3" fill="none" stroke="#3232cc" stroke-width="1.5"/>
<line x1="368.71" y1="381.7" x2="368.71" y2="378.71" stroke="#000" stroke-width="0.9"/>
<line x1="367.11" y1="378.71" x2="370.31" y2="378.71" stroke="#000" stroke-width="0.9"/>
<circle cx="367.11" cy="382.67" r="1.7" fill="none" stroke="#222" stroke-width="0.9"/>
<circle cx="368.71" cy="378.94" r="1.7" fill="none" stroke="#222" stroke-width="0.9"/>
<circle cx="370.31" cy="378.19" r="1.7" fill="none" stroke="#222" stroke-width="0.9"/>
<path d="M376.06 451.3V389.9H381.56V451.3" fill="none" stroke="#ff3030" stroke-width="1.5"/>
<line x1="378.81" y1="395.13" x2="378.81" y2="384.68" stroke="#000" stroke-width="0.9"/>
<line x1="377.21" y1="384.68" x2="380.41" y2="384.68" stroke="#000" stroke-width="0.9"/>
<rect x="375.71" y="402.8" width="3" height="3" fill="none" stroke="#ff3030" stroke-width="0.9"/>
<rect x="377.31" y="387.88" width="3" height="3" fill="none" stroke="#ff3030" stroke-width="0.9"/>
<rect x="378.91" y="378.18" width="3" height="3" fill="none" stroke="#ff3030" stroke-width="0.9"/>
<line x1="400.28" y1="451.3" x2="400.28" y2="454.9" stroke="#000" stroke-width="1.2"/>
<path d="M392.48 451.3V388.64H397.98V451.3" fill="none" stroke="#3232cc" stroke-width="1.5"/>
<line x1="395.23" y1="392.37" x2="395.23" y2="384.91" stroke="#000" stroke-width="0.9"/>
<line x1="393.63" y1="384.91" x2="396.83" y2="384.91" stroke="#000" stroke-width="0.9"/>
<circle cx="393.63" cy="393.11" r="1.7" fill="none" stroke="#222" stroke-width="0.9"/>
<circle cx="395.23" cy="392.37" r="1.7" fill="none" stroke="#222" stroke-width="0.9"/>
<circle cx="396.83" cy="378.94" r="1.7" fill="none" stroke="#222" stroke-width="0.9"/>
<path d="M402.58 451.3V384.53H408.08V451.3" fill="none" stroke="#ff3030" stroke-width="1.5"/>
<line x1="405.33" y1="386.77" x2="405.33" y2="382.3" stroke="#000" stroke-width="0.9"/>
<line x1="403.73" y1="382.3" x2="406.93" y2="382.3" stroke="#000" stroke-width="0.9"/>
<rect x="402.23" y="384.15" width="3" height="3" fill="none" stroke="#ff3030" stroke-width="0.9"/>
<rect x="403.83" y="382.66" width="3" height="3" fill="none" stroke="#ff3030" stroke-width="0.9"/>
<rect x="405.43" y="378.93" width="3" height="3" fill="none" stroke="#ff3030" stroke-width="0.9"/>
<line x1="426.8" y1="451.3" x2="426.8" y2="454.9" stroke="#000" stroke-width="1.2"/>
<path d="M419 451.3V381.4H424.5V451.3" fill="none" stroke="#3232cc" stroke-width="1.5"/>
<line x1="421.75" y1="383.64" x2="421.75" y2="379.16" stroke="#000" stroke-width="0.9"/>
<line x1="420.15" y1="379.16" x2="423.35" y2="379.16" stroke="#000" stroke-width="0.9"/>
<circle cx="420.15" cy="385.65" r="1.7" fill="none" stroke="#222" stroke-width="0.9"/>
<circle cx="421.75" cy="379.68" r="1.7" fill="none" stroke="#222" stroke-width="0.9"/>
<circle cx="423.35" cy="378.94" r="1.7" fill="none" stroke="#222" stroke-width="0.9"/>
<path d="M429.1 451.3V383.41H434.6V451.3" fill="none" stroke="#ff3030" stroke-width="1.5"/>
<line x1="431.85" y1="386.4" x2="431.85" y2="380.43" stroke="#000" stroke-width="0.9"/>
<line x1="430.25" y1="380.43" x2="433.45" y2="380.43" stroke="#000" stroke-width="0.9"/>
<rect x="428.75" y="385.64" width="3" height="3" fill="none" stroke="#ff3030" stroke-width="0.9"/>
<rect x="430.35" y="379.68" width="3" height="3" fill="none" stroke="#ff3030" stroke-width="0.9"/>
<rect x="431.95" y="378.18" width="3" height="3" fill="none" stroke="#ff3030" stroke-width="0.9"/>
<circle cx="388.3" cy="348.7" r="1.8" fill="none" stroke="#222" stroke-width="1"/>
<rect x="386.6" y="355" width="3.4" height="3.4" fill="none" stroke="#ff3030" stroke-width="1"/>
<text x="400.5" y="351.6" font-size="8.3" font-weight="bold">m-PCGC</text>
<text x="400.5" y="360.2" font-size="8.3" font-weight="bold">HK-PCGC</text>
<text transform="translate(259.6,399.2) rotate(-90)" font-size="8.7" font-weight="bold" text-anchor="middle">Cell survival (%)</text>
<text x="294.2" y="464.6" font-size="8" font-weight="bold" text-anchor="middle">0</text>
<text x="320.72" y="464.6" font-size="8" font-weight="bold" text-anchor="middle">2</text>
<text x="347.24" y="464.6" font-size="8" font-weight="bold" text-anchor="middle">4</text>
<text x="373.76" y="464.6" font-size="8" font-weight="bold" text-anchor="middle">8</text>
<text x="400.28" y="464.6" font-size="8" font-weight="bold" text-anchor="middle">12</text>
<text x="426.8" y="464.6" font-size="8" font-weight="bold" text-anchor="middle">24</text>
<text x="361" y="481" font-size="8.6" font-weight="bold" text-anchor="middle">Time (h)</text>
<text x="485.8" y="341.2" font-size="18.2" font-weight="bold">G</text>
<text x="603.2" y="333.3" font-size="10" font-weight="bold" text-anchor="middle">Senescent A549</text>
<line x1="524.2" y1="346.76" x2="524.2" y2="451.6" stroke="#000" stroke-width="1.3"/>
<line x1="520.2" y1="451" x2="524.2" y2="451" stroke="#000" stroke-width="1.2"/>
<text x="519" y="453.8" font-size="7.7" font-weight="bold" text-anchor="end">0</text>
<line x1="520.2" y1="436.18" x2="524.2" y2="436.18" stroke="#000" stroke-width="1.2"/>
<text x="519" y="438.98" font-size="7.7" font-weight="bold" text-anchor="end">20</text>
<line x1="520.2" y1="421.36" x2="524.2" y2="421.36" stroke="#000" stroke-width="1.2"/>
<text x="519" y="424.16" font-size="7.7" font-weight="bold" text-anchor="end">40</text>
<line x1="520.2" y1="406.54" x2="524.2" y2="406.54" stroke="#000" stroke-width="1.2"/>
<text x="519" y="409.34" font-size="7.7" font-weight="bold" text-anchor="end">60</text>
<line x1="520.2" y1="391.72" x2="524.2" y2="391.72" stroke="#000" stroke-width="1.2"/>
<text x="519" y="394.52" font-size="7.7" font-weight="bold" text-anchor="end">80</text>
<line x1="520.2" y1="376.9" x2="524.2" y2="376.9" stroke="#000" stroke-width="1.2"/>
<text x="519" y="379.7" font-size="7.7" font-weight="bold" text-anchor="end">100</text>
<line x1="520.2" y1="362.08" x2="524.2" y2="362.08" stroke="#000" stroke-width="1.2"/>
<text x="519" y="364.88" font-size="7.7" font-weight="bold" text-anchor="end">120</text>
<line x1="520.2" y1="347.26" x2="524.2" y2="347.26" stroke="#000" stroke-width="1.2"/>
<text x="519" y="350.06" font-size="7.7" font-weight="bold" text-anchor="end">140</text>
<line x1="523.6" y1="451" x2="681.8" y2="451" stroke="#000" stroke-width="1.4"/>
<line x1="535.7" y1="451" x2="535.7" y2="454.6" stroke="#000" stroke-width="1.2"/>
<path d="M527.9 451V376.9H533.4V451" fill="none" stroke="#3232cc" stroke-width="1.5"/>
<line x1="530.65" y1="377.27" x2="530.65" y2="376.53" stroke="#000" stroke-width="0.9"/>
<line x1="529.05" y1="376.53" x2="532.25" y2="376.53" stroke="#000" stroke-width="0.9"/>
<circle cx="529.05" cy="376.9" r="1.7" fill="none" stroke="#3232cc" stroke-width="0.9"/>
<circle cx="530.65" cy="376.9" r="1.7" fill="none" stroke="#3232cc" stroke-width="0.9"/>
<circle cx="532.25" cy="376.9" r="1.7" fill="none" stroke="#3232cc" stroke-width="0.9"/>
<path d="M538 451V376.9H543.5V451" fill="none" stroke="#ff3030" stroke-width="1.5"/>
<line x1="540.75" y1="377.27" x2="540.75" y2="376.53" stroke="#000" stroke-width="0.9"/>
<line x1="539.15" y1="376.53" x2="542.35" y2="376.53" stroke="#000" stroke-width="0.9"/>
<rect x="537.65" y="375.4" width="3" height="3" fill="none" stroke="#ff3030" stroke-width="0.9"/>
<rect x="539.25" y="375.4" width="3" height="3" fill="none" stroke="#ff3030" stroke-width="0.9"/>
<rect x="540.85" y="375.4" width="3" height="3" fill="none" stroke="#ff3030" stroke-width="0.9"/>
<line x1="562.3" y1="451" x2="562.3" y2="454.6" stroke="#000" stroke-width="1.2"/>
<path d="M554.5 451V405.43H560V451" fill="none" stroke="#3232cc" stroke-width="1.5"/>
<line x1="557.25" y1="409.13" x2="557.25" y2="401.72" stroke="#000" stroke-width="0.9"/>
<line x1="555.65" y1="401.72" x2="558.85" y2="401.72" stroke="#000" stroke-width="0.9"/>
<circle cx="555.65" cy="410.25" r="1.7" fill="none" stroke="#3232cc" stroke-width="0.9"/>
<circle cx="557.25" cy="406.54" r="1.7" fill="none" stroke="#3232cc" stroke-width="0.9"/>
<circle cx="558.85" cy="397.65" r="1.7" fill="none" stroke="#3232cc" stroke-width="0.9"/>
<path d="M564.6 451V414.69H570.1V451" fill="none" stroke="#ff3030" stroke-width="1.5"/>
<line x1="567.35" y1="416.91" x2="567.35" y2="412.47" stroke="#000" stroke-width="0.9"/>
<line x1="565.75" y1="412.47" x2="568.95" y2="412.47" stroke="#000" stroke-width="0.9"/>
<rect x="564.25" y="416.15" width="3" height="3" fill="none" stroke="#ff3030" stroke-width="0.9"/>
<rect x="565.85" y="413.19" width="3" height="3" fill="none" stroke="#ff3030" stroke-width="0.9"/>
<rect x="567.45" y="408.75" width="3" height="3" fill="none" stroke="#ff3030" stroke-width="0.9"/>
<line x1="588.9" y1="451" x2="588.9" y2="454.6" stroke="#000" stroke-width="1.2"/>
<path d="M581.1 451V409.13H586.6V451" fill="none" stroke="#3232cc" stroke-width="1.5"/>
<line x1="583.85" y1="413.58" x2="583.85" y2="404.69" stroke="#000" stroke-width="0.9"/>
<line x1="582.25" y1="404.69" x2="585.45" y2="404.69" stroke="#000" stroke-width="0.9"/>
<circle cx="582.25" cy="413.95" r="1.7" fill="none" stroke="#3232cc" stroke-width="0.9"/>
<circle cx="583.85" cy="410.25" r="1.7" fill="none" stroke="#3232cc" stroke-width="0.9"/>
<circle cx="585.45" cy="399.87" r="1.7" fill="none" stroke="#3232cc" stroke-width="0.9"/>
<path d="M591.2 451V422.47H596.7V451" fill="none" stroke="#ff3030" stroke-width="1.5"/>
<line x1="593.95" y1="423.95" x2="593.95" y2="420.99" stroke="#000" stroke-width="0.9"/>
<line x1="592.35" y1="420.99" x2="595.55" y2="420.99" stroke="#000" stroke-width="0.9"/>
<rect x="590.85" y="422.82" width="3" height="3" fill="none" stroke="#ff3030" stroke-width="0.9"/>
<rect x="592.45" y="421.34" width="3" height="3" fill="none" stroke="#ff3030" stroke-width="0.9"/>
<rect x="594.05" y="419.86" width="3" height="3" fill="none" stroke="#ff3030" stroke-width="0.9"/>
<line x1="615.5" y1="451" x2="615.5" y2="454.6" stroke="#000" stroke-width="1.2"/>
<path d="M607.7 451V410.99H613.2V451" fill="none" stroke="#3232cc" stroke-width="1.5"/>
<line x1="610.45" y1="412.47" x2="610.45" y2="409.5" stroke="#000" stroke-width="0.9"/>
<line x1="608.85" y1="409.5" x2="612.05" y2="409.5" stroke="#000" stroke-width="0.9"/>
<circle cx="608.85" cy="412.47" r="1.7" fill="none" stroke="#3232cc" stroke-width="0.9"/>
<circle cx="610.45" cy="410.99" r="1.7" fill="none" stroke="#3232cc" stroke-width="0.9"/>
<circle cx="612.05" cy="408.76" r="1.7" fill="none" stroke="#3232cc" stroke-width="0.9"/>
<path d="M617.8 451V424.69H623.3V451" fill="none" stroke="#ff3030" stroke-width="1.5"/>
<line x1="620.55" y1="426.92" x2="620.55" y2="422.47" stroke="#000" stroke-width="0.9"/>
<line x1="618.95" y1="422.47" x2="622.15" y2="422.47" stroke="#000" stroke-width="0.9"/>
<rect x="617.45" y="425.79" width="3" height="3" fill="none" stroke="#ff3030" stroke-width="0.9"/>
<rect x="619.05" y="423.56" width="3" height="3" fill="none" stroke="#ff3030" stroke-width="0.9"/>
<rect x="620.65" y="419.12" width="3" height="3" fill="none" stroke="#ff3030" stroke-width="0.9"/>
<line x1="642.1" y1="451" x2="642.1" y2="454.6" stroke="#000" stroke-width="1.2"/>
<path d="M634.3 451V410.25H639.8V451" fill="none" stroke="#3232cc" stroke-width="1.5"/>
<line x1="637.05" y1="412.47" x2="637.05" y2="408.02" stroke="#000" stroke-width="0.9"/>
<line x1="635.45" y1="408.02" x2="638.65" y2="408.02" stroke="#000" stroke-width="0.9"/>
<circle cx="635.45" cy="412.47" r="1.7" fill="none" stroke="#3232cc" stroke-width="0.9"/>
<circle cx="637.05" cy="410.25" r="1.7" fill="none" stroke="#3232cc" stroke-width="0.9"/>
<circle cx="638.65" cy="406.54" r="1.7" fill="none" stroke="#3232cc" stroke-width="0.9"/>
<path d="M644.4 451V425.44H649.9V451" fill="none" stroke="#ff3030" stroke-width="1.5"/>
<line x1="647.15" y1="428.4" x2="647.15" y2="422.47" stroke="#000" stroke-width="0.9"/>
<line x1="645.55" y1="422.47" x2="648.75" y2="422.47" stroke="#000" stroke-width="0.9"/>
<rect x="644.05" y="427.27" width="3" height="3" fill="none" stroke="#ff3030" stroke-width="0.9"/>
<rect x="645.65" y="425.05" width="3" height="3" fill="none" stroke="#ff3030" stroke-width="0.9"/>
<rect x="647.25" y="419.12" width="3" height="3" fill="none" stroke="#ff3030" stroke-width="0.9"/>
<line x1="668.7" y1="451" x2="668.7" y2="454.6" stroke="#000" stroke-width="1.2"/>
<path d="M660.9 451V416.17H666.4V451" fill="none" stroke="#3232cc" stroke-width="1.5"/>
<line x1="663.65" y1="418.03" x2="663.65" y2="414.32" stroke="#000" stroke-width="0.9"/>
<line x1="662.05" y1="414.32" x2="665.25" y2="414.32" stroke="#000" stroke-width="0.9"/>
<circle cx="662.05" cy="417.65" r="1.7" fill="none" stroke="#3232cc" stroke-width="0.9"/>
<circle cx="663.65" cy="416.17" r="1.7" fill="none" stroke="#3232cc" stroke-width="0.9"/>
<circle cx="665.25" cy="411.73" r="1.7" fill="none" stroke="#3232cc" stroke-width="0.9"/>
<path d="M671 451V426.18H676.5V451" fill="none" stroke="#ff3030" stroke-width="1.5"/>
<line x1="673.75" y1="427.29" x2="673.75" y2="425.06" stroke="#000" stroke-width="0.9"/>
<line x1="672.15" y1="425.06" x2="675.35" y2="425.06" stroke="#000" stroke-width="0.9"/>
<rect x="670.65" y="425.05" width="3" height="3" fill="none" stroke="#ff3030" stroke-width="0.9"/>
<rect x="672.25" y="424.31" width="3" height="3" fill="none" stroke="#ff3030" stroke-width="0.9"/>
<rect x="673.85" y="423.56" width="3" height="3" fill="none" stroke="#ff3030" stroke-width="0.9"/>
<circle cx="629.7" cy="346.8" r="1.8" fill="none" stroke="#2222cc" stroke-width="1"/>
<rect x="628" y="353.8" width="3.4" height="3.4" fill="none" stroke="#ff3030" stroke-width="1"/>
<text x="642.3" y="349.7" font-size="8.3" font-weight="bold">m-PCGC</text>
<text x="642.3" y="358.4" font-size="8.3" font-weight="bold">HK-PCGC</text>
<text transform="translate(502,399.2) rotate(-90)" font-size="8.7" font-weight="bold" text-anchor="middle">Cell survival (%)</text>
<text x="535.7" y="464.6" font-size="8" font-weight="bold" text-anchor="middle">0</text>
<text x="562.3" y="464.6" font-size="8" font-weight="bold" text-anchor="middle">2</text>
<text x="588.9" y="464.6" font-size="8" font-weight="bold" text-anchor="middle">4</text>
<text x="615.5" y="464.6" font-size="8" font-weight="bold" text-anchor="middle">8</text>
<text x="642.1" y="464.6" font-size="8" font-weight="bold" text-anchor="middle">12</text>
<text x="668.7" y="464.6" font-size="8" font-weight="bold" text-anchor="middle">24</text>
<text x="603" y="481" font-size="8.6" font-weight="bold" text-anchor="middle">Time (h)</text>
<text x="573.5" y="393.9" font-size="7.2" fill="#1a1a1a"><tspan font-style="italic">P</tspan>=0.0455</text>
<line x1="584.3" y1="396.1" x2="594.2" y2="396.1" stroke="#111" stroke-width="1.3"/>
<text x="601" y="402.5" font-size="7.2" fill="#1a1a1a"><tspan font-style="italic">P</tspan>=0.0119</text>
<line x1="610.7" y1="403" x2="620.6" y2="403" stroke="#111" stroke-width="1.3"/>
<text x="626.7" y="394.5" font-size="7.2" fill="#1a1a1a"><tspan font-style="italic">P</tspan>=0.0141</text>
<line x1="637.5" y1="396.8" x2="647.4" y2="396.8" stroke="#111" stroke-width="1.3"/>
<text x="654.7" y="405" font-size="7.2" fill="#1a1a1a"><tspan font-style="italic">P</tspan>=0.0174</text>
<line x1="664.6" y1="407.2" x2="673.8" y2="407.2" stroke="#111" stroke-width="1.3"/>
<text x="133.6" y="509" font-size="18.2" font-weight="bold">H</text>
<line x1="167.3" y1="517.9" x2="167.3" y2="623.4" stroke="#000" stroke-width="1.3"/>
<line x1="163.3" y1="622.8" x2="167.3" y2="622.8" stroke="#000" stroke-width="1.2"/>
<text x="162.1" y="625.6" font-size="7.7" font-weight="bold" text-anchor="end">0</text>
<line x1="163.3" y1="605.4" x2="167.3" y2="605.4" stroke="#000" stroke-width="1.2"/>
<text x="162.1" y="608.2" font-size="7.7" font-weight="bold" text-anchor="end">20</text>
<line x1="163.3" y1="588" x2="167.3" y2="588" stroke="#000" stroke-width="1.2"/>
<text x="162.1" y="590.8" font-size="7.7" font-weight="bold" text-anchor="end">40</text>
<line x1="163.3" y1="570.6" x2="167.3" y2="570.6" stroke="#000" stroke-width="1.2"/>
<text x="162.1" y="573.4" font-size="7.7" font-weight="bold" text-anchor="end">60</text>
<line x1="163.3" y1="553.2" x2="167.3" y2="553.2" stroke="#000" stroke-width="1.2"/>
<text x="162.1" y="556" font-size="7.7" font-weight="bold" text-anchor="end">80</text>
<line x1="163.3" y1="535.8" x2="167.3" y2="535.8" stroke="#000" stroke-width="1.2"/>
<text x="162.1" y="538.6" font-size="7.7" font-weight="bold" text-anchor="end">100</text>
<line x1="163.3" y1="518.4" x2="167.3" y2="518.4" stroke="#000" stroke-width="1.2"/>
<text x="162.1" y="521.2" font-size="7.7" font-weight="bold" text-anchor="end">120</text>
<line x1="166.7" y1="622.8" x2="324.3" y2="622.8" stroke="#000" stroke-width="1.4"/>
<line x1="183.6" y1="622.8" x2="183.6" y2="626.2" stroke="#000" stroke-width="1.2"/>
<text x="183.6" y="635.8" font-size="8" font-weight="bold" text-anchor="middle">0</text>
<line x1="208.4" y1="622.8" x2="208.4" y2="626.2" stroke="#000" stroke-width="1.2"/>
<text x="208.4" y="635.8" font-size="8" font-weight="bold" text-anchor="middle">2.5</text>
<line x1="233.2" y1="622.8" x2="233.2" y2="626.2" stroke="#000" stroke-width="1.2"/>
<text x="233.2" y="635.8" font-size="8" font-weight="bold" text-anchor="middle">5</text>
<line x1="258" y1="622.8" x2="258" y2="626.2" stroke="#000" stroke-width="1.2"/>
<text x="258" y="635.8" font-size="8" font-weight="bold" text-anchor="middle">7.5</text>
<line x1="282.8" y1="622.8" x2="282.8" y2="626.2" stroke="#000" stroke-width="1.2"/>
<text x="282.8" y="635.8" font-size="8" font-weight="bold" text-anchor="middle">10</text>
<line x1="307.6" y1="622.8" x2="307.6" y2="626.2" stroke="#000" stroke-width="1.2"/>
<text x="307.6" y="635.8" font-size="8" font-weight="bold" text-anchor="middle">15</text>
<path d="M183.6 535.8 L208.4 541.72 L233.2 539.02 L258 528.14 L282.8 535.28 L307.6 531.8" fill="none" stroke="#3232cc" stroke-width="1.5"/>
<line x1="183.6" y1="536.23" x2="183.6" y2="535.37" stroke="#444" stroke-width="0.9"/>
<line x1="182.1" y1="535.37" x2="185.1" y2="535.37" stroke="#444" stroke-width="0.9"/>
<line x1="182.1" y1="536.23" x2="185.1" y2="536.23" stroke="#444" stroke-width="0.9"/>
<circle cx="183.6" cy="535.8" r="1.9" fill="#3232cc"/>
<line x1="208.4" y1="542.59" x2="208.4" y2="540.85" stroke="#444" stroke-width="0.9"/>
<line x1="206.9" y1="540.85" x2="209.9" y2="540.85" stroke="#444" stroke-width="0.9"/>
<line x1="206.9" y1="542.59" x2="209.9" y2="542.59" stroke="#444" stroke-width="0.9"/>
<circle cx="208.4" cy="541.72" r="1.9" fill="#3232cc"/>
<line x1="233.2" y1="539.89" x2="233.2" y2="538.15" stroke="#444" stroke-width="0.9"/>
<line x1="231.7" y1="538.15" x2="234.7" y2="538.15" stroke="#444" stroke-width="0.9"/>
<line x1="231.7" y1="539.89" x2="234.7" y2="539.89" stroke="#444" stroke-width="0.9"/>
<circle cx="233.2" cy="539.02" r="1.9" fill="#3232cc"/>
<line x1="258" y1="533.36" x2="258" y2="522.92" stroke="#444" stroke-width="0.9"/>
<line x1="256.5" y1="522.92" x2="259.5" y2="522.92" stroke="#444" stroke-width="0.9"/>
<line x1="256.5" y1="533.36" x2="259.5" y2="533.36" stroke="#444" stroke-width="0.9"/>
<circle cx="258" cy="528.14" r="1.9" fill="#3232cc"/>
<line x1="282.8" y1="537.02" x2="282.8" y2="533.54" stroke="#444" stroke-width="0.9"/>
<line x1="281.3" y1="533.54" x2="284.3" y2="533.54" stroke="#444" stroke-width="0.9"/>
<line x1="281.3" y1="537.02" x2="284.3" y2="537.02" stroke="#444" stroke-width="0.9"/>
<circle cx="282.8" cy="535.28" r="1.9" fill="#3232cc"/>
<line x1="307.6" y1="538.76" x2="307.6" y2="524.84" stroke="#444" stroke-width="0.9"/>
<line x1="306.1" y1="524.84" x2="309.1" y2="524.84" stroke="#444" stroke-width="0.9"/>
<line x1="306.1" y1="538.76" x2="309.1" y2="538.76" stroke="#444" stroke-width="0.9"/>
<circle cx="307.6" cy="531.8" r="1.9" fill="#3232cc"/>
<path d="M183.6 535.8 L208.4 550.42 L233.2 555.11 L258 573.73 L282.8 577.3 L307.6 596" fill="none" stroke="#ff3030" stroke-width="1.5"/>
<line x1="183.6" y1="536.23" x2="183.6" y2="535.37" stroke="#444" stroke-width="0.9"/>
<line x1="182.1" y1="535.37" x2="185.1" y2="535.37" stroke="#444" stroke-width="0.9"/>
<line x1="182.1" y1="536.23" x2="185.1" y2="536.23" stroke="#444" stroke-width="0.9"/>
<rect x="181.7" y="533.9" width="3.8" height="3.8" fill="#ff3030"/>
<line x1="208.4" y1="554.33" x2="208.4" y2="546.5" stroke="#444" stroke-width="0.9"/>
<line x1="206.9" y1="546.5" x2="209.9" y2="546.5" stroke="#444" stroke-width="0.9"/>
<line x1="206.9" y1="554.33" x2="209.9" y2="554.33" stroke="#444" stroke-width="0.9"/>
<rect x="206.5" y="548.52" width="3.8" height="3.8" fill="#ff3030"/>
<line x1="233.2" y1="558.16" x2="233.2" y2="552.07" stroke="#444" stroke-width="0.9"/>
<line x1="231.7" y1="552.07" x2="234.7" y2="552.07" stroke="#444" stroke-width="0.9"/>
<line x1="231.7" y1="558.16" x2="234.7" y2="558.16" stroke="#444" stroke-width="0.9"/>
<rect x="231.3" y="553.21" width="3.8" height="3.8" fill="#ff3030"/>
<line x1="258" y1="577.21" x2="258" y2="570.25" stroke="#444" stroke-width="0.9"/>
<line x1="256.5" y1="570.25" x2="259.5" y2="570.25" stroke="#444" stroke-width="0.9"/>
<line x1="256.5" y1="577.21" x2="259.5" y2="577.21" stroke="#444" stroke-width="0.9"/>
<rect x="256.1" y="571.83" width="3.8" height="3.8" fill="#ff3030"/>
<line x1="282.8" y1="581.65" x2="282.8" y2="572.95" stroke="#444" stroke-width="0.9"/>
<line x1="281.3" y1="572.95" x2="284.3" y2="572.95" stroke="#444" stroke-width="0.9"/>
<line x1="281.3" y1="581.65" x2="284.3" y2="581.65" stroke="#444" stroke-width="0.9"/>
<rect x="280.9" y="575.4" width="3.8" height="3.8" fill="#ff3030"/>
<line x1="307.6" y1="597.31" x2="307.6" y2="594.7" stroke="#444" stroke-width="0.9"/>
<line x1="306.1" y1="594.7" x2="309.1" y2="594.7" stroke="#444" stroke-width="0.9"/>
<line x1="306.1" y1="597.31" x2="309.1" y2="597.31" stroke="#444" stroke-width="0.9"/>
<rect x="305.7" y="594.1" width="3.8" height="3.8" fill="#ff3030"/>
<text x="217.6" y="566.6" font-size="7.2" fill="#333"><tspan font-style="italic">P</tspan>=0.0139</text>
<text x="243.1" y="584.8" font-size="7.2" fill="#333"><tspan font-style="italic">P</tspan>=0.0022</text>
<text x="267.2" y="592.6" font-size="7.2" fill="#333"><tspan font-style="italic">P</tspan>=0.0021</text>
<text x="292" y="606.8" font-size="7.2" fill="#333"><tspan font-style="italic">P</tspan>=0.0009</text>
<line x1="176.3" y1="503.3" x2="187.9" y2="503.3" stroke="#3232cc" stroke-width="1.5"/>
<circle cx="182.1" cy="503.3" r="1.9" fill="#3232cc"/>
<line x1="176.3" y1="513.1" x2="187.9" y2="513.1" stroke="#ff3030" stroke-width="1.5"/>
<rect x="180.2" y="511.2" width="3.8" height="3.8" fill="#ff3030"/>
<text x="194" y="506.2" font-size="8.6" font-weight="bold">Non-senescent HepG2</text>
<text x="194" y="516" font-size="8.6" font-weight="bold">Senescent&#160; HepG2</text>
<text transform="translate(145.6,571) rotate(-90)" font-size="8.7" font-weight="bold" text-anchor="middle">Cell survival (%)</text>
<text x="246" y="652" font-size="8.6" font-weight="bold" text-anchor="middle">HK-PCGC (&#956;M)</text>
<text x="381.2" y="508.6" font-size="18.2" font-weight="bold">I</text>
<line x1="407.9" y1="518.2" x2="407.9" y2="623.7" stroke="#000" stroke-width="1.3"/>
<line x1="403.9" y1="623.1" x2="407.9" y2="623.1" stroke="#000" stroke-width="1.2"/>
<text x="402.7" y="625.9" font-size="7.7" font-weight="bold" text-anchor="end">0</text>
<line x1="403.9" y1="605.7" x2="407.9" y2="605.7" stroke="#000" stroke-width="1.2"/>
<text x="402.7" y="608.5" font-size="7.7" font-weight="bold" text-anchor="end">20</text>
<line x1="403.9" y1="588.3" x2="407.9" y2="588.3" stroke="#000" stroke-width="1.2"/>
<text x="402.7" y="591.1" font-size="7.7" font-weight="bold" text-anchor="end">40</text>
<line x1="403.9" y1="570.9" x2="407.9" y2="570.9" stroke="#000" stroke-width="1.2"/>
<text x="402.7" y="573.7" font-size="7.7" font-weight="bold" text-anchor="end">60</text>
<line x1="403.9" y1="553.5" x2="407.9" y2="553.5" stroke="#000" stroke-width="1.2"/>
<text x="402.7" y="556.3" font-size="7.7" font-weight="bold" text-anchor="end">80</text>
<line x1="403.9" y1="536.1" x2="407.9" y2="536.1" stroke="#000" stroke-width="1.2"/>
<text x="402.7" y="538.9" font-size="7.7" font-weight="bold" text-anchor="end">100</text>
<line x1="403.9" y1="518.7" x2="407.9" y2="518.7" stroke="#000" stroke-width="1.2"/>
<text x="402.7" y="521.5" font-size="7.7" font-weight="bold" text-anchor="end">120</text>
<line x1="407.3" y1="623.1" x2="565" y2="623.1" stroke="#000" stroke-width="1.4"/>
<line x1="424" y1="623.1" x2="424" y2="626.5" stroke="#000" stroke-width="1.2"/>
<text x="424" y="636.1" font-size="8" font-weight="bold" text-anchor="middle">0</text>
<line x1="448.8" y1="623.1" x2="448.8" y2="626.5" stroke="#000" stroke-width="1.2"/>
<text x="448.8" y="636.1" font-size="8" font-weight="bold" text-anchor="middle">2.5</text>
<line x1="473.6" y1="623.1" x2="473.6" y2="626.5" stroke="#000" stroke-width="1.2"/>
<text x="473.6" y="636.1" font-size="8" font-weight="bold" text-anchor="middle">5</text>
<line x1="498.4" y1="623.1" x2="498.4" y2="626.5" stroke="#000" stroke-width="1.2"/>
<text x="498.4" y="636.1" font-size="8" font-weight="bold" text-anchor="middle">7.5</text>
<line x1="523.2" y1="623.1" x2="523.2" y2="626.5" stroke="#000" stroke-width="1.2"/>
<text x="523.2" y="636.1" font-size="8" font-weight="bold" text-anchor="middle">10</text>
<line x1="548" y1="623.1" x2="548" y2="626.5" stroke="#000" stroke-width="1.2"/>
<text x="548" y="636.1" font-size="8" font-weight="bold" text-anchor="middle">15</text>
<path d="M424 536.1 L448.8 535.23 L473.6 540.1 L498.4 533.93 L523.2 536.36 L548 538.36" fill="none" stroke="#3232cc" stroke-width="1.5"/>
<line x1="424" y1="536.54" x2="424" y2="535.66" stroke="#444" stroke-width="0.9"/>
<line x1="422.5" y1="535.66" x2="425.5" y2="535.66" stroke="#444" stroke-width="0.9"/>
<line x1="422.5" y1="536.54" x2="425.5" y2="536.54" stroke="#444" stroke-width="0.9"/>
<circle cx="424" cy="536.1" r="1.9" fill="#3232cc"/>
<line x1="448.8" y1="540.01" x2="448.8" y2="530.45" stroke="#444" stroke-width="0.9"/>
<line x1="447.3" y1="530.45" x2="450.3" y2="530.45" stroke="#444" stroke-width="0.9"/>
<line x1="447.3" y1="540.01" x2="450.3" y2="540.01" stroke="#444" stroke-width="0.9"/>
<circle cx="448.8" cy="535.23" r="1.9" fill="#3232cc"/>
<line x1="473.6" y1="544.02" x2="473.6" y2="536.19" stroke="#444" stroke-width="0.9"/>
<line x1="472.1" y1="536.19" x2="475.1" y2="536.19" stroke="#444" stroke-width="0.9"/>
<line x1="472.1" y1="544.02" x2="475.1" y2="544.02" stroke="#444" stroke-width="0.9"/>
<circle cx="473.6" cy="540.1" r="1.9" fill="#3232cc"/>
<line x1="498.4" y1="536.1" x2="498.4" y2="531.75" stroke="#444" stroke-width="0.9"/>
<line x1="496.9" y1="531.75" x2="499.9" y2="531.75" stroke="#444" stroke-width="0.9"/>
<line x1="496.9" y1="536.1" x2="499.9" y2="536.1" stroke="#444" stroke-width="0.9"/>
<circle cx="498.4" cy="533.93" r="1.9" fill="#3232cc"/>
<line x1="523.2" y1="541.58" x2="523.2" y2="531.14" stroke="#444" stroke-width="0.9"/>
<line x1="521.7" y1="531.14" x2="524.7" y2="531.14" stroke="#444" stroke-width="0.9"/>
<line x1="521.7" y1="541.58" x2="524.7" y2="541.58" stroke="#444" stroke-width="0.9"/>
<circle cx="523.2" cy="536.36" r="1.9" fill="#3232cc"/>
<line x1="548" y1="547.5" x2="548" y2="529.23" stroke="#444" stroke-width="0.9"/>
<line x1="546.5" y1="529.23" x2="549.5" y2="529.23" stroke="#444" stroke-width="0.9"/>
<line x1="546.5" y1="547.5" x2="549.5" y2="547.5" stroke="#444" stroke-width="0.9"/>
<circle cx="548" cy="538.36" r="1.9" fill="#3232cc"/>
<path d="M424 536.1 L448.8 544.8 L473.6 576.99 L498.4 592.04 L523.2 611.09 L548 612.14" fill="none" stroke="#ff3030" stroke-width="1.5"/>
<line x1="424" y1="536.54" x2="424" y2="535.66" stroke="#444" stroke-width="0.9"/>
<line x1="422.5" y1="535.66" x2="425.5" y2="535.66" stroke="#444" stroke-width="0.9"/>
<line x1="422.5" y1="536.54" x2="425.5" y2="536.54" stroke="#444" stroke-width="0.9"/>
<rect x="422.1" y="534.2" width="3.8" height="3.8" fill="#ff3030"/>
<line x1="448.8" y1="545.67" x2="448.8" y2="543.93" stroke="#444" stroke-width="0.9"/>
<line x1="447.3" y1="543.93" x2="450.3" y2="543.93" stroke="#444" stroke-width="0.9"/>
<line x1="447.3" y1="545.67" x2="450.3" y2="545.67" stroke="#444" stroke-width="0.9"/>
<rect x="446.9" y="542.9" width="3.8" height="3.8" fill="#ff3030"/>
<line x1="473.6" y1="584.82" x2="473.6" y2="569.16" stroke="#444" stroke-width="0.9"/>
<line x1="472.1" y1="569.16" x2="475.1" y2="569.16" stroke="#444" stroke-width="0.9"/>
<line x1="472.1" y1="584.82" x2="475.1" y2="584.82" stroke="#444" stroke-width="0.9"/>
<rect x="471.7" y="575.09" width="3.8" height="3.8" fill="#ff3030"/>
<line x1="498.4" y1="592.91" x2="498.4" y2="591.17" stroke="#444" stroke-width="0.9"/>
<line x1="496.9" y1="591.17" x2="499.9" y2="591.17" stroke="#444" stroke-width="0.9"/>
<line x1="496.9" y1="592.91" x2="499.9" y2="592.91" stroke="#444" stroke-width="0.9"/>
<rect x="496.5" y="590.14" width="3.8" height="3.8" fill="#ff3030"/>
<line x1="523.2" y1="611.96" x2="523.2" y2="610.22" stroke="#444" stroke-width="0.9"/>
<line x1="521.7" y1="610.22" x2="524.7" y2="610.22" stroke="#444" stroke-width="0.9"/>
<line x1="521.7" y1="611.96" x2="524.7" y2="611.96" stroke="#444" stroke-width="0.9"/>
<rect x="521.3" y="609.19" width="3.8" height="3.8" fill="#ff3030"/>
<line x1="548" y1="612.57" x2="548" y2="611.7" stroke="#444" stroke-width="0.9"/>
<line x1="546.5" y1="611.7" x2="549.5" y2="611.7" stroke="#444" stroke-width="0.9"/>
<line x1="546.5" y1="612.57" x2="549.5" y2="612.57" stroke="#444" stroke-width="0.9"/>
<rect x="546.1" y="610.24" width="3.8" height="3.8" fill="#ff3030"/>
<text x="458.1" y="590.8" font-size="7.2" fill="#333"><tspan font-style="italic">P</tspan>=0.0138</text>
<text x="484" y="601" font-size="7.2" fill="#333"><tspan font-style="italic">P</tspan>&lt;0.0001</text>
<text x="503.5" y="618.4" font-size="7.2" fill="#333"><tspan font-style="italic">P</tspan>=0.0001</text>
<text x="535.3" y="620.4" font-size="7.2" fill="#333"><tspan font-style="italic">P</tspan>=0.0014</text>
<line x1="416" y1="503.3" x2="427.4" y2="503.3" stroke="#3232cc" stroke-width="1.5"/>
<circle cx="421.7" cy="503.3" r="1.9" fill="#3232cc"/>
<line x1="416" y1="512.5" x2="427.4" y2="512.5" stroke="#ff3030" stroke-width="1.5"/>
<rect x="419.8" y="510.6" width="3.8" height="3.8" fill="#ff3030"/>
<text x="433.8" y="506.3" font-size="8.6" font-weight="bold">Non-senescent NIH-3T3</text>
<text x="433.8" y="515.8" font-size="8.6" font-weight="bold">Senescent&#160; NIH-3T3</text>
<text transform="translate(385.6,571) rotate(-90)" font-size="8.7" font-weight="bold" text-anchor="middle">Cell survival (%)</text>
<text x="486.5" y="652" font-size="8.6" font-weight="bold" text-anchor="middle">HK-PCGC (&#956;M)</text>
</svg></body></html>
